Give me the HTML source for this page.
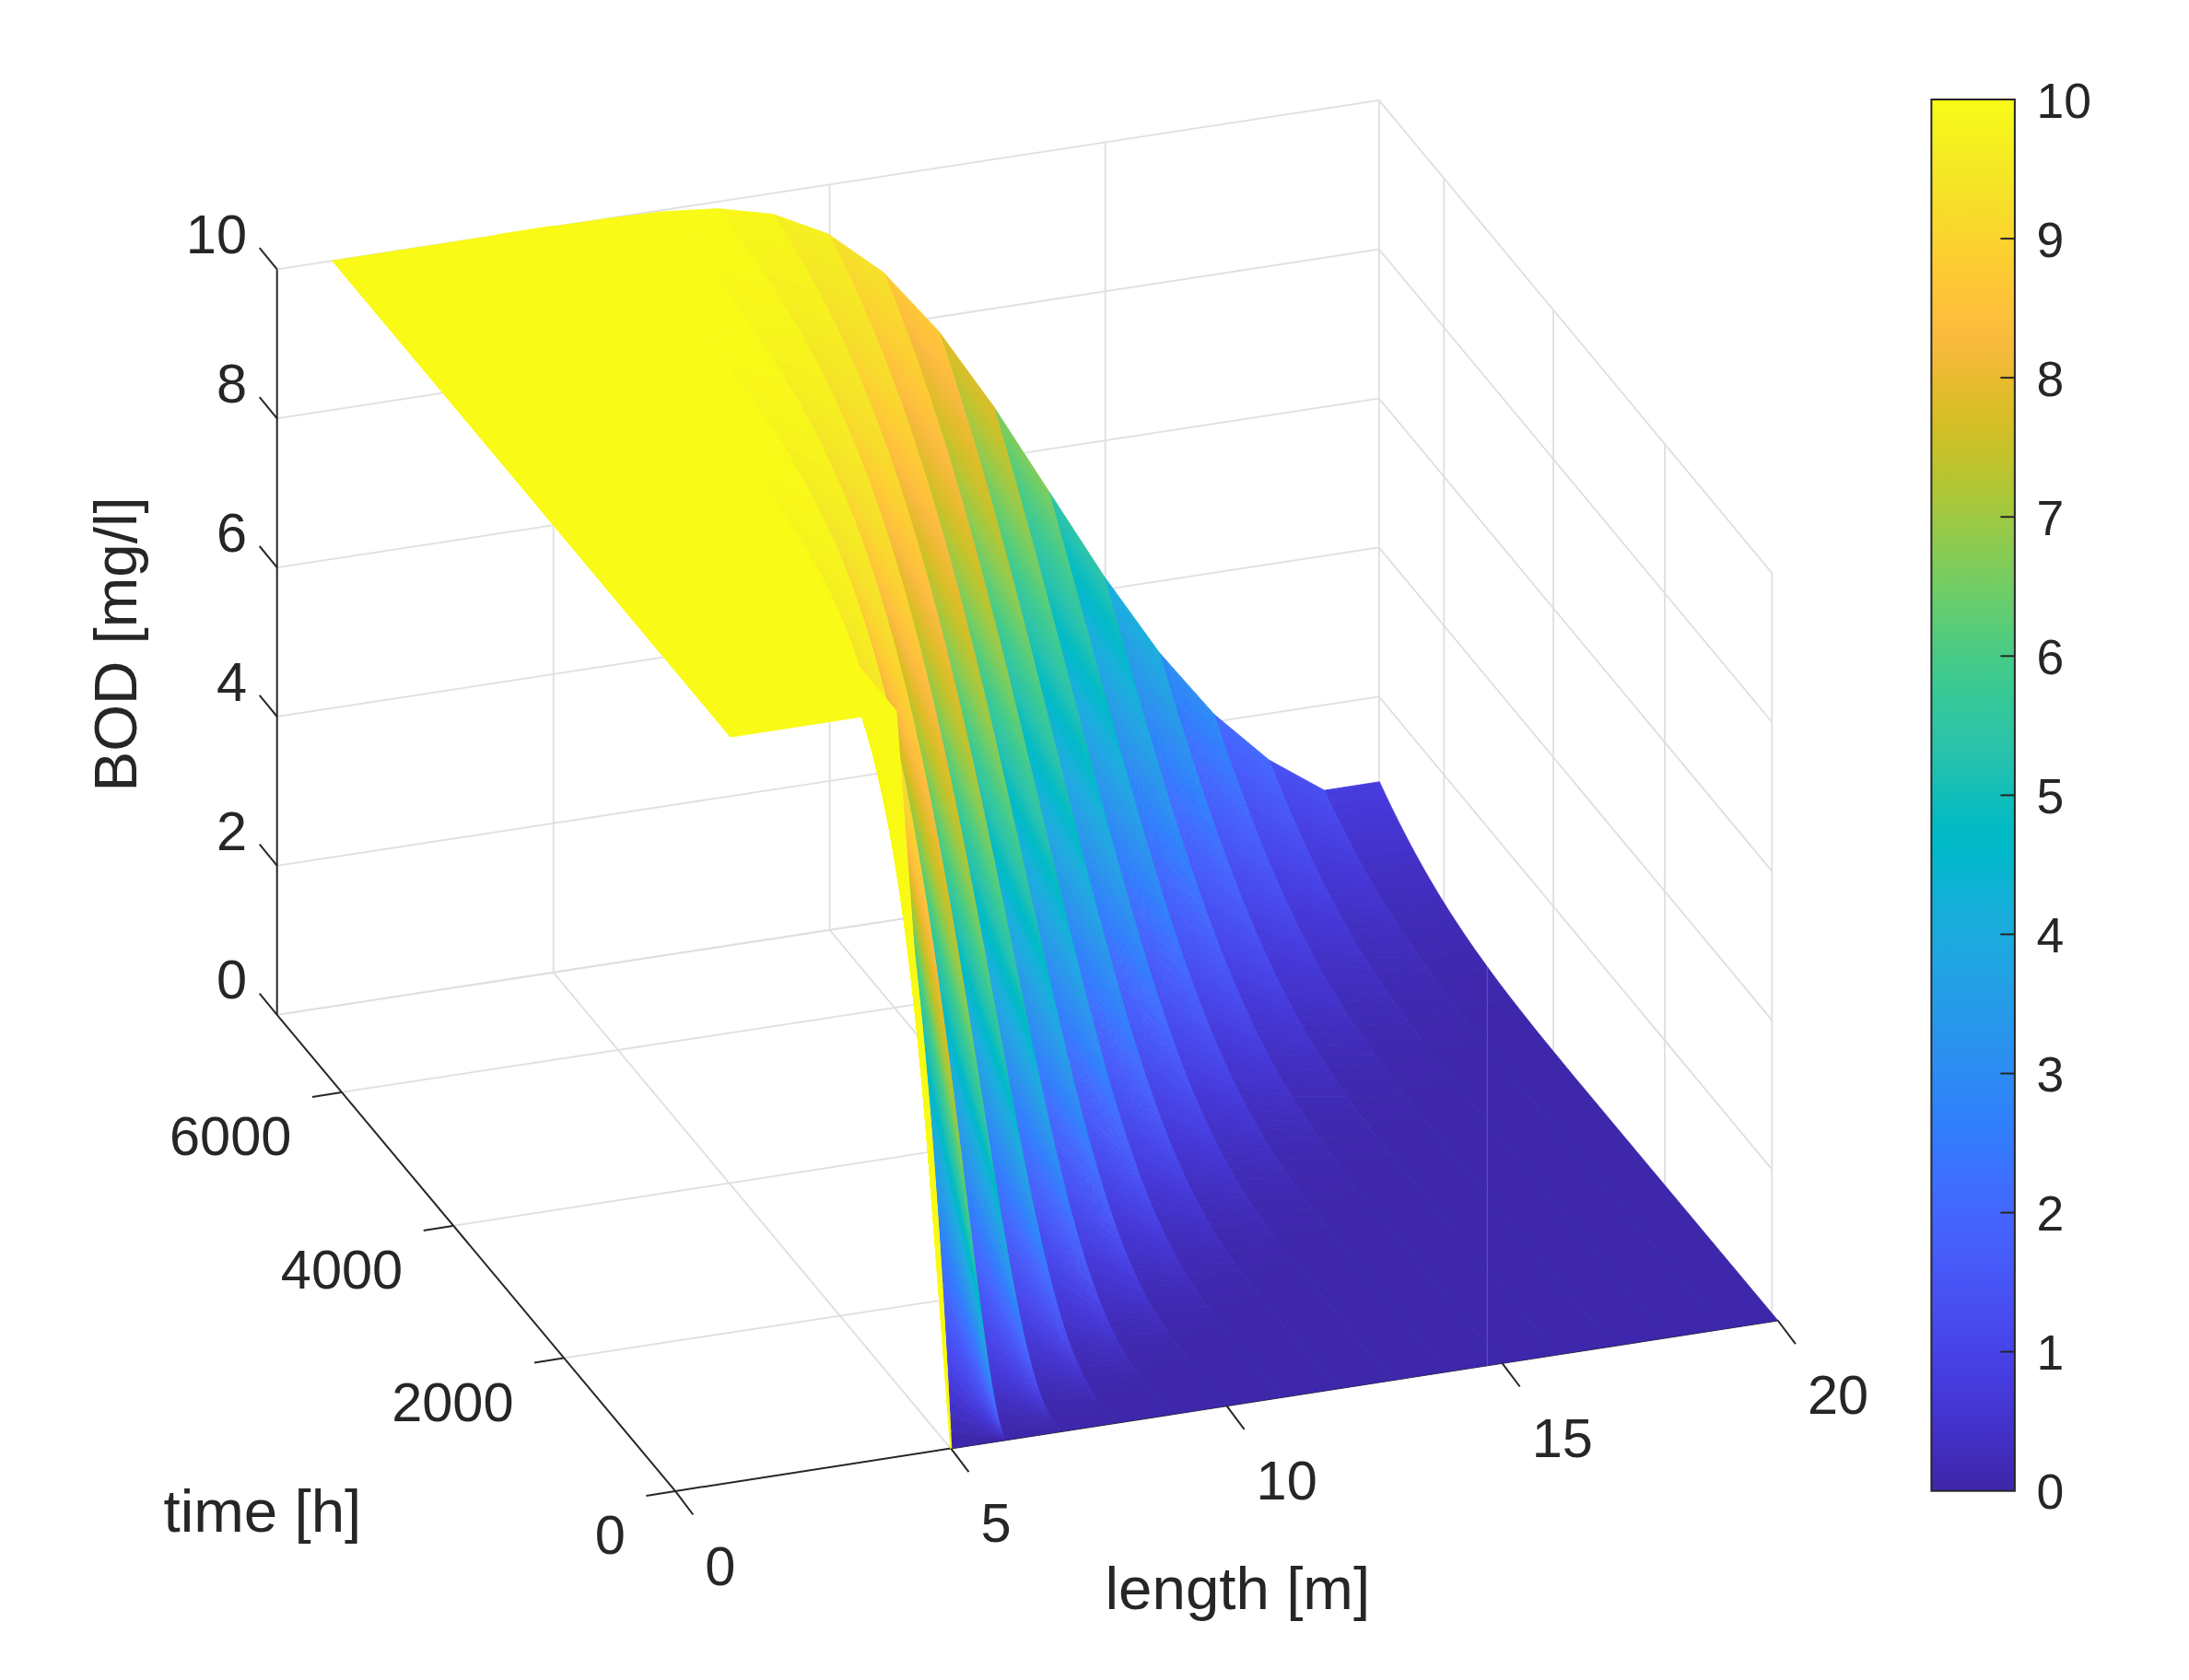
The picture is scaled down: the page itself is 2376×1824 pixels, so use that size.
<!DOCTYPE html>
<html><head><meta charset="utf-8"><title>BOD surface</title>
<style>
html,body{margin:0;padding:0;background:#fff;overflow:hidden;}
svg{display:block;}
text{font-family:"Liberation Sans",Arial,Helvetica,sans-serif;fill:#262626;}
</style></head><body>
<svg width="2376" height="1824" viewBox="0 0 2376 1824">
<rect width="2376" height="1824" fill="#fff"/>
<g stroke-linecap="butt"><line x1="1031.7" y1="1572.4" x2="600.7" y2="1055.8" stroke="#dfdfdf" stroke-width="1.8"/>
<line x1="1330.3" y1="1525.9" x2="900.6" y2="1009.7" stroke="#dfdfdf" stroke-width="1.8"/>
<line x1="1628.9" y1="1479.4" x2="1199.6" y2="963.8" stroke="#dfdfdf" stroke-width="1.8"/>
<line x1="1923.3" y1="1431.5" x2="1496.8" y2="918.2" stroke="#dfdfdf" stroke-width="1.8"/>
<line x1="611.6" y1="1474.5" x2="1807.0" y2="1291.5" stroke="#dfdfdf" stroke-width="1.8"/>
<line x1="491.3" y1="1331.0" x2="1686.0" y2="1145.9" stroke="#dfdfdf" stroke-width="1.8"/>
<line x1="370.5" y1="1185.9" x2="1567.3" y2="1003.0" stroke="#dfdfdf" stroke-width="1.8"/>
<line x1="300.7" y1="1101.8" x2="1496.8" y2="918.2" stroke="#dfdfdf" stroke-width="1.8"/>
<line x1="600.7" y1="246.4" x2="600.7" y2="1055.8" stroke="#dfdfdf" stroke-width="1.8"/>
<line x1="900.6" y1="200.3" x2="900.6" y2="1009.7" stroke="#dfdfdf" stroke-width="1.8"/>
<line x1="1199.6" y1="154.4" x2="1199.6" y2="963.8" stroke="#dfdfdf" stroke-width="1.8"/>
<line x1="1496.8" y1="108.8" x2="1496.8" y2="918.2" stroke="#dfdfdf" stroke-width="1.8"/>
<line x1="300.7" y1="292.4" x2="1496.8" y2="108.8" stroke="#dfdfdf" stroke-width="1.8"/>
<line x1="300.7" y1="454.3" x2="1496.8" y2="270.7" stroke="#dfdfdf" stroke-width="1.8"/>
<line x1="300.7" y1="616.2" x2="1496.8" y2="432.6" stroke="#dfdfdf" stroke-width="1.8"/>
<line x1="300.7" y1="778.0" x2="1496.8" y2="594.4" stroke="#dfdfdf" stroke-width="1.8"/>
<line x1="300.7" y1="939.9" x2="1496.8" y2="756.3" stroke="#dfdfdf" stroke-width="1.8"/>
<line x1="300.7" y1="1101.8" x2="1496.8" y2="918.2" stroke="#dfdfdf" stroke-width="1.8"/>
<line x1="1496.8" y1="108.8" x2="1923.3" y2="622.1" stroke="#dfdfdf" stroke-width="1.8"/>
<line x1="1496.8" y1="270.7" x2="1923.3" y2="784.0" stroke="#dfdfdf" stroke-width="1.8"/>
<line x1="1496.8" y1="432.6" x2="1923.3" y2="945.9" stroke="#dfdfdf" stroke-width="1.8"/>
<line x1="1496.8" y1="594.4" x2="1923.3" y2="1107.7" stroke="#dfdfdf" stroke-width="1.8"/>
<line x1="1496.8" y1="756.3" x2="1923.3" y2="1269.6" stroke="#dfdfdf" stroke-width="1.8"/>
<line x1="1496.8" y1="918.2" x2="1923.3" y2="1431.5" stroke="#dfdfdf" stroke-width="1.8"/>
<line x1="1567.3" y1="193.6" x2="1567.3" y2="1003.0" stroke="#dfdfdf" stroke-width="1.8"/>
<line x1="1686.0" y1="336.5" x2="1686.0" y2="1145.9" stroke="#dfdfdf" stroke-width="1.8"/>
<line x1="1807.0" y1="482.1" x2="1807.0" y2="1291.5" stroke="#dfdfdf" stroke-width="1.8"/>
<line x1="1923.3" y1="622.1" x2="1923.3" y2="1431.5" stroke="#dfdfdf" stroke-width="1.8"/></g>
<g><line x1="733.0" y1="1618.9" x2="1929.6" y2="1433.5" stroke="#262626" stroke-width="2.0"/>
<line x1="733.0" y1="1618.9" x2="300.7" y2="1101.8" stroke="#262626" stroke-width="2.0"/>
<line x1="300.7" y1="1101.8" x2="300.7" y2="292.4" stroke="#262626" stroke-width="2.0"/></g>
<g stroke-width="0.8" stroke-linejoin="round">
<polygon fill="#463de0" stroke="#463de0" points="1438.4,860.1 1437.5,858.1 1497.3,848.8 1498.2,850.8"/>
<polygon fill="#463cde" stroke="#463cde" points="1442.0,867.8 1438.4,860.1 1498.2,850.8 1501.8,858.5"/>
<polygon fill="#463bdc" stroke="#463bdc" points="1444.7,873.5 1442.0,867.8 1501.8,858.5 1504.5,864.3"/>
<polygon fill="#4639da" stroke="#4639da" points="1448.3,881.1 1444.7,873.5 1504.5,864.3 1508.1,871.8"/>
<polygon fill="#4538d8" stroke="#4538d8" points="1451.9,888.5 1448.3,881.1 1508.1,871.8 1511.7,879.2"/>
<polygon fill="#4537d6" stroke="#4537d6" points="1456.4,897.6 1451.9,888.5 1511.7,879.2 1516.2,888.3"/>
<polygon fill="#4536d3" stroke="#4536d3" points="1460.0,904.7 1456.4,897.6 1516.2,888.3 1519.8,895.5"/>
<polygon fill="#4435d1" stroke="#4435d1" points="1464.5,913.5 1460.0,904.7 1519.8,895.5 1524.3,904.3"/>
<polygon fill="#4434ce" stroke="#4434ce" points="1469.0,922.2 1464.5,913.5 1524.3,904.3 1528.8,912.9"/>
<polygon fill="#4433cc" stroke="#4433cc" points="1473.5,930.6 1469.0,922.2 1528.8,912.9 1533.3,921.4"/>
<polygon fill="#4332c9" stroke="#4332c9" points="1478.0,938.9 1473.5,930.6 1533.3,921.4 1537.8,929.6"/>
<polygon fill="#4331c6" stroke="#4331c6" points="1483.4,948.7 1478.0,938.9 1537.8,929.6 1543.2,939.4"/>
<polygon fill="#4230c3" stroke="#4230c3" points="1488.8,958.2 1483.4,948.7 1543.2,939.4 1548.6,948.9"/>
<polygon fill="#422fc1" stroke="#422fc1" points="1495.1,969.0 1488.8,958.2 1548.6,948.9 1554.9,959.7"/>
<polygon fill="#412ebe" stroke="#412ebe" points="1502.3,981.0 1495.1,969.0 1554.9,959.7 1562.1,971.8"/>
<polygon fill="#412dbb" stroke="#412dbb" points="1509.5,992.7 1502.3,981.0 1562.1,971.8 1569.3,983.4"/>
<polygon fill="#412cb8" stroke="#412cb8" points="1517.6,1005.5 1509.5,992.7 1569.3,983.4 1577.5,996.2"/>
<polygon fill="#402bb6" stroke="#402bb6" points="1527.5,1020.5 1517.6,1005.5 1577.5,996.2 1587.4,1011.3"/>
<polygon fill="#402ab3" stroke="#402ab3" points="1540.1,1039.0 1527.5,1020.5 1587.4,1011.3 1600.0,1029.7"/>
<polygon fill="#3f29b0" stroke="#3f29b0" points="1555.5,1060.4 1540.1,1039.0 1600.0,1029.7 1615.3,1051.1"/>
<polygon fill="#3f28ad" stroke="#3f28ad" points="1579.8,1092.7 1567.2,1076.2 1555.5,1060.4 1615.3,1051.1 1627.0,1066.9 1639.6,1083.4"/>
<polygon fill="#3e27aa" stroke="#3e27aa" points="1869.8,1442.8 1696.8,1235.9 1648.2,1177.5 1627.5,1152.4 1609.5,1130.3 1594.2,1111.1 1579.8,1092.7 1639.6,1083.4 1654.0,1101.8 1669.3,1121.0 1687.3,1143.1 1708.0,1168.2 1756.7,1226.6 1929.6,1433.5"/>
<polygon fill="#484ff2" stroke="#484ff2" points="1378.5,827.5 1377.6,825.2 1437.5,858.1 1438.4,860.1"/>
<polygon fill="#484ef1" stroke="#484ef1" points="1381.2,834.4 1378.5,827.5 1438.4,860.1 1441.1,865.9"/>
<polygon fill="#484df0" stroke="#484df0" points="1383.9,841.2 1381.2,834.4 1441.1,865.9 1443.8,871.6"/>
<polygon fill="#484bef" stroke="#484bef" points="1385.7,845.7 1383.9,841.2 1443.8,871.6 1445.6,875.4"/>
<polygon fill="#484aee" stroke="#484aee" points="1388.4,852.4 1385.7,845.7 1445.6,875.4 1448.3,881.1"/>
<polygon fill="#4848ec" stroke="#4848ec" points="1391.1,859.0 1388.4,852.4 1448.3,881.1 1451.0,886.6"/>
<polygon fill="#4747eb" stroke="#4747eb" points="1393.9,865.5 1391.1,859.0 1451.0,886.6 1453.7,892.1"/>
<polygon fill="#4746ea" stroke="#4746ea" points="1396.6,872.0 1393.9,865.5 1453.7,892.1 1456.4,897.6"/>
<polygon fill="#4744e8" stroke="#4744e8" points="1399.3,878.3 1396.6,872.0 1456.4,897.6 1459.1,903.0"/>
<polygon fill="#4743e7" stroke="#4743e7" points="1402.0,884.7 1399.3,878.3 1459.1,903.0 1461.8,908.3"/>
<polygon fill="#4741e5" stroke="#4741e5" points="1404.7,890.9 1402.0,884.7 1461.8,908.3 1464.5,913.5"/>
<polygon fill="#4740e4" stroke="#4740e4" points="1407.4,897.1 1404.7,890.9 1464.5,913.5 1467.2,918.7"/>
<polygon fill="#473fe2" stroke="#473fe2" points="1411.0,905.2 1407.4,897.1 1467.2,918.7 1470.8,925.6"/>
<polygon fill="#463de0" stroke="#463de0" points="1413.7,911.2 1411.0,905.2 1470.8,925.6 1473.5,930.6"/>
<polygon fill="#463cde" stroke="#463cde" points="1417.3,919.1 1413.7,911.2 1473.5,930.6 1477.1,937.3"/>
<polygon fill="#463bdc" stroke="#463bdc" points="1420.0,924.9 1417.3,919.1 1477.1,937.3 1479.8,942.2"/>
<polygon fill="#4639da" stroke="#4639da" points="1423.6,932.6 1420.0,924.9 1479.8,942.2 1483.4,948.7"/>
<polygon fill="#4538d8" stroke="#4538d8" points="1427.2,940.2 1423.6,932.6 1483.4,948.7 1487.0,955.0"/>
<polygon fill="#4537d6" stroke="#4537d6" points="1430.8,947.6 1427.2,940.2 1487.0,955.0 1490.6,961.3"/>
<polygon fill="#4536d3" stroke="#4536d3" points="1434.4,954.9 1430.8,947.6 1490.6,961.3 1494.2,967.5"/>
<polygon fill="#4435d1" stroke="#4435d1" points="1438.9,963.9 1434.4,954.9 1494.2,967.5 1498.7,975.1"/>
<polygon fill="#4434ce" stroke="#4434ce" points="1442.5,970.9 1438.9,963.9 1498.7,975.1 1502.3,981.0"/>
<polygon fill="#4433cc" stroke="#4433cc" points="1447.0,979.5 1442.5,970.9 1502.3,981.0 1506.8,988.4"/>
<polygon fill="#4332c9" stroke="#4332c9" points="1451.5,988.0 1447.0,979.5 1506.8,988.4 1511.3,995.6"/>
<polygon fill="#4331c6" stroke="#4331c6" points="1456.9,997.9 1451.5,988.0 1511.3,995.6 1516.7,1004.1"/>
<polygon fill="#4230c3" stroke="#4230c3" points="1462.3,1007.5 1456.9,997.9 1516.7,1004.1 1522.1,1012.4"/>
<polygon fill="#422fc1" stroke="#422fc1" points="1467.7,1016.9 1462.3,1007.5 1522.1,1012.4 1527.5,1020.5"/>
<polygon fill="#412ebe" stroke="#412ebe" points="1474.0,1027.7 1467.7,1016.9 1527.5,1020.5 1533.8,1029.9"/>
<polygon fill="#412dbb" stroke="#412dbb" points="1481.2,1039.5 1474.0,1027.7 1533.8,1029.9 1541.0,1040.3"/>
<polygon fill="#412cb8" stroke="#412cb8" points="1489.3,1052.5 1481.2,1039.5 1541.0,1040.3 1549.1,1051.7"/>
<polygon fill="#402bb6" stroke="#402bb6" points="1499.2,1067.7 1489.3,1052.5 1549.1,1051.7 1559.1,1065.3"/>
<polygon fill="#402ab3" stroke="#402ab3" points="1510.0,1083.6 1499.2,1067.7 1559.1,1065.3 1569.9,1079.8"/>
<polygon fill="#3f29b0" stroke="#3f29b0" points="1525.3,1105.2 1510.0,1083.6 1569.9,1079.8 1585.2,1099.7"/>
<polygon fill="#3f28ad" stroke="#3f28ad" points="1547.9,1135.3 1536.2,1119.9 1525.3,1105.2 1585.2,1099.7 1607.7,1128.0"/>
<polygon fill="#3e27aa" stroke="#3e27aa" points="1809.9,1452.0 1656.8,1268.9 1611.8,1214.8 1592.0,1190.7 1575.8,1170.8 1561.4,1152.7 1547.9,1135.3 1607.7,1128.0 1633.8,1160.1 1668.0,1201.4 1869.8,1442.8"/>
<polygon fill="#4369fe" stroke="#4369fe" points="1319.6,780.8 1317.8,775.5 1377.6,825.2 1379.4,829.8"/>
<polygon fill="#4367fd" stroke="#4367fd" points="1321.4,786.1 1319.6,780.8 1379.4,829.8 1381.2,834.4"/>
<polygon fill="#4466fd" stroke="#4466fd" points="1323.2,791.4 1321.4,786.1 1381.2,834.4 1383.0,838.9"/>
<polygon fill="#4464fd" stroke="#4464fd" points="1325.0,796.7 1323.2,791.4 1383.0,838.9 1384.8,843.4"/>
<polygon fill="#4563fc" stroke="#4563fc" points="1326.8,801.9 1325.0,796.7 1384.8,843.4 1386.6,847.9"/>
<polygon fill="#4561fc" stroke="#4561fc" points="1328.6,807.1 1326.8,801.9 1386.6,847.9 1388.4,852.4"/>
<polygon fill="#4660fc" stroke="#4660fc" points="1331.3,814.8 1328.6,807.1 1388.4,852.4 1391.1,859.0"/>
<polygon fill="#465ffb" stroke="#465ffb" points="1333.1,820.0 1331.3,814.8 1391.1,859.0 1393.0,863.3"/>
<polygon fill="#465dfb" stroke="#465dfb" points="1334.9,825.1 1333.1,820.0 1393.0,863.3 1394.8,867.7"/>
<polygon fill="#475cfa" stroke="#475cfa" points="1336.7,830.1 1334.9,825.1 1394.8,867.7 1396.6,872.0"/>
<polygon fill="#475af9" stroke="#475af9" points="1338.5,835.2 1336.7,830.1 1396.6,872.0 1398.4,876.2"/>
<polygon fill="#4759f8" stroke="#4759f8" points="1340.3,840.2 1338.5,835.2 1398.4,876.2 1400.2,880.5"/>
<polygon fill="#4758f8" stroke="#4758f8" points="1343.0,847.6 1340.3,840.2 1400.2,880.5 1402.9,886.8"/>
<polygon fill="#4756f7" stroke="#4756f7" points="1344.8,852.5 1343.0,847.6 1402.9,886.8 1404.7,890.9"/>
<polygon fill="#4755f6" stroke="#4755f6" points="1346.6,857.4 1344.8,852.5 1404.7,890.9 1406.5,895.0"/>
<polygon fill="#4854f5" stroke="#4854f5" points="1349.3,864.7 1346.6,857.4 1406.5,895.0 1409.2,901.2"/>
<polygon fill="#4852f4" stroke="#4852f4" points="1351.1,869.5 1349.3,864.7 1409.2,901.2 1411.0,905.2"/>
<polygon fill="#4851f3" stroke="#4851f3" points="1352.9,874.3 1351.1,869.5 1411.0,905.2 1412.8,909.2"/>
<polygon fill="#484ff2" stroke="#484ff2" points="1355.6,881.4 1352.9,874.3 1412.8,909.2 1415.5,915.2"/>
<polygon fill="#484ef1" stroke="#484ef1" points="1357.4,886.1 1355.6,881.4 1415.5,915.2 1417.3,919.1"/>
<polygon fill="#484df0" stroke="#484df0" points="1360.1,893.1 1357.4,886.1 1417.3,919.1 1420.0,924.9"/>
<polygon fill="#484bef" stroke="#484bef" points="1362.8,900.0 1360.1,893.1 1420.0,924.9 1422.7,930.7"/>
<polygon fill="#484aee" stroke="#484aee" points="1364.6,904.5 1362.8,900.0 1422.7,930.7 1424.5,934.5"/>
<polygon fill="#4848ec" stroke="#4848ec" points="1367.3,911.3 1364.6,904.5 1424.5,934.5 1427.2,940.2"/>
<polygon fill="#4747eb" stroke="#4747eb" points="1370.0,918.0 1367.3,911.3 1427.2,940.2 1429.9,945.8"/>
<polygon fill="#4746ea" stroke="#4746ea" points="1371.8,922.4 1370.0,918.0 1429.9,945.8 1431.7,949.4"/>
<polygon fill="#4744e8" stroke="#4744e8" points="1374.5,929.0 1371.8,922.4 1431.7,949.4 1434.4,954.9"/>
<polygon fill="#4743e7" stroke="#4743e7" points="1377.3,935.5 1374.5,929.0 1434.4,954.9 1437.1,960.3"/>
<polygon fill="#4741e5" stroke="#4741e5" points="1380.0,941.9 1377.3,935.5 1437.1,960.3 1439.8,965.6"/>
<polygon fill="#4740e4" stroke="#4740e4" points="1382.7,948.2 1380.0,941.9 1439.8,965.6 1442.5,970.9"/>
<polygon fill="#473fe2" stroke="#473fe2" points="1386.3,956.5 1382.7,948.2 1442.5,970.9 1446.1,977.8"/>
<polygon fill="#463de0" stroke="#463de0" points="1389.0,962.6 1386.3,956.5 1446.1,977.8 1448.8,982.9"/>
<polygon fill="#463cde" stroke="#463cde" points="1391.7,968.7 1389.0,962.6 1448.8,982.9 1451.5,988.0"/>
<polygon fill="#463bdc" stroke="#463bdc" points="1395.3,976.7 1391.7,968.7 1451.5,988.0 1455.1,994.6"/>
<polygon fill="#4639da" stroke="#4639da" points="1398.0,982.6 1395.3,976.7 1455.1,994.6 1457.8,999.5"/>
<polygon fill="#4538d8" stroke="#4538d8" points="1401.6,990.3 1398.0,982.6 1457.8,999.5 1461.4,1005.9"/>
<polygon fill="#4537d6" stroke="#4537d6" points="1405.2,997.9 1401.6,990.3 1461.4,1005.9 1465.0,1012.3"/>
<polygon fill="#4536d3" stroke="#4536d3" points="1408.8,1005.3 1405.2,997.9 1465.0,1012.3 1468.6,1018.5"/>
<polygon fill="#4435d1" stroke="#4435d1" points="1412.4,1012.7 1408.8,1005.3 1468.6,1018.5 1472.2,1024.6"/>
<polygon fill="#4434ce" stroke="#4434ce" points="1416.0,1019.8 1412.4,1012.7 1472.2,1024.6 1475.8,1030.7"/>
<polygon fill="#4433cc" stroke="#4433cc" points="1420.5,1028.6 1416.0,1019.8 1475.8,1030.7 1480.3,1038.1"/>
<polygon fill="#4332c9" stroke="#4332c9" points="1425.0,1037.3 1420.5,1028.6 1480.3,1038.1 1484.8,1045.3"/>
<polygon fill="#4331c6" stroke="#4331c6" points="1429.5,1045.7 1425.0,1037.3 1484.8,1045.3 1489.3,1052.5"/>
<polygon fill="#4230c3" stroke="#4230c3" points="1434.9,1055.5 1429.5,1045.7 1489.3,1052.5 1494.7,1060.8"/>
<polygon fill="#422fc1" stroke="#422fc1" points="1440.3,1065.1 1434.9,1055.5 1494.7,1060.8 1500.1,1069.0"/>
<polygon fill="#412ebe" stroke="#412ebe" points="1446.6,1076.0 1440.3,1065.1 1500.1,1069.0 1506.4,1078.4"/>
<polygon fill="#412dbb" stroke="#412dbb" points="1452.9,1086.5 1446.6,1076.0 1506.4,1078.4 1512.7,1087.5"/>
<polygon fill="#412cb8" stroke="#412cb8" points="1461.0,1099.6 1452.9,1086.5 1512.7,1087.5 1520.8,1099.0"/>
<polygon fill="#402bb6" stroke="#402bb6" points="1470.0,1113.6 1461.0,1099.6 1520.8,1099.0 1529.8,1111.4"/>
<polygon fill="#402ab3" stroke="#402ab3" points="1480.8,1129.7 1470.0,1113.6 1529.8,1111.4 1540.7,1125.9"/>
<polygon fill="#3f29b0" stroke="#3f29b0" points="1494.3,1148.9 1480.8,1129.7 1540.7,1125.9 1554.2,1143.5"/>
<polygon fill="#3f28ad" stroke="#3f28ad" points="1515.9,1178.0 1505.1,1163.7 1494.3,1148.9 1554.2,1143.5 1575.8,1170.8"/>
<polygon fill="#3e27aa" stroke="#3e27aa" points="1750.1,1461.3 1615.0,1299.7 1574.5,1251.0 1556.5,1229.1 1541.2,1210.2 1527.7,1193.1 1515.9,1178.0 1575.8,1170.8 1599.2,1199.5 1630.7,1237.6 1809.9,1452.0"/>
<polygon fill="#2d8df2" stroke="#2d8df2" points="1258.9,711.0 1258.0,708.1 1317.8,775.5 1318.7,778.2"/>
<polygon fill="#2d8bf3" stroke="#2d8bf3" points="1259.8,714.0 1258.9,711.0 1318.7,778.2 1319.6,780.8"/>
<polygon fill="#2d8af4" stroke="#2d8af4" points="1261.6,720.0 1259.8,714.0 1319.6,780.8 1321.4,786.1"/>
<polygon fill="#2d89f6" stroke="#2d89f6" points="1263.4,725.9 1261.6,720.0 1321.4,786.1 1323.2,791.4"/>
<polygon fill="#2d87f7" stroke="#2d87f7" points="1264.3,728.9 1263.4,725.9 1323.2,791.4 1324.1,794.1"/>
<polygon fill="#2e86f7" stroke="#2e86f7" points="1266.1,734.8 1264.3,728.9 1324.1,794.1 1325.9,799.3"/>
<polygon fill="#2e85f8" stroke="#2e85f8" points="1267.9,740.7 1266.1,734.8 1325.9,799.3 1327.7,804.5"/>
<polygon fill="#2e83f9" stroke="#2e83f9" points="1268.8,743.7 1267.9,740.7 1327.7,804.5 1328.6,807.1"/>
<polygon fill="#2f82fa" stroke="#2f82fa" points="1270.6,749.6 1268.8,743.7 1328.6,807.1 1330.4,812.3"/>
<polygon fill="#2f81fa" stroke="#2f81fa" points="1272.4,755.4 1270.6,749.6 1330.4,812.3 1332.2,817.4"/>
<polygon fill="#307ffb" stroke="#307ffb" points="1273.3,758.3 1272.4,755.4 1332.2,817.4 1333.1,820.0"/>
<polygon fill="#317efb" stroke="#317efb" points="1275.1,764.1 1273.3,758.3 1333.1,820.0 1334.9,825.1"/>
<polygon fill="#327cfc" stroke="#327cfc" points="1276.9,769.9 1275.1,764.1 1334.9,825.1 1336.7,830.1"/>
<polygon fill="#337bfd" stroke="#337bfd" points="1278.7,775.7 1276.9,769.9 1336.7,830.1 1338.5,835.2"/>
<polygon fill="#3479fd" stroke="#3479fd" points="1279.6,778.6 1278.7,775.7 1338.5,835.2 1339.4,837.7"/>
<polygon fill="#3678fe" stroke="#3678fe" points="1281.4,784.3 1279.6,778.6 1339.4,837.7 1341.2,842.7"/>
<polygon fill="#3776fe" stroke="#3776fe" points="1283.2,790.1 1281.4,784.3 1341.2,842.7 1343.0,847.6"/>
<polygon fill="#3975fe" stroke="#3975fe" points="1285.0,795.7 1283.2,790.1 1343.0,847.6 1344.8,852.5"/>
<polygon fill="#3a73fe" stroke="#3a73fe" points="1286.8,801.4 1285.0,795.7 1344.8,852.5 1346.6,857.4"/>
<polygon fill="#3c72ff" stroke="#3c72ff" points="1287.7,804.2 1286.8,801.4 1346.6,857.4 1347.5,859.9"/>
<polygon fill="#3d70ff" stroke="#3d70ff" points="1289.5,809.9 1287.7,804.2 1347.5,859.9 1349.3,864.7"/>
<polygon fill="#3f6fff" stroke="#3f6fff" points="1291.3,815.5 1289.5,809.9 1349.3,864.7 1351.1,869.5"/>
<polygon fill="#406dfe" stroke="#406dfe" points="1293.1,821.0 1291.3,815.5 1351.1,869.5 1352.9,874.3"/>
<polygon fill="#416cfe" stroke="#416cfe" points="1294.9,826.6 1293.1,821.0 1352.9,874.3 1354.7,879.0"/>
<polygon fill="#426afe" stroke="#426afe" points="1296.7,832.1 1294.9,826.6 1354.7,879.0 1356.5,883.7"/>
<polygon fill="#4369fe" stroke="#4369fe" points="1297.6,834.8 1296.7,832.1 1356.5,883.7 1357.4,886.1"/>
<polygon fill="#4367fd" stroke="#4367fd" points="1299.4,840.3 1297.6,834.8 1357.4,886.1 1359.2,890.7"/>
<polygon fill="#4466fd" stroke="#4466fd" points="1301.2,845.7 1299.4,840.3 1359.2,890.7 1361.0,895.4"/>
<polygon fill="#4464fd" stroke="#4464fd" points="1303.0,851.2 1301.2,845.7 1361.0,895.4 1362.8,900.0"/>
<polygon fill="#4563fc" stroke="#4563fc" points="1304.8,856.5 1303.0,851.2 1362.8,900.0 1364.6,904.5"/>
<polygon fill="#4561fc" stroke="#4561fc" points="1306.6,861.9 1304.8,856.5 1364.6,904.5 1366.4,909.0"/>
<polygon fill="#4660fc" stroke="#4660fc" points="1308.4,867.2 1306.6,861.9 1366.4,909.0 1368.2,913.5"/>
<polygon fill="#465ffb" stroke="#465ffb" points="1310.2,872.5 1308.4,867.2 1368.2,913.5 1370.0,918.0"/>
<polygon fill="#465dfb" stroke="#465dfb" points="1312.0,877.7 1310.2,872.5 1370.0,918.0 1371.8,922.4"/>
<polygon fill="#475cfa" stroke="#475cfa" points="1313.8,883.0 1312.0,877.7 1371.8,922.4 1373.6,926.8"/>
<polygon fill="#475af9" stroke="#475af9" points="1315.6,888.1 1313.8,883.0 1373.6,926.8 1375.5,931.1"/>
<polygon fill="#4759f8" stroke="#4759f8" points="1318.3,895.9 1315.6,888.1 1375.5,931.1 1378.2,937.6"/>
<polygon fill="#4758f8" stroke="#4758f8" points="1320.1,901.0 1318.3,895.9 1378.2,937.6 1380.0,941.9"/>
<polygon fill="#4756f7" stroke="#4756f7" points="1321.9,906.0 1320.1,901.0 1380.0,941.9 1381.8,946.1"/>
<polygon fill="#4755f6" stroke="#4755f6" points="1323.7,911.1 1321.9,906.0 1381.8,946.1 1383.6,950.3"/>
<polygon fill="#4854f5" stroke="#4854f5" points="1325.5,916.1 1323.7,911.1 1383.6,950.3 1385.4,954.4"/>
<polygon fill="#4852f4" stroke="#4852f4" points="1328.2,923.5 1325.5,916.1 1385.4,954.4 1388.1,960.6"/>
<polygon fill="#4851f3" stroke="#4851f3" points="1330.0,928.4 1328.2,923.5 1388.1,960.6 1389.9,964.7"/>
<polygon fill="#484ff2" stroke="#484ff2" points="1331.8,933.3 1330.0,928.4 1389.9,964.7 1391.7,968.7"/>
<polygon fill="#484ef1" stroke="#484ef1" points="1334.5,940.5 1331.8,933.3 1391.7,968.7 1394.4,974.7"/>
<polygon fill="#484df0" stroke="#484df0" points="1336.3,945.3 1334.5,940.5 1394.4,974.7 1396.2,978.6"/>
<polygon fill="#484bef" stroke="#484bef" points="1339.0,952.4 1336.3,945.3 1396.2,978.6 1398.9,984.5"/>
<polygon fill="#484aee" stroke="#484aee" points="1340.8,957.1 1339.0,952.4 1398.9,984.5 1400.7,988.4"/>
<polygon fill="#4848ec" stroke="#4848ec" points="1343.5,964.0 1340.8,957.1 1400.7,988.4 1403.4,994.1"/>
<polygon fill="#4747eb" stroke="#4747eb" points="1345.3,968.6 1343.5,964.0 1403.4,994.1 1405.2,997.9"/>
<polygon fill="#4746ea" stroke="#4746ea" points="1348.0,975.4 1345.3,968.6 1405.2,997.9 1407.9,1003.5"/>
<polygon fill="#4744e8" stroke="#4744e8" points="1350.7,982.1 1348.0,975.4 1407.9,1003.5 1410.6,1009.0"/>
<polygon fill="#4743e7" stroke="#4743e7" points="1352.5,986.6 1350.7,982.1 1410.6,1009.0 1412.4,1012.7"/>
<polygon fill="#4741e5" stroke="#4741e5" points="1355.2,993.2 1352.5,986.6 1412.4,1012.7 1415.1,1018.1"/>
<polygon fill="#4740e4" stroke="#4740e4" points="1357.9,999.7 1355.2,993.2 1415.1,1018.1 1417.8,1023.4"/>
<polygon fill="#473fe2" stroke="#473fe2" points="1360.7,1006.1 1357.9,999.7 1417.8,1023.4 1420.5,1028.6"/>
<polygon fill="#463de0" stroke="#463de0" points="1363.4,1012.4 1360.7,1006.1 1420.5,1028.6 1423.2,1033.8"/>
<polygon fill="#463cde" stroke="#463cde" points="1366.1,1018.6 1363.4,1012.4 1423.2,1033.8 1425.9,1039.0"/>
<polygon fill="#463bdc" stroke="#463bdc" points="1369.7,1026.8 1366.1,1018.6 1425.9,1039.0 1429.5,1045.7"/>
<polygon fill="#4639da" stroke="#4639da" points="1372.4,1032.8 1369.7,1026.8 1429.5,1045.7 1432.2,1050.6"/>
<polygon fill="#4538d8" stroke="#4538d8" points="1376.0,1040.7 1372.4,1032.8 1432.2,1050.6 1435.8,1057.1"/>
<polygon fill="#4537d6" stroke="#4537d6" points="1378.7,1046.6 1376.0,1040.7 1435.8,1057.1 1438.5,1061.9"/>
<polygon fill="#4536d3" stroke="#4536d3" points="1382.3,1054.2 1378.7,1046.6 1438.5,1061.9 1442.1,1068.2"/>
<polygon fill="#4435d1" stroke="#4435d1" points="1385.9,1061.7 1382.3,1054.2 1442.1,1068.2 1445.7,1074.4"/>
<polygon fill="#4434ce" stroke="#4434ce" points="1389.5,1069.1 1385.9,1061.7 1445.7,1074.4 1449.3,1080.5"/>
<polygon fill="#4433cc" stroke="#4433cc" points="1394.0,1078.1 1389.5,1069.1 1449.3,1080.5 1453.8,1088.0"/>
<polygon fill="#4332c9" stroke="#4332c9" points="1397.6,1085.1 1394.0,1078.1 1453.8,1088.0 1457.4,1093.8"/>
<polygon fill="#4331c6" stroke="#4331c6" points="1402.1,1093.7 1397.6,1085.1 1457.4,1093.8 1461.9,1101.0"/>
<polygon fill="#4230c3" stroke="#4230c3" points="1407.5,1103.8 1402.1,1093.7 1461.9,1101.0 1467.3,1109.5"/>
<polygon fill="#422fc1" stroke="#422fc1" points="1412.0,1111.9 1407.5,1103.8 1467.3,1109.5 1471.8,1116.3"/>
<polygon fill="#412ebe" stroke="#412ebe" points="1418.3,1123.0 1412.0,1111.9 1471.8,1116.3 1478.1,1125.8"/>
<polygon fill="#412dbb" stroke="#412dbb" points="1424.6,1133.7 1418.3,1123.0 1478.1,1125.8 1484.4,1134.9"/>
<polygon fill="#412cb8" stroke="#412cb8" points="1431.8,1145.5 1424.6,1133.7 1484.4,1134.9 1491.6,1145.2"/>
<polygon fill="#402bb6" stroke="#402bb6" points="1439.9,1158.3 1431.8,1145.5 1491.6,1145.2 1499.7,1156.4"/>
<polygon fill="#402ab3" stroke="#402ab3" points="1449.8,1173.3 1439.9,1158.3 1499.7,1156.4 1509.6,1169.7"/>
<polygon fill="#3f29b0" stroke="#3f29b0" points="1463.3,1192.8 1449.8,1173.3 1509.6,1169.7 1523.2,1187.4"/>
<polygon fill="#3f28ad" stroke="#3f28ad" points="1483.1,1219.6 1473.2,1206.4 1463.3,1192.8 1523.2,1187.4 1543.0,1212.4"/>
<polygon fill="#3e27aa" stroke="#3e27aa" points="1690.3,1470.6 1573.2,1330.5 1536.3,1286.1 1520.1,1266.3 1506.6,1249.6 1493.9,1233.6 1483.1,1219.6 1543.0,1212.4 1564.6,1239.0 1593.4,1273.8 1750.1,1461.3"/>
<polygon fill="#17aeda" stroke="#17aeda" points="1199.1,628.4 1198.1,625.3 1258.0,708.1 1258.9,711.0"/>
<polygon fill="#18addb" stroke="#18addb" points="1200.0,631.6 1199.1,628.4 1258.9,711.0 1259.8,714.0"/>
<polygon fill="#19acdc" stroke="#19acdc" points="1201.8,638.0 1200.0,631.6 1259.8,714.0 1261.6,720.0"/>
<polygon fill="#1aabdd" stroke="#1aabdd" points="1202.7,641.2 1201.8,638.0 1261.6,720.0 1262.5,723.0"/>
<polygon fill="#1baadf" stroke="#1baadf" points="1204.5,647.6 1202.7,641.2 1262.5,723.0 1264.3,728.9"/>
<polygon fill="#1ca9e0" stroke="#1ca9e0" points="1205.4,650.8 1204.5,647.6 1264.3,728.9 1265.2,731.9"/>
<polygon fill="#1da8e0" stroke="#1da8e0" points="1207.2,657.1 1205.4,650.8 1265.2,731.9 1267.0,737.8"/>
<polygon fill="#1ea7e1" stroke="#1ea7e1" points="1208.1,660.3 1207.2,657.1 1267.0,737.8 1267.9,740.7"/>
<polygon fill="#1fa6e2" stroke="#1fa6e2" points="1209.9,666.7 1208.1,660.3 1267.9,740.7 1269.7,746.6"/>
<polygon fill="#20a5e3" stroke="#20a5e3" points="1210.8,669.8 1209.9,666.7 1269.7,746.6 1270.6,749.6"/>
<polygon fill="#21a4e3" stroke="#21a4e3" points="1212.6,676.2 1210.8,669.8 1270.6,749.6 1272.4,755.4"/>
<polygon fill="#22a2e4" stroke="#22a2e4" points="1213.5,679.4 1212.6,676.2 1272.4,755.4 1273.3,758.3"/>
<polygon fill="#22a1e4" stroke="#22a1e4" points="1215.3,685.7 1213.5,679.4 1273.3,758.3 1275.1,764.1"/>
<polygon fill="#23a0e5" stroke="#23a0e5" points="1216.2,688.9 1215.3,685.7 1275.1,764.1 1276.0,767.0"/>
<polygon fill="#249fe5" stroke="#249fe5" points="1218.0,695.2 1216.2,688.9 1276.0,767.0 1277.8,772.8"/>
<polygon fill="#249ee6" stroke="#249ee6" points="1218.9,698.4 1218.0,695.2 1277.8,772.8 1278.7,775.7"/>
<polygon fill="#259de7" stroke="#259de7" points="1220.7,704.7 1218.9,698.4 1278.7,775.7 1280.5,781.5"/>
<polygon fill="#259be7" stroke="#259be7" points="1221.6,707.8 1220.7,704.7 1280.5,781.5 1281.4,784.3"/>
<polygon fill="#269ae8" stroke="#269ae8" points="1223.4,714.2 1221.6,707.8 1281.4,784.3 1283.2,790.1"/>
<polygon fill="#2699e9" stroke="#2699e9" points="1224.3,717.3 1223.4,714.2 1283.2,790.1 1284.1,792.9"/>
<polygon fill="#2798ea" stroke="#2798ea" points="1226.1,723.6 1224.3,717.3 1284.1,792.9 1285.9,798.6"/>
<polygon fill="#2797eb" stroke="#2797eb" points="1227.0,726.7 1226.1,723.6 1285.9,798.6 1286.8,801.4"/>
<polygon fill="#2895ec" stroke="#2895ec" points="1228.8,733.0 1227.0,726.7 1286.8,801.4 1288.6,807.0"/>
<polygon fill="#2994ed" stroke="#2994ed" points="1229.7,736.1 1228.8,733.0 1288.6,807.0 1289.5,809.9"/>
<polygon fill="#2a93ee" stroke="#2a93ee" points="1231.5,742.4 1229.7,736.1 1289.5,809.9 1291.3,815.5"/>
<polygon fill="#2b92ee" stroke="#2b92ee" points="1233.3,748.6 1231.5,742.4 1291.3,815.5 1293.1,821.0"/>
<polygon fill="#2b90ef" stroke="#2b90ef" points="1234.2,751.7 1233.3,748.6 1293.1,821.0 1294.0,823.8"/>
<polygon fill="#2c8ff0" stroke="#2c8ff0" points="1236.0,757.9 1234.2,751.7 1294.0,823.8 1295.8,829.3"/>
<polygon fill="#2c8ef1" stroke="#2c8ef1" points="1236.9,761.0 1236.0,757.9 1295.8,829.3 1296.7,832.1"/>
<polygon fill="#2d8df2" stroke="#2d8df2" points="1238.7,767.2 1236.9,761.0 1296.7,832.1 1298.5,837.6"/>
<polygon fill="#2d8bf3" stroke="#2d8bf3" points="1239.6,770.3 1238.7,767.2 1298.5,837.6 1299.4,840.3"/>
<polygon fill="#2d8af4" stroke="#2d8af4" points="1241.4,776.5 1239.6,770.3 1299.4,840.3 1301.2,845.7"/>
<polygon fill="#2d89f6" stroke="#2d89f6" points="1243.2,782.6 1241.4,776.5 1301.2,845.7 1303.0,851.2"/>
<polygon fill="#2d87f7" stroke="#2d87f7" points="1244.1,785.7 1243.2,782.6 1303.0,851.2 1303.9,853.9"/>
<polygon fill="#2e86f7" stroke="#2e86f7" points="1245.9,791.8 1244.1,785.7 1303.9,853.9 1305.7,859.2"/>
<polygon fill="#2e85f8" stroke="#2e85f8" points="1246.8,794.9 1245.9,791.8 1305.7,859.2 1306.6,861.9"/>
<polygon fill="#2e83f9" stroke="#2e83f9" points="1248.6,800.9 1246.8,794.9 1306.6,861.9 1308.4,867.2"/>
<polygon fill="#2f82fa" stroke="#2f82fa" points="1250.4,807.0 1248.6,800.9 1308.4,867.2 1310.2,872.5"/>
<polygon fill="#2f81fa" stroke="#2f81fa" points="1251.3,810.0 1250.4,807.0 1310.2,872.5 1311.1,875.1"/>
<polygon fill="#307ffb" stroke="#307ffb" points="1253.1,816.1 1251.3,810.0 1311.1,875.1 1312.9,880.4"/>
<polygon fill="#317efb" stroke="#317efb" points="1254.0,819.1 1253.1,816.1 1312.9,880.4 1313.8,883.0"/>
<polygon fill="#327cfc" stroke="#327cfc" points="1255.8,825.1 1254.0,819.1 1313.8,883.0 1315.6,888.1"/>
<polygon fill="#337bfd" stroke="#337bfd" points="1257.6,831.0 1255.8,825.1 1315.6,888.1 1317.4,893.3"/>
<polygon fill="#3479fd" stroke="#3479fd" points="1258.5,834.0 1257.6,831.0 1317.4,893.3 1318.3,895.9"/>
<polygon fill="#3678fe" stroke="#3678fe" points="1260.3,839.9 1258.5,834.0 1318.3,895.9 1320.1,901.0"/>
<polygon fill="#3776fe" stroke="#3776fe" points="1262.1,845.8 1260.3,839.9 1320.1,901.0 1321.9,906.0"/>
<polygon fill="#3975fe" stroke="#3975fe" points="1263.0,848.8 1262.1,845.8 1321.9,906.0 1322.8,908.6"/>
<polygon fill="#3a73fe" stroke="#3a73fe" points="1264.8,854.6 1263.0,848.8 1322.8,908.6 1324.6,913.6"/>
<polygon fill="#3c72ff" stroke="#3c72ff" points="1266.6,860.5 1264.8,854.6 1324.6,913.6 1326.4,918.5"/>
<polygon fill="#3d70ff" stroke="#3d70ff" points="1268.4,866.3 1266.6,860.5 1326.4,918.5 1328.2,923.5"/>
<polygon fill="#3f6fff" stroke="#3f6fff" points="1269.3,869.2 1268.4,866.3 1328.2,923.5 1329.1,925.9"/>
<polygon fill="#406dfe" stroke="#406dfe" points="1271.1,874.9 1269.3,869.2 1329.1,925.9 1330.9,930.8"/>
<polygon fill="#416cfe" stroke="#416cfe" points="1272.9,880.7 1271.1,874.9 1330.9,930.8 1332.7,935.7"/>
<polygon fill="#426afe" stroke="#426afe" points="1274.7,886.4 1272.9,880.7 1332.7,935.7 1334.5,940.5"/>
<polygon fill="#4369fe" stroke="#4369fe" points="1276.5,892.0 1274.7,886.4 1334.5,940.5 1336.3,945.3"/>
<polygon fill="#4367fd" stroke="#4367fd" points="1277.4,894.9 1276.5,892.0 1336.3,945.3 1337.2,947.6"/>
<polygon fill="#4466fd" stroke="#4466fd" points="1279.2,900.5 1277.4,894.9 1337.2,947.6 1339.0,952.4"/>
<polygon fill="#4464fd" stroke="#4464fd" points="1281.0,906.1 1279.2,900.5 1339.0,952.4 1340.8,957.1"/>
<polygon fill="#4563fc" stroke="#4563fc" points="1282.8,911.6 1281.0,906.1 1340.8,957.1 1342.6,961.7"/>
<polygon fill="#4561fc" stroke="#4561fc" points="1284.6,917.1 1282.8,911.6 1342.6,961.7 1344.4,966.3"/>
<polygon fill="#4660fc" stroke="#4660fc" points="1286.4,922.6 1284.6,917.1 1344.4,966.3 1346.2,970.9"/>
<polygon fill="#465ffb" stroke="#465ffb" points="1288.2,928.1 1286.4,922.6 1346.2,970.9 1348.0,975.4"/>
<polygon fill="#465dfb" stroke="#465dfb" points="1290.0,933.5 1288.2,928.1 1348.0,975.4 1349.8,979.9"/>
<polygon fill="#475cfa" stroke="#475cfa" points="1290.9,936.2 1290.0,933.5 1349.8,979.9 1350.7,982.1"/>
<polygon fill="#475af9" stroke="#475af9" points="1292.7,941.5 1290.9,936.2 1350.7,982.1 1352.5,986.6"/>
<polygon fill="#4759f8" stroke="#4759f8" points="1294.5,946.9 1292.7,941.5 1352.5,986.6 1354.3,991.0"/>
<polygon fill="#4758f8" stroke="#4758f8" points="1297.2,954.8 1294.5,946.9 1354.3,991.0 1357.0,997.5"/>
<polygon fill="#4756f7" stroke="#4756f7" points="1299.0,960.0 1297.2,954.8 1357.0,997.5 1358.8,1001.8"/>
<polygon fill="#4755f6" stroke="#4755f6" points="1300.8,965.2 1299.0,960.0 1358.8,1001.8 1360.7,1006.1"/>
<polygon fill="#4854f5" stroke="#4854f5" points="1302.6,970.3 1300.8,965.2 1360.7,1006.1 1362.5,1010.3"/>
<polygon fill="#4852f4" stroke="#4852f4" points="1304.4,975.5 1302.6,970.3 1362.5,1010.3 1364.3,1014.5"/>
<polygon fill="#4851f3" stroke="#4851f3" points="1306.2,980.5 1304.4,975.5 1364.3,1014.5 1366.1,1018.6"/>
<polygon fill="#484ff2" stroke="#484ff2" points="1308.0,985.5 1306.2,980.5 1366.1,1018.6 1367.9,1022.7"/>
<polygon fill="#484ef1" stroke="#484ef1" points="1310.7,993.0 1308.0,985.5 1367.9,1022.7 1370.6,1028.8"/>
<polygon fill="#484df0" stroke="#484df0" points="1312.5,997.9 1310.7,993.0 1370.6,1028.8 1372.4,1032.8"/>
<polygon fill="#484bef" stroke="#484bef" points="1314.3,1002.8 1312.5,997.9 1372.4,1032.8 1374.2,1036.8"/>
<polygon fill="#484aee" stroke="#484aee" points="1317.0,1010.1 1314.3,1002.8 1374.2,1036.8 1376.9,1042.7"/>
<polygon fill="#4848ec" stroke="#4848ec" points="1318.8,1014.9 1317.0,1010.1 1376.9,1042.7 1378.7,1046.6"/>
<polygon fill="#4747eb" stroke="#4747eb" points="1320.6,1019.6 1318.8,1014.9 1378.7,1046.6 1380.5,1050.4"/>
<polygon fill="#4746ea" stroke="#4746ea" points="1323.3,1026.6 1320.6,1019.6 1380.5,1050.4 1383.2,1056.1"/>
<polygon fill="#4744e8" stroke="#4744e8" points="1325.1,1031.3 1323.3,1026.6 1383.2,1056.1 1385.0,1059.9"/>
<polygon fill="#4743e7" stroke="#4743e7" points="1327.8,1038.1 1325.1,1031.3 1385.0,1059.9 1387.7,1065.4"/>
<polygon fill="#4741e5" stroke="#4741e5" points="1330.5,1044.9 1327.8,1038.1 1387.7,1065.4 1390.4,1070.9"/>
<polygon fill="#4740e4" stroke="#4740e4" points="1333.2,1051.6 1330.5,1044.9 1390.4,1070.9 1393.1,1076.3"/>
<polygon fill="#473fe2" stroke="#473fe2" points="1335.0,1056.0 1333.2,1051.6 1393.1,1076.3 1394.9,1079.9"/>
<polygon fill="#463de0" stroke="#463de0" points="1337.7,1062.5 1335.0,1056.0 1394.9,1079.9 1397.6,1085.1"/>
<polygon fill="#463cde" stroke="#463cde" points="1340.4,1068.9 1337.7,1062.5 1397.6,1085.1 1400.3,1090.3"/>
<polygon fill="#463bdc" stroke="#463bdc" points="1343.2,1075.3 1340.4,1068.9 1400.3,1090.3 1403.0,1095.4"/>
<polygon fill="#4639da" stroke="#4639da" points="1346.8,1083.5 1343.2,1075.3 1403.0,1095.4 1406.6,1102.1"/>
<polygon fill="#4538d8" stroke="#4538d8" points="1349.5,1089.6 1346.8,1083.5 1406.6,1102.1 1409.3,1107.0"/>
<polygon fill="#4537d6" stroke="#4537d6" points="1352.2,1095.6 1349.5,1089.6 1409.3,1107.0 1412.0,1111.9"/>
<polygon fill="#4536d3" stroke="#4536d3" points="1355.8,1103.5 1352.2,1095.6 1412.0,1111.9 1415.6,1118.3"/>
<polygon fill="#4435d1" stroke="#4435d1" points="1359.4,1111.2 1355.8,1103.5 1415.6,1118.3 1419.2,1124.5"/>
<polygon fill="#4434ce" stroke="#4434ce" points="1363.0,1118.7 1359.4,1111.2 1419.2,1124.5 1422.8,1130.7"/>
<polygon fill="#4433cc" stroke="#4433cc" points="1366.6,1126.1 1363.0,1118.7 1422.8,1130.7 1426.4,1136.7"/>
<polygon fill="#4332c9" stroke="#4332c9" points="1370.2,1133.3 1366.6,1126.1 1426.4,1136.7 1430.0,1142.6"/>
<polygon fill="#4331c6" stroke="#4331c6" points="1374.7,1142.1 1370.2,1133.3 1430.0,1142.6 1434.5,1149.8"/>
<polygon fill="#4230c3" stroke="#4230c3" points="1379.2,1150.7 1374.7,1142.1 1434.5,1149.8 1439.0,1156.9"/>
<polygon fill="#422fc1" stroke="#422fc1" points="1383.7,1159.0 1379.2,1150.7 1439.0,1156.9 1443.5,1163.8"/>
<polygon fill="#412ebe" stroke="#412ebe" points="1389.1,1168.7 1383.7,1159.0 1443.5,1163.8 1448.9,1172.0"/>
<polygon fill="#412dbb" stroke="#412dbb" points="1395.4,1179.6 1389.1,1168.7 1448.9,1172.0 1455.2,1181.2"/>
<polygon fill="#412cb8" stroke="#412cb8" points="1401.7,1190.2 1395.4,1179.6 1455.2,1181.2 1461.5,1190.2"/>
<polygon fill="#402bb6" stroke="#402bb6" points="1409.8,1203.2 1401.7,1190.2 1461.5,1190.2 1469.6,1201.5"/>
<polygon fill="#402ab3" stroke="#402ab3" points="1418.8,1217.1 1409.8,1203.2 1469.6,1201.5 1478.6,1213.7"/>
<polygon fill="#3f29b0" stroke="#3f29b0" points="1431.4,1235.4 1418.8,1217.1 1478.6,1213.7 1491.2,1230.2"/>
<polygon fill="#3f28ad" stroke="#3f28ad" points="1449.4,1260.1 1440.4,1248.0 1431.4,1235.4 1491.2,1230.2 1509.3,1253.0"/>
<polygon fill="#3e27aa" stroke="#3e27aa" points="1630.4,1479.9 1531.4,1361.3 1498.1,1321.2 1483.6,1303.6 1471.0,1287.9 1459.3,1273.0 1449.4,1260.1 1509.3,1253.0 1529.1,1277.3 1554.3,1307.8 1690.3,1470.6"/>
<polygon fill="#2cc4a6" stroke="#2cc4a6" points="1139.2,536.5 1138.3,533.3 1198.1,625.3 1199.1,628.4"/>
<polygon fill="#2bc3a8" stroke="#2bc3a8" points="1140.1,539.7 1139.2,536.5 1199.1,628.4 1200.0,631.6"/>
<polygon fill="#29c3aa" stroke="#29c3aa" points="1141.9,546.1 1140.1,539.7 1200.0,631.6 1201.8,638.0"/>
<polygon fill="#27c2ac" stroke="#27c2ac" points="1142.8,549.3 1141.9,546.1 1201.8,638.0 1202.7,641.2"/>
<polygon fill="#25c2ae" stroke="#25c2ae" points="1144.6,555.7 1142.8,549.3 1202.7,641.2 1204.5,647.6"/>
<polygon fill="#22c1b0" stroke="#22c1b0" points="1145.5,558.9 1144.6,555.7 1204.5,647.6 1205.4,650.8"/>
<polygon fill="#1fc1b1" stroke="#1fc1b1" points="1147.3,565.3 1145.5,558.9 1205.4,650.8 1207.2,657.1"/>
<polygon fill="#1dc0b3" stroke="#1dc0b3" points="1148.2,568.6 1147.3,565.3 1207.2,657.1 1208.1,660.3"/>
<polygon fill="#1abfb5" stroke="#1abfb5" points="1149.1,571.8 1148.2,568.6 1208.1,660.3 1209.0,663.5"/>
<polygon fill="#17bfb6" stroke="#17bfb6" points="1150.9,578.3 1149.1,571.8 1209.0,663.5 1210.8,669.8"/>
<polygon fill="#13beb8" stroke="#13beb8" points="1151.8,581.5 1150.9,578.3 1210.8,669.8 1211.7,673.0"/>
<polygon fill="#10beba" stroke="#10beba" points="1153.6,588.0 1151.8,581.5 1211.7,673.0 1213.5,679.4"/>
<polygon fill="#0dbdbc" stroke="#0dbdbc" points="1154.5,591.3 1153.6,588.0 1213.5,679.4 1214.4,682.5"/>
<polygon fill="#0abdbd" stroke="#0abdbd" points="1156.3,597.8 1154.5,591.3 1214.4,682.5 1216.2,688.9"/>
<polygon fill="#08bcbf" stroke="#08bcbf" points="1157.2,601.0 1156.3,597.8 1216.2,688.9 1217.1,692.0"/>
<polygon fill="#05bbc1" stroke="#05bbc1" points="1159.0,607.6 1157.2,601.0 1217.1,692.0 1218.9,698.4"/>
<polygon fill="#03bbc2" stroke="#03bbc2" points="1159.9,610.8 1159.0,607.6 1218.9,698.4 1219.8,701.5"/>
<polygon fill="#02bac4" stroke="#02bac4" points="1161.7,617.4 1159.9,610.8 1219.8,701.5 1221.6,707.8"/>
<polygon fill="#01b9c6" stroke="#01b9c6" points="1162.6,620.7 1161.7,617.4 1221.6,707.8 1222.5,711.0"/>
<polygon fill="#01b9c7" stroke="#01b9c7" points="1163.5,623.9 1162.6,620.7 1222.5,711.0 1223.4,714.2"/>
<polygon fill="#01b8c9" stroke="#01b8c9" points="1165.3,630.5 1163.5,623.9 1223.4,714.2 1225.2,720.4"/>
<polygon fill="#01b7ca" stroke="#01b7ca" points="1166.2,633.8 1165.3,630.5 1225.2,720.4 1226.1,723.6"/>
<polygon fill="#03b7cc" stroke="#03b7cc" points="1168.0,640.4 1166.2,633.8 1226.1,723.6 1227.9,729.9"/>
<polygon fill="#05b6cd" stroke="#05b6cd" points="1168.9,643.6 1168.0,640.4 1227.9,729.9 1228.8,733.0"/>
<polygon fill="#06b5cf" stroke="#06b5cf" points="1170.7,650.2 1168.9,643.6 1228.8,733.0 1230.6,739.3"/>
<polygon fill="#08b4d1" stroke="#08b4d1" points="1171.6,653.5 1170.7,650.2 1230.6,739.3 1231.5,742.4"/>
<polygon fill="#0bb4d2" stroke="#0bb4d2" points="1172.5,656.8 1171.6,653.5 1231.5,742.4 1232.4,745.5"/>
<polygon fill="#0db3d3" stroke="#0db3d3" points="1174.3,663.4 1172.5,656.8 1232.4,745.5 1234.2,751.7"/>
<polygon fill="#10b2d5" stroke="#10b2d5" points="1175.2,666.7 1174.3,663.4 1234.2,751.7 1235.1,754.8"/>
<polygon fill="#12b1d6" stroke="#12b1d6" points="1177.0,673.3 1175.2,666.7 1235.1,754.8 1236.9,761.0"/>
<polygon fill="#14b0d8" stroke="#14b0d8" points="1177.9,676.6 1177.0,673.3 1236.9,761.0 1237.8,764.1"/>
<polygon fill="#15afd9" stroke="#15afd9" points="1179.7,683.2 1177.9,676.6 1237.8,764.1 1239.6,770.3"/>
<polygon fill="#17aeda" stroke="#17aeda" points="1180.6,686.5 1179.7,683.2 1239.6,770.3 1240.5,773.4"/>
<polygon fill="#18addb" stroke="#18addb" points="1181.5,689.8 1180.6,686.5 1240.5,773.4 1241.4,776.5"/>
<polygon fill="#19acdc" stroke="#19acdc" points="1183.4,696.4 1181.5,689.8 1241.4,776.5 1243.2,782.6"/>
<polygon fill="#1aabdd" stroke="#1aabdd" points="1184.3,699.7 1183.4,696.4 1243.2,782.6 1244.1,785.7"/>
<polygon fill="#1baadf" stroke="#1baadf" points="1186.1,706.3 1184.3,699.7 1244.1,785.7 1245.9,791.8"/>
<polygon fill="#1ca9e0" stroke="#1ca9e0" points="1187.0,709.6 1186.1,706.3 1245.9,791.8 1246.8,794.9"/>
<polygon fill="#1da8e0" stroke="#1da8e0" points="1188.8,716.2 1187.0,709.6 1246.8,794.9 1248.6,800.9"/>
<polygon fill="#1ea7e1" stroke="#1ea7e1" points="1189.7,719.5 1188.8,716.2 1248.6,800.9 1249.5,804.0"/>
<polygon fill="#1fa6e2" stroke="#1fa6e2" points="1190.6,722.8 1189.7,719.5 1249.5,804.0 1250.4,807.0"/>
<polygon fill="#20a5e3" stroke="#20a5e3" points="1192.4,729.3 1190.6,722.8 1250.4,807.0 1252.2,813.0"/>
<polygon fill="#21a4e3" stroke="#21a4e3" points="1193.3,732.6 1192.4,729.3 1252.2,813.0 1253.1,816.1"/>
<polygon fill="#22a2e4" stroke="#22a2e4" points="1195.1,739.2 1193.3,732.6 1253.1,816.1 1254.9,822.1"/>
<polygon fill="#22a1e4" stroke="#22a1e4" points="1196.0,742.5 1195.1,739.2 1254.9,822.1 1255.8,825.1"/>
<polygon fill="#23a0e5" stroke="#23a0e5" points="1197.8,749.1 1196.0,742.5 1255.8,825.1 1257.6,831.0"/>
<polygon fill="#249fe5" stroke="#249fe5" points="1198.7,752.3 1197.8,749.1 1257.6,831.0 1258.5,834.0"/>
<polygon fill="#249ee6" stroke="#249ee6" points="1199.6,755.6 1198.7,752.3 1258.5,834.0 1259.4,837.0"/>
<polygon fill="#259de7" stroke="#259de7" points="1201.4,762.2 1199.6,755.6 1259.4,837.0 1261.2,842.9"/>
<polygon fill="#259be7" stroke="#259be7" points="1202.3,765.4 1201.4,762.2 1261.2,842.9 1262.1,845.8"/>
<polygon fill="#269ae8" stroke="#269ae8" points="1204.1,772.0 1202.3,765.4 1262.1,845.8 1263.9,851.7"/>
<polygon fill="#2699e9" stroke="#2699e9" points="1205.0,775.2 1204.1,772.0 1263.9,851.7 1264.8,854.6"/>
<polygon fill="#2798ea" stroke="#2798ea" points="1206.8,781.7 1205.0,775.2 1264.8,854.6 1266.6,860.5"/>
<polygon fill="#2797eb" stroke="#2797eb" points="1207.7,785.0 1206.8,781.7 1266.6,860.5 1267.5,863.4"/>
<polygon fill="#2895ec" stroke="#2895ec" points="1209.5,791.5 1207.7,785.0 1267.5,863.4 1269.3,869.2"/>
<polygon fill="#2994ed" stroke="#2994ed" points="1210.4,794.7 1209.5,791.5 1269.3,869.2 1270.2,872.1"/>
<polygon fill="#2a93ee" stroke="#2a93ee" points="1211.3,798.0 1210.4,794.7 1270.2,872.1 1271.1,874.9"/>
<polygon fill="#2b92ee" stroke="#2b92ee" points="1213.1,804.5 1211.3,798.0 1271.1,874.9 1272.9,880.7"/>
<polygon fill="#2b90ef" stroke="#2b90ef" points="1214.0,807.7 1213.1,804.5 1272.9,880.7 1273.8,883.5"/>
<polygon fill="#2c8ff0" stroke="#2c8ff0" points="1215.8,814.1 1214.0,807.7 1273.8,883.5 1275.6,889.2"/>
<polygon fill="#2c8ef1" stroke="#2c8ef1" points="1216.7,817.3 1215.8,814.1 1275.6,889.2 1276.5,892.0"/>
<polygon fill="#2d8df2" stroke="#2d8df2" points="1218.5,823.8 1216.7,817.3 1276.5,892.0 1278.3,897.7"/>
<polygon fill="#2d8bf3" stroke="#2d8bf3" points="1219.4,827.0 1218.5,823.8 1278.3,897.7 1279.2,900.5"/>
<polygon fill="#2d8af4" stroke="#2d8af4" points="1221.2,833.4 1219.4,827.0 1279.2,900.5 1281.0,906.1"/>
<polygon fill="#2d89f6" stroke="#2d89f6" points="1222.1,836.5 1221.2,833.4 1281.0,906.1 1281.9,908.9"/>
<polygon fill="#2d87f7" stroke="#2d87f7" points="1223.9,842.9 1222.1,836.5 1281.9,908.9 1283.7,914.4"/>
<polygon fill="#2e86f7" stroke="#2e86f7" points="1224.8,846.1 1223.9,842.9 1283.7,914.4 1284.6,917.1"/>
<polygon fill="#2e85f8" stroke="#2e85f8" points="1226.6,852.4 1224.8,846.1 1284.6,917.1 1286.4,922.6"/>
<polygon fill="#2e83f9" stroke="#2e83f9" points="1227.5,855.6 1226.6,852.4 1286.4,922.6 1287.3,925.4"/>
<polygon fill="#2f82fa" stroke="#2f82fa" points="1229.3,861.9 1227.5,855.6 1287.3,925.4 1289.1,930.8"/>
<polygon fill="#2f81fa" stroke="#2f81fa" points="1230.2,865.0 1229.3,861.9 1289.1,930.8 1290.0,933.5"/>
<polygon fill="#307ffb" stroke="#307ffb" points="1232.0,871.2 1230.2,865.0 1290.0,933.5 1291.8,938.9"/>
<polygon fill="#317efb" stroke="#317efb" points="1233.8,877.5 1232.0,871.2 1291.8,938.9 1293.6,944.2"/>
<polygon fill="#327cfc" stroke="#327cfc" points="1234.7,880.6 1233.8,877.5 1293.6,944.2 1294.5,946.9"/>
<polygon fill="#337bfd" stroke="#337bfd" points="1236.5,886.8 1234.7,880.6 1294.5,946.9 1296.3,952.2"/>
<polygon fill="#3479fd" stroke="#3479fd" points="1237.4,889.9 1236.5,886.8 1296.3,952.2 1297.2,954.8"/>
<polygon fill="#3678fe" stroke="#3678fe" points="1239.2,896.0 1237.4,889.9 1297.2,954.8 1299.0,960.0"/>
<polygon fill="#3776fe" stroke="#3776fe" points="1240.1,899.1 1239.2,896.0 1299.0,960.0 1299.9,962.6"/>
<polygon fill="#3975fe" stroke="#3975fe" points="1241.9,905.2 1240.1,899.1 1299.9,962.6 1301.7,967.8"/>
<polygon fill="#3a73fe" stroke="#3a73fe" points="1243.7,911.3 1241.9,905.2 1301.7,967.8 1303.5,972.9"/>
<polygon fill="#3c72ff" stroke="#3c72ff" points="1244.6,914.3 1243.7,911.3 1303.5,972.9 1304.4,975.5"/>
<polygon fill="#3d70ff" stroke="#3d70ff" points="1246.4,920.3 1244.6,914.3 1304.4,975.5 1306.2,980.5"/>
<polygon fill="#3f6fff" stroke="#3f6fff" points="1248.2,926.3 1246.4,920.3 1306.2,980.5 1308.0,985.5"/>
<polygon fill="#406dfe" stroke="#406dfe" points="1249.1,929.3 1248.2,926.3 1308.0,985.5 1308.9,988.0"/>
<polygon fill="#416cfe" stroke="#416cfe" points="1250.9,935.3 1249.1,929.3 1308.9,988.0 1310.7,993.0"/>
<polygon fill="#426afe" stroke="#426afe" points="1252.7,941.2 1250.9,935.3 1310.7,993.0 1312.5,997.9"/>
<polygon fill="#4369fe" stroke="#4369fe" points="1253.6,944.1 1252.7,941.2 1312.5,997.9 1313.4,1000.4"/>
<polygon fill="#4367fd" stroke="#4367fd" points="1255.4,950.0 1253.6,944.1 1313.4,1000.4 1315.2,1005.3"/>
<polygon fill="#4466fd" stroke="#4466fd" points="1257.2,955.8 1255.4,950.0 1315.2,1005.3 1317.0,1010.1"/>
<polygon fill="#4464fd" stroke="#4464fd" points="1258.1,958.7 1257.2,955.8 1317.0,1010.1 1317.9,1012.5"/>
<polygon fill="#4563fc" stroke="#4563fc" points="1259.9,964.5 1258.1,958.7 1317.9,1012.5 1319.7,1017.2"/>
<polygon fill="#4561fc" stroke="#4561fc" points="1261.7,970.2 1259.9,964.5 1319.7,1017.2 1321.5,1022.0"/>
<polygon fill="#4660fc" stroke="#4660fc" points="1263.5,975.9 1261.7,970.2 1321.5,1022.0 1323.3,1026.6"/>
<polygon fill="#465ffb" stroke="#465ffb" points="1265.3,981.5 1263.5,975.9 1323.3,1026.6 1325.1,1031.3"/>
<polygon fill="#465dfb" stroke="#465dfb" points="1266.2,984.4 1265.3,981.5 1325.1,1031.3 1326.0,1033.6"/>
<polygon fill="#475cfa" stroke="#475cfa" points="1268.0,990.0 1266.2,984.4 1326.0,1033.6 1327.8,1038.1"/>
<polygon fill="#475af9" stroke="#475af9" points="1269.8,995.5 1268.0,990.0 1327.8,1038.1 1329.6,1042.7"/>
<polygon fill="#4759f8" stroke="#4759f8" points="1271.6,1001.0 1269.8,995.5 1329.6,1042.7 1331.4,1047.1"/>
<polygon fill="#4758f8" stroke="#4758f8" points="1273.4,1006.5 1271.6,1001.0 1331.4,1047.1 1333.2,1051.6"/>
<polygon fill="#4756f7" stroke="#4756f7" points="1275.2,1011.9 1273.4,1006.5 1333.2,1051.6 1335.0,1056.0"/>
<polygon fill="#4755f6" stroke="#4755f6" points="1277.0,1017.3 1275.2,1011.9 1335.0,1056.0 1336.8,1060.3"/>
<polygon fill="#4854f5" stroke="#4854f5" points="1278.8,1022.6 1277.0,1017.3 1336.8,1060.3 1338.6,1064.7"/>
<polygon fill="#4852f4" stroke="#4852f4" points="1280.6,1027.9 1278.8,1022.6 1338.6,1064.7 1340.4,1068.9"/>
<polygon fill="#4851f3" stroke="#4851f3" points="1282.4,1033.2 1280.6,1027.9 1340.4,1068.9 1342.2,1073.2"/>
<polygon fill="#484ff2" stroke="#484ff2" points="1284.2,1038.4 1282.4,1033.2 1342.2,1073.2 1344.1,1077.3"/>
<polygon fill="#484ef1" stroke="#484ef1" points="1286.0,1043.6 1284.2,1038.4 1344.1,1077.3 1345.9,1081.5"/>
<polygon fill="#484df0" stroke="#484df0" points="1287.8,1048.7 1286.0,1043.6 1345.9,1081.5 1347.7,1085.6"/>
<polygon fill="#484bef" stroke="#484bef" points="1289.6,1053.8 1287.8,1048.7 1347.7,1085.6 1349.5,1089.6"/>
<polygon fill="#484aee" stroke="#484aee" points="1292.3,1061.3 1289.6,1053.8 1349.5,1089.6 1352.2,1095.6"/>
<polygon fill="#4848ec" stroke="#4848ec" points="1294.1,1066.2 1292.3,1061.3 1352.2,1095.6 1354.0,1099.6"/>
<polygon fill="#4747eb" stroke="#4747eb" points="1295.9,1071.1 1294.1,1066.2 1354.0,1099.6 1355.8,1103.5"/>
<polygon fill="#4746ea" stroke="#4746ea" points="1297.7,1076.0 1295.9,1071.1 1355.8,1103.5 1357.6,1107.4"/>
<polygon fill="#4744e8" stroke="#4744e8" points="1300.4,1083.2 1297.7,1076.0 1357.6,1107.4 1360.3,1113.1"/>
<polygon fill="#4743e7" stroke="#4743e7" points="1302.2,1087.9 1300.4,1083.2 1360.3,1113.1 1362.1,1116.9"/>
<polygon fill="#4741e5" stroke="#4741e5" points="1304.9,1095.0 1302.2,1087.9 1362.1,1116.9 1364.8,1122.4"/>
<polygon fill="#4740e4" stroke="#4740e4" points="1306.7,1099.6 1304.9,1095.0 1364.8,1122.4 1366.6,1126.1"/>
<polygon fill="#473fe2" stroke="#473fe2" points="1309.4,1106.4 1306.7,1099.6 1366.6,1126.1 1369.3,1131.5"/>
<polygon fill="#463de0" stroke="#463de0" points="1312.1,1113.2 1309.4,1106.4 1369.3,1131.5 1372.0,1136.9"/>
<polygon fill="#463cde" stroke="#463cde" points="1314.8,1119.8 1312.1,1113.2 1372.0,1136.9 1374.7,1142.1"/>
<polygon fill="#463bdc" stroke="#463bdc" points="1317.5,1126.3 1314.8,1119.8 1374.7,1142.1 1377.4,1147.3"/>
<polygon fill="#4639da" stroke="#4639da" points="1320.2,1132.7 1317.5,1126.3 1377.4,1147.3 1380.1,1152.4"/>
<polygon fill="#4538d8" stroke="#4538d8" points="1322.9,1139.0 1320.2,1132.7 1380.1,1152.4 1382.8,1157.4"/>
<polygon fill="#4537d6" stroke="#4537d6" points="1325.6,1145.2 1322.9,1139.0 1382.8,1157.4 1385.5,1162.3"/>
<polygon fill="#4536d3" stroke="#4536d3" points="1328.4,1151.3 1325.6,1145.2 1385.5,1162.3 1388.2,1167.1"/>
<polygon fill="#4435d1" stroke="#4435d1" points="1332.0,1159.2 1328.4,1151.3 1388.2,1167.1 1391.8,1173.4"/>
<polygon fill="#4434ce" stroke="#4434ce" points="1334.7,1165.1 1332.0,1159.2 1391.8,1173.4 1394.5,1178.1"/>
<polygon fill="#4433cc" stroke="#4433cc" points="1338.3,1172.7 1334.7,1165.1 1394.5,1178.1 1398.1,1184.2"/>
<polygon fill="#4332c9" stroke="#4332c9" points="1341.9,1180.1 1338.3,1172.7 1398.1,1184.2 1401.7,1190.2"/>
<polygon fill="#4331c6" stroke="#4331c6" points="1346.4,1189.2 1341.9,1180.1 1401.7,1190.2 1406.2,1197.5"/>
<polygon fill="#4230c3" stroke="#4230c3" points="1350.0,1196.2 1346.4,1189.2 1406.2,1197.5 1409.8,1203.2"/>
<polygon fill="#422fc1" stroke="#422fc1" points="1354.5,1204.8 1350.0,1196.2 1409.8,1203.2 1414.3,1210.2"/>
<polygon fill="#412ebe" stroke="#412ebe" points="1359.9,1214.8 1354.5,1204.8 1414.3,1210.2 1419.7,1218.4"/>
<polygon fill="#412dbb" stroke="#412dbb" points="1365.3,1224.4 1359.9,1214.8 1419.7,1218.4 1425.1,1226.4"/>
<polygon fill="#412cb8" stroke="#412cb8" points="1371.6,1235.1 1365.3,1224.4 1425.1,1226.4 1431.4,1235.4"/>
<polygon fill="#402bb6" stroke="#402bb6" points="1378.8,1247.0 1371.6,1235.1 1431.4,1235.4 1438.6,1245.5"/>
<polygon fill="#402ab3" stroke="#402ab3" points="1386.9,1259.6 1378.8,1247.0 1438.6,1245.5 1446.7,1256.5"/>
<polygon fill="#3f29b0" stroke="#3f29b0" points="1398.6,1277.0 1386.9,1259.6 1446.7,1256.5 1458.4,1271.9"/>
<polygon fill="#3f28ad" stroke="#3f28ad" points="1414.8,1299.5 1406.7,1288.4 1398.6,1277.0 1458.4,1271.9 1474.6,1292.4"/>
<polygon fill="#3e27aa" stroke="#3e27aa" points="1570.6,1489.1 1487.8,1390.0 1458.0,1354.2 1444.5,1337.6 1433.7,1324.0 1423.8,1311.3 1414.8,1299.5 1474.6,1292.4 1492.7,1314.6 1515.2,1341.9 1630.4,1479.9"/>
<polygon fill="#80cc59" stroke="#80cc59" points="1079.4,444.3 1078.5,441.3 1138.3,533.3 1139.2,536.5"/>
<polygon fill="#7ccc5c" stroke="#7ccc5c" points="1080.3,447.2 1079.4,444.3 1139.2,536.5 1140.1,539.7"/>
<polygon fill="#79cc5f" stroke="#79cc5f" points="1082.1,453.2 1080.3,447.2 1140.1,539.7 1141.9,546.1"/>
<polygon fill="#75cc61" stroke="#75cc61" points="1083.9,459.3 1082.1,453.2 1141.9,546.1 1143.7,552.5"/>
<polygon fill="#71cd64" stroke="#71cd64" points="1084.8,462.3 1083.9,459.3 1143.7,552.5 1144.6,555.7"/>
<polygon fill="#6ecd67" stroke="#6ecd67" points="1086.6,468.4 1084.8,462.3 1144.6,555.7 1146.4,562.1"/>
<polygon fill="#6acd6a" stroke="#6acd6a" points="1088.4,474.5 1086.6,468.4 1146.4,562.1 1148.2,568.6"/>
<polygon fill="#67cd6c" stroke="#67cd6c" points="1089.3,477.5 1088.4,474.5 1148.2,568.6 1149.1,571.8"/>
<polygon fill="#64cd6f" stroke="#64cd6f" points="1091.1,483.7 1089.3,477.5 1149.1,571.8 1150.9,578.3"/>
<polygon fill="#60cd72" stroke="#60cd72" points="1092.0,486.8 1091.1,483.7 1150.9,578.3 1151.8,581.5"/>
<polygon fill="#5dcc75" stroke="#5dcc75" points="1093.8,493.0 1092.0,486.8 1151.8,581.5 1153.6,588.0"/>
<polygon fill="#5acc77" stroke="#5acc77" points="1094.7,496.1 1093.8,493.0 1153.6,588.0 1154.5,591.3"/>
<polygon fill="#57cc7a" stroke="#57cc7a" points="1096.5,502.3 1094.7,496.1 1154.5,591.3 1156.3,597.8"/>
<polygon fill="#54cc7d" stroke="#54cc7d" points="1098.3,508.6 1096.5,502.3 1156.3,597.8 1158.1,604.3"/>
<polygon fill="#51cc7f" stroke="#51cc7f" points="1099.2,511.7 1098.3,508.6 1158.1,604.3 1159.0,607.6"/>
<polygon fill="#4ecc82" stroke="#4ecc82" points="1101.0,518.0 1099.2,511.7 1159.0,607.6 1160.8,614.1"/>
<polygon fill="#4acb84" stroke="#4acb84" points="1101.9,521.2 1101.0,518.0 1160.8,614.1 1161.7,617.4"/>
<polygon fill="#48cb86" stroke="#48cb86" points="1103.7,527.6 1101.9,521.2 1161.7,617.4 1163.5,623.9"/>
<polygon fill="#45cb89" stroke="#45cb89" points="1104.6,530.7 1103.7,527.6 1163.5,623.9 1164.4,627.2"/>
<polygon fill="#42ca8b" stroke="#42ca8b" points="1106.4,537.1 1104.6,530.7 1164.4,627.2 1166.2,633.8"/>
<polygon fill="#3fca8e" stroke="#3fca8e" points="1107.3,540.3 1106.4,537.1 1166.2,633.8 1167.1,637.1"/>
<polygon fill="#3dca90" stroke="#3dca90" points="1109.1,546.8 1107.3,540.3 1167.1,637.1 1168.9,643.6"/>
<polygon fill="#3bc992" stroke="#3bc992" points="1110.0,550.0 1109.1,546.8 1168.9,643.6 1169.8,646.9"/>
<polygon fill="#39c994" stroke="#39c994" points="1110.9,553.2 1110.0,550.0 1169.8,646.9 1170.7,650.2"/>
<polygon fill="#38c897" stroke="#38c897" points="1112.7,559.7 1110.9,553.2 1170.7,650.2 1172.5,656.8"/>
<polygon fill="#36c899" stroke="#36c899" points="1113.6,562.9 1112.7,559.7 1172.5,656.8 1173.4,660.1"/>
<polygon fill="#35c79b" stroke="#35c79b" points="1115.4,569.4 1113.6,562.9 1173.4,660.1 1175.2,666.7"/>
<polygon fill="#33c79d" stroke="#33c79d" points="1116.3,572.7 1115.4,569.4 1175.2,666.7 1176.1,670.0"/>
<polygon fill="#32c69f" stroke="#32c69f" points="1118.1,579.3 1116.3,572.7 1176.1,670.0 1177.9,676.6"/>
<polygon fill="#30c5a1" stroke="#30c5a1" points="1119.0,582.5 1118.1,579.3 1177.9,676.6 1178.8,679.9"/>
<polygon fill="#2fc5a3" stroke="#2fc5a3" points="1120.8,589.1 1119.0,582.5 1178.8,679.9 1180.6,686.5"/>
<polygon fill="#2ec4a5" stroke="#2ec4a5" points="1121.7,592.4 1120.8,589.1 1180.6,686.5 1181.5,689.8"/>
<polygon fill="#2cc4a6" stroke="#2cc4a6" points="1122.6,595.7 1121.7,592.4 1181.5,689.8 1182.5,693.1"/>
<polygon fill="#2bc3a8" stroke="#2bc3a8" points="1124.4,602.3 1122.6,595.7 1182.5,693.1 1184.3,699.7"/>
<polygon fill="#29c3aa" stroke="#29c3aa" points="1125.3,605.6 1124.4,602.3 1184.3,699.7 1185.2,703.0"/>
<polygon fill="#27c2ac" stroke="#27c2ac" points="1127.1,612.3 1125.3,605.6 1185.2,703.0 1187.0,709.6"/>
<polygon fill="#25c2ae" stroke="#25c2ae" points="1128.0,615.6 1127.1,612.3 1187.0,709.6 1187.9,712.9"/>
<polygon fill="#22c1b0" stroke="#22c1b0" points="1128.9,619.0 1128.0,615.6 1187.9,712.9 1188.8,716.2"/>
<polygon fill="#1fc1b1" stroke="#1fc1b1" points="1130.7,625.6 1128.9,619.0 1188.8,716.2 1190.6,722.8"/>
<polygon fill="#1dc0b3" stroke="#1dc0b3" points="1131.6,629.0 1130.7,625.6 1190.6,722.8 1191.5,726.0"/>
<polygon fill="#1abfb5" stroke="#1abfb5" points="1133.4,635.7 1131.6,629.0 1191.5,726.0 1193.3,732.6"/>
<polygon fill="#17bfb6" stroke="#17bfb6" points="1134.3,639.1 1133.4,635.7 1193.3,732.6 1194.2,735.9"/>
<polygon fill="#13beb8" stroke="#13beb8" points="1135.2,642.4 1134.3,639.1 1194.2,735.9 1195.1,739.2"/>
<polygon fill="#10beba" stroke="#10beba" points="1137.0,649.2 1135.2,642.4 1195.1,739.2 1196.9,745.8"/>
<polygon fill="#0dbdbc" stroke="#0dbdbc" points="1137.9,652.5 1137.0,649.2 1196.9,745.8 1197.8,749.1"/>
<polygon fill="#0abdbd" stroke="#0abdbd" points="1139.7,659.3 1137.9,652.5 1197.8,749.1 1199.6,755.6"/>
<polygon fill="#08bcbf" stroke="#08bcbf" points="1140.6,662.7 1139.7,659.3 1199.6,755.6 1200.5,758.9"/>
<polygon fill="#05bbc1" stroke="#05bbc1" points="1141.5,666.1 1140.6,662.7 1200.5,758.9 1201.4,762.2"/>
<polygon fill="#03bbc2" stroke="#03bbc2" points="1143.3,672.9 1141.5,666.1 1201.4,762.2 1203.2,768.7"/>
<polygon fill="#02bac4" stroke="#02bac4" points="1144.2,676.3 1143.3,672.9 1203.2,768.7 1204.1,772.0"/>
<polygon fill="#01b9c6" stroke="#01b9c6" points="1145.1,679.7 1144.2,676.3 1204.1,772.0 1205.0,775.2"/>
<polygon fill="#01b9c7" stroke="#01b9c7" points="1146.9,686.5 1145.1,679.7 1205.0,775.2 1206.8,781.7"/>
<polygon fill="#01b8c9" stroke="#01b8c9" points="1147.8,689.9 1146.9,686.5 1206.8,781.7 1207.7,785.0"/>
<polygon fill="#01b7ca" stroke="#01b7ca" points="1148.7,693.3 1147.8,689.9 1207.7,785.0 1208.6,788.3"/>
<polygon fill="#03b7cc" stroke="#03b7cc" points="1150.5,700.1 1148.7,693.3 1208.6,788.3 1210.4,794.7"/>
<polygon fill="#05b6cd" stroke="#05b6cd" points="1151.4,703.5 1150.5,700.1 1210.4,794.7 1211.3,798.0"/>
<polygon fill="#06b5cf" stroke="#06b5cf" points="1152.3,706.9 1151.4,703.5 1211.3,798.0 1212.2,801.2"/>
<polygon fill="#08b4d1" stroke="#08b4d1" points="1154.1,713.8 1152.3,706.9 1212.2,801.2 1214.0,807.7"/>
<polygon fill="#0bb4d2" stroke="#0bb4d2" points="1155.0,717.2 1154.1,713.8 1214.0,807.7 1214.9,810.9"/>
<polygon fill="#0db3d3" stroke="#0db3d3" points="1156.8,724.1 1155.0,717.2 1214.9,810.9 1216.7,817.3"/>
<polygon fill="#10b2d5" stroke="#10b2d5" points="1157.7,727.5 1156.8,724.1 1216.7,817.3 1217.6,820.6"/>
<polygon fill="#12b1d6" stroke="#12b1d6" points="1158.6,730.9 1157.7,727.5 1217.6,820.6 1218.5,823.8"/>
<polygon fill="#14b0d8" stroke="#14b0d8" points="1160.4,737.8 1158.6,730.9 1218.5,823.8 1220.3,830.2"/>
<polygon fill="#15afd9" stroke="#15afd9" points="1161.3,741.2 1160.4,737.8 1220.3,830.2 1221.2,833.4"/>
<polygon fill="#17aeda" stroke="#17aeda" points="1162.2,744.6 1161.3,741.2 1221.2,833.4 1222.1,836.5"/>
<polygon fill="#18addb" stroke="#18addb" points="1164.0,751.5 1162.2,744.6 1222.1,836.5 1223.9,842.9"/>
<polygon fill="#19acdc" stroke="#19acdc" points="1164.9,754.9 1164.0,751.5 1223.9,842.9 1224.8,846.1"/>
<polygon fill="#1aabdd" stroke="#1aabdd" points="1165.9,758.3 1164.9,754.9 1224.8,846.1 1225.7,849.2"/>
<polygon fill="#1baadf" stroke="#1baadf" points="1167.7,765.2 1165.9,758.3 1225.7,849.2 1227.5,855.6"/>
<polygon fill="#1ca9e0" stroke="#1ca9e0" points="1168.6,768.6 1167.7,765.2 1227.5,855.6 1228.4,858.7"/>
<polygon fill="#1da8e0" stroke="#1da8e0" points="1169.5,772.1 1168.6,768.6 1228.4,858.7 1229.3,861.9"/>
<polygon fill="#1ea7e1" stroke="#1ea7e1" points="1171.3,778.9 1169.5,772.1 1229.3,861.9 1231.1,868.1"/>
<polygon fill="#1fa6e2" stroke="#1fa6e2" points="1172.2,782.4 1171.3,778.9 1231.1,868.1 1232.0,871.2"/>
<polygon fill="#20a5e3" stroke="#20a5e3" points="1173.1,785.8 1172.2,782.4 1232.0,871.2 1232.9,874.4"/>
<polygon fill="#21a4e3" stroke="#21a4e3" points="1174.9,792.6 1173.1,785.8 1232.9,874.4 1234.7,880.6"/>
<polygon fill="#22a2e4" stroke="#22a2e4" points="1175.8,796.1 1174.9,792.6 1234.7,880.6 1235.6,883.7"/>
<polygon fill="#22a1e4" stroke="#22a1e4" points="1176.7,799.5 1175.8,796.1 1235.6,883.7 1236.5,886.8"/>
<polygon fill="#23a0e5" stroke="#23a0e5" points="1178.5,806.3 1176.7,799.5 1236.5,886.8 1238.3,892.9"/>
<polygon fill="#249fe5" stroke="#249fe5" points="1179.4,809.7 1178.5,806.3 1238.3,892.9 1239.2,896.0"/>
<polygon fill="#249ee6" stroke="#249ee6" points="1180.3,813.1 1179.4,809.7 1239.2,896.0 1240.1,899.1"/>
<polygon fill="#259de7" stroke="#259de7" points="1182.1,820.0 1180.3,813.1 1240.1,899.1 1241.9,905.2"/>
<polygon fill="#259be7" stroke="#259be7" points="1183.0,823.4 1182.1,820.0 1241.9,905.2 1242.8,908.2"/>
<polygon fill="#269ae8" stroke="#269ae8" points="1184.8,830.2 1183.0,823.4 1242.8,908.2 1244.6,914.3"/>
<polygon fill="#2699e9" stroke="#2699e9" points="1185.7,833.6 1184.8,830.2 1244.6,914.3 1245.5,917.3"/>
<polygon fill="#2798ea" stroke="#2798ea" points="1186.6,837.0 1185.7,833.6 1245.5,917.3 1246.4,920.3"/>
<polygon fill="#2797eb" stroke="#2797eb" points="1188.4,843.7 1186.6,837.0 1246.4,920.3 1248.2,926.3"/>
<polygon fill="#2895ec" stroke="#2895ec" points="1189.3,847.1 1188.4,843.7 1248.2,926.3 1249.1,929.3"/>
<polygon fill="#2994ed" stroke="#2994ed" points="1190.2,850.5 1189.3,847.1 1249.1,929.3 1250.0,932.3"/>
<polygon fill="#2a93ee" stroke="#2a93ee" points="1192.0,857.3 1190.2,850.5 1250.0,932.3 1251.8,938.2"/>
<polygon fill="#2b92ee" stroke="#2b92ee" points="1192.9,860.6 1192.0,857.3 1251.8,938.2 1252.7,941.2"/>
<polygon fill="#2b90ef" stroke="#2b90ef" points="1193.8,864.0 1192.9,860.6 1252.7,941.2 1253.6,944.1"/>
<polygon fill="#2c8ff0" stroke="#2c8ff0" points="1195.6,870.7 1193.8,864.0 1253.6,944.1 1255.4,950.0"/>
<polygon fill="#2c8ef1" stroke="#2c8ef1" points="1196.5,874.1 1195.6,870.7 1255.4,950.0 1256.3,952.9"/>
<polygon fill="#2d8df2" stroke="#2d8df2" points="1198.3,880.7 1196.5,874.1 1256.3,952.9 1258.1,958.7"/>
<polygon fill="#2d8bf3" stroke="#2d8bf3" points="1199.2,884.1 1198.3,880.7 1258.1,958.7 1259.0,961.6"/>
<polygon fill="#2d8af4" stroke="#2d8af4" points="1200.1,887.4 1199.2,884.1 1259.0,961.6 1259.9,964.5"/>
<polygon fill="#2d89f6" stroke="#2d89f6" points="1201.9,894.1 1200.1,887.4 1259.9,964.5 1261.7,970.2"/>
<polygon fill="#2d87f7" stroke="#2d87f7" points="1202.8,897.4 1201.9,894.1 1261.7,970.2 1262.6,973.0"/>
<polygon fill="#2e86f7" stroke="#2e86f7" points="1204.6,904.0 1202.8,897.4 1262.6,973.0 1264.4,978.7"/>
<polygon fill="#2e85f8" stroke="#2e85f8" points="1205.5,907.3 1204.6,904.0 1264.4,978.7 1265.3,981.5"/>
<polygon fill="#2e83f9" stroke="#2e83f9" points="1207.3,913.9 1205.5,907.3 1265.3,981.5 1267.1,987.2"/>
<polygon fill="#2f82fa" stroke="#2f82fa" points="1208.2,917.1 1207.3,913.9 1267.1,987.2 1268.0,990.0"/>
<polygon fill="#2f81fa" stroke="#2f81fa" points="1209.1,920.4 1208.2,917.1 1268.0,990.0 1268.9,992.7"/>
<polygon fill="#307ffb" stroke="#307ffb" points="1210.9,926.9 1209.1,920.4 1268.9,992.7 1270.7,998.3"/>
<polygon fill="#317efb" stroke="#317efb" points="1211.8,930.2 1210.9,926.9 1270.7,998.3 1271.6,1001.0"/>
<polygon fill="#327cfc" stroke="#327cfc" points="1213.6,936.7 1211.8,930.2 1271.6,1001.0 1273.4,1006.5"/>
<polygon fill="#337bfd" stroke="#337bfd" points="1214.5,939.9 1213.6,936.7 1273.4,1006.5 1274.3,1009.2"/>
<polygon fill="#3479fd" stroke="#3479fd" points="1216.3,946.3 1214.5,939.9 1274.3,1009.2 1276.1,1014.6"/>
<polygon fill="#3678fe" stroke="#3678fe" points="1217.2,949.6 1216.3,946.3 1276.1,1014.6 1277.0,1017.3"/>
<polygon fill="#3776fe" stroke="#3776fe" points="1219.0,955.9 1217.2,949.6 1277.0,1017.3 1278.8,1022.6"/>
<polygon fill="#3975fe" stroke="#3975fe" points="1219.9,959.1 1219.0,955.9 1278.8,1022.6 1279.7,1025.3"/>
<polygon fill="#3a73fe" stroke="#3a73fe" points="1221.7,965.5 1219.9,959.1 1279.7,1025.3 1281.5,1030.6"/>
<polygon fill="#3c72ff" stroke="#3c72ff" points="1222.6,968.6 1221.7,965.5 1281.5,1030.6 1282.4,1033.2"/>
<polygon fill="#3d70ff" stroke="#3d70ff" points="1224.4,974.9 1222.6,968.6 1282.4,1033.2 1284.2,1038.4"/>
<polygon fill="#3f6fff" stroke="#3f6fff" points="1225.3,978.1 1224.4,974.9 1284.2,1038.4 1285.1,1041.0"/>
<polygon fill="#406dfe" stroke="#406dfe" points="1227.1,984.3 1225.3,978.1 1285.1,1041.0 1286.9,1046.1"/>
<polygon fill="#416cfe" stroke="#416cfe" points="1228.0,987.4 1227.1,984.3 1286.9,1046.1 1287.8,1048.7"/>
<polygon fill="#426afe" stroke="#426afe" points="1229.8,993.6 1228.0,987.4 1287.8,1048.7 1289.6,1053.8"/>
<polygon fill="#4369fe" stroke="#4369fe" points="1231.6,999.7 1229.8,993.6 1289.6,1053.8 1291.4,1058.8"/>
<polygon fill="#4367fd" stroke="#4367fd" points="1232.5,1002.8 1231.6,999.7 1291.4,1058.8 1292.3,1061.3"/>
<polygon fill="#4466fd" stroke="#4466fd" points="1234.3,1008.9 1232.5,1002.8 1292.3,1061.3 1294.1,1066.2"/>
<polygon fill="#4464fd" stroke="#4464fd" points="1235.2,1011.9 1234.3,1008.9 1294.1,1066.2 1295.0,1068.7"/>
<polygon fill="#4563fc" stroke="#4563fc" points="1237.0,1017.9 1235.2,1011.9 1295.0,1068.7 1296.8,1073.6"/>
<polygon fill="#4561fc" stroke="#4561fc" points="1238.8,1023.9 1237.0,1017.9 1296.8,1073.6 1298.6,1078.4"/>
<polygon fill="#4660fc" stroke="#4660fc" points="1239.7,1026.9 1238.8,1023.9 1298.6,1078.4 1299.5,1080.8"/>
<polygon fill="#465ffb" stroke="#465ffb" points="1241.5,1032.8 1239.7,1026.9 1299.5,1080.8 1301.3,1085.6"/>
<polygon fill="#465dfb" stroke="#465dfb" points="1243.3,1038.6 1241.5,1032.8 1301.3,1085.6 1303.1,1090.3"/>
<polygon fill="#475cfa" stroke="#475cfa" points="1245.1,1044.5 1243.3,1038.6 1303.1,1090.3 1304.9,1095.0"/>
<polygon fill="#475af9" stroke="#475af9" points="1246.0,1047.4 1245.1,1044.5 1304.9,1095.0 1305.8,1097.3"/>
<polygon fill="#4759f8" stroke="#4759f8" points="1247.8,1053.1 1246.0,1047.4 1305.8,1097.3 1307.6,1101.9"/>
<polygon fill="#4758f8" stroke="#4758f8" points="1249.6,1058.8 1247.8,1053.1 1307.6,1101.9 1309.4,1106.4"/>
<polygon fill="#4756f7" stroke="#4756f7" points="1251.4,1064.5 1249.6,1058.8 1309.4,1106.4 1311.2,1110.9"/>
<polygon fill="#4755f6" stroke="#4755f6" points="1253.2,1070.1 1251.4,1064.5 1311.2,1110.9 1313.0,1115.4"/>
<polygon fill="#4854f5" stroke="#4854f5" points="1254.1,1072.9 1253.2,1070.1 1313.0,1115.4 1313.9,1117.6"/>
<polygon fill="#4852f4" stroke="#4852f4" points="1255.9,1078.4 1254.1,1072.9 1313.9,1117.6 1315.7,1122.0"/>
<polygon fill="#4851f3" stroke="#4851f3" points="1257.7,1083.9 1255.9,1078.4 1315.7,1122.0 1317.5,1126.3"/>
<polygon fill="#484ff2" stroke="#484ff2" points="1259.5,1089.4 1257.7,1083.9 1317.5,1126.3 1319.3,1130.6"/>
<polygon fill="#484ef1" stroke="#484ef1" points="1261.3,1094.7 1259.5,1089.4 1319.3,1130.6 1321.1,1134.8"/>
<polygon fill="#484df0" stroke="#484df0" points="1263.1,1100.1 1261.3,1094.7 1321.1,1134.8 1322.9,1139.0"/>
<polygon fill="#484bef" stroke="#484bef" points="1264.9,1105.4 1263.1,1100.1 1322.9,1139.0 1324.7,1143.1"/>
<polygon fill="#484aee" stroke="#484aee" points="1266.7,1110.6 1264.9,1105.4 1324.7,1143.1 1326.6,1147.2"/>
<polygon fill="#4848ec" stroke="#4848ec" points="1268.5,1115.8 1266.7,1110.6 1326.6,1147.2 1328.4,1151.3"/>
<polygon fill="#4747eb" stroke="#4747eb" points="1270.3,1120.9 1268.5,1115.8 1328.4,1151.3 1330.2,1155.3"/>
<polygon fill="#4746ea" stroke="#4746ea" points="1273.0,1128.5 1270.3,1120.9 1330.2,1155.3 1332.9,1161.2"/>
<polygon fill="#4744e8" stroke="#4744e8" points="1274.8,1133.5 1273.0,1128.5 1332.9,1161.2 1334.7,1165.1"/>
<polygon fill="#4743e7" stroke="#4743e7" points="1276.6,1138.4 1274.8,1133.5 1334.7,1165.1 1336.5,1168.9"/>
<polygon fill="#4741e5" stroke="#4741e5" points="1278.4,1143.3 1276.6,1138.4 1336.5,1168.9 1338.3,1172.7"/>
<polygon fill="#4740e4" stroke="#4740e4" points="1281.1,1150.5 1278.4,1143.3 1338.3,1172.7 1341.0,1178.3"/>
<polygon fill="#473fe2" stroke="#473fe2" points="1282.9,1155.2 1281.1,1150.5 1341.0,1178.3 1342.8,1182.0"/>
<polygon fill="#463de0" stroke="#463de0" points="1285.6,1162.3 1282.9,1155.2 1342.8,1182.0 1345.5,1187.4"/>
<polygon fill="#463cde" stroke="#463cde" points="1287.4,1166.9 1285.6,1162.3 1345.5,1187.4 1347.3,1191.0"/>
<polygon fill="#463bdc" stroke="#463bdc" points="1290.1,1173.7 1287.4,1166.9 1347.3,1191.0 1350.0,1196.2"/>
<polygon fill="#4639da" stroke="#4639da" points="1292.8,1180.3 1290.1,1173.7 1350.0,1196.2 1352.7,1201.4"/>
<polygon fill="#4538d8" stroke="#4538d8" points="1295.5,1186.9 1292.8,1180.3 1352.7,1201.4 1355.4,1206.5"/>
<polygon fill="#4537d6" stroke="#4537d6" points="1298.2,1193.3 1295.5,1186.9 1355.4,1206.5 1358.1,1211.5"/>
<polygon fill="#4536d3" stroke="#4536d3" points="1300.9,1199.6 1298.2,1193.3 1358.1,1211.5 1360.8,1216.4"/>
<polygon fill="#4435d1" stroke="#4435d1" points="1303.6,1205.8 1300.9,1199.6 1360.8,1216.4 1363.5,1221.2"/>
<polygon fill="#4434ce" stroke="#4434ce" points="1306.3,1211.9 1303.6,1205.8 1363.5,1221.2 1366.2,1225.9"/>
<polygon fill="#4433cc" stroke="#4433cc" points="1310.0,1219.8 1306.3,1211.9 1366.2,1225.9 1369.8,1232.1"/>
<polygon fill="#4332c9" stroke="#4332c9" points="1313.6,1227.5 1310.0,1219.8 1369.8,1232.1 1373.4,1238.1"/>
<polygon fill="#4331c6" stroke="#4331c6" points="1317.2,1235.0 1313.6,1227.5 1373.4,1238.1 1377.0,1244.1"/>
<polygon fill="#4230c3" stroke="#4230c3" points="1320.8,1242.2 1317.2,1235.0 1377.0,1244.1 1380.6,1249.8"/>
<polygon fill="#422fc1" stroke="#422fc1" points="1325.3,1251.1 1320.8,1242.2 1380.6,1249.8 1385.1,1256.9"/>
<polygon fill="#412ebe" stroke="#412ebe" points="1329.8,1259.6 1325.3,1251.1 1385.1,1256.9 1389.6,1263.7"/>
<polygon fill="#412dbb" stroke="#412dbb" points="1334.3,1267.9 1329.8,1259.6 1389.6,1263.7 1394.1,1270.4"/>
<polygon fill="#412cb8" stroke="#412cb8" points="1340.6,1278.9 1334.3,1267.9 1394.1,1270.4 1400.4,1279.6"/>
<polygon fill="#402bb6" stroke="#402bb6" points="1346.9,1289.5 1340.6,1278.9 1400.4,1279.6 1406.7,1288.4"/>
<polygon fill="#402ab3" stroke="#402ab3" points="1355.0,1302.5 1346.9,1289.5 1406.7,1288.4 1414.8,1299.5"/>
<polygon fill="#3f29b0" stroke="#3f29b0" points="1364.9,1317.5 1355.0,1302.5 1414.8,1299.5 1424.7,1312.5"/>
<polygon fill="#3f28ad" stroke="#3f28ad" points="1380.2,1339.0 1372.1,1327.8 1364.9,1317.5 1424.7,1312.5 1440.0,1332.0"/>
<polygon fill="#3e27aa" stroke="#3e27aa" points="1510.8,1498.4 1443.2,1417.6 1418.0,1387.1 1407.2,1373.8 1397.3,1361.4 1388.3,1349.8 1380.2,1339.0 1440.0,1332.0 1455.3,1350.9 1475.2,1374.8 1570.6,1489.1"/>
<polygon fill="#ddbd29" stroke="#ddbd29" points="1019.6,362.0 1018.7,359.4 1078.5,441.3 1079.4,444.3"/>
<polygon fill="#dbbd28" stroke="#dbbd28" points="1021.4,367.2 1019.6,362.0 1079.4,444.3 1081.2,450.2"/>
<polygon fill="#d8be28" stroke="#d8be28" points="1023.2,372.5 1021.4,367.2 1081.2,450.2 1083.0,456.3"/>
<polygon fill="#d5be28" stroke="#d5be28" points="1025.0,377.8 1023.2,372.5 1083.0,456.3 1084.8,462.3"/>
<polygon fill="#d2bf27" stroke="#d2bf27" points="1026.8,383.2 1025.0,377.8 1084.8,462.3 1086.6,468.4"/>
<polygon fill="#d0c028" stroke="#d0c028" points="1028.6,388.5 1026.8,383.2 1086.6,468.4 1088.4,474.5"/>
<polygon fill="#cdc028" stroke="#cdc028" points="1030.4,394.0 1028.6,388.5 1088.4,474.5 1090.2,480.6"/>
<polygon fill="#cac129" stroke="#cac129" points="1032.2,399.4 1030.4,394.0 1090.2,480.6 1092.0,486.8"/>
<polygon fill="#c7c12a" stroke="#c7c12a" points="1034.0,404.9 1032.2,399.4 1092.0,486.8 1093.8,493.0"/>
<polygon fill="#c4c22b" stroke="#c4c22b" points="1034.9,407.7 1034.0,404.9 1093.8,493.0 1094.7,496.1"/>
<polygon fill="#c1c32c" stroke="#c1c32c" points="1036.7,413.2 1034.9,407.7 1094.7,496.1 1096.5,502.3"/>
<polygon fill="#bec32e" stroke="#bec32e" points="1038.5,418.8 1036.7,413.2 1096.5,502.3 1098.3,508.6"/>
<polygon fill="#bac430" stroke="#bac430" points="1040.3,424.5 1038.5,418.8 1098.3,508.6 1100.1,514.9"/>
<polygon fill="#b7c532" stroke="#b7c532" points="1042.1,430.1 1040.3,424.5 1100.1,514.9 1101.9,521.2"/>
<polygon fill="#b4c534" stroke="#b4c534" points="1043.0,433.0 1042.1,430.1 1101.9,521.2 1102.8,524.4"/>
<polygon fill="#b1c636" stroke="#b1c636" points="1044.8,438.7 1043.0,433.0 1102.8,524.4 1104.6,530.7"/>
<polygon fill="#adc638" stroke="#adc638" points="1046.6,444.5 1044.8,438.7 1104.6,530.7 1106.4,537.1"/>
<polygon fill="#aac73a" stroke="#aac73a" points="1048.4,450.3 1046.6,444.5 1106.4,537.1 1108.2,543.5"/>
<polygon fill="#a7c73c" stroke="#a7c73c" points="1049.3,453.2 1048.4,450.3 1108.2,543.5 1109.1,546.8"/>
<polygon fill="#a3c83e" stroke="#a3c83e" points="1051.1,459.1 1049.3,453.2 1109.1,546.8 1110.9,553.2"/>
<polygon fill="#a0c841" stroke="#a0c841" points="1052.9,465.0 1051.1,459.1 1110.9,553.2 1112.7,559.7"/>
<polygon fill="#9cc943" stroke="#9cc943" points="1053.8,467.9 1052.9,465.0 1112.7,559.7 1113.6,562.9"/>
<polygon fill="#99c946" stroke="#99c946" points="1055.6,473.9 1053.8,467.9 1113.6,562.9 1115.4,569.4"/>
<polygon fill="#95ca49" stroke="#95ca49" points="1057.4,479.9 1055.6,473.9 1115.4,569.4 1117.2,576.0"/>
<polygon fill="#92ca4c" stroke="#92ca4c" points="1058.3,482.9 1057.4,479.9 1117.2,576.0 1118.1,579.3"/>
<polygon fill="#8ecb4e" stroke="#8ecb4e" points="1060.1,488.9 1058.3,482.9 1118.1,579.3 1119.9,585.8"/>
<polygon fill="#8bcb51" stroke="#8bcb51" points="1061.9,495.0 1060.1,488.9 1119.9,585.8 1121.7,592.4"/>
<polygon fill="#87cb54" stroke="#87cb54" points="1062.8,498.1 1061.9,495.0 1121.7,592.4 1122.6,595.7"/>
<polygon fill="#84cc56" stroke="#84cc56" points="1064.6,504.2 1062.8,498.1 1122.6,595.7 1124.4,602.3"/>
<polygon fill="#80cc59" stroke="#80cc59" points="1065.5,507.3 1064.6,504.2 1124.4,602.3 1125.3,605.6"/>
<polygon fill="#7ccc5c" stroke="#7ccc5c" points="1067.3,513.5 1065.5,507.3 1125.3,605.6 1127.1,612.3"/>
<polygon fill="#79cc5f" stroke="#79cc5f" points="1068.2,516.6 1067.3,513.5 1127.1,612.3 1128.0,615.6"/>
<polygon fill="#75cc61" stroke="#75cc61" points="1070.0,522.9 1068.2,516.6 1128.0,615.6 1129.8,622.3"/>
<polygon fill="#71cd64" stroke="#71cd64" points="1071.8,529.2 1070.0,522.9 1129.8,622.3 1131.6,629.0"/>
<polygon fill="#6ecd67" stroke="#6ecd67" points="1072.7,532.3 1071.8,529.2 1131.6,629.0 1132.5,632.3"/>
<polygon fill="#6acd6a" stroke="#6acd6a" points="1074.5,538.6 1072.7,532.3 1132.5,632.3 1134.3,639.1"/>
<polygon fill="#67cd6c" stroke="#67cd6c" points="1075.4,541.8 1074.5,538.6 1134.3,639.1 1135.2,642.4"/>
<polygon fill="#64cd6f" stroke="#64cd6f" points="1077.2,548.2 1075.4,541.8 1135.2,642.4 1137.0,649.2"/>
<polygon fill="#60cd72" stroke="#60cd72" points="1078.1,551.4 1077.2,548.2 1137.0,649.2 1137.9,652.5"/>
<polygon fill="#5dcc75" stroke="#5dcc75" points="1079.9,557.9 1078.1,551.4 1137.9,652.5 1139.7,659.3"/>
<polygon fill="#5acc77" stroke="#5acc77" points="1080.8,561.1 1079.9,557.9 1139.7,659.3 1140.6,662.7"/>
<polygon fill="#57cc7a" stroke="#57cc7a" points="1081.7,564.3 1080.8,561.1 1140.6,662.7 1141.5,666.1"/>
<polygon fill="#54cc7d" stroke="#54cc7d" points="1083.5,570.8 1081.7,564.3 1141.5,666.1 1143.3,672.9"/>
<polygon fill="#51cc7f" stroke="#51cc7f" points="1084.4,574.1 1083.5,570.8 1143.3,672.9 1144.2,676.3"/>
<polygon fill="#4ecc82" stroke="#4ecc82" points="1086.2,580.6 1084.4,574.1 1144.2,676.3 1146.0,683.1"/>
<polygon fill="#4acb84" stroke="#4acb84" points="1087.1,583.9 1086.2,580.6 1146.0,683.1 1146.9,686.5"/>
<polygon fill="#48cb86" stroke="#48cb86" points="1088.9,590.5 1087.1,583.9 1146.9,686.5 1148.7,693.3"/>
<polygon fill="#45cb89" stroke="#45cb89" points="1089.8,593.8 1088.9,590.5 1148.7,693.3 1149.6,696.7"/>
<polygon fill="#42ca8b" stroke="#42ca8b" points="1090.7,597.2 1089.8,593.8 1149.6,696.7 1150.5,700.1"/>
<polygon fill="#3fca8e" stroke="#3fca8e" points="1092.5,603.8 1090.7,597.2 1150.5,700.1 1152.3,706.9"/>
<polygon fill="#3dca90" stroke="#3dca90" points="1093.4,607.2 1092.5,603.8 1152.3,706.9 1153.2,710.4"/>
<polygon fill="#3bc992" stroke="#3bc992" points="1095.2,613.9 1093.4,607.2 1153.2,710.4 1155.0,717.2"/>
<polygon fill="#39c994" stroke="#39c994" points="1096.1,617.2 1095.2,613.9 1155.0,717.2 1155.9,720.6"/>
<polygon fill="#38c897" stroke="#38c897" points="1097.0,620.6 1096.1,617.2 1155.9,720.6 1156.8,724.1"/>
<polygon fill="#36c899" stroke="#36c899" points="1098.8,627.3 1097.0,620.6 1156.8,724.1 1158.6,730.9"/>
<polygon fill="#35c79b" stroke="#35c79b" points="1099.7,630.7 1098.8,627.3 1158.6,730.9 1159.5,734.3"/>
<polygon fill="#33c79d" stroke="#33c79d" points="1101.5,637.5 1099.7,630.7 1159.5,734.3 1161.3,741.2"/>
<polygon fill="#32c69f" stroke="#32c69f" points="1102.4,640.9 1101.5,637.5 1161.3,741.2 1162.2,744.6"/>
<polygon fill="#30c5a1" stroke="#30c5a1" points="1103.3,644.4 1102.4,640.9 1162.2,744.6 1163.1,748.1"/>
<polygon fill="#2fc5a3" stroke="#2fc5a3" points="1105.1,651.2 1103.3,644.4 1163.1,748.1 1164.9,754.9"/>
<polygon fill="#2ec4a5" stroke="#2ec4a5" points="1106.0,654.6 1105.1,651.2 1164.9,754.9 1165.9,758.3"/>
<polygon fill="#2cc4a6" stroke="#2cc4a6" points="1106.9,658.1 1106.0,654.6 1165.9,758.3 1166.8,761.8"/>
<polygon fill="#2bc3a8" stroke="#2bc3a8" points="1108.7,665.0 1106.9,658.1 1166.8,761.8 1168.6,768.6"/>
<polygon fill="#29c3aa" stroke="#29c3aa" points="1109.6,668.4 1108.7,665.0 1168.6,768.6 1169.5,772.1"/>
<polygon fill="#27c2ac" stroke="#27c2ac" points="1110.5,671.9 1109.6,668.4 1169.5,772.1 1170.4,775.5"/>
<polygon fill="#25c2ae" stroke="#25c2ae" points="1112.3,678.8 1110.5,671.9 1170.4,775.5 1172.2,782.4"/>
<polygon fill="#22c1b0" stroke="#22c1b0" points="1113.2,682.3 1112.3,678.8 1172.2,782.4 1173.1,785.8"/>
<polygon fill="#1fc1b1" stroke="#1fc1b1" points="1114.1,685.8 1113.2,682.3 1173.1,785.8 1174.0,789.2"/>
<polygon fill="#1dc0b3" stroke="#1dc0b3" points="1115.0,689.3 1114.1,685.8 1174.0,789.2 1174.9,792.6"/>
<polygon fill="#1abfb5" stroke="#1abfb5" points="1116.8,696.3 1115.0,689.3 1174.9,792.6 1176.7,799.5"/>
<polygon fill="#17bfb6" stroke="#17bfb6" points="1117.7,699.8 1116.8,696.3 1176.7,799.5 1177.6,802.9"/>
<polygon fill="#13beb8" stroke="#13beb8" points="1118.6,703.3 1117.7,699.8 1177.6,802.9 1178.5,806.3"/>
<polygon fill="#10beba" stroke="#10beba" points="1120.4,710.3 1118.6,703.3 1178.5,806.3 1180.3,813.1"/>
<polygon fill="#0dbdbc" stroke="#0dbdbc" points="1121.3,713.9 1120.4,710.3 1180.3,813.1 1181.2,816.6"/>
<polygon fill="#0abdbd" stroke="#0abdbd" points="1122.2,717.4 1121.3,713.9 1181.2,816.6 1182.1,820.0"/>
<polygon fill="#08bcbf" stroke="#08bcbf" points="1124.0,724.5 1122.2,717.4 1182.1,820.0 1183.9,826.8"/>
<polygon fill="#05bbc1" stroke="#05bbc1" points="1124.9,728.0 1124.0,724.5 1183.9,826.8 1184.8,830.2"/>
<polygon fill="#03bbc2" stroke="#03bbc2" points="1125.8,731.5 1124.9,728.0 1184.8,830.2 1185.7,833.6"/>
<polygon fill="#02bac4" stroke="#02bac4" points="1126.7,735.1 1125.8,731.5 1185.7,833.6 1186.6,837.0"/>
<polygon fill="#01b9c6" stroke="#01b9c6" points="1128.5,742.2 1126.7,735.1 1186.6,837.0 1188.4,843.7"/>
<polygon fill="#01b9c7" stroke="#01b9c7" points="1129.4,745.7 1128.5,742.2 1188.4,843.7 1189.3,847.1"/>
<polygon fill="#01b8c9" stroke="#01b8c9" points="1130.3,749.3 1129.4,745.7 1189.3,847.1 1190.2,850.5"/>
<polygon fill="#01b7ca" stroke="#01b7ca" points="1131.2,752.9 1130.3,749.3 1190.2,850.5 1191.1,853.9"/>
<polygon fill="#03b7cc" stroke="#03b7cc" points="1133.0,760.0 1131.2,752.9 1191.1,853.9 1192.9,860.6"/>
<polygon fill="#05b6cd" stroke="#05b6cd" points="1133.9,763.6 1133.0,760.0 1192.9,860.6 1193.8,864.0"/>
<polygon fill="#06b5cf" stroke="#06b5cf" points="1134.8,767.1 1133.9,763.6 1193.8,864.0 1194.7,867.4"/>
<polygon fill="#08b4d1" stroke="#08b4d1" points="1136.6,774.3 1134.8,767.1 1194.7,867.4 1196.5,874.1"/>
<polygon fill="#0bb4d2" stroke="#0bb4d2" points="1137.5,777.9 1136.6,774.3 1196.5,874.1 1197.4,877.4"/>
<polygon fill="#0db3d3" stroke="#0db3d3" points="1138.4,781.4 1137.5,777.9 1197.4,877.4 1198.3,880.7"/>
<polygon fill="#10b2d5" stroke="#10b2d5" points="1139.3,785.0 1138.4,781.4 1198.3,880.7 1199.2,884.1"/>
<polygon fill="#12b1d6" stroke="#12b1d6" points="1141.1,792.2 1139.3,785.0 1199.2,884.1 1201.0,890.7"/>
<polygon fill="#14b0d8" stroke="#14b0d8" points="1142.0,795.8 1141.1,792.2 1201.0,890.7 1201.9,894.1"/>
<polygon fill="#15afd9" stroke="#15afd9" points="1142.9,799.4 1142.0,795.8 1201.9,894.1 1202.8,897.4"/>
<polygon fill="#17aeda" stroke="#17aeda" points="1143.8,802.9 1142.9,799.4 1202.8,897.4 1203.7,900.7"/>
<polygon fill="#18addb" stroke="#18addb" points="1145.6,810.1 1143.8,802.9 1203.7,900.7 1205.5,907.3"/>
<polygon fill="#19acdc" stroke="#19acdc" points="1146.5,813.7 1145.6,810.1 1205.5,907.3 1206.4,910.6"/>
<polygon fill="#1aabdd" stroke="#1aabdd" points="1147.4,817.3 1146.5,813.7 1206.4,910.6 1207.3,913.9"/>
<polygon fill="#1baadf" stroke="#1baadf" points="1148.3,820.9 1147.4,817.3 1207.3,913.9 1208.2,917.1"/>
<polygon fill="#1ca9e0" stroke="#1ca9e0" points="1150.2,828.1 1148.3,820.9 1208.2,917.1 1210.0,923.7"/>
<polygon fill="#1da8e0" stroke="#1da8e0" points="1151.1,831.7 1150.2,828.1 1210.0,923.7 1210.9,926.9"/>
<polygon fill="#1ea7e1" stroke="#1ea7e1" points="1152.0,835.2 1151.1,831.7 1210.9,926.9 1211.8,930.2"/>
<polygon fill="#1fa6e2" stroke="#1fa6e2" points="1152.9,838.8 1152.0,835.2 1211.8,930.2 1212.7,933.4"/>
<polygon fill="#20a5e3" stroke="#20a5e3" points="1154.7,846.0 1152.9,838.8 1212.7,933.4 1214.5,939.9"/>
<polygon fill="#21a4e3" stroke="#21a4e3" points="1155.6,849.6 1154.7,846.0 1214.5,939.9 1215.4,943.1"/>
<polygon fill="#22a2e4" stroke="#22a2e4" points="1156.5,853.2 1155.6,849.6 1215.4,943.1 1216.3,946.3"/>
<polygon fill="#22a1e4" stroke="#22a1e4" points="1157.4,856.8 1156.5,853.2 1216.3,946.3 1217.2,949.6"/>
<polygon fill="#23a0e5" stroke="#23a0e5" points="1159.2,863.9 1157.4,856.8 1217.2,949.6 1219.0,955.9"/>
<polygon fill="#249fe5" stroke="#249fe5" points="1160.1,867.5 1159.2,863.9 1219.0,955.9 1219.9,959.1"/>
<polygon fill="#249ee6" stroke="#249ee6" points="1161.0,871.1 1160.1,867.5 1219.9,959.1 1220.8,962.3"/>
<polygon fill="#259de7" stroke="#259de7" points="1162.8,878.2 1161.0,871.1 1220.8,962.3 1222.6,968.6"/>
<polygon fill="#259be7" stroke="#259be7" points="1163.7,881.8 1162.8,878.2 1222.6,968.6 1223.5,971.8"/>
<polygon fill="#269ae8" stroke="#269ae8" points="1164.6,885.4 1163.7,881.8 1223.5,971.8 1224.4,974.9"/>
<polygon fill="#2699e9" stroke="#2699e9" points="1165.5,888.9 1164.6,885.4 1224.4,974.9 1225.3,978.1"/>
<polygon fill="#2798ea" stroke="#2798ea" points="1167.3,896.0 1165.5,888.9 1225.3,978.1 1227.1,984.3"/>
<polygon fill="#2797eb" stroke="#2797eb" points="1168.2,899.6 1167.3,896.0 1227.1,984.3 1228.0,987.4"/>
<polygon fill="#2895ec" stroke="#2895ec" points="1169.1,903.1 1168.2,899.6 1228.0,987.4 1228.9,990.5"/>
<polygon fill="#2994ed" stroke="#2994ed" points="1170.0,906.7 1169.1,903.1 1228.9,990.5 1229.8,993.6"/>
<polygon fill="#2a93ee" stroke="#2a93ee" points="1171.8,913.8 1170.0,906.7 1229.8,993.6 1231.6,999.7"/>
<polygon fill="#2b92ee" stroke="#2b92ee" points="1172.7,917.3 1171.8,913.8 1231.6,999.7 1232.5,1002.8"/>
<polygon fill="#2b90ef" stroke="#2b90ef" points="1173.6,920.8 1172.7,917.3 1232.5,1002.8 1233.4,1005.8"/>
<polygon fill="#2c8ff0" stroke="#2c8ff0" points="1175.4,927.9 1173.6,920.8 1233.4,1005.8 1235.2,1011.9"/>
<polygon fill="#2c8ef1" stroke="#2c8ef1" points="1176.3,931.4 1175.4,927.9 1235.2,1011.9 1236.1,1014.9"/>
<polygon fill="#2d8df2" stroke="#2d8df2" points="1177.2,934.9 1176.3,931.4 1236.1,1014.9 1237.0,1017.9"/>
<polygon fill="#2d8bf3" stroke="#2d8bf3" points="1179.0,941.9 1177.2,934.9 1237.0,1017.9 1238.8,1023.9"/>
<polygon fill="#2d8af4" stroke="#2d8af4" points="1179.9,945.4 1179.0,941.9 1238.8,1023.9 1239.7,1026.9"/>
<polygon fill="#2d89f6" stroke="#2d89f6" points="1180.8,948.9 1179.9,945.4 1239.7,1026.9 1240.6,1029.8"/>
<polygon fill="#2d87f7" stroke="#2d87f7" points="1182.6,955.8 1180.8,948.9 1240.6,1029.8 1242.4,1035.7"/>
<polygon fill="#2e86f7" stroke="#2e86f7" points="1183.5,959.3 1182.6,955.8 1242.4,1035.7 1243.3,1038.6"/>
<polygon fill="#2e85f8" stroke="#2e85f8" points="1184.4,962.7 1183.5,959.3 1243.3,1038.6 1244.2,1041.6"/>
<polygon fill="#2e83f9" stroke="#2e83f9" points="1185.3,966.2 1184.4,962.7 1244.2,1041.6 1245.1,1044.5"/>
<polygon fill="#2f82fa" stroke="#2f82fa" points="1187.1,973.1 1185.3,966.2 1245.1,1044.5 1246.9,1050.2"/>
<polygon fill="#2f81fa" stroke="#2f81fa" points="1188.0,976.5 1187.1,973.1 1246.9,1050.2 1247.8,1053.1"/>
<polygon fill="#307ffb" stroke="#307ffb" points="1189.8,983.4 1188.0,976.5 1247.8,1053.1 1249.6,1058.8"/>
<polygon fill="#317efb" stroke="#317efb" points="1190.7,986.8 1189.8,983.4 1249.6,1058.8 1250.5,1061.7"/>
<polygon fill="#327cfc" stroke="#327cfc" points="1191.6,990.2 1190.7,986.8 1250.5,1061.7 1251.4,1064.5"/>
<polygon fill="#337bfd" stroke="#337bfd" points="1193.4,997.0 1191.6,990.2 1251.4,1064.5 1253.2,1070.1"/>
<polygon fill="#3479fd" stroke="#3479fd" points="1194.3,1000.3 1193.4,997.0 1253.2,1070.1 1254.1,1072.9"/>
<polygon fill="#3678fe" stroke="#3678fe" points="1195.2,1003.7 1194.3,1000.3 1254.1,1072.9 1255.0,1075.7"/>
<polygon fill="#3776fe" stroke="#3776fe" points="1197.0,1010.4 1195.2,1003.7 1255.0,1075.7 1256.8,1081.2"/>
<polygon fill="#3975fe" stroke="#3975fe" points="1197.9,1013.8 1197.0,1010.4 1256.8,1081.2 1257.7,1083.9"/>
<polygon fill="#3a73fe" stroke="#3a73fe" points="1199.7,1020.4 1197.9,1013.8 1257.7,1083.9 1259.5,1089.4"/>
<polygon fill="#3c72ff" stroke="#3c72ff" points="1200.6,1023.7 1199.7,1020.4 1259.5,1089.4 1260.4,1092.1"/>
<polygon fill="#3d70ff" stroke="#3d70ff" points="1201.5,1027.0 1200.6,1023.7 1260.4,1092.1 1261.3,1094.7"/>
<polygon fill="#3f6fff" stroke="#3f6fff" points="1203.3,1033.6 1201.5,1027.0 1261.3,1094.7 1263.1,1100.1"/>
<polygon fill="#406dfe" stroke="#406dfe" points="1204.2,1036.9 1203.3,1033.6 1263.1,1100.1 1264.0,1102.7"/>
<polygon fill="#416cfe" stroke="#416cfe" points="1206.0,1043.4 1204.2,1036.9 1264.0,1102.7 1265.8,1108.0"/>
<polygon fill="#426afe" stroke="#426afe" points="1206.9,1046.7 1206.0,1043.4 1265.8,1108.0 1266.7,1110.6"/>
<polygon fill="#4369fe" stroke="#4369fe" points="1208.7,1053.1 1206.9,1046.7 1266.7,1110.6 1268.5,1115.8"/>
<polygon fill="#4367fd" stroke="#4367fd" points="1209.6,1056.3 1208.7,1053.1 1268.5,1115.8 1269.4,1118.3"/>
<polygon fill="#4466fd" stroke="#4466fd" points="1211.4,1062.7 1209.6,1056.3 1269.4,1118.3 1271.2,1123.4"/>
<polygon fill="#4464fd" stroke="#4464fd" points="1212.3,1065.9 1211.4,1062.7 1271.2,1123.4 1272.1,1126.0"/>
<polygon fill="#4563fc" stroke="#4563fc" points="1214.1,1072.2 1212.3,1065.9 1272.1,1126.0 1273.9,1131.0"/>
<polygon fill="#4561fc" stroke="#4561fc" points="1215.0,1075.3 1214.1,1072.2 1273.9,1131.0 1274.8,1133.5"/>
<polygon fill="#4660fc" stroke="#4660fc" points="1216.8,1081.6 1215.0,1075.3 1274.8,1133.5 1276.6,1138.4"/>
<polygon fill="#465ffb" stroke="#465ffb" points="1217.7,1084.7 1216.8,1081.6 1276.6,1138.4 1277.5,1140.8"/>
<polygon fill="#465dfb" stroke="#465dfb" points="1219.5,1090.9 1217.7,1084.7 1277.5,1140.8 1279.3,1145.7"/>
<polygon fill="#475cfa" stroke="#475cfa" points="1221.3,1097.0 1219.5,1090.9 1279.3,1145.7 1281.1,1150.5"/>
<polygon fill="#475af9" stroke="#475af9" points="1222.2,1100.0 1221.3,1097.0 1281.1,1150.5 1282.0,1152.9"/>
<polygon fill="#4759f8" stroke="#4759f8" points="1224.0,1106.1 1222.2,1100.0 1282.0,1152.9 1283.8,1157.6"/>
<polygon fill="#4758f8" stroke="#4758f8" points="1224.9,1109.1 1224.0,1106.1 1283.8,1157.6 1284.7,1159.9"/>
<polygon fill="#4756f7" stroke="#4756f7" points="1226.7,1115.0 1224.9,1109.1 1284.7,1159.9 1286.5,1164.6"/>
<polygon fill="#4755f6" stroke="#4755f6" points="1228.5,1120.9 1226.7,1115.0 1286.5,1164.6 1288.3,1169.1"/>
<polygon fill="#4854f5" stroke="#4854f5" points="1229.4,1123.9 1228.5,1120.9 1288.3,1169.1 1289.2,1171.4"/>
<polygon fill="#4852f4" stroke="#4852f4" points="1231.2,1129.7 1229.4,1123.9 1289.2,1171.4 1291.0,1175.9"/>
<polygon fill="#4851f3" stroke="#4851f3" points="1233.0,1135.5 1231.2,1129.7 1291.0,1175.9 1292.8,1180.3"/>
<polygon fill="#484ff2" stroke="#484ff2" points="1234.8,1141.2 1233.0,1135.5 1292.8,1180.3 1294.6,1184.7"/>
<polygon fill="#484ef1" stroke="#484ef1" points="1236.6,1146.8 1234.8,1141.2 1294.6,1184.7 1296.4,1189.1"/>
<polygon fill="#484df0" stroke="#484df0" points="1237.5,1149.6 1236.6,1146.8 1296.4,1189.1 1297.3,1191.2"/>
<polygon fill="#484bef" stroke="#484bef" points="1239.3,1155.2 1237.5,1149.6 1297.3,1191.2 1299.1,1195.4"/>
<polygon fill="#484aee" stroke="#484aee" points="1241.1,1160.7 1239.3,1155.2 1299.1,1195.4 1300.9,1199.6"/>
<polygon fill="#4848ec" stroke="#4848ec" points="1242.9,1166.1 1241.1,1160.7 1300.9,1199.6 1302.7,1203.8"/>
<polygon fill="#4747eb" stroke="#4747eb" points="1244.7,1171.5 1242.9,1166.1 1302.7,1203.8 1304.5,1207.9"/>
<polygon fill="#4746ea" stroke="#4746ea" points="1246.5,1176.8 1244.7,1171.5 1304.5,1207.9 1306.3,1211.9"/>
<polygon fill="#4744e8" stroke="#4744e8" points="1248.3,1182.0 1246.5,1176.8 1306.3,1211.9 1308.1,1215.9"/>
<polygon fill="#4743e7" stroke="#4743e7" points="1250.1,1187.2 1248.3,1182.0 1308.1,1215.9 1310.0,1219.8"/>
<polygon fill="#4741e5" stroke="#4741e5" points="1251.9,1192.4 1250.1,1187.2 1310.0,1219.8 1311.8,1223.7"/>
<polygon fill="#4740e4" stroke="#4740e4" points="1254.6,1199.9 1251.9,1192.4 1311.8,1223.7 1314.5,1229.4"/>
<polygon fill="#473fe2" stroke="#473fe2" points="1256.4,1204.9 1254.6,1199.9 1314.5,1229.4 1316.3,1233.1"/>
<polygon fill="#463de0" stroke="#463de0" points="1258.2,1209.8 1256.4,1204.9 1316.3,1233.1 1318.1,1236.8"/>
<polygon fill="#463cde" stroke="#463cde" points="1260.9,1217.0 1258.2,1209.8 1318.1,1236.8 1320.8,1242.2"/>
<polygon fill="#463bdc" stroke="#463bdc" points="1262.7,1221.8 1260.9,1217.0 1320.8,1242.2 1322.6,1245.8"/>
<polygon fill="#4639da" stroke="#4639da" points="1265.4,1228.7 1262.7,1221.8 1322.6,1245.8 1325.3,1251.1"/>
<polygon fill="#4538d8" stroke="#4538d8" points="1267.2,1233.3 1265.4,1228.7 1325.3,1251.1 1327.1,1254.5"/>
<polygon fill="#4537d6" stroke="#4537d6" points="1269.9,1240.1 1267.2,1233.3 1327.1,1254.5 1329.8,1259.6"/>
<polygon fill="#4536d3" stroke="#4536d3" points="1272.6,1246.7 1269.9,1240.1 1329.8,1259.6 1332.5,1264.6"/>
<polygon fill="#4435d1" stroke="#4435d1" points="1275.3,1253.1 1272.6,1246.7 1332.5,1264.6 1335.2,1269.5"/>
<polygon fill="#4434ce" stroke="#4434ce" points="1278.0,1259.4 1275.3,1253.1 1335.2,1269.5 1337.9,1274.3"/>
<polygon fill="#4433cc" stroke="#4433cc" points="1280.7,1265.6 1278.0,1259.4 1337.9,1274.3 1340.6,1278.9"/>
<polygon fill="#4332c9" stroke="#4332c9" points="1283.4,1271.6 1280.7,1265.6 1340.6,1278.9 1343.3,1283.5"/>
<polygon fill="#4331c6" stroke="#4331c6" points="1287.0,1279.5 1283.4,1271.6 1343.3,1283.5 1346.9,1289.5"/>
<polygon fill="#4230c3" stroke="#4230c3" points="1290.6,1287.1 1287.0,1279.5 1346.9,1289.5 1350.5,1295.4"/>
<polygon fill="#422fc1" stroke="#422fc1" points="1294.3,1294.4 1290.6,1287.1 1350.5,1295.4 1354.1,1301.1"/>
<polygon fill="#412ebe" stroke="#412ebe" points="1298.8,1303.3 1294.3,1294.4 1354.1,1301.1 1358.6,1308.0"/>
<polygon fill="#412dbb" stroke="#412dbb" points="1303.3,1311.8 1298.8,1303.3 1358.6,1308.0 1363.1,1314.8"/>
<polygon fill="#412cb8" stroke="#412cb8" points="1307.8,1320.0 1303.3,1311.8 1363.1,1314.8 1367.6,1321.4"/>
<polygon fill="#402bb6" stroke="#402bb6" points="1314.1,1331.0 1307.8,1320.0 1367.6,1321.4 1373.9,1330.3"/>
<polygon fill="#402ab3" stroke="#402ab3" points="1321.3,1342.9 1314.1,1331.0 1373.9,1330.3 1381.1,1340.2"/>
<polygon fill="#3f29b0" stroke="#3f29b0" points="1330.3,1356.8 1321.3,1342.9 1381.1,1340.2 1390.1,1352.1"/>
<polygon fill="#3f28ad" stroke="#3f28ad" points="1343.8,1376.2 1336.6,1366.1 1330.3,1356.8 1390.1,1352.1 1403.6,1369.3"/>
<polygon fill="#3e27aa" stroke="#3e27aa" points="1451.0,1507.7 1397.8,1444.1 1376.2,1417.9 1366.3,1405.6 1358.2,1395.3 1351.0,1385.9 1343.8,1376.2 1403.6,1369.3 1417.1,1386.0 1433.3,1405.7 1510.8,1498.4"/>
<polygon fill="#fec835" stroke="#fec835" points="960.6,300.1 958.8,295.8 1018.7,359.4 1020.5,364.6"/>
<polygon fill="#fec636" stroke="#fec636" points="962.4,304.4 960.6,300.1 1020.5,364.6 1022.3,369.9"/>
<polygon fill="#fec537" stroke="#fec537" points="965.1,311.0 962.4,304.4 1022.3,369.9 1025.0,377.8"/>
<polygon fill="#fec338" stroke="#fec338" points="967.8,317.6 965.1,311.0 1025.0,377.8 1027.7,385.8"/>
<polygon fill="#fec239" stroke="#fec239" points="970.5,324.4 967.8,317.6 1027.7,385.8 1030.4,394.0"/>
<polygon fill="#fec13a" stroke="#fec13a" points="972.3,328.9 970.5,324.4 1030.4,394.0 1032.2,399.4"/>
<polygon fill="#febf3b" stroke="#febf3b" points="975.0,335.8 972.3,328.9 1032.2,399.4 1034.9,407.7"/>
<polygon fill="#febe3c" stroke="#febe3c" points="976.8,340.4 975.0,335.8 1034.9,407.7 1036.7,413.2"/>
<polygon fill="#fdbd3d" stroke="#fdbd3d" points="979.5,347.4 976.8,340.4 1036.7,413.2 1039.4,421.6"/>
<polygon fill="#fbbc3d" stroke="#fbbc3d" points="981.3,352.2 979.5,347.4 1039.4,421.6 1041.2,427.3"/>
<polygon fill="#fabb3d" stroke="#fabb3d" points="984.0,359.3 981.3,352.2 1041.2,427.3 1043.9,435.9"/>
<polygon fill="#f8ba3d" stroke="#f8ba3d" points="985.8,364.2 984.0,359.3 1043.9,435.9 1045.7,441.6"/>
<polygon fill="#f6ba3c" stroke="#f6ba3c" points="987.7,369.0 985.8,364.2 1045.7,441.6 1047.5,447.4"/>
<polygon fill="#f4ba3a" stroke="#f4ba3a" points="990.4,376.4 987.7,369.0 1047.5,447.4 1050.2,456.1"/>
<polygon fill="#f2ba38" stroke="#f2ba38" points="992.2,381.4 990.4,376.4 1050.2,456.1 1052.0,462.0"/>
<polygon fill="#f0ba36" stroke="#f0ba36" points="994.0,386.4 992.2,381.4 1052.0,462.0 1053.8,467.9"/>
<polygon fill="#eeba34" stroke="#eeba34" points="995.8,391.5 994.0,386.4 1053.8,467.9 1055.6,473.9"/>
<polygon fill="#ecba32" stroke="#ecba32" points="997.6,396.6 995.8,391.5 1055.6,473.9 1057.4,479.9"/>
<polygon fill="#e9bb30" stroke="#e9bb30" points="1000.3,404.3 997.6,396.6 1057.4,479.9 1060.1,488.9"/>
<polygon fill="#e7bb2e" stroke="#e7bb2e" points="1002.1,409.5 1000.3,404.3 1060.1,488.9 1061.9,495.0"/>
<polygon fill="#e5bb2c" stroke="#e5bb2c" points="1003.9,414.8 1002.1,409.5 1061.9,495.0 1063.7,501.2"/>
<polygon fill="#e2bc2b" stroke="#e2bc2b" points="1005.7,420.0 1003.9,414.8 1063.7,501.2 1065.5,507.3"/>
<polygon fill="#e0bc2a" stroke="#e0bc2a" points="1007.5,425.4 1005.7,420.0 1065.5,507.3 1067.3,513.5"/>
<polygon fill="#ddbd29" stroke="#ddbd29" points="1009.3,430.8 1007.5,425.4 1067.3,513.5 1069.1,519.7"/>
<polygon fill="#dbbd28" stroke="#dbbd28" points="1011.1,436.2 1009.3,430.8 1069.1,519.7 1070.9,526.0"/>
<polygon fill="#d8be28" stroke="#d8be28" points="1012.0,438.9 1011.1,436.2 1070.9,526.0 1071.8,529.2"/>
<polygon fill="#d5be28" stroke="#d5be28" points="1013.8,444.4 1012.0,438.9 1071.8,529.2 1073.6,535.5"/>
<polygon fill="#d2bf27" stroke="#d2bf27" points="1015.6,449.9 1013.8,444.4 1073.6,535.5 1075.4,541.8"/>
<polygon fill="#d0c028" stroke="#d0c028" points="1017.4,455.5 1015.6,449.9 1075.4,541.8 1077.2,548.2"/>
<polygon fill="#cdc028" stroke="#cdc028" points="1019.2,461.1 1017.4,455.5 1077.2,548.2 1079.0,554.6"/>
<polygon fill="#cac129" stroke="#cac129" points="1021.0,466.8 1019.2,461.1 1079.0,554.6 1080.8,561.1"/>
<polygon fill="#c7c12a" stroke="#c7c12a" points="1021.9,469.6 1021.0,466.8 1080.8,561.1 1081.7,564.3"/>
<polygon fill="#c4c22b" stroke="#c4c22b" points="1023.7,475.3 1021.9,469.6 1081.7,564.3 1083.5,570.8"/>
<polygon fill="#c1c32c" stroke="#c1c32c" points="1025.5,481.1 1023.7,475.3 1083.5,570.8 1085.3,577.4"/>
<polygon fill="#bec32e" stroke="#bec32e" points="1027.3,486.9 1025.5,481.1 1085.3,577.4 1087.1,583.9"/>
<polygon fill="#bac430" stroke="#bac430" points="1028.2,489.9 1027.3,486.9 1087.1,583.9 1088.0,587.2"/>
<polygon fill="#b7c532" stroke="#b7c532" points="1030.0,495.7 1028.2,489.9 1088.0,587.2 1089.8,593.8"/>
<polygon fill="#b4c534" stroke="#b4c534" points="1031.8,501.7 1030.0,495.7 1089.8,593.8 1091.6,600.5"/>
<polygon fill="#b1c636" stroke="#b1c636" points="1032.7,504.6 1031.8,501.7 1091.6,600.5 1092.5,603.8"/>
<polygon fill="#adc638" stroke="#adc638" points="1034.5,510.6 1032.7,504.6 1092.5,603.8 1094.3,610.5"/>
<polygon fill="#aac73a" stroke="#aac73a" points="1036.3,516.7 1034.5,510.6 1094.3,610.5 1096.1,617.2"/>
<polygon fill="#a7c73c" stroke="#a7c73c" points="1037.2,519.7 1036.3,516.7 1096.1,617.2 1097.0,620.6"/>
<polygon fill="#a3c83e" stroke="#a3c83e" points="1039.0,525.8 1037.2,519.7 1097.0,620.6 1098.8,627.3"/>
<polygon fill="#a0c841" stroke="#a0c841" points="1039.9,528.9 1039.0,525.8 1098.8,627.3 1099.7,630.7"/>
<polygon fill="#9cc943" stroke="#9cc943" points="1041.7,535.0 1039.9,528.9 1099.7,630.7 1101.5,637.5"/>
<polygon fill="#99c946" stroke="#99c946" points="1043.5,541.2 1041.7,535.0 1101.5,637.5 1103.3,644.4"/>
<polygon fill="#95ca49" stroke="#95ca49" points="1044.4,544.4 1043.5,541.2 1103.3,644.4 1104.2,647.8"/>
<polygon fill="#92ca4c" stroke="#92ca4c" points="1046.2,550.6 1044.4,544.4 1104.2,647.8 1106.0,654.6"/>
<polygon fill="#8ecb4e" stroke="#8ecb4e" points="1047.1,553.8 1046.2,550.6 1106.0,654.6 1106.9,658.1"/>
<polygon fill="#8bcb51" stroke="#8bcb51" points="1048.9,560.1 1047.1,553.8 1106.9,658.1 1108.7,665.0"/>
<polygon fill="#87cb54" stroke="#87cb54" points="1049.8,563.3 1048.9,560.1 1108.7,665.0 1109.6,668.4"/>
<polygon fill="#84cc56" stroke="#84cc56" points="1051.6,569.7 1049.8,563.3 1109.6,668.4 1111.4,675.4"/>
<polygon fill="#80cc59" stroke="#80cc59" points="1052.5,572.9 1051.6,569.7 1111.4,675.4 1112.3,678.8"/>
<polygon fill="#7ccc5c" stroke="#7ccc5c" points="1054.3,579.4 1052.5,572.9 1112.3,678.8 1114.1,685.8"/>
<polygon fill="#79cc5f" stroke="#79cc5f" points="1055.2,582.6 1054.3,579.4 1114.1,685.8 1115.0,689.3"/>
<polygon fill="#75cc61" stroke="#75cc61" points="1057.0,589.2 1055.2,582.6 1115.0,689.3 1116.8,696.3"/>
<polygon fill="#71cd64" stroke="#71cd64" points="1057.9,592.4 1057.0,589.2 1116.8,696.3 1117.7,699.8"/>
<polygon fill="#6ecd67" stroke="#6ecd67" points="1058.8,595.7 1057.9,592.4 1117.7,699.8 1118.6,703.3"/>
<polygon fill="#6acd6a" stroke="#6acd6a" points="1060.6,602.3 1058.8,595.7 1118.6,703.3 1120.4,710.3"/>
<polygon fill="#67cd6c" stroke="#67cd6c" points="1061.5,605.7 1060.6,602.3 1120.4,710.3 1121.3,713.9"/>
<polygon fill="#64cd6f" stroke="#64cd6f" points="1063.3,612.3 1061.5,605.7 1121.3,713.9 1123.1,720.9"/>
<polygon fill="#60cd72" stroke="#60cd72" points="1064.2,615.7 1063.3,612.3 1123.1,720.9 1124.0,724.5"/>
<polygon fill="#5dcc75" stroke="#5dcc75" points="1065.1,619.0 1064.2,615.7 1124.0,724.5 1124.9,728.0"/>
<polygon fill="#5acc77" stroke="#5acc77" points="1066.9,625.8 1065.1,619.0 1124.9,728.0 1126.7,735.1"/>
<polygon fill="#57cc7a" stroke="#57cc7a" points="1067.8,629.2 1066.9,625.8 1126.7,735.1 1127.6,738.6"/>
<polygon fill="#54cc7d" stroke="#54cc7d" points="1068.7,632.6 1067.8,629.2 1127.6,738.6 1128.5,742.2"/>
<polygon fill="#51cc7f" stroke="#51cc7f" points="1070.5,639.4 1068.7,632.6 1128.5,742.2 1130.3,749.3"/>
<polygon fill="#4ecc82" stroke="#4ecc82" points="1071.4,642.8 1070.5,639.4 1130.3,749.3 1131.2,752.9"/>
<polygon fill="#4acb84" stroke="#4acb84" points="1073.2,649.7 1071.4,642.8 1131.2,752.9 1133.0,760.0"/>
<polygon fill="#48cb86" stroke="#48cb86" points="1074.1,653.1 1073.2,649.7 1133.0,760.0 1133.9,763.6"/>
<polygon fill="#45cb89" stroke="#45cb89" points="1075.0,656.6 1074.1,653.1 1133.9,763.6 1134.8,767.1"/>
<polygon fill="#42ca8b" stroke="#42ca8b" points="1075.9,660.1 1075.0,656.6 1134.8,767.1 1135.7,770.7"/>
<polygon fill="#3fca8e" stroke="#3fca8e" points="1077.7,667.0 1075.9,660.1 1135.7,770.7 1137.5,777.9"/>
<polygon fill="#3dca90" stroke="#3dca90" points="1078.6,670.5 1077.7,667.0 1137.5,777.9 1138.4,781.4"/>
<polygon fill="#3bc992" stroke="#3bc992" points="1079.5,674.0 1078.6,670.5 1138.4,781.4 1139.3,785.0"/>
<polygon fill="#39c994" stroke="#39c994" points="1081.3,681.1 1079.5,674.0 1139.3,785.0 1141.1,792.2"/>
<polygon fill="#38c897" stroke="#38c897" points="1082.2,684.6 1081.3,681.1 1141.1,792.2 1142.0,795.8"/>
<polygon fill="#36c899" stroke="#36c899" points="1083.1,688.2 1082.2,684.6 1142.0,795.8 1142.9,799.4"/>
<polygon fill="#35c79b" stroke="#35c79b" points="1084.9,695.3 1083.1,688.2 1142.9,799.4 1144.7,806.5"/>
<polygon fill="#33c79d" stroke="#33c79d" points="1085.8,698.8 1084.9,695.3 1144.7,806.5 1145.6,810.1"/>
<polygon fill="#32c69f" stroke="#32c69f" points="1086.7,702.4 1085.8,698.8 1145.6,810.1 1146.5,813.7"/>
<polygon fill="#30c5a1" stroke="#30c5a1" points="1087.6,706.0 1086.7,702.4 1146.5,813.7 1147.4,817.3"/>
<polygon fill="#2fc5a3" stroke="#2fc5a3" points="1089.4,713.1 1087.6,706.0 1147.4,817.3 1149.3,824.5"/>
<polygon fill="#2ec4a5" stroke="#2ec4a5" points="1090.3,716.8 1089.4,713.1 1149.3,824.5 1150.2,828.1"/>
<polygon fill="#2cc4a6" stroke="#2cc4a6" points="1091.2,720.4 1090.3,716.8 1150.2,828.1 1151.1,831.7"/>
<polygon fill="#2bc3a8" stroke="#2bc3a8" points="1092.1,724.0 1091.2,720.4 1151.1,831.7 1152.0,835.2"/>
<polygon fill="#29c3aa" stroke="#29c3aa" points="1093.9,731.2 1092.1,724.0 1152.0,835.2 1153.8,842.4"/>
<polygon fill="#27c2ac" stroke="#27c2ac" points="1094.8,734.9 1093.9,731.2 1153.8,842.4 1154.7,846.0"/>
<polygon fill="#25c2ae" stroke="#25c2ae" points="1095.7,738.5 1094.8,734.9 1154.7,846.0 1155.6,849.6"/>
<polygon fill="#22c1b0" stroke="#22c1b0" points="1096.6,742.2 1095.7,738.5 1155.6,849.6 1156.5,853.2"/>
<polygon fill="#1fc1b1" stroke="#1fc1b1" points="1097.5,745.8 1096.6,742.2 1156.5,853.2 1157.4,856.8"/>
<polygon fill="#1dc0b3" stroke="#1dc0b3" points="1099.3,753.1 1097.5,745.8 1157.4,856.8 1159.2,863.9"/>
<polygon fill="#1abfb5" stroke="#1abfb5" points="1100.2,756.8 1099.3,753.1 1159.2,863.9 1160.1,867.5"/>
<polygon fill="#17bfb6" stroke="#17bfb6" points="1101.1,760.5 1100.2,756.8 1160.1,867.5 1161.0,871.1"/>
<polygon fill="#13beb8" stroke="#13beb8" points="1102.0,764.2 1101.1,760.5 1161.0,871.1 1161.9,874.6"/>
<polygon fill="#10beba" stroke="#10beba" points="1103.8,771.6 1102.0,764.2 1161.9,874.6 1163.7,881.8"/>
<polygon fill="#0dbdbc" stroke="#0dbdbc" points="1104.7,775.3 1103.8,771.6 1163.7,881.8 1164.6,885.4"/>
<polygon fill="#0abdbd" stroke="#0abdbd" points="1105.6,779.0 1104.7,775.3 1164.6,885.4 1165.5,888.9"/>
<polygon fill="#08bcbf" stroke="#08bcbf" points="1106.5,782.7 1105.6,779.0 1165.5,888.9 1166.4,892.5"/>
<polygon fill="#05bbc1" stroke="#05bbc1" points="1107.4,786.4 1106.5,782.7 1166.4,892.5 1167.3,896.0"/>
<polygon fill="#03bbc2" stroke="#03bbc2" points="1109.2,793.9 1107.4,786.4 1167.3,896.0 1169.1,903.1"/>
<polygon fill="#02bac4" stroke="#02bac4" points="1110.1,797.6 1109.2,793.9 1169.1,903.1 1170.0,906.7"/>
<polygon fill="#01b9c6" stroke="#01b9c6" points="1111.0,801.3 1110.1,797.6 1170.0,906.7 1170.9,910.2"/>
<polygon fill="#01b9c7" stroke="#01b9c7" points="1111.9,805.1 1111.0,801.3 1170.9,910.2 1171.8,913.8"/>
<polygon fill="#01b8c9" stroke="#01b8c9" points="1112.8,808.8 1111.9,805.1 1171.8,913.8 1172.7,917.3"/>
<polygon fill="#01b7ca" stroke="#01b7ca" points="1113.7,812.5 1112.8,808.8 1172.7,917.3 1173.6,920.8"/>
<polygon fill="#03b7cc" stroke="#03b7cc" points="1115.5,820.1 1113.7,812.5 1173.6,920.8 1175.4,927.9"/>
<polygon fill="#05b6cd" stroke="#05b6cd" points="1116.4,823.8 1115.5,820.1 1175.4,927.9 1176.3,931.4"/>
<polygon fill="#06b5cf" stroke="#06b5cf" points="1117.3,827.6 1116.4,823.8 1176.3,931.4 1177.2,934.9"/>
<polygon fill="#08b4d1" stroke="#08b4d1" points="1118.2,831.3 1117.3,827.6 1177.2,934.9 1178.1,938.4"/>
<polygon fill="#0bb4d2" stroke="#0bb4d2" points="1119.1,835.1 1118.2,831.3 1178.1,938.4 1179.0,941.9"/>
<polygon fill="#0db3d3" stroke="#0db3d3" points="1120.9,842.6 1119.1,835.1 1179.0,941.9 1180.8,948.9"/>
<polygon fill="#10b2d5" stroke="#10b2d5" points="1121.8,846.4 1120.9,842.6 1180.8,948.9 1181.7,952.3"/>
<polygon fill="#12b1d6" stroke="#12b1d6" points="1122.7,850.2 1121.8,846.4 1181.7,952.3 1182.6,955.8"/>
<polygon fill="#14b0d8" stroke="#14b0d8" points="1123.6,854.0 1122.7,850.2 1182.6,955.8 1183.5,959.3"/>
<polygon fill="#15afd9" stroke="#15afd9" points="1124.5,857.7 1123.6,854.0 1183.5,959.3 1184.4,962.7"/>
<polygon fill="#17aeda" stroke="#17aeda" points="1125.4,861.5 1124.5,857.7 1184.4,962.7 1185.3,966.2"/>
<polygon fill="#18addb" stroke="#18addb" points="1127.2,869.1 1125.4,861.5 1185.3,966.2 1187.1,973.1"/>
<polygon fill="#19acdc" stroke="#19acdc" points="1128.1,872.9 1127.2,869.1 1187.1,973.1 1188.0,976.5"/>
<polygon fill="#1aabdd" stroke="#1aabdd" points="1129.0,876.7 1128.1,872.9 1188.0,976.5 1188.9,979.9"/>
<polygon fill="#1baadf" stroke="#1baadf" points="1129.9,880.4 1129.0,876.7 1188.9,979.9 1189.8,983.4"/>
<polygon fill="#1ca9e0" stroke="#1ca9e0" points="1130.8,884.2 1129.9,880.4 1189.8,983.4 1190.7,986.8"/>
<polygon fill="#1da8e0" stroke="#1da8e0" points="1131.8,888.0 1130.8,884.2 1190.7,986.8 1191.6,990.2"/>
<polygon fill="#1ea7e1" stroke="#1ea7e1" points="1133.6,895.6 1131.8,888.0 1191.6,990.2 1193.4,997.0"/>
<polygon fill="#1fa6e2" stroke="#1fa6e2" points="1134.5,899.4 1133.6,895.6 1193.4,997.0 1194.3,1000.3"/>
<polygon fill="#20a5e3" stroke="#20a5e3" points="1135.4,903.2 1134.5,899.4 1194.3,1000.3 1195.2,1003.7"/>
<polygon fill="#21a4e3" stroke="#21a4e3" points="1136.3,906.9 1135.4,903.2 1195.2,1003.7 1196.1,1007.1"/>
<polygon fill="#22a2e4" stroke="#22a2e4" points="1137.2,910.7 1136.3,906.9 1196.1,1007.1 1197.0,1010.4"/>
<polygon fill="#22a1e4" stroke="#22a1e4" points="1138.1,914.5 1137.2,910.7 1197.0,1010.4 1197.9,1013.8"/>
<polygon fill="#23a0e5" stroke="#23a0e5" points="1139.9,922.1 1138.1,914.5 1197.9,1013.8 1199.7,1020.4"/>
<polygon fill="#249fe5" stroke="#249fe5" points="1140.8,925.8 1139.9,922.1 1199.7,1020.4 1200.6,1023.7"/>
<polygon fill="#249ee6" stroke="#249ee6" points="1141.7,929.6 1140.8,925.8 1200.6,1023.7 1201.5,1027.0"/>
<polygon fill="#259de7" stroke="#259de7" points="1142.6,933.4 1141.7,929.6 1201.5,1027.0 1202.4,1030.3"/>
<polygon fill="#259be7" stroke="#259be7" points="1143.5,937.2 1142.6,933.4 1202.4,1030.3 1203.3,1033.6"/>
<polygon fill="#269ae8" stroke="#269ae8" points="1144.4,940.9 1143.5,937.2 1203.3,1033.6 1204.2,1036.9"/>
<polygon fill="#2699e9" stroke="#2699e9" points="1146.2,948.4 1144.4,940.9 1204.2,1036.9 1206.0,1043.4"/>
<polygon fill="#2798ea" stroke="#2798ea" points="1147.1,952.2 1146.2,948.4 1206.0,1043.4 1206.9,1046.7"/>
<polygon fill="#2797eb" stroke="#2797eb" points="1148.0,956.0 1147.1,952.2 1206.9,1046.7 1207.8,1049.9"/>
<polygon fill="#2895ec" stroke="#2895ec" points="1148.9,959.7 1148.0,956.0 1207.8,1049.9 1208.7,1053.1"/>
<polygon fill="#2994ed" stroke="#2994ed" points="1149.8,963.5 1148.9,959.7 1208.7,1053.1 1209.6,1056.3"/>
<polygon fill="#2a93ee" stroke="#2a93ee" points="1151.6,970.9 1149.8,963.5 1209.6,1056.3 1211.4,1062.7"/>
<polygon fill="#2b92ee" stroke="#2b92ee" points="1152.5,974.7 1151.6,970.9 1211.4,1062.7 1212.3,1065.9"/>
<polygon fill="#2b90ef" stroke="#2b90ef" points="1153.4,978.4 1152.5,974.7 1212.3,1065.9 1213.2,1069.1"/>
<polygon fill="#2c8ff0" stroke="#2c8ff0" points="1154.3,982.1 1153.4,978.4 1213.2,1069.1 1214.1,1072.2"/>
<polygon fill="#2c8ef1" stroke="#2c8ef1" points="1155.2,985.8 1154.3,982.1 1214.1,1072.2 1215.0,1075.3"/>
<polygon fill="#2d8df2" stroke="#2d8df2" points="1157.0,993.3 1155.2,985.8 1215.0,1075.3 1216.8,1081.6"/>
<polygon fill="#2d8bf3" stroke="#2d8bf3" points="1157.9,997.0 1157.0,993.3 1216.8,1081.6 1217.7,1084.7"/>
<polygon fill="#2d8af4" stroke="#2d8af4" points="1158.8,1000.7 1157.9,997.0 1217.7,1084.7 1218.6,1087.8"/>
<polygon fill="#2d89f6" stroke="#2d89f6" points="1159.7,1004.4 1158.8,1000.7 1218.6,1087.8 1219.5,1090.9"/>
<polygon fill="#2d87f7" stroke="#2d87f7" points="1160.6,1008.0 1159.7,1004.4 1219.5,1090.9 1220.4,1093.9"/>
<polygon fill="#2e86f7" stroke="#2e86f7" points="1162.4,1015.4 1160.6,1008.0 1220.4,1093.9 1222.2,1100.0"/>
<polygon fill="#2e85f8" stroke="#2e85f8" points="1163.3,1019.0 1162.4,1015.4 1222.2,1100.0 1223.1,1103.1"/>
<polygon fill="#2e83f9" stroke="#2e83f9" points="1164.2,1022.7 1163.3,1019.0 1223.1,1103.1 1224.0,1106.1"/>
<polygon fill="#2f82fa" stroke="#2f82fa" points="1165.1,1026.3 1164.2,1022.7 1224.0,1106.1 1224.9,1109.1"/>
<polygon fill="#2f81fa" stroke="#2f81fa" points="1166.9,1033.6 1165.1,1026.3 1224.9,1109.1 1226.7,1115.0"/>
<polygon fill="#307ffb" stroke="#307ffb" points="1167.8,1037.2 1166.9,1033.6 1226.7,1115.0 1227.6,1118.0"/>
<polygon fill="#317efb" stroke="#317efb" points="1168.7,1040.9 1167.8,1037.2 1227.6,1118.0 1228.5,1120.9"/>
<polygon fill="#327cfc" stroke="#327cfc" points="1169.6,1044.5 1168.7,1040.9 1228.5,1120.9 1229.4,1123.9"/>
<polygon fill="#337bfd" stroke="#337bfd" points="1171.4,1051.6 1169.6,1044.5 1229.4,1123.9 1231.2,1129.7"/>
<polygon fill="#3479fd" stroke="#3479fd" points="1172.3,1055.2 1171.4,1051.6 1231.2,1129.7 1232.1,1132.6"/>
<polygon fill="#3678fe" stroke="#3678fe" points="1173.2,1058.8 1172.3,1055.2 1232.1,1132.6 1233.0,1135.5"/>
<polygon fill="#3776fe" stroke="#3776fe" points="1174.1,1062.3 1173.2,1058.8 1233.0,1135.5 1233.9,1138.3"/>
<polygon fill="#3975fe" stroke="#3975fe" points="1175.9,1069.4 1174.1,1062.3 1233.9,1138.3 1235.7,1144.0"/>
<polygon fill="#3a73fe" stroke="#3a73fe" points="1176.8,1073.0 1175.9,1069.4 1235.7,1144.0 1236.6,1146.8"/>
<polygon fill="#3c72ff" stroke="#3c72ff" points="1177.7,1076.5 1176.8,1073.0 1236.6,1146.8 1237.5,1149.6"/>
<polygon fill="#3d70ff" stroke="#3d70ff" points="1179.5,1083.5 1177.7,1076.5 1237.5,1149.6 1239.3,1155.2"/>
<polygon fill="#3f6fff" stroke="#3f6fff" points="1180.4,1087.0 1179.5,1083.5 1239.3,1155.2 1240.2,1157.9"/>
<polygon fill="#406dfe" stroke="#406dfe" points="1181.3,1090.4 1180.4,1087.0 1240.2,1157.9 1241.1,1160.7"/>
<polygon fill="#416cfe" stroke="#416cfe" points="1183.1,1097.3 1181.3,1090.4 1241.1,1160.7 1242.9,1166.1"/>
<polygon fill="#426afe" stroke="#426afe" points="1184.0,1100.8 1183.1,1097.3 1242.9,1166.1 1243.8,1168.8"/>
<polygon fill="#4369fe" stroke="#4369fe" points="1184.9,1104.2 1184.0,1100.8 1243.8,1168.8 1244.7,1171.5"/>
<polygon fill="#4367fd" stroke="#4367fd" points="1186.7,1111.0 1184.9,1104.2 1244.7,1171.5 1246.5,1176.8"/>
<polygon fill="#4466fd" stroke="#4466fd" points="1187.6,1114.4 1186.7,1111.0 1246.5,1176.8 1247.4,1179.4"/>
<polygon fill="#4464fd" stroke="#4464fd" points="1188.5,1117.8 1187.6,1114.4 1247.4,1179.4 1248.3,1182.0"/>
<polygon fill="#4563fc" stroke="#4563fc" points="1190.3,1124.5 1188.5,1117.8 1248.3,1182.0 1250.1,1187.2"/>
<polygon fill="#4561fc" stroke="#4561fc" points="1191.2,1127.8 1190.3,1124.5 1250.1,1187.2 1251.0,1189.8"/>
<polygon fill="#4660fc" stroke="#4660fc" points="1193.0,1134.4 1191.2,1127.8 1251.0,1189.8 1252.8,1194.9"/>
<polygon fill="#465ffb" stroke="#465ffb" points="1193.9,1137.7 1193.0,1134.4 1252.8,1194.9 1253.7,1197.4"/>
<polygon fill="#465dfb" stroke="#465dfb" points="1194.8,1141.0 1193.9,1137.7 1253.7,1197.4 1254.6,1199.9"/>
<polygon fill="#475cfa" stroke="#475cfa" points="1196.6,1147.5 1194.8,1141.0 1254.6,1199.9 1256.4,1204.9"/>
<polygon fill="#475af9" stroke="#475af9" points="1197.5,1150.7 1196.6,1147.5 1256.4,1204.9 1257.3,1207.3"/>
<polygon fill="#4759f8" stroke="#4759f8" points="1199.3,1157.1 1197.5,1150.7 1257.3,1207.3 1259.1,1212.2"/>
<polygon fill="#4758f8" stroke="#4758f8" points="1200.2,1160.3 1199.3,1157.1 1259.1,1212.2 1260.0,1214.6"/>
<polygon fill="#4756f7" stroke="#4756f7" points="1202.0,1166.6 1200.2,1160.3 1260.0,1214.6 1261.8,1219.4"/>
<polygon fill="#4755f6" stroke="#4755f6" points="1202.9,1169.8 1202.0,1166.6 1261.8,1219.4 1262.7,1221.8"/>
<polygon fill="#4854f5" stroke="#4854f5" points="1204.7,1176.0 1202.9,1169.8 1262.7,1221.8 1264.5,1226.4"/>
<polygon fill="#4852f4" stroke="#4852f4" points="1206.5,1182.2 1204.7,1176.0 1264.5,1226.4 1266.3,1231.0"/>
<polygon fill="#4851f3" stroke="#4851f3" points="1207.4,1185.2 1206.5,1182.2 1266.3,1231.0 1267.2,1233.3"/>
<polygon fill="#484ff2" stroke="#484ff2" points="1209.2,1191.3 1207.4,1185.2 1267.2,1233.3 1269.0,1237.8"/>
<polygon fill="#484ef1" stroke="#484ef1" points="1210.1,1194.3 1209.2,1191.3 1269.0,1237.8 1269.9,1240.1"/>
<polygon fill="#484df0" stroke="#484df0" points="1211.9,1200.2 1210.1,1194.3 1269.9,1240.1 1271.7,1244.5"/>
<polygon fill="#484bef" stroke="#484bef" points="1213.7,1206.1 1211.9,1200.2 1271.7,1244.5 1273.5,1248.8"/>
<polygon fill="#484aee" stroke="#484aee" points="1215.5,1211.9 1213.7,1206.1 1273.5,1248.8 1275.3,1253.1"/>
<polygon fill="#4848ec" stroke="#4848ec" points="1216.4,1214.8 1215.5,1211.9 1275.3,1253.1 1276.2,1255.2"/>
<polygon fill="#4747eb" stroke="#4747eb" points="1218.2,1220.5 1216.4,1214.8 1276.2,1255.2 1278.0,1259.4"/>
<polygon fill="#4746ea" stroke="#4746ea" points="1220.0,1226.1 1218.2,1220.5 1278.0,1259.4 1279.8,1263.6"/>
<polygon fill="#4744e8" stroke="#4744e8" points="1221.8,1231.7 1220.0,1226.1 1279.8,1263.6 1281.6,1267.6"/>
<polygon fill="#4743e7" stroke="#4743e7" points="1223.6,1237.2 1221.8,1231.7 1281.6,1267.6 1283.4,1271.6"/>
<polygon fill="#4741e5" stroke="#4741e5" points="1225.4,1242.6 1223.6,1237.2 1283.4,1271.6 1285.2,1275.6"/>
<polygon fill="#4740e4" stroke="#4740e4" points="1227.2,1247.9 1225.4,1242.6 1285.2,1275.6 1287.0,1279.5"/>
<polygon fill="#473fe2" stroke="#473fe2" points="1229.0,1253.2 1227.2,1247.9 1287.0,1279.5 1288.8,1283.3"/>
<polygon fill="#463de0" stroke="#463de0" points="1230.8,1258.4 1229.0,1253.2 1288.8,1283.3 1290.6,1287.1"/>
<polygon fill="#463cde" stroke="#463cde" points="1232.6,1263.5 1230.8,1258.4 1290.6,1287.1 1292.5,1290.8"/>
<polygon fill="#463bdc" stroke="#463bdc" points="1234.4,1268.5 1232.6,1263.5 1292.5,1290.8 1294.3,1294.4"/>
<polygon fill="#4639da" stroke="#4639da" points="1236.2,1273.4 1234.4,1268.5 1294.3,1294.4 1296.1,1298.0"/>
<polygon fill="#4538d8" stroke="#4538d8" points="1238.9,1280.7 1236.2,1273.4 1296.1,1298.0 1298.8,1303.3"/>
<polygon fill="#4537d6" stroke="#4537d6" points="1240.7,1285.5 1238.9,1280.7 1298.8,1303.3 1300.6,1306.8"/>
<polygon fill="#4536d3" stroke="#4536d3" points="1243.4,1292.5 1240.7,1285.5 1300.6,1306.8 1303.3,1311.8"/>
<polygon fill="#4435d1" stroke="#4435d1" points="1245.2,1297.0 1243.4,1292.5 1303.3,1311.8 1305.1,1315.2"/>
<polygon fill="#4434ce" stroke="#4434ce" points="1247.9,1303.7 1245.2,1297.0 1305.1,1315.2 1307.8,1320.0"/>
<polygon fill="#4433cc" stroke="#4433cc" points="1250.6,1310.2 1247.9,1303.7 1307.8,1320.0 1310.5,1324.8"/>
<polygon fill="#4332c9" stroke="#4332c9" points="1253.3,1316.6 1250.6,1310.2 1310.5,1324.8 1313.2,1329.5"/>
<polygon fill="#4331c6" stroke="#4331c6" points="1256.0,1322.8 1253.3,1316.6 1313.2,1329.5 1315.9,1334.1"/>
<polygon fill="#4230c3" stroke="#4230c3" points="1259.6,1330.8 1256.0,1322.8 1315.9,1334.1 1319.5,1340.0"/>
<polygon fill="#422fc1" stroke="#422fc1" points="1263.2,1338.5 1259.6,1330.8 1319.5,1340.0 1323.1,1345.8"/>
<polygon fill="#412ebe" stroke="#412ebe" points="1266.8,1345.9 1263.2,1338.5 1323.1,1345.8 1326.7,1351.4"/>
<polygon fill="#412dbb" stroke="#412dbb" points="1270.4,1353.1 1266.8,1345.9 1326.7,1351.4 1330.3,1356.8"/>
<polygon fill="#412cb8" stroke="#412cb8" points="1274.9,1361.7 1270.4,1353.1 1330.3,1356.8 1334.8,1363.5"/>
<polygon fill="#402bb6" stroke="#402bb6" points="1280.4,1371.5 1274.9,1361.7 1334.8,1363.5 1340.2,1371.2"/>
<polygon fill="#402ab3" stroke="#402ab3" points="1286.7,1382.3 1280.4,1371.5 1340.2,1371.2 1346.5,1379.9"/>
<polygon fill="#3f29b0" stroke="#3f29b0" points="1294.8,1395.2 1286.7,1382.3 1346.5,1379.9 1354.6,1390.7"/>
<polygon fill="#3f28ad" stroke="#3f28ad" points="1306.5,1412.4 1300.2,1403.3 1294.8,1395.2 1354.6,1390.7 1366.3,1405.6"/>
<polygon fill="#3e27aa" stroke="#3e27aa" points="1391.1,1516.9 1350.6,1468.4 1333.5,1447.6 1319.1,1429.4 1312.8,1421.0 1306.5,1412.4 1366.3,1405.6 1377.1,1419.0 1390.6,1435.4 1451.0,1507.7"/>
<polygon fill="#f6e128" stroke="#f6e128" points="902.6,260.9 899.0,254.0 958.8,295.8 962.4,304.4"/>
<polygon fill="#f6df29" stroke="#f6df29" points="906.2,267.9 902.6,260.9 962.4,304.4 966.0,313.2"/>
<polygon fill="#f6de29" stroke="#f6de29" points="910.7,276.9 906.2,267.9 966.0,313.2 970.5,324.4"/>
<polygon fill="#f7dc2a" stroke="#f7dc2a" points="914.3,284.2 910.7,276.9 970.5,324.4 974.1,333.5"/>
<polygon fill="#f8da2b" stroke="#f8da2b" points="917.9,291.6 914.3,284.2 974.1,333.5 977.7,342.7"/>
<polygon fill="#f8d92c" stroke="#f8d92c" points="921.5,299.1 917.9,291.6 977.7,342.7 981.3,352.2"/>
<polygon fill="#f9d72c" stroke="#f9d72c" points="925.1,306.8 921.5,299.1 981.3,352.2 984.9,361.7"/>
<polygon fill="#fad62d" stroke="#fad62d" points="927.8,312.6 925.1,306.8 984.9,361.7 987.7,369.0"/>
<polygon fill="#fad42e" stroke="#fad42e" points="931.4,320.5 927.8,312.6 987.7,369.0 991.3,378.9"/>
<polygon fill="#fbd32f" stroke="#fbd32f" points="934.1,326.5 931.4,320.5 991.3,378.9 994.0,386.4"/>
<polygon fill="#fcd12f" stroke="#fcd12f" points="936.8,332.6 934.1,326.5 994.0,386.4 996.7,394.0"/>
<polygon fill="#fccf30" stroke="#fccf30" points="940.4,340.9 936.8,332.6 996.7,394.0 1000.3,404.3"/>
<polygon fill="#fdce31" stroke="#fdce31" points="943.1,347.2 940.4,340.9 1000.3,404.3 1003.0,412.1"/>
<polygon fill="#fdcc32" stroke="#fdcc32" points="945.8,353.5 943.1,347.2 1003.0,412.1 1005.7,420.0"/>
<polygon fill="#fdcb33" stroke="#fdcb33" points="948.5,360.0 945.8,353.5 1005.7,420.0 1008.4,428.1"/>
<polygon fill="#fec934" stroke="#fec934" points="950.3,364.4 948.5,360.0 1008.4,428.1 1010.2,433.5"/>
<polygon fill="#fec835" stroke="#fec835" points="953.0,371.0 950.3,364.4 1010.2,433.5 1012.9,441.6"/>
<polygon fill="#fec636" stroke="#fec636" points="955.7,377.7 953.0,371.0 1012.9,441.6 1015.6,449.9"/>
<polygon fill="#fec537" stroke="#fec537" points="958.4,384.5 955.7,377.7 1015.6,449.9 1018.3,458.3"/>
<polygon fill="#fec338" stroke="#fec338" points="960.2,389.1 958.4,384.5 1018.3,458.3 1020.1,463.9"/>
<polygon fill="#fec239" stroke="#fec239" points="962.9,396.0 960.2,389.1 1020.1,463.9 1022.8,472.5"/>
<polygon fill="#fec13a" stroke="#fec13a" points="964.7,400.7 962.9,396.0 1022.8,472.5 1024.6,478.2"/>
<polygon fill="#febf3b" stroke="#febf3b" points="967.4,407.8 964.7,400.7 1024.6,478.2 1027.3,486.9"/>
<polygon fill="#febe3c" stroke="#febe3c" points="969.2,412.6 967.4,407.8 1027.3,486.9 1029.1,492.8"/>
<polygon fill="#fdbd3d" stroke="#fdbd3d" points="971.0,417.5 969.2,412.6 1029.1,492.8 1030.9,498.7"/>
<polygon fill="#fbbc3d" stroke="#fbbc3d" points="973.8,424.8 971.0,417.5 1030.9,498.7 1033.6,507.6"/>
<polygon fill="#fabb3d" stroke="#fabb3d" points="975.6,429.8 973.8,424.8 1033.6,507.6 1035.4,513.6"/>
<polygon fill="#f8ba3d" stroke="#f8ba3d" points="977.4,434.8 975.6,429.8 1035.4,513.6 1037.2,519.7"/>
<polygon fill="#f6ba3c" stroke="#f6ba3c" points="979.2,439.8 977.4,434.8 1037.2,519.7 1039.0,525.8"/>
<polygon fill="#f4ba3a" stroke="#f4ba3a" points="981.0,444.9 979.2,439.8 1039.0,525.8 1040.8,531.9"/>
<polygon fill="#f2ba38" stroke="#f2ba38" points="983.7,452.7 981.0,444.9 1040.8,531.9 1043.5,541.2"/>
<polygon fill="#f0ba36" stroke="#f0ba36" points="985.5,457.9 983.7,452.7 1043.5,541.2 1045.3,547.5"/>
<polygon fill="#eeba34" stroke="#eeba34" points="987.3,463.2 985.5,457.9 1045.3,547.5 1047.1,553.8"/>
<polygon fill="#ecba32" stroke="#ecba32" points="989.1,468.5 987.3,463.2 1047.1,553.8 1048.9,560.1"/>
<polygon fill="#e9bb30" stroke="#e9bb30" points="990.9,473.9 989.1,468.5 1048.9,560.1 1050.7,566.5"/>
<polygon fill="#e7bb2e" stroke="#e7bb2e" points="992.7,479.3 990.9,473.9 1050.7,566.5 1052.5,572.9"/>
<polygon fill="#e5bb2c" stroke="#e5bb2c" points="993.6,482.0 992.7,479.3 1052.5,572.9 1053.4,576.2"/>
<polygon fill="#e2bc2b" stroke="#e2bc2b" points="995.4,487.5 993.6,482.0 1053.4,576.2 1055.2,582.6"/>
<polygon fill="#e0bc2a" stroke="#e0bc2a" points="997.2,493.0 995.4,487.5 1055.2,582.6 1057.0,589.2"/>
<polygon fill="#ddbd29" stroke="#ddbd29" points="999.0,498.6 997.2,493.0 1057.0,589.2 1058.8,595.7"/>
<polygon fill="#dbbd28" stroke="#dbbd28" points="1000.8,504.3 999.0,498.6 1058.8,595.7 1060.6,602.3"/>
<polygon fill="#d8be28" stroke="#d8be28" points="1002.6,509.9 1000.8,504.3 1060.6,602.3 1062.4,609.0"/>
<polygon fill="#d5be28" stroke="#d5be28" points="1003.5,512.8 1002.6,509.9 1062.4,609.0 1063.3,612.3"/>
<polygon fill="#d2bf27" stroke="#d2bf27" points="1005.3,518.6 1003.5,512.8 1063.3,612.3 1065.1,619.0"/>
<polygon fill="#d0c028" stroke="#d0c028" points="1007.1,524.4 1005.3,518.6 1065.1,619.0 1066.9,625.8"/>
<polygon fill="#cdc028" stroke="#cdc028" points="1008.9,530.3 1007.1,524.4 1066.9,625.8 1068.7,632.6"/>
<polygon fill="#cac129" stroke="#cac129" points="1009.8,533.2 1008.9,530.3 1068.7,632.6 1069.6,636.0"/>
<polygon fill="#c7c12a" stroke="#c7c12a" points="1011.6,539.2 1009.8,533.2 1069.6,636.0 1071.4,642.8"/>
<polygon fill="#c4c22b" stroke="#c4c22b" points="1013.4,545.2 1011.6,539.2 1071.4,642.8 1073.2,649.7"/>
<polygon fill="#c1c32c" stroke="#c1c32c" points="1014.3,548.2 1013.4,545.2 1073.2,649.7 1074.1,653.1"/>
<polygon fill="#bec32e" stroke="#bec32e" points="1016.1,554.3 1014.3,548.2 1074.1,653.1 1075.9,660.1"/>
<polygon fill="#bac430" stroke="#bac430" points="1017.0,557.3 1016.1,554.3 1075.9,660.1 1076.8,663.6"/>
<polygon fill="#b7c532" stroke="#b7c532" points="1018.8,563.5 1017.0,557.3 1076.8,663.6 1078.6,670.5"/>
<polygon fill="#b4c534" stroke="#b4c534" points="1019.7,566.6 1018.8,563.5 1078.6,670.5 1079.5,674.0"/>
<polygon fill="#b1c636" stroke="#b1c636" points="1021.5,572.8 1019.7,566.6 1079.5,674.0 1081.3,681.1"/>
<polygon fill="#adc638" stroke="#adc638" points="1023.3,579.1 1021.5,572.8 1081.3,681.1 1083.1,688.2"/>
<polygon fill="#aac73a" stroke="#aac73a" points="1024.2,582.2 1023.3,579.1 1083.1,688.2 1084.0,691.7"/>
<polygon fill="#a7c73c" stroke="#a7c73c" points="1026.0,588.6 1024.2,582.2 1084.0,691.7 1085.8,698.8"/>
<polygon fill="#a3c83e" stroke="#a3c83e" points="1026.9,591.8 1026.0,588.6 1085.8,698.8 1086.7,702.4"/>
<polygon fill="#a0c841" stroke="#a0c841" points="1028.7,598.2 1026.9,591.8 1086.7,702.4 1088.5,709.6"/>
<polygon fill="#9cc943" stroke="#9cc943" points="1029.6,601.5 1028.7,598.2 1088.5,709.6 1089.4,713.1"/>
<polygon fill="#99c946" stroke="#99c946" points="1030.5,604.7 1029.6,601.5 1089.4,713.1 1090.3,716.8"/>
<polygon fill="#95ca49" stroke="#95ca49" points="1032.3,611.2 1030.5,604.7 1090.3,716.8 1092.1,724.0"/>
<polygon fill="#92ca4c" stroke="#92ca4c" points="1033.2,614.5 1032.3,611.2 1092.1,724.0 1093.0,727.6"/>
<polygon fill="#8ecb4e" stroke="#8ecb4e" points="1035.0,621.2 1033.2,614.5 1093.0,727.6 1094.8,734.9"/>
<polygon fill="#8bcb51" stroke="#8bcb51" points="1035.9,624.5 1035.0,621.2 1094.8,734.9 1095.7,738.5"/>
<polygon fill="#87cb54" stroke="#87cb54" points="1037.7,631.2 1035.9,624.5 1095.7,738.5 1097.5,745.8"/>
<polygon fill="#84cc56" stroke="#84cc56" points="1038.6,634.5 1037.7,631.2 1097.5,745.8 1098.4,749.5"/>
<polygon fill="#80cc59" stroke="#80cc59" points="1039.5,637.9 1038.6,634.5 1098.4,749.5 1099.3,753.1"/>
<polygon fill="#7ccc5c" stroke="#7ccc5c" points="1041.3,644.7 1039.5,637.9 1099.3,753.1 1101.1,760.5"/>
<polygon fill="#79cc5f" stroke="#79cc5f" points="1042.2,648.1 1041.3,644.7 1101.1,760.5 1102.0,764.2"/>
<polygon fill="#75cc61" stroke="#75cc61" points="1043.1,651.5 1042.2,648.1 1102.0,764.2 1102.9,767.9"/>
<polygon fill="#71cd64" stroke="#71cd64" points="1044.9,658.4 1043.1,651.5 1102.9,767.9 1104.7,775.3"/>
<polygon fill="#6ecd67" stroke="#6ecd67" points="1045.8,661.9 1044.9,658.4 1104.7,775.3 1105.6,779.0"/>
<polygon fill="#6acd6a" stroke="#6acd6a" points="1046.7,665.4 1045.8,661.9 1105.6,779.0 1106.5,782.7"/>
<polygon fill="#67cd6c" stroke="#67cd6c" points="1048.5,672.4 1046.7,665.4 1106.5,782.7 1108.3,790.1"/>
<polygon fill="#64cd6f" stroke="#64cd6f" points="1049.4,675.9 1048.5,672.4 1108.3,790.1 1109.2,793.9"/>
<polygon fill="#60cd72" stroke="#60cd72" points="1050.3,679.4 1049.4,675.9 1109.2,793.9 1110.1,797.6"/>
<polygon fill="#5dcc75" stroke="#5dcc75" points="1051.2,682.9 1050.3,679.4 1110.1,797.6 1111.0,801.3"/>
<polygon fill="#5acc77" stroke="#5acc77" points="1053.0,690.0 1051.2,682.9 1111.0,801.3 1112.8,808.8"/>
<polygon fill="#57cc7a" stroke="#57cc7a" points="1053.9,693.6 1053.0,690.0 1112.8,808.8 1113.7,812.5"/>
<polygon fill="#54cc7d" stroke="#54cc7d" points="1054.8,697.2 1053.9,693.6 1113.7,812.5 1114.6,816.3"/>
<polygon fill="#51cc7f" stroke="#51cc7f" points="1056.6,704.4 1054.8,697.2 1114.6,816.3 1116.4,823.8"/>
<polygon fill="#4ecc82" stroke="#4ecc82" points="1057.5,708.0 1056.6,704.4 1116.4,823.8 1117.3,827.6"/>
<polygon fill="#4acb84" stroke="#4acb84" points="1058.4,711.6 1057.5,708.0 1117.3,827.6 1118.2,831.3"/>
<polygon fill="#48cb86" stroke="#48cb86" points="1059.3,715.2 1058.4,711.6 1118.2,831.3 1119.1,835.1"/>
<polygon fill="#45cb89" stroke="#45cb89" points="1060.2,718.9 1059.3,715.2 1119.1,835.1 1120.0,838.9"/>
<polygon fill="#42ca8b" stroke="#42ca8b" points="1062.0,726.2 1060.2,718.9 1120.0,838.9 1121.8,846.4"/>
<polygon fill="#3fca8e" stroke="#3fca8e" points="1062.9,729.9 1062.0,726.2 1121.8,846.4 1122.7,850.2"/>
<polygon fill="#3dca90" stroke="#3dca90" points="1063.8,733.6 1062.9,729.9 1122.7,850.2 1123.6,854.0"/>
<polygon fill="#3bc992" stroke="#3bc992" points="1064.7,737.3 1063.8,733.6 1123.6,854.0 1124.5,857.7"/>
<polygon fill="#39c994" stroke="#39c994" points="1065.6,741.0 1064.7,737.3 1124.5,857.7 1125.4,861.5"/>
<polygon fill="#38c897" stroke="#38c897" points="1067.4,748.5 1065.6,741.0 1125.4,861.5 1127.2,869.1"/>
<polygon fill="#36c899" stroke="#36c899" points="1068.3,752.2 1067.4,748.5 1127.2,869.1 1128.1,872.9"/>
<polygon fill="#35c79b" stroke="#35c79b" points="1069.2,756.0 1068.3,752.2 1128.1,872.9 1129.0,876.7"/>
<polygon fill="#33c79d" stroke="#33c79d" points="1070.1,759.7 1069.2,756.0 1129.0,876.7 1129.9,880.4"/>
<polygon fill="#32c69f" stroke="#32c69f" points="1071.0,763.5 1070.1,759.7 1129.9,880.4 1130.8,884.2"/>
<polygon fill="#30c5a1" stroke="#30c5a1" points="1072.8,771.1 1071.0,763.5 1130.8,884.2 1132.7,891.8"/>
<polygon fill="#2fc5a3" stroke="#2fc5a3" points="1073.7,774.9 1072.8,771.1 1132.7,891.8 1133.6,895.6"/>
<polygon fill="#2ec4a5" stroke="#2ec4a5" points="1074.6,778.7 1073.7,774.9 1133.6,895.6 1134.5,899.4"/>
<polygon fill="#2cc4a6" stroke="#2cc4a6" points="1075.5,782.5 1074.6,778.7 1134.5,899.4 1135.4,903.2"/>
<polygon fill="#2bc3a8" stroke="#2bc3a8" points="1076.4,786.3 1075.5,782.5 1135.4,903.2 1136.3,906.9"/>
<polygon fill="#29c3aa" stroke="#29c3aa" points="1077.3,790.2 1076.4,786.3 1136.3,906.9 1137.2,910.7"/>
<polygon fill="#27c2ac" stroke="#27c2ac" points="1078.2,794.0 1077.3,790.2 1137.2,910.7 1138.1,914.5"/>
<polygon fill="#25c2ae" stroke="#25c2ae" points="1080.0,801.7 1078.2,794.0 1138.1,914.5 1139.9,922.1"/>
<polygon fill="#22c1b0" stroke="#22c1b0" points="1080.9,805.6 1080.0,801.7 1139.9,922.1 1140.8,925.8"/>
<polygon fill="#1fc1b1" stroke="#1fc1b1" points="1081.8,809.5 1080.9,805.6 1140.8,925.8 1141.7,929.6"/>
<polygon fill="#1dc0b3" stroke="#1dc0b3" points="1082.7,813.3 1081.8,809.5 1141.7,929.6 1142.6,933.4"/>
<polygon fill="#1abfb5" stroke="#1abfb5" points="1083.6,817.2 1082.7,813.3 1142.6,933.4 1143.5,937.2"/>
<polygon fill="#17bfb6" stroke="#17bfb6" points="1084.5,821.1 1083.6,817.2 1143.5,937.2 1144.4,940.9"/>
<polygon fill="#13beb8" stroke="#13beb8" points="1085.4,825.0 1084.5,821.1 1144.4,940.9 1145.3,944.7"/>
<polygon fill="#10beba" stroke="#10beba" points="1086.3,829.0 1085.4,825.0 1145.3,944.7 1146.2,948.4"/>
<polygon fill="#0dbdbc" stroke="#0dbdbc" points="1088.1,836.8 1086.3,829.0 1146.2,948.4 1148.0,956.0"/>
<polygon fill="#0abdbd" stroke="#0abdbd" points="1089.0,840.7 1088.1,836.8 1148.0,956.0 1148.9,959.7"/>
<polygon fill="#08bcbf" stroke="#08bcbf" points="1089.9,844.7 1089.0,840.7 1148.9,959.7 1149.8,963.5"/>
<polygon fill="#05bbc1" stroke="#05bbc1" points="1090.8,848.6 1089.9,844.7 1149.8,963.5 1150.7,967.2"/>
<polygon fill="#03bbc2" stroke="#03bbc2" points="1091.7,852.6 1090.8,848.6 1150.7,967.2 1151.6,970.9"/>
<polygon fill="#02bac4" stroke="#02bac4" points="1092.6,856.5 1091.7,852.6 1151.6,970.9 1152.5,974.7"/>
<polygon fill="#01b9c6" stroke="#01b9c6" points="1093.5,860.5 1092.6,856.5 1152.5,974.7 1153.4,978.4"/>
<polygon fill="#01b9c7" stroke="#01b9c7" points="1094.4,864.5 1093.5,860.5 1153.4,978.4 1154.3,982.1"/>
<polygon fill="#01b8c9" stroke="#01b8c9" points="1095.3,868.4 1094.4,864.5 1154.3,982.1 1155.2,985.8"/>
<polygon fill="#01b7ca" stroke="#01b7ca" points="1096.2,872.4 1095.3,868.4 1155.2,985.8 1156.1,989.6"/>
<polygon fill="#03b7cc" stroke="#03b7cc" points="1098.0,880.4 1096.2,872.4 1156.1,989.6 1157.9,997.0"/>
<polygon fill="#05b6cd" stroke="#05b6cd" points="1098.9,884.4 1098.0,880.4 1157.9,997.0 1158.8,1000.7"/>
<polygon fill="#06b5cf" stroke="#06b5cf" points="1099.8,888.4 1098.9,884.4 1158.8,1000.7 1159.7,1004.4"/>
<polygon fill="#08b4d1" stroke="#08b4d1" points="1100.7,892.4 1099.8,888.4 1159.7,1004.4 1160.6,1008.0"/>
<polygon fill="#0bb4d2" stroke="#0bb4d2" points="1101.6,896.4 1100.7,892.4 1160.6,1008.0 1161.5,1011.7"/>
<polygon fill="#0db3d3" stroke="#0db3d3" points="1102.5,900.4 1101.6,896.4 1161.5,1011.7 1162.4,1015.4"/>
<polygon fill="#10b2d5" stroke="#10b2d5" points="1103.4,904.4 1102.5,900.4 1162.4,1015.4 1163.3,1019.0"/>
<polygon fill="#12b1d6" stroke="#12b1d6" points="1104.3,908.4 1103.4,904.4 1163.3,1019.0 1164.2,1022.7"/>
<polygon fill="#14b0d8" stroke="#14b0d8" points="1105.2,912.5 1104.3,908.4 1164.2,1022.7 1165.1,1026.3"/>
<polygon fill="#15afd9" stroke="#15afd9" points="1106.1,916.5 1105.2,912.5 1165.1,1026.3 1166.0,1030.0"/>
<polygon fill="#17aeda" stroke="#17aeda" points="1107.0,920.5 1106.1,916.5 1166.0,1030.0 1166.9,1033.6"/>
<polygon fill="#18addb" stroke="#18addb" points="1107.9,924.5 1107.0,920.5 1166.9,1033.6 1167.8,1037.2"/>
<polygon fill="#19acdc" stroke="#19acdc" points="1108.8,928.6 1107.9,924.5 1167.8,1037.2 1168.7,1040.9"/>
<polygon fill="#1aabdd" stroke="#1aabdd" points="1109.7,932.6 1108.8,928.6 1168.7,1040.9 1169.6,1044.5"/>
<polygon fill="#1baadf" stroke="#1baadf" points="1111.5,940.7 1109.7,932.6 1169.6,1044.5 1171.4,1051.6"/>
<polygon fill="#1ca9e0" stroke="#1ca9e0" points="1112.4,944.7 1111.5,940.7 1171.4,1051.6 1172.3,1055.2"/>
<polygon fill="#1da8e0" stroke="#1da8e0" points="1113.3,948.7 1112.4,944.7 1172.3,1055.2 1173.2,1058.8"/>
<polygon fill="#1ea7e1" stroke="#1ea7e1" points="1114.2,952.8 1113.3,948.7 1173.2,1058.8 1174.1,1062.3"/>
<polygon fill="#1fa6e2" stroke="#1fa6e2" points="1115.1,956.8 1114.2,952.8 1174.1,1062.3 1175.0,1065.9"/>
<polygon fill="#20a5e3" stroke="#20a5e3" points="1116.1,960.8 1115.1,956.8 1175.0,1065.9 1175.9,1069.4"/>
<polygon fill="#21a4e3" stroke="#21a4e3" points="1117.0,964.9 1116.1,960.8 1175.9,1069.4 1176.8,1073.0"/>
<polygon fill="#22a2e4" stroke="#22a2e4" points="1117.9,968.9 1117.0,964.9 1176.8,1073.0 1177.7,1076.5"/>
<polygon fill="#22a1e4" stroke="#22a1e4" points="1118.8,973.0 1117.9,968.9 1177.7,1076.5 1178.6,1080.0"/>
<polygon fill="#23a0e5" stroke="#23a0e5" points="1119.7,977.0 1118.8,973.0 1178.6,1080.0 1179.5,1083.5"/>
<polygon fill="#249fe5" stroke="#249fe5" points="1120.6,981.0 1119.7,977.0 1179.5,1083.5 1180.4,1087.0"/>
<polygon fill="#249ee6" stroke="#249ee6" points="1121.5,985.0 1120.6,981.0 1180.4,1087.0 1181.3,1090.4"/>
<polygon fill="#259de7" stroke="#259de7" points="1122.4,989.1 1121.5,985.0 1181.3,1090.4 1182.2,1093.9"/>
<polygon fill="#259be7" stroke="#259be7" points="1123.3,993.1 1122.4,989.1 1182.2,1093.9 1183.1,1097.3"/>
<polygon fill="#269ae8" stroke="#269ae8" points="1125.1,1001.1 1123.3,993.1 1183.1,1097.3 1184.9,1104.2"/>
<polygon fill="#2699e9" stroke="#2699e9" points="1126.0,1005.2 1125.1,1001.1 1184.9,1104.2 1185.8,1107.6"/>
<polygon fill="#2798ea" stroke="#2798ea" points="1126.9,1009.2 1126.0,1005.2 1185.8,1107.6 1186.7,1111.0"/>
<polygon fill="#2797eb" stroke="#2797eb" points="1127.8,1013.2 1126.9,1009.2 1186.7,1111.0 1187.6,1114.4"/>
<polygon fill="#2895ec" stroke="#2895ec" points="1128.7,1017.2 1127.8,1013.2 1187.6,1114.4 1188.5,1117.8"/>
<polygon fill="#2994ed" stroke="#2994ed" points="1129.6,1021.2 1128.7,1017.2 1188.5,1117.8 1189.4,1121.1"/>
<polygon fill="#2a93ee" stroke="#2a93ee" points="1130.5,1025.2 1129.6,1021.2 1189.4,1121.1 1190.3,1124.5"/>
<polygon fill="#2b92ee" stroke="#2b92ee" points="1131.4,1029.2 1130.5,1025.2 1190.3,1124.5 1191.2,1127.8"/>
<polygon fill="#2b90ef" stroke="#2b90ef" points="1132.3,1033.2 1131.4,1029.2 1191.2,1127.8 1192.1,1131.1"/>
<polygon fill="#2c8ff0" stroke="#2c8ff0" points="1133.2,1037.2 1132.3,1033.2 1192.1,1131.1 1193.0,1134.4"/>
<polygon fill="#2c8ef1" stroke="#2c8ef1" points="1134.1,1041.2 1133.2,1037.2 1193.0,1134.4 1193.9,1137.7"/>
<polygon fill="#2d8df2" stroke="#2d8df2" points="1135.0,1045.1 1134.1,1041.2 1193.9,1137.7 1194.8,1141.0"/>
<polygon fill="#2d8bf3" stroke="#2d8bf3" points="1136.8,1053.1 1135.0,1045.1 1194.8,1141.0 1196.6,1147.5"/>
<polygon fill="#2d8af4" stroke="#2d8af4" points="1137.7,1057.0 1136.8,1053.1 1196.6,1147.5 1197.5,1150.7"/>
<polygon fill="#2d89f6" stroke="#2d89f6" points="1138.6,1061.0 1137.7,1057.0 1197.5,1150.7 1198.4,1153.9"/>
<polygon fill="#2d87f7" stroke="#2d87f7" points="1139.5,1064.9 1138.6,1061.0 1198.4,1153.9 1199.3,1157.1"/>
<polygon fill="#2e86f7" stroke="#2e86f7" points="1140.4,1068.8 1139.5,1064.9 1199.3,1157.1 1200.2,1160.3"/>
<polygon fill="#2e85f8" stroke="#2e85f8" points="1141.3,1072.8 1140.4,1068.8 1200.2,1160.3 1201.1,1163.5"/>
<polygon fill="#2e83f9" stroke="#2e83f9" points="1142.2,1076.7 1141.3,1072.8 1201.1,1163.5 1202.0,1166.6"/>
<polygon fill="#2f82fa" stroke="#2f82fa" points="1143.1,1080.6 1142.2,1076.7 1202.0,1166.6 1202.9,1169.8"/>
<polygon fill="#2f81fa" stroke="#2f81fa" points="1144.0,1084.5 1143.1,1080.6 1202.9,1169.8 1203.8,1172.9"/>
<polygon fill="#307ffb" stroke="#307ffb" points="1145.8,1092.3 1144.0,1084.5 1203.8,1172.9 1205.6,1179.1"/>
<polygon fill="#317efb" stroke="#317efb" points="1146.7,1096.1 1145.8,1092.3 1205.6,1179.1 1206.5,1182.2"/>
<polygon fill="#327cfc" stroke="#327cfc" points="1147.6,1100.0 1146.7,1096.1 1206.5,1182.2 1207.4,1185.2"/>
<polygon fill="#337bfd" stroke="#337bfd" points="1148.5,1103.8 1147.6,1100.0 1207.4,1185.2 1208.3,1188.2"/>
<polygon fill="#3479fd" stroke="#3479fd" points="1149.4,1107.7 1148.5,1103.8 1208.3,1188.2 1209.2,1191.3"/>
<polygon fill="#3678fe" stroke="#3678fe" points="1150.3,1111.5 1149.4,1107.7 1209.2,1191.3 1210.1,1194.3"/>
<polygon fill="#3776fe" stroke="#3776fe" points="1151.2,1115.3 1150.3,1111.5 1210.1,1194.3 1211.0,1197.3"/>
<polygon fill="#3975fe" stroke="#3975fe" points="1153.0,1122.9 1151.2,1115.3 1211.0,1197.3 1212.8,1203.2"/>
<polygon fill="#3a73fe" stroke="#3a73fe" points="1153.9,1126.7 1153.0,1122.9 1212.8,1203.2 1213.7,1206.1"/>
<polygon fill="#3c72ff" stroke="#3c72ff" points="1154.8,1130.5 1153.9,1126.7 1213.7,1206.1 1214.6,1209.0"/>
<polygon fill="#3d70ff" stroke="#3d70ff" points="1155.7,1134.2 1154.8,1130.5 1214.6,1209.0 1215.5,1211.9"/>
<polygon fill="#3f6fff" stroke="#3f6fff" points="1156.6,1138.0 1155.7,1134.2 1215.5,1211.9 1216.4,1214.8"/>
<polygon fill="#406dfe" stroke="#406dfe" points="1158.4,1145.4 1156.6,1138.0 1216.4,1214.8 1218.2,1220.5"/>
<polygon fill="#416cfe" stroke="#416cfe" points="1159.3,1149.2 1158.4,1145.4 1218.2,1220.5 1219.1,1223.3"/>
<polygon fill="#426afe" stroke="#426afe" points="1160.2,1152.8 1159.3,1149.2 1219.1,1223.3 1220.0,1226.1"/>
<polygon fill="#4369fe" stroke="#4369fe" points="1161.1,1156.5 1160.2,1152.8 1220.0,1226.1 1220.9,1228.9"/>
<polygon fill="#4367fd" stroke="#4367fd" points="1162.0,1160.2 1161.1,1156.5 1220.9,1228.9 1221.8,1231.7"/>
<polygon fill="#4466fd" stroke="#4466fd" points="1163.8,1167.5 1162.0,1160.2 1221.8,1231.7 1223.6,1237.2"/>
<polygon fill="#4464fd" stroke="#4464fd" points="1164.7,1171.1 1163.8,1167.5 1223.6,1237.2 1224.5,1239.9"/>
<polygon fill="#4563fc" stroke="#4563fc" points="1165.6,1174.7 1164.7,1171.1 1224.5,1239.9 1225.4,1242.6"/>
<polygon fill="#4561fc" stroke="#4561fc" points="1166.5,1178.3 1165.6,1174.7 1225.4,1242.6 1226.3,1245.3"/>
<polygon fill="#4660fc" stroke="#4660fc" points="1168.3,1185.4 1166.5,1178.3 1226.3,1245.3 1228.1,1250.6"/>
<polygon fill="#465ffb" stroke="#465ffb" points="1169.2,1188.9 1168.3,1185.4 1228.1,1250.6 1229.0,1253.2"/>
<polygon fill="#465dfb" stroke="#465dfb" points="1170.1,1192.4 1169.2,1188.9 1229.0,1253.2 1229.9,1255.8"/>
<polygon fill="#475cfa" stroke="#475cfa" points="1171.9,1199.4 1170.1,1192.4 1229.9,1255.8 1231.7,1260.9"/>
<polygon fill="#475af9" stroke="#475af9" points="1172.8,1202.9 1171.9,1199.4 1231.7,1260.9 1232.6,1263.5"/>
<polygon fill="#4759f8" stroke="#4759f8" points="1173.7,1206.4 1172.8,1202.9 1232.6,1263.5 1233.5,1266.0"/>
<polygon fill="#4758f8" stroke="#4758f8" points="1175.5,1213.2 1173.7,1206.4 1233.5,1266.0 1235.3,1271.0"/>
<polygon fill="#4756f7" stroke="#4756f7" points="1176.4,1216.6 1175.5,1213.2 1235.3,1271.0 1236.2,1273.4"/>
<polygon fill="#4755f6" stroke="#4755f6" points="1177.3,1220.0 1176.4,1216.6 1236.2,1273.4 1237.1,1275.9"/>
<polygon fill="#4854f5" stroke="#4854f5" points="1179.1,1226.7 1177.3,1220.0 1237.1,1275.9 1238.9,1280.7"/>
<polygon fill="#4852f4" stroke="#4852f4" points="1180.0,1230.0 1179.1,1226.7 1238.9,1280.7 1239.8,1283.1"/>
<polygon fill="#4851f3" stroke="#4851f3" points="1181.8,1236.5 1180.0,1230.0 1239.8,1283.1 1241.6,1287.8"/>
<polygon fill="#484ff2" stroke="#484ff2" points="1182.7,1239.8 1181.8,1236.5 1241.6,1287.8 1242.5,1290.1"/>
<polygon fill="#484ef1" stroke="#484ef1" points="1184.5,1246.2 1182.7,1239.8 1242.5,1290.1 1244.3,1294.7"/>
<polygon fill="#484df0" stroke="#484df0" points="1185.4,1249.4 1184.5,1246.2 1244.3,1294.7 1245.2,1297.0"/>
<polygon fill="#484bef" stroke="#484bef" points="1187.2,1255.8 1185.4,1249.4 1245.2,1297.0 1247.0,1301.5"/>
<polygon fill="#484aee" stroke="#484aee" points="1188.1,1258.9 1187.2,1255.8 1247.0,1301.5 1247.9,1303.7"/>
<polygon fill="#4848ec" stroke="#4848ec" points="1189.9,1265.1 1188.1,1258.9 1247.9,1303.7 1249.7,1308.1"/>
<polygon fill="#4747eb" stroke="#4747eb" points="1190.8,1268.1 1189.9,1265.1 1249.7,1308.1 1250.6,1310.2"/>
<polygon fill="#4746ea" stroke="#4746ea" points="1192.6,1274.2 1190.8,1268.1 1250.6,1310.2 1252.4,1314.5"/>
<polygon fill="#4744e8" stroke="#4744e8" points="1194.4,1280.2 1192.6,1274.2 1252.4,1314.5 1254.2,1318.7"/>
<polygon fill="#4743e7" stroke="#4743e7" points="1195.3,1283.1 1194.4,1280.2 1254.2,1318.7 1255.1,1320.7"/>
<polygon fill="#4741e5" stroke="#4741e5" points="1197.1,1289.0 1195.3,1283.1 1255.1,1320.7 1256.9,1324.8"/>
<polygon fill="#4740e4" stroke="#4740e4" points="1198.9,1294.7 1197.1,1289.0 1256.9,1324.8 1258.7,1328.8"/>
<polygon fill="#473fe2" stroke="#473fe2" points="1200.7,1300.4 1198.9,1294.7 1258.7,1328.8 1260.5,1332.7"/>
<polygon fill="#463de0" stroke="#463de0" points="1201.6,1303.1 1200.7,1300.4 1260.5,1332.7 1261.4,1334.7"/>
<polygon fill="#463cde" stroke="#463cde" points="1203.4,1308.7 1201.6,1303.1 1261.4,1334.7 1263.2,1338.5"/>
<polygon fill="#463bdc" stroke="#463bdc" points="1205.2,1314.1 1203.4,1308.7 1263.2,1338.5 1265.0,1342.2"/>
<polygon fill="#4639da" stroke="#4639da" points="1207.0,1319.4 1205.2,1314.1 1265.0,1342.2 1266.8,1345.9"/>
<polygon fill="#4538d8" stroke="#4538d8" points="1208.8,1324.6 1207.0,1319.4 1266.8,1345.9 1268.6,1349.5"/>
<polygon fill="#4537d6" stroke="#4537d6" points="1211.5,1332.3 1208.8,1324.6 1268.6,1349.5 1271.3,1354.8"/>
<polygon fill="#4536d3" stroke="#4536d3" points="1213.3,1337.2 1211.5,1332.3 1271.3,1354.8 1273.1,1358.3"/>
<polygon fill="#4435d1" stroke="#4435d1" points="1215.1,1342.1 1213.3,1337.2 1273.1,1358.3 1274.9,1361.7"/>
<polygon fill="#4434ce" stroke="#4434ce" points="1217.8,1349.3 1215.1,1342.1 1274.9,1361.7 1277.7,1366.6"/>
<polygon fill="#4433cc" stroke="#4433cc" points="1219.6,1353.9 1217.8,1349.3 1277.7,1366.6 1279.5,1369.9"/>
<polygon fill="#4332c9" stroke="#4332c9" points="1222.3,1360.7 1219.6,1353.9 1279.5,1369.9 1282.2,1374.6"/>
<polygon fill="#4331c6" stroke="#4331c6" points="1225.0,1367.3 1222.3,1360.7 1282.2,1374.6 1284.9,1379.2"/>
<polygon fill="#4230c3" stroke="#4230c3" points="1227.7,1373.6 1225.0,1367.3 1284.9,1379.2 1287.6,1383.7"/>
<polygon fill="#422fc1" stroke="#422fc1" points="1230.4,1379.8 1227.7,1373.6 1287.6,1383.7 1290.3,1388.1"/>
<polygon fill="#412ebe" stroke="#412ebe" points="1234.0,1387.7 1230.4,1379.8 1290.3,1388.1 1293.9,1393.8"/>
<polygon fill="#412dbb" stroke="#412dbb" points="1236.7,1393.4 1234.0,1387.7 1293.9,1393.8 1296.6,1397.9"/>
<polygon fill="#412cb8" stroke="#412cb8" points="1241.2,1402.5 1236.7,1393.4 1296.6,1397.9 1301.1,1404.6"/>
<polygon fill="#402bb6" stroke="#402bb6" points="1245.7,1411.0 1241.2,1402.5 1301.1,1404.6 1305.6,1411.1"/>
<polygon fill="#402ab3" stroke="#402ab3" points="1251.1,1420.7 1245.7,1411.0 1305.6,1411.1 1311.0,1418.6"/>
<polygon fill="#3f29b0" stroke="#3f29b0" points="1257.4,1431.2 1251.1,1420.7 1311.0,1418.6 1317.3,1427.0"/>
<polygon fill="#3f28ad" stroke="#3f28ad" points="1267.4,1446.3 1262.0,1438.3 1257.4,1431.2 1317.3,1427.0 1327.2,1439.8"/>
<polygon fill="#3e27aa" stroke="#3e27aa" points="1331.3,1526.2 1302.5,1491.7 1289.0,1475.1 1277.3,1460.1 1271.9,1452.7 1267.4,1446.3 1327.2,1439.8 1347.0,1464.1 1391.1,1516.9"/>
<polygon fill="#f6f01f" stroke="#f6f01f" points="842.8,238.3 839.2,232.6 899.0,254.0 902.6,260.9"/>
<polygon fill="#f5ee21" stroke="#f5ee21" points="850.9,251.2 842.8,238.3 902.6,260.9 910.7,276.9"/>
<polygon fill="#f5ed22" stroke="#f5ed22" points="858.1,262.9 850.9,251.2 910.7,276.9 917.9,291.6"/>
<polygon fill="#f5eb23" stroke="#f5eb23" points="864.4,273.5 858.1,262.9 917.9,291.6 924.2,304.8"/>
<polygon fill="#f5ea24" stroke="#f5ea24" points="870.7,284.3 864.4,273.5 924.2,304.8 930.5,318.5"/>
<polygon fill="#f5e825" stroke="#f5e825" points="876.1,293.8 870.7,284.3 930.5,318.5 935.9,330.6"/>
<polygon fill="#f5e725" stroke="#f5e725" points="881.5,303.5 876.1,293.8 935.9,330.6 941.3,343.0"/>
<polygon fill="#f5e526" stroke="#f5e526" points="886.9,313.5 881.5,303.5 941.3,343.0 946.7,355.7"/>
<polygon fill="#f5e427" stroke="#f5e427" points="891.4,322.0 886.9,313.5 946.7,355.7 951.2,366.5"/>
<polygon fill="#f5e227" stroke="#f5e227" points="895.0,328.9 891.4,322.0 951.2,366.5 954.8,375.4"/>
<polygon fill="#f6e128" stroke="#f6e128" points="899.5,337.7 895.0,328.9 954.8,375.4 959.3,386.8"/>
<polygon fill="#f6df29" stroke="#f6df29" points="903.1,344.9 899.5,337.7 959.3,386.8 962.9,396.0"/>
<polygon fill="#f6de29" stroke="#f6de29" points="906.7,352.2 903.1,344.9 962.9,396.0 966.5,405.4"/>
<polygon fill="#f7dc2a" stroke="#f7dc2a" points="910.3,359.7 906.7,352.2 966.5,405.4 970.1,415.0"/>
<polygon fill="#f8da2b" stroke="#f8da2b" points="913.9,367.3 910.3,359.7 970.1,415.0 973.8,424.8"/>
<polygon fill="#f8d92c" stroke="#f8d92c" points="917.5,375.0 913.9,367.3 973.8,424.8 977.4,434.8"/>
<polygon fill="#f9d72c" stroke="#f9d72c" points="920.2,381.0 917.5,375.0 977.4,434.8 980.1,442.4"/>
<polygon fill="#fad62d" stroke="#fad62d" points="923.8,389.0 920.2,381.0 980.1,442.4 983.7,452.7"/>
<polygon fill="#fad42e" stroke="#fad42e" points="926.5,395.1 923.8,389.0 983.7,452.7 986.4,460.5"/>
<polygon fill="#fbd32f" stroke="#fbd32f" points="929.2,401.3 926.5,395.1 986.4,460.5 989.1,468.5"/>
<polygon fill="#fcd12f" stroke="#fcd12f" points="931.9,407.6 929.2,401.3 989.1,468.5 991.8,476.6"/>
<polygon fill="#fccf30" stroke="#fccf30" points="934.6,414.0 931.9,407.6 991.8,476.6 994.5,484.7"/>
<polygon fill="#fdce31" stroke="#fdce31" points="937.3,420.5 934.6,414.0 994.5,484.7 997.2,493.0"/>
<polygon fill="#fdcc32" stroke="#fdcc32" points="940.0,427.1 937.3,420.5 997.2,493.0 999.9,501.4"/>
<polygon fill="#fdcb33" stroke="#fdcb33" points="942.7,433.7 940.0,427.1 999.9,501.4 1002.6,509.9"/>
<polygon fill="#fec934" stroke="#fec934" points="944.5,438.3 942.7,433.7 1002.6,509.9 1004.4,515.7"/>
<polygon fill="#fec835" stroke="#fec835" points="947.2,445.1 944.5,438.3 1004.4,515.7 1007.1,524.4"/>
<polygon fill="#fec636" stroke="#fec636" points="949.9,452.1 947.2,445.1 1007.1,524.4 1009.8,533.2"/>
<polygon fill="#fec537" stroke="#fec537" points="951.7,456.8 949.9,452.1 1009.8,533.2 1011.6,539.2"/>
<polygon fill="#fec338" stroke="#fec338" points="953.5,461.6 951.7,456.8 1011.6,539.2 1013.4,545.2"/>
<polygon fill="#fec239" stroke="#fec239" points="956.3,468.8 953.5,461.6 1013.4,545.2 1016.1,554.3"/>
<polygon fill="#fec13a" stroke="#fec13a" points="958.1,473.7 956.3,468.8 1016.1,554.3 1017.9,560.4"/>
<polygon fill="#febf3b" stroke="#febf3b" points="959.9,478.6 958.1,473.7 1017.9,560.4 1019.7,566.6"/>
<polygon fill="#febe3c" stroke="#febe3c" points="962.6,486.1 959.9,478.6 1019.7,566.6 1022.4,575.9"/>
<polygon fill="#fdbd3d" stroke="#fdbd3d" points="964.4,491.2 962.6,486.1 1022.4,575.9 1024.2,582.2"/>
<polygon fill="#fbbc3d" stroke="#fbbc3d" points="966.2,496.3 964.4,491.2 1024.2,582.2 1026.0,588.6"/>
<polygon fill="#fabb3d" stroke="#fabb3d" points="968.0,501.5 966.2,496.3 1026.0,588.6 1027.8,595.0"/>
<polygon fill="#f8ba3d" stroke="#f8ba3d" points="969.8,506.7 968.0,501.5 1027.8,595.0 1029.6,601.5"/>
<polygon fill="#f6ba3c" stroke="#f6ba3c" points="971.6,512.0 969.8,506.7 1029.6,601.5 1031.4,608.0"/>
<polygon fill="#f4ba3a" stroke="#f4ba3a" points="973.4,517.4 971.6,512.0 1031.4,608.0 1033.2,614.5"/>
<polygon fill="#f2ba38" stroke="#f2ba38" points="975.2,522.8 973.4,517.4 1033.2,614.5 1035.0,621.2"/>
<polygon fill="#f0ba36" stroke="#f0ba36" points="977.0,528.2 975.2,522.8 1035.0,621.2 1036.8,627.8"/>
<polygon fill="#eeba34" stroke="#eeba34" points="978.8,533.7 977.0,528.2 1036.8,627.8 1038.6,634.5"/>
<polygon fill="#ecba32" stroke="#ecba32" points="980.6,539.3 978.8,533.7 1038.6,634.5 1040.4,641.3"/>
<polygon fill="#e9bb30" stroke="#e9bb30" points="981.5,542.1 980.6,539.3 1040.4,641.3 1041.3,644.7"/>
<polygon fill="#e7bb2e" stroke="#e7bb2e" points="983.3,547.8 981.5,542.1 1041.3,644.7 1043.1,651.5"/>
<polygon fill="#e5bb2c" stroke="#e5bb2c" points="985.1,553.5 983.3,547.8 1043.1,651.5 1044.9,658.4"/>
<polygon fill="#e2bc2b" stroke="#e2bc2b" points="986.9,559.3 985.1,553.5 1044.9,658.4 1046.7,665.4"/>
<polygon fill="#e0bc2a" stroke="#e0bc2a" points="987.8,562.2 986.9,559.3 1046.7,665.4 1047.6,668.9"/>
<polygon fill="#ddbd29" stroke="#ddbd29" points="989.6,568.0 987.8,562.2 1047.6,668.9 1049.4,675.9"/>
<polygon fill="#dbbd28" stroke="#dbbd28" points="991.4,574.0 989.6,568.0 1049.4,675.9 1051.2,682.9"/>
<polygon fill="#d8be28" stroke="#d8be28" points="992.3,577.0 991.4,574.0 1051.2,682.9 1052.1,686.5"/>
<polygon fill="#d5be28" stroke="#d5be28" points="994.1,583.0 992.3,577.0 1052.1,686.5 1053.9,693.6"/>
<polygon fill="#d2bf27" stroke="#d2bf27" points="995.9,589.0 994.1,583.0 1053.9,693.6 1055.7,700.8"/>
<polygon fill="#d0c028" stroke="#d0c028" points="996.8,592.1 995.9,589.0 1055.7,700.8 1056.6,704.4"/>
<polygon fill="#cdc028" stroke="#cdc028" points="998.6,598.3 996.8,592.1 1056.6,704.4 1058.4,711.6"/>
<polygon fill="#cac129" stroke="#cac129" points="999.5,601.4 998.6,598.3 1058.4,711.6 1059.3,715.2"/>
<polygon fill="#c7c12a" stroke="#c7c12a" points="1001.3,607.6 999.5,601.4 1059.3,715.2 1061.1,722.6"/>
<polygon fill="#c4c22b" stroke="#c4c22b" points="1002.2,610.8 1001.3,607.6 1061.1,722.6 1062.0,726.2"/>
<polygon fill="#c1c32c" stroke="#c1c32c" points="1004.0,617.2 1002.2,610.8 1062.0,726.2 1063.8,733.6"/>
<polygon fill="#bec32e" stroke="#bec32e" points="1004.9,620.4 1004.0,617.2 1063.8,733.6 1064.7,737.3"/>
<polygon fill="#bac430" stroke="#bac430" points="1006.7,626.8 1004.9,620.4 1064.7,737.3 1066.5,744.7"/>
<polygon fill="#b7c532" stroke="#b7c532" points="1007.6,630.1 1006.7,626.8 1066.5,744.7 1067.4,748.5"/>
<polygon fill="#b4c534" stroke="#b4c534" points="1009.4,636.6 1007.6,630.1 1067.4,748.5 1069.2,756.0"/>
<polygon fill="#b1c636" stroke="#b1c636" points="1010.3,639.9 1009.4,636.6 1069.2,756.0 1070.1,759.7"/>
<polygon fill="#adc638" stroke="#adc638" points="1012.1,646.5 1010.3,639.9 1070.1,759.7 1071.9,767.3"/>
<polygon fill="#aac73a" stroke="#aac73a" points="1013.0,649.9 1012.1,646.5 1071.9,767.3 1072.8,771.1"/>
<polygon fill="#a7c73c" stroke="#a7c73c" points="1013.9,653.2 1013.0,649.9 1072.8,771.1 1073.7,774.9"/>
<polygon fill="#a3c83e" stroke="#a3c83e" points="1015.7,660.0 1013.9,653.2 1073.7,774.9 1075.5,782.5"/>
<polygon fill="#a0c841" stroke="#a0c841" points="1016.6,663.4 1015.7,660.0 1075.5,782.5 1076.4,786.3"/>
<polygon fill="#9cc943" stroke="#9cc943" points="1017.5,666.8 1016.6,663.4 1076.4,786.3 1077.3,790.2"/>
<polygon fill="#99c946" stroke="#99c946" points="1019.3,673.7 1017.5,666.8 1077.3,790.2 1079.1,797.8"/>
<polygon fill="#95ca49" stroke="#95ca49" points="1020.2,677.2 1019.3,673.7 1079.1,797.8 1080.0,801.7"/>
<polygon fill="#92ca4c" stroke="#92ca4c" points="1021.1,680.7 1020.2,677.2 1080.0,801.7 1080.9,805.6"/>
<polygon fill="#8ecb4e" stroke="#8ecb4e" points="1022.9,687.7 1021.1,680.7 1080.9,805.6 1082.7,813.3"/>
<polygon fill="#8bcb51" stroke="#8bcb51" points="1023.8,691.2 1022.9,687.7 1082.7,813.3 1083.6,817.2"/>
<polygon fill="#87cb54" stroke="#87cb54" points="1024.7,694.7 1023.8,691.2 1083.6,817.2 1084.5,821.1"/>
<polygon fill="#84cc56" stroke="#84cc56" points="1025.6,698.3 1024.7,694.7 1084.5,821.1 1085.4,825.0"/>
<polygon fill="#80cc59" stroke="#80cc59" points="1027.4,705.5 1025.6,698.3 1085.4,825.0 1087.2,832.9"/>
<polygon fill="#7ccc5c" stroke="#7ccc5c" points="1028.3,709.1 1027.4,705.5 1087.2,832.9 1088.1,836.8"/>
<polygon fill="#79cc5f" stroke="#79cc5f" points="1029.2,712.7 1028.3,709.1 1088.1,836.8 1089.0,840.7"/>
<polygon fill="#75cc61" stroke="#75cc61" points="1030.1,716.3 1029.2,712.7 1089.0,840.7 1089.9,844.7"/>
<polygon fill="#71cd64" stroke="#71cd64" points="1031.9,723.7 1030.1,716.3 1089.9,844.7 1091.7,852.6"/>
<polygon fill="#6ecd67" stroke="#6ecd67" points="1032.8,727.3 1031.9,723.7 1091.7,852.6 1092.6,856.5"/>
<polygon fill="#6acd6a" stroke="#6acd6a" points="1033.7,731.0 1032.8,727.3 1092.6,856.5 1093.5,860.5"/>
<polygon fill="#67cd6c" stroke="#67cd6c" points="1034.6,734.8 1033.7,731.0 1093.5,860.5 1094.4,864.5"/>
<polygon fill="#64cd6f" stroke="#64cd6f" points="1035.5,738.5 1034.6,734.8 1094.4,864.5 1095.3,868.4"/>
<polygon fill="#60cd72" stroke="#60cd72" points="1037.3,746.0 1035.5,738.5 1095.3,868.4 1097.1,876.4"/>
<polygon fill="#5dcc75" stroke="#5dcc75" points="1038.2,749.7 1037.3,746.0 1097.1,876.4 1098.0,880.4"/>
<polygon fill="#5acc77" stroke="#5acc77" points="1039.1,753.5 1038.2,749.7 1098.0,880.4 1098.9,884.4"/>
<polygon fill="#57cc7a" stroke="#57cc7a" points="1040.0,757.3 1039.1,753.5 1098.9,884.4 1099.8,888.4"/>
<polygon fill="#54cc7d" stroke="#54cc7d" points="1040.9,761.1 1040.0,757.3 1099.8,888.4 1100.7,892.4"/>
<polygon fill="#51cc7f" stroke="#51cc7f" points="1041.8,765.0 1040.9,761.1 1100.7,892.4 1101.6,896.4"/>
<polygon fill="#4ecc82" stroke="#4ecc82" points="1043.6,772.7 1041.8,765.0 1101.6,896.4 1103.4,904.4"/>
<polygon fill="#4acb84" stroke="#4acb84" points="1044.5,776.6 1043.6,772.7 1103.4,904.4 1104.3,908.4"/>
<polygon fill="#48cb86" stroke="#48cb86" points="1045.4,780.4 1044.5,776.6 1104.3,908.4 1105.2,912.5"/>
<polygon fill="#45cb89" stroke="#45cb89" points="1046.3,784.3 1045.4,780.4 1105.2,912.5 1106.1,916.5"/>
<polygon fill="#42ca8b" stroke="#42ca8b" points="1047.2,788.2 1046.3,784.3 1106.1,916.5 1107.0,920.5"/>
<polygon fill="#3fca8e" stroke="#3fca8e" points="1048.1,792.2 1047.2,788.2 1107.0,920.5 1107.9,924.5"/>
<polygon fill="#3dca90" stroke="#3dca90" points="1049.0,796.1 1048.1,792.2 1107.9,924.5 1108.8,928.6"/>
<polygon fill="#3bc992" stroke="#3bc992" points="1049.9,800.1 1049.0,796.1 1108.8,928.6 1109.7,932.6"/>
<polygon fill="#39c994" stroke="#39c994" points="1050.8,804.0 1049.9,800.1 1109.7,932.6 1110.6,936.6"/>
<polygon fill="#38c897" stroke="#38c897" points="1052.6,812.0 1050.8,804.0 1110.6,936.6 1112.4,944.7"/>
<polygon fill="#36c899" stroke="#36c899" points="1053.5,816.0 1052.6,812.0 1112.4,944.7 1113.3,948.7"/>
<polygon fill="#35c79b" stroke="#35c79b" points="1054.4,820.0 1053.5,816.0 1113.3,948.7 1114.2,952.8"/>
<polygon fill="#33c79d" stroke="#33c79d" points="1055.3,824.1 1054.4,820.0 1114.2,952.8 1115.1,956.8"/>
<polygon fill="#32c69f" stroke="#32c69f" points="1056.2,828.1 1055.3,824.1 1115.1,956.8 1116.1,960.8"/>
<polygon fill="#30c5a1" stroke="#30c5a1" points="1057.1,832.2 1056.2,828.1 1116.1,960.8 1117.0,964.9"/>
<polygon fill="#2fc5a3" stroke="#2fc5a3" points="1058.0,836.2 1057.1,832.2 1117.0,964.9 1117.9,968.9"/>
<polygon fill="#2ec4a5" stroke="#2ec4a5" points="1058.9,840.3 1058.0,836.2 1117.9,968.9 1118.8,973.0"/>
<polygon fill="#2cc4a6" stroke="#2cc4a6" points="1059.8,844.4 1058.9,840.3 1118.8,973.0 1119.7,977.0"/>
<polygon fill="#2bc3a8" stroke="#2bc3a8" points="1060.7,848.5 1059.8,844.4 1119.7,977.0 1120.6,981.0"/>
<polygon fill="#29c3aa" stroke="#29c3aa" points="1061.6,852.6 1060.7,848.5 1120.6,981.0 1121.5,985.0"/>
<polygon fill="#27c2ac" stroke="#27c2ac" points="1062.5,856.7 1061.6,852.6 1121.5,985.0 1122.4,989.1"/>
<polygon fill="#25c2ae" stroke="#25c2ae" points="1063.4,860.9 1062.5,856.7 1122.4,989.1 1123.3,993.1"/>
<polygon fill="#22c1b0" stroke="#22c1b0" points="1064.3,865.0 1063.4,860.9 1123.3,993.1 1124.2,997.1"/>
<polygon fill="#1fc1b1" stroke="#1fc1b1" points="1065.2,869.2 1064.3,865.0 1124.2,997.1 1125.1,1001.1"/>
<polygon fill="#1dc0b3" stroke="#1dc0b3" points="1066.1,873.3 1065.2,869.2 1125.1,1001.1 1126.0,1005.2"/>
<polygon fill="#1abfb5" stroke="#1abfb5" points="1067.0,877.5 1066.1,873.3 1126.0,1005.2 1126.9,1009.2"/>
<polygon fill="#17bfb6" stroke="#17bfb6" points="1067.9,881.7 1067.0,877.5 1126.9,1009.2 1127.8,1013.2"/>
<polygon fill="#13beb8" stroke="#13beb8" points="1068.8,885.9 1067.9,881.7 1127.8,1013.2 1128.7,1017.2"/>
<polygon fill="#10beba" stroke="#10beba" points="1069.7,890.1 1068.8,885.9 1128.7,1017.2 1129.6,1021.2"/>
<polygon fill="#0dbdbc" stroke="#0dbdbc" points="1070.6,894.3 1069.7,890.1 1129.6,1021.2 1130.5,1025.2"/>
<polygon fill="#0abdbd" stroke="#0abdbd" points="1071.5,898.5 1070.6,894.3 1130.5,1025.2 1131.4,1029.2"/>
<polygon fill="#08bcbf" stroke="#08bcbf" points="1072.4,902.8 1071.5,898.5 1131.4,1029.2 1132.3,1033.2"/>
<polygon fill="#05bbc1" stroke="#05bbc1" points="1073.3,907.0 1072.4,902.8 1132.3,1033.2 1133.2,1037.2"/>
<polygon fill="#03bbc2" stroke="#03bbc2" points="1074.2,911.3 1073.3,907.0 1133.2,1037.2 1134.1,1041.2"/>
<polygon fill="#02bac4" stroke="#02bac4" points="1075.1,915.5 1074.2,911.3 1134.1,1041.2 1135.0,1045.1"/>
<polygon fill="#01b9c6" stroke="#01b9c6" points="1076.0,919.8 1075.1,915.5 1135.0,1045.1 1135.9,1049.1"/>
<polygon fill="#01b9c7" stroke="#01b9c7" points="1076.9,924.1 1076.0,919.8 1135.9,1049.1 1136.8,1053.1"/>
<polygon fill="#01b8c9" stroke="#01b8c9" points="1077.8,928.3 1076.9,924.1 1136.8,1053.1 1137.7,1057.0"/>
<polygon fill="#01b7ca" stroke="#01b7ca" points="1078.7,932.6 1077.8,928.3 1137.7,1057.0 1138.6,1061.0"/>
<polygon fill="#03b7cc" stroke="#03b7cc" points="1079.6,936.9 1078.7,932.6 1138.6,1061.0 1139.5,1064.9"/>
<polygon fill="#05b6cd" stroke="#05b6cd" points="1080.5,941.2 1079.6,936.9 1139.5,1064.9 1140.4,1068.8"/>
<polygon fill="#06b5cf" stroke="#06b5cf" points="1081.4,945.5 1080.5,941.2 1140.4,1068.8 1141.3,1072.8"/>
<polygon fill="#08b4d1" stroke="#08b4d1" points="1082.3,949.9 1081.4,945.5 1141.3,1072.8 1142.2,1076.7"/>
<polygon fill="#0bb4d2" stroke="#0bb4d2" points="1083.2,954.2 1082.3,949.9 1142.2,1076.7 1143.1,1080.6"/>
<polygon fill="#0db3d3" stroke="#0db3d3" points="1084.1,958.5 1083.2,954.2 1143.1,1080.6 1144.0,1084.5"/>
<polygon fill="#10b2d5" stroke="#10b2d5" points="1085.0,962.8 1084.1,958.5 1144.0,1084.5 1144.9,1088.4"/>
<polygon fill="#12b1d6" stroke="#12b1d6" points="1085.9,967.2 1085.0,962.8 1144.9,1088.4 1145.8,1092.3"/>
<polygon fill="#14b0d8" stroke="#14b0d8" points="1086.8,971.5 1085.9,967.2 1145.8,1092.3 1146.7,1096.1"/>
<polygon fill="#15afd9" stroke="#15afd9" points="1087.7,975.9 1086.8,971.5 1146.7,1096.1 1147.6,1100.0"/>
<polygon fill="#17aeda" stroke="#17aeda" points="1088.6,980.2 1087.7,975.9 1147.6,1100.0 1148.5,1103.8"/>
<polygon fill="#18addb" stroke="#18addb" points="1089.5,984.6 1088.6,980.2 1148.5,1103.8 1149.4,1107.7"/>
<polygon fill="#19acdc" stroke="#19acdc" points="1090.4,988.9 1089.5,984.6 1149.4,1107.7 1150.3,1111.5"/>
<polygon fill="#1aabdd" stroke="#1aabdd" points="1091.3,993.3 1090.4,988.9 1150.3,1111.5 1151.2,1115.3"/>
<polygon fill="#1baadf" stroke="#1baadf" points="1092.2,997.6 1091.3,993.3 1151.2,1115.3 1152.1,1119.1"/>
<polygon fill="#1ca9e0" stroke="#1ca9e0" points="1093.1,1002.0 1092.2,997.6 1152.1,1119.1 1153.0,1122.9"/>
<polygon fill="#1da8e0" stroke="#1da8e0" points="1094.0,1006.4 1093.1,1002.0 1153.0,1122.9 1153.9,1126.7"/>
<polygon fill="#1ea7e1" stroke="#1ea7e1" points="1094.9,1010.7 1094.0,1006.4 1153.9,1126.7 1154.8,1130.5"/>
<polygon fill="#1fa6e2" stroke="#1fa6e2" points="1095.8,1015.1 1094.9,1010.7 1154.8,1130.5 1155.7,1134.2"/>
<polygon fill="#20a5e3" stroke="#20a5e3" points="1096.7,1019.5 1095.8,1015.1 1155.7,1134.2 1156.6,1138.0"/>
<polygon fill="#21a4e3" stroke="#21a4e3" points="1097.6,1023.8 1096.7,1019.5 1156.6,1138.0 1157.5,1141.7"/>
<polygon fill="#22a2e4" stroke="#22a2e4" points="1098.5,1028.2 1097.6,1023.8 1157.5,1141.7 1158.4,1145.4"/>
<polygon fill="#23a0e5" stroke="#23a0e5" points="1099.5,1032.6 1098.5,1028.2 1158.4,1145.4 1159.3,1149.2"/>
<polygon fill="#249fe5" stroke="#249fe5" points="1100.4,1037.0 1099.5,1032.6 1159.3,1149.2 1160.2,1152.8"/>
<polygon fill="#249ee6" stroke="#249ee6" points="1101.3,1041.3 1100.4,1037.0 1160.2,1152.8 1161.1,1156.5"/>
<polygon fill="#259de7" stroke="#259de7" points="1102.2,1045.7 1101.3,1041.3 1161.1,1156.5 1162.0,1160.2"/>
<polygon fill="#259be7" stroke="#259be7" points="1103.1,1050.1 1102.2,1045.7 1162.0,1160.2 1162.9,1163.8"/>
<polygon fill="#269ae8" stroke="#269ae8" points="1104.0,1054.4 1103.1,1050.1 1162.9,1163.8 1163.8,1167.5"/>
<polygon fill="#2699e9" stroke="#2699e9" points="1104.9,1058.8 1104.0,1054.4 1163.8,1167.5 1164.7,1171.1"/>
<polygon fill="#2798ea" stroke="#2798ea" points="1105.8,1063.2 1104.9,1058.8 1164.7,1171.1 1165.6,1174.7"/>
<polygon fill="#2797eb" stroke="#2797eb" points="1106.7,1067.5 1105.8,1063.2 1165.6,1174.7 1166.5,1178.3"/>
<polygon fill="#2895ec" stroke="#2895ec" points="1107.6,1071.9 1106.7,1067.5 1166.5,1178.3 1167.4,1181.8"/>
<polygon fill="#2994ed" stroke="#2994ed" points="1108.5,1076.2 1107.6,1071.9 1167.4,1181.8 1168.3,1185.4"/>
<polygon fill="#2a93ee" stroke="#2a93ee" points="1109.4,1080.6 1108.5,1076.2 1168.3,1185.4 1169.2,1188.9"/>
<polygon fill="#2b92ee" stroke="#2b92ee" points="1110.3,1084.9 1109.4,1080.6 1169.2,1188.9 1170.1,1192.4"/>
<polygon fill="#2b90ef" stroke="#2b90ef" points="1111.2,1089.2 1110.3,1084.9 1170.1,1192.4 1171.0,1196.0"/>
<polygon fill="#2c8ff0" stroke="#2c8ff0" points="1112.1,1093.6 1111.2,1089.2 1171.0,1196.0 1171.9,1199.4"/>
<polygon fill="#2c8ef1" stroke="#2c8ef1" points="1113.0,1097.9 1112.1,1093.6 1171.9,1199.4 1172.8,1202.9"/>
<polygon fill="#2d8df2" stroke="#2d8df2" points="1113.9,1102.2 1113.0,1097.9 1172.8,1202.9 1173.7,1206.4"/>
<polygon fill="#2d8bf3" stroke="#2d8bf3" points="1114.8,1106.5 1113.9,1102.2 1173.7,1206.4 1174.6,1209.8"/>
<polygon fill="#2d8af4" stroke="#2d8af4" points="1115.7,1110.8 1114.8,1106.5 1174.6,1209.8 1175.5,1213.2"/>
<polygon fill="#2d89f6" stroke="#2d89f6" points="1116.6,1115.1 1115.7,1110.8 1175.5,1213.2 1176.4,1216.6"/>
<polygon fill="#2d87f7" stroke="#2d87f7" points="1117.5,1119.4 1116.6,1115.1 1176.4,1216.6 1177.3,1220.0"/>
<polygon fill="#2e86f7" stroke="#2e86f7" points="1118.4,1123.7 1117.5,1119.4 1177.3,1220.0 1178.2,1223.3"/>
<polygon fill="#2e85f8" stroke="#2e85f8" points="1119.3,1128.0 1118.4,1123.7 1178.2,1223.3 1179.1,1226.7"/>
<polygon fill="#2e83f9" stroke="#2e83f9" points="1120.2,1132.3 1119.3,1128.0 1179.1,1226.7 1180.0,1230.0"/>
<polygon fill="#2f82fa" stroke="#2f82fa" points="1121.1,1136.5 1120.2,1132.3 1180.0,1230.0 1180.9,1233.3"/>
<polygon fill="#2f81fa" stroke="#2f81fa" points="1122.0,1140.8 1121.1,1136.5 1180.9,1233.3 1181.8,1236.5"/>
<polygon fill="#307ffb" stroke="#307ffb" points="1122.9,1145.0 1122.0,1140.8 1181.8,1236.5 1182.7,1239.8"/>
<polygon fill="#317efb" stroke="#317efb" points="1123.8,1149.2 1122.9,1145.0 1182.7,1239.8 1183.6,1243.0"/>
<polygon fill="#327cfc" stroke="#327cfc" points="1124.7,1153.4 1123.8,1149.2 1183.6,1243.0 1184.5,1246.2"/>
<polygon fill="#337bfd" stroke="#337bfd" points="1125.6,1157.6 1124.7,1153.4 1184.5,1246.2 1185.4,1249.4"/>
<polygon fill="#3479fd" stroke="#3479fd" points="1126.5,1161.8 1125.6,1157.6 1185.4,1249.4 1186.3,1252.6"/>
<polygon fill="#3678fe" stroke="#3678fe" points="1127.4,1166.0 1126.5,1161.8 1186.3,1252.6 1187.2,1255.8"/>
<polygon fill="#3776fe" stroke="#3776fe" points="1128.3,1170.2 1127.4,1166.0 1187.2,1255.8 1188.1,1258.9"/>
<polygon fill="#3975fe" stroke="#3975fe" points="1129.2,1174.3 1128.3,1170.2 1188.1,1258.9 1189.0,1262.0"/>
<polygon fill="#3a73fe" stroke="#3a73fe" points="1130.1,1178.5 1129.2,1174.3 1189.0,1262.0 1189.9,1265.1"/>
<polygon fill="#3c72ff" stroke="#3c72ff" points="1131.0,1182.6 1130.1,1178.5 1189.9,1265.1 1190.8,1268.1"/>
<polygon fill="#3d70ff" stroke="#3d70ff" points="1131.9,1186.7 1131.0,1182.6 1190.8,1268.1 1191.7,1271.2"/>
<polygon fill="#3f6fff" stroke="#3f6fff" points="1132.8,1190.8 1131.9,1186.7 1191.7,1271.2 1192.6,1274.2"/>
<polygon fill="#406dfe" stroke="#406dfe" points="1133.7,1194.9 1132.8,1190.8 1192.6,1274.2 1193.5,1277.2"/>
<polygon fill="#416cfe" stroke="#416cfe" points="1134.6,1198.9 1133.7,1194.9 1193.5,1277.2 1194.4,1280.2"/>
<polygon fill="#426afe" stroke="#426afe" points="1135.5,1203.0 1134.6,1198.9 1194.4,1280.2 1195.3,1283.1"/>
<polygon fill="#4369fe" stroke="#4369fe" points="1136.4,1207.0 1135.5,1203.0 1195.3,1283.1 1196.2,1286.1"/>
<polygon fill="#4367fd" stroke="#4367fd" points="1137.3,1211.0 1136.4,1207.0 1196.2,1286.1 1197.1,1289.0"/>
<polygon fill="#4466fd" stroke="#4466fd" points="1139.1,1219.0 1137.3,1211.0 1197.1,1289.0 1198.9,1294.7"/>
<polygon fill="#4464fd" stroke="#4464fd" points="1140.0,1223.0 1139.1,1219.0 1198.9,1294.7 1199.8,1297.5"/>
<polygon fill="#4563fc" stroke="#4563fc" points="1140.9,1226.9 1140.0,1223.0 1199.8,1297.5 1200.7,1300.4"/>
<polygon fill="#4561fc" stroke="#4561fc" points="1141.8,1230.8 1140.9,1226.9 1200.7,1300.4 1201.6,1303.1"/>
<polygon fill="#4660fc" stroke="#4660fc" points="1142.7,1234.7 1141.8,1230.8 1201.6,1303.1 1202.5,1305.9"/>
<polygon fill="#465ffb" stroke="#465ffb" points="1143.6,1238.6 1142.7,1234.7 1202.5,1305.9 1203.4,1308.7"/>
<polygon fill="#465dfb" stroke="#465dfb" points="1144.5,1242.5 1143.6,1238.6 1203.4,1308.7 1204.3,1311.4"/>
<polygon fill="#475cfa" stroke="#475cfa" points="1145.4,1246.3 1144.5,1242.5 1204.3,1311.4 1205.2,1314.1"/>
<polygon fill="#475af9" stroke="#475af9" points="1147.2,1253.9 1145.4,1246.3 1205.2,1314.1 1207.0,1319.4"/>
<polygon fill="#4759f8" stroke="#4759f8" points="1148.1,1257.7 1147.2,1253.9 1207.0,1319.4 1207.9,1322.0"/>
<polygon fill="#4758f8" stroke="#4758f8" points="1149.0,1261.4 1148.1,1257.7 1207.9,1322.0 1208.8,1324.6"/>
<polygon fill="#4756f7" stroke="#4756f7" points="1149.9,1265.2 1149.0,1261.4 1208.8,1324.6 1209.7,1327.2"/>
<polygon fill="#4755f6" stroke="#4755f6" points="1150.8,1268.9 1149.9,1265.2 1209.7,1327.2 1210.6,1329.7"/>
<polygon fill="#4854f5" stroke="#4854f5" points="1152.6,1276.2 1150.8,1268.9 1210.6,1329.7 1212.4,1334.8"/>
<polygon fill="#4852f4" stroke="#4852f4" points="1153.5,1279.8 1152.6,1276.2 1212.4,1334.8 1213.3,1337.2"/>
<polygon fill="#4851f3" stroke="#4851f3" points="1154.4,1283.5 1153.5,1279.8 1213.3,1337.2 1214.2,1339.7"/>
<polygon fill="#484ff2" stroke="#484ff2" points="1155.3,1287.0 1154.4,1283.5 1214.2,1339.7 1215.1,1342.1"/>
<polygon fill="#484ef1" stroke="#484ef1" points="1157.1,1294.1 1155.3,1287.0 1215.1,1342.1 1216.9,1346.9"/>
<polygon fill="#484df0" stroke="#484df0" points="1158.0,1297.6 1157.1,1294.1 1216.9,1346.9 1217.8,1349.3"/>
<polygon fill="#484bef" stroke="#484bef" points="1158.9,1301.1 1158.0,1297.6 1217.8,1349.3 1218.7,1351.6"/>
<polygon fill="#484aee" stroke="#484aee" points="1160.7,1308.0 1158.9,1301.1 1218.7,1351.6 1220.5,1356.2"/>
<polygon fill="#4848ec" stroke="#4848ec" points="1161.6,1311.4 1160.7,1308.0 1220.5,1356.2 1221.4,1358.5"/>
<polygon fill="#4747eb" stroke="#4747eb" points="1162.5,1314.8 1161.6,1311.4 1221.4,1358.5 1222.3,1360.7"/>
<polygon fill="#4746ea" stroke="#4746ea" points="1164.3,1321.4 1162.5,1314.8 1222.3,1360.7 1224.1,1365.1"/>
<polygon fill="#4744e8" stroke="#4744e8" points="1165.2,1324.7 1164.3,1321.4 1224.1,1365.1 1225.0,1367.3"/>
<polygon fill="#4743e7" stroke="#4743e7" points="1167.0,1331.2 1165.2,1324.7 1225.0,1367.3 1226.8,1371.5"/>
<polygon fill="#4741e5" stroke="#4741e5" points="1167.9,1334.4 1167.0,1331.2 1226.8,1371.5 1227.7,1373.6"/>
<polygon fill="#4740e4" stroke="#4740e4" points="1169.7,1340.7 1167.9,1334.4 1227.7,1373.6 1229.5,1377.8"/>
<polygon fill="#473fe2" stroke="#473fe2" points="1170.6,1343.8 1169.7,1340.7 1229.5,1377.8 1230.4,1379.8"/>
<polygon fill="#463de0" stroke="#463de0" points="1172.4,1350.0 1170.6,1343.8 1230.4,1379.8 1232.2,1383.8"/>
<polygon fill="#463cde" stroke="#463cde" points="1173.3,1353.0 1172.4,1350.0 1232.2,1383.8 1233.1,1385.8"/>
<polygon fill="#463bdc" stroke="#463bdc" points="1175.1,1358.9 1173.3,1353.0 1233.1,1385.8 1234.9,1389.6"/>
<polygon fill="#4639da" stroke="#4639da" points="1176.9,1364.8 1175.1,1358.9 1234.9,1389.6 1236.7,1393.4"/>
<polygon fill="#4538d8" stroke="#4538d8" points="1178.7,1370.5 1176.9,1364.8 1236.7,1393.4 1238.5,1397.1"/>
<polygon fill="#4537d6" stroke="#4537d6" points="1180.5,1376.0 1178.7,1370.5 1238.5,1397.1 1240.3,1400.7"/>
<polygon fill="#4536d3" stroke="#4536d3" points="1181.4,1378.8 1180.5,1376.0 1240.3,1400.7 1241.2,1402.5"/>
<polygon fill="#4435d1" stroke="#4435d1" points="1183.2,1384.2 1181.4,1378.8 1241.2,1402.5 1243.0,1406.0"/>
<polygon fill="#4434ce" stroke="#4434ce" points="1185.9,1392.0 1183.2,1384.2 1243.0,1406.0 1245.7,1411.0"/>
<polygon fill="#4433cc" stroke="#4433cc" points="1187.7,1397.1 1185.9,1392.0 1245.7,1411.0 1247.5,1414.3"/>
<polygon fill="#4332c9" stroke="#4332c9" points="1189.5,1402.0 1187.7,1397.1 1247.5,1414.3 1249.3,1417.6"/>
<polygon fill="#4331c6" stroke="#4331c6" points="1191.3,1406.8 1189.5,1402.0 1249.3,1417.6 1251.1,1420.7"/>
<polygon fill="#4230c3" stroke="#4230c3" points="1194.0,1413.8 1191.3,1406.8 1251.1,1420.7 1253.8,1425.3"/>
<polygon fill="#422fc1" stroke="#422fc1" points="1196.7,1420.6 1194.0,1413.8 1253.8,1425.3 1256.5,1429.8"/>
<polygon fill="#412ebe" stroke="#412ebe" points="1199.4,1427.0 1196.7,1420.6 1256.5,1429.8 1259.2,1434.1"/>
<polygon fill="#412dbb" stroke="#412dbb" points="1202.1,1433.2 1199.4,1427.0 1259.2,1434.1 1262.0,1438.3"/>
<polygon fill="#412cb8" stroke="#412cb8" points="1205.7,1441.0 1202.1,1433.2 1262.0,1438.3 1265.6,1443.7"/>
<polygon fill="#402bb6" stroke="#402bb6" points="1209.3,1448.4 1205.7,1441.0 1265.6,1443.7 1269.2,1448.9"/>
<polygon fill="#402ab3" stroke="#402ab3" points="1213.8,1457.0 1209.3,1448.4 1269.2,1448.9 1273.7,1455.2"/>
<polygon fill="#3f29b0" stroke="#3f29b0" points="1219.2,1466.5 1213.8,1457.0 1273.7,1455.2 1279.1,1462.5"/>
<polygon fill="#3f28ad" stroke="#3f28ad" points="1227.3,1479.5 1222.8,1472.5 1219.2,1466.5 1279.1,1462.5 1287.2,1472.9"/>
<polygon fill="#3e27aa" stroke="#3e27aa" points="1271.5,1535.5 1253.5,1513.9 1243.6,1501.6 1234.5,1489.8 1227.3,1479.5 1287.2,1472.9 1301.6,1490.6 1331.3,1526.2"/>
<polygon fill="#f8f719" stroke="#f8f719" points="786.5,236.3 779.3,226.6 839.2,232.6 846.4,243.9"/>
<polygon fill="#f7f61a" stroke="#f7f61a" points="803.7,259.9 786.5,236.3 846.4,243.9 855.4,258.5 863.5,272.0"/>
<polygon fill="#f7f41c" stroke="#f7f41c" points="817.2,279.2 803.7,259.9 863.5,272.0 870.7,284.3 877.0,295.4"/>
<polygon fill="#f7f31d" stroke="#f7f31d" points="828.0,295.2 817.2,279.2 877.0,295.4 887.8,315.2"/>
<polygon fill="#f6f11e" stroke="#f6f11e" points="837.9,310.3 828.0,295.2 887.8,315.2 897.7,334.2"/>
<polygon fill="#f6f01f" stroke="#f6f01f" points="846.0,323.0 837.9,310.3 897.7,334.2 905.8,350.4"/>
<polygon fill="#f5ee21" stroke="#f5ee21" points="853.2,334.7 846.0,323.0 905.8,350.4 913.0,365.4"/>
<polygon fill="#f5ed22" stroke="#f5ed22" points="860.4,346.7 853.2,334.7 913.0,365.4 920.2,381.0"/>
<polygon fill="#f5eb23" stroke="#f5eb23" points="865.8,356.0 860.4,346.7 920.2,381.0 925.6,393.0"/>
<polygon fill="#f5ea24" stroke="#f5ea24" points="872.1,367.0 865.8,356.0 925.6,393.0 931.9,407.6"/>
<polygon fill="#f5e825" stroke="#f5e825" points="876.6,375.2 872.1,367.0 931.9,407.6 936.4,418.3"/>
<polygon fill="#f5e725" stroke="#f5e725" points="882.0,385.1 876.6,375.2 936.4,418.3 941.8,431.5"/>
<polygon fill="#f5e526" stroke="#f5e526" points="886.5,393.7 882.0,385.1 941.8,431.5 946.3,442.8"/>
<polygon fill="#f5e427" stroke="#f5e427" points="891.0,402.4 886.5,393.7 946.3,442.8 950.8,454.5"/>
<polygon fill="#f5e227" stroke="#f5e227" points="894.6,409.5 891.0,402.4 950.8,454.5 954.5,464.0"/>
<polygon fill="#f6e128" stroke="#f6e128" points="898.2,416.8 894.6,409.5 954.5,464.0 958.1,473.7"/>
<polygon fill="#f6df29" stroke="#f6df29" points="901.8,424.2 898.2,416.8 958.1,473.7 961.7,483.6"/>
<polygon fill="#f6de29" stroke="#f6de29" points="905.4,431.8 901.8,424.2 961.7,483.6 965.3,493.8"/>
<polygon fill="#f7dc2a" stroke="#f7dc2a" points="909.0,439.6 905.4,431.8 965.3,493.8 968.9,504.1"/>
<polygon fill="#f8da2b" stroke="#f8da2b" points="911.7,445.5 909.0,439.6 968.9,504.1 971.6,512.0"/>
<polygon fill="#f8d92c" stroke="#f8d92c" points="915.3,453.5 911.7,445.5 971.6,512.0 975.2,522.8"/>
<polygon fill="#f9d72c" stroke="#f9d72c" points="918.0,459.7 915.3,453.5 975.2,522.8 977.9,531.0"/>
<polygon fill="#fad62d" stroke="#fad62d" points="920.7,465.9 918.0,459.7 977.9,531.0 980.6,539.3"/>
<polygon fill="#fad42e" stroke="#fad42e" points="923.4,472.3 920.7,465.9 980.6,539.3 983.3,547.8"/>
<polygon fill="#fbd32f" stroke="#fbd32f" points="926.1,478.7 923.4,472.3 983.3,547.8 986.0,556.4"/>
<polygon fill="#fcd12f" stroke="#fcd12f" points="928.8,485.3 926.1,478.7 986.0,556.4 988.7,565.1"/>
<polygon fill="#fccf30" stroke="#fccf30" points="930.6,489.8 928.8,485.3 988.7,565.1 990.5,571.0"/>
<polygon fill="#fdce31" stroke="#fdce31" points="933.3,496.5 930.6,489.8 990.5,571.0 993.2,580.0"/>
<polygon fill="#fdcc32" stroke="#fdcc32" points="936.0,503.4 933.3,496.5 993.2,580.0 995.9,589.0"/>
<polygon fill="#fdcb33" stroke="#fdcb33" points="937.8,508.1 936.0,503.4 995.9,589.0 997.7,595.2"/>
<polygon fill="#fec934" stroke="#fec934" points="940.6,515.2 937.8,508.1 997.7,595.2 1000.4,604.5"/>
<polygon fill="#fec835" stroke="#fec835" points="942.4,520.0 940.6,515.2 1000.4,604.5 1002.2,610.8"/>
<polygon fill="#fec636" stroke="#fec636" points="944.2,524.8 942.4,520.0 1002.2,610.8 1004.0,617.2"/>
<polygon fill="#fec537" stroke="#fec537" points="946.9,532.3 944.2,524.8 1004.0,617.2 1006.7,626.8"/>
<polygon fill="#fec338" stroke="#fec338" points="948.7,537.3 946.9,532.3 1006.7,626.8 1008.5,633.3"/>
<polygon fill="#fec239" stroke="#fec239" points="950.5,542.3 948.7,537.3 1008.5,633.3 1010.3,639.9"/>
<polygon fill="#fec13a" stroke="#fec13a" points="952.3,547.5 950.5,542.3 1010.3,639.9 1012.1,646.5"/>
<polygon fill="#febf3b" stroke="#febf3b" points="954.1,552.7 952.3,547.5 1012.1,646.5 1013.9,653.2"/>
<polygon fill="#febe3c" stroke="#febe3c" points="955.9,557.9 954.1,552.7 1013.9,653.2 1015.7,660.0"/>
<polygon fill="#fdbd3d" stroke="#fdbd3d" points="957.7,563.2 955.9,557.9 1015.7,660.0 1017.5,666.8"/>
<polygon fill="#fbbc3d" stroke="#fbbc3d" points="959.5,568.6 957.7,563.2 1017.5,666.8 1019.3,673.7"/>
<polygon fill="#fabb3d" stroke="#fabb3d" points="961.3,574.1 959.5,568.6 1019.3,673.7 1021.1,680.7"/>
<polygon fill="#f8ba3d" stroke="#f8ba3d" points="963.1,579.6 961.3,574.1 1021.1,680.7 1022.9,687.7"/>
<polygon fill="#f6ba3c" stroke="#f6ba3c" points="964.9,585.2 963.1,579.6 1022.9,687.7 1024.7,694.7"/>
<polygon fill="#f4ba3a" stroke="#f4ba3a" points="966.7,590.9 964.9,585.2 1024.7,694.7 1026.5,701.9"/>
<polygon fill="#f2ba38" stroke="#f2ba38" points="967.6,593.7 966.7,590.9 1026.5,701.9 1027.4,705.5"/>
<polygon fill="#f0ba36" stroke="#f0ba36" points="969.4,599.5 967.6,593.7 1027.4,705.5 1029.2,712.7"/>
<polygon fill="#eeba34" stroke="#eeba34" points="971.2,605.3 969.4,599.5 1029.2,712.7 1031.0,720.0"/>
<polygon fill="#ecba32" stroke="#ecba32" points="972.1,608.3 971.2,605.3 1031.0,720.0 1031.9,723.7"/>
<polygon fill="#e9bb30" stroke="#e9bb30" points="973.9,614.2 972.1,608.3 1031.9,723.7 1033.7,731.0"/>
<polygon fill="#e7bb2e" stroke="#e7bb2e" points="975.7,620.2 973.9,614.2 1033.7,731.0 1035.5,738.5"/>
<polygon fill="#e5bb2c" stroke="#e5bb2c" points="976.6,623.2 975.7,620.2 1035.5,738.5 1036.4,742.2"/>
<polygon fill="#e2bc2b" stroke="#e2bc2b" points="978.4,629.4 976.6,623.2 1036.4,742.2 1038.2,749.7"/>
<polygon fill="#e0bc2a" stroke="#e0bc2a" points="979.3,632.4 978.4,629.4 1038.2,749.7 1039.1,753.5"/>
<polygon fill="#ddbd29" stroke="#ddbd29" points="981.1,638.7 979.3,632.4 1039.1,753.5 1040.9,761.1"/>
<polygon fill="#dbbd28" stroke="#dbbd28" points="982.9,645.0 981.1,638.7 1040.9,761.1 1042.7,768.8"/>
<polygon fill="#d8be28" stroke="#d8be28" points="983.8,648.2 982.9,645.0 1042.7,768.8 1043.6,772.7"/>
<polygon fill="#d5be28" stroke="#d5be28" points="985.6,654.6 983.8,648.2 1043.6,772.7 1045.4,780.4"/>
<polygon fill="#d2bf27" stroke="#d2bf27" points="986.5,657.8 985.6,654.6 1045.4,780.4 1046.3,784.3"/>
<polygon fill="#d0c028" stroke="#d0c028" points="987.4,661.1 986.5,657.8 1046.3,784.3 1047.2,788.2"/>
<polygon fill="#cdc028" stroke="#cdc028" points="989.2,667.7 987.4,661.1 1047.2,788.2 1049.0,796.1"/>
<polygon fill="#cac129" stroke="#cac129" points="990.1,671.0 989.2,667.7 1049.0,796.1 1049.9,800.1"/>
<polygon fill="#c7c12a" stroke="#c7c12a" points="991.9,677.7 990.1,671.0 1049.9,800.1 1051.7,808.0"/>
<polygon fill="#c4c22b" stroke="#c4c22b" points="992.8,681.1 991.9,677.7 1051.7,808.0 1052.6,812.0"/>
<polygon fill="#c1c32c" stroke="#c1c32c" points="993.7,684.5 992.8,681.1 1052.6,812.0 1053.5,816.0"/>
<polygon fill="#bec32e" stroke="#bec32e" points="995.5,691.3 993.7,684.5 1053.5,816.0 1055.3,824.1"/>
<polygon fill="#bac430" stroke="#bac430" points="996.4,694.8 995.5,691.3 1055.3,824.1 1056.2,828.1"/>
<polygon fill="#b7c532" stroke="#b7c532" points="997.3,698.2 996.4,694.8 1056.2,828.1 1057.1,832.2"/>
<polygon fill="#b4c534" stroke="#b4c534" points="999.1,705.2 997.3,698.2 1057.1,832.2 1058.9,840.3"/>
<polygon fill="#b1c636" stroke="#b1c636" points="1000.0,708.8 999.1,705.2 1058.9,840.3 1059.8,844.4"/>
<polygon fill="#adc638" stroke="#adc638" points="1000.9,712.3 1000.0,708.8 1059.8,844.4 1060.7,848.5"/>
<polygon fill="#aac73a" stroke="#aac73a" points="1001.8,715.9 1000.9,712.3 1060.7,848.5 1061.6,852.6"/>
<polygon fill="#a7c73c" stroke="#a7c73c" points="1003.6,723.1 1001.8,715.9 1061.6,852.6 1063.4,860.9"/>
<polygon fill="#a3c83e" stroke="#a3c83e" points="1004.5,726.7 1003.6,723.1 1063.4,860.9 1064.3,865.0"/>
<polygon fill="#a0c841" stroke="#a0c841" points="1005.4,730.4 1004.5,726.7 1064.3,865.0 1065.2,869.2"/>
<polygon fill="#9cc943" stroke="#9cc943" points="1006.3,734.1 1005.4,730.4 1065.2,869.2 1066.1,873.3"/>
<polygon fill="#99c946" stroke="#99c946" points="1008.1,741.5 1006.3,734.1 1066.1,873.3 1067.9,881.7"/>
<polygon fill="#95ca49" stroke="#95ca49" points="1009.0,745.2 1008.1,741.5 1067.9,881.7 1068.8,885.9"/>
<polygon fill="#92ca4c" stroke="#92ca4c" points="1009.9,749.0 1009.0,745.2 1068.8,885.9 1069.7,890.1"/>
<polygon fill="#8ecb4e" stroke="#8ecb4e" points="1010.8,752.7 1009.9,749.0 1069.7,890.1 1070.6,894.3"/>
<polygon fill="#8bcb51" stroke="#8bcb51" points="1011.7,756.5 1010.8,752.7 1070.6,894.3 1071.5,898.5"/>
<polygon fill="#87cb54" stroke="#87cb54" points="1012.6,760.3 1011.7,756.5 1071.5,898.5 1072.4,902.8"/>
<polygon fill="#84cc56" stroke="#84cc56" points="1014.4,768.0 1012.6,760.3 1072.4,902.8 1074.2,911.3"/>
<polygon fill="#80cc59" stroke="#80cc59" points="1015.3,771.9 1014.4,768.0 1074.2,911.3 1075.1,915.5"/>
<polygon fill="#7ccc5c" stroke="#7ccc5c" points="1016.2,775.8 1015.3,771.9 1075.1,915.5 1076.0,919.8"/>
<polygon fill="#79cc5f" stroke="#79cc5f" points="1017.1,779.7 1016.2,775.8 1076.0,919.8 1076.9,924.1"/>
<polygon fill="#75cc61" stroke="#75cc61" points="1018.0,783.6 1017.1,779.7 1076.9,924.1 1077.8,928.3"/>
<polygon fill="#71cd64" stroke="#71cd64" points="1018.9,787.6 1018.0,783.6 1077.8,928.3 1078.7,932.6"/>
<polygon fill="#6ecd67" stroke="#6ecd67" points="1019.8,791.6 1018.9,787.6 1078.7,932.6 1079.6,936.9"/>
<polygon fill="#6acd6a" stroke="#6acd6a" points="1020.7,795.5 1019.8,791.6 1079.6,936.9 1080.5,941.2"/>
<polygon fill="#67cd6c" stroke="#67cd6c" points="1021.6,799.6 1020.7,795.5 1080.5,941.2 1081.4,945.5"/>
<polygon fill="#64cd6f" stroke="#64cd6f" points="1022.5,803.6 1021.6,799.6 1081.4,945.5 1082.3,949.9"/>
<polygon fill="#60cd72" stroke="#60cd72" points="1023.4,807.6 1022.5,803.6 1082.3,949.9 1083.2,954.2"/>
<polygon fill="#5dcc75" stroke="#5dcc75" points="1025.2,815.8 1023.4,807.6 1083.2,954.2 1085.0,962.8"/>
<polygon fill="#5acc77" stroke="#5acc77" points="1026.1,819.9 1025.2,815.8 1085.0,962.8 1085.9,967.2"/>
<polygon fill="#57cc7a" stroke="#57cc7a" points="1027.0,824.0 1026.1,819.9 1085.9,967.2 1086.8,971.5"/>
<polygon fill="#54cc7d" stroke="#54cc7d" points="1027.9,828.2 1027.0,824.0 1086.8,971.5 1087.7,975.9"/>
<polygon fill="#51cc7f" stroke="#51cc7f" points="1028.8,832.3 1027.9,828.2 1087.7,975.9 1088.6,980.2"/>
<polygon fill="#4ecc82" stroke="#4ecc82" points="1029.7,836.5 1028.8,832.3 1088.6,980.2 1089.5,984.6"/>
<polygon fill="#4acb84" stroke="#4acb84" points="1030.6,840.7 1029.7,836.5 1089.5,984.6 1090.4,988.9"/>
<polygon fill="#48cb86" stroke="#48cb86" points="1031.5,844.9 1030.6,840.7 1090.4,988.9 1091.3,993.3"/>
<polygon fill="#45cb89" stroke="#45cb89" points="1032.4,849.2 1031.5,844.9 1091.3,993.3 1092.2,997.6"/>
<polygon fill="#42ca8b" stroke="#42ca8b" points="1033.3,853.4 1032.4,849.2 1092.2,997.6 1093.1,1002.0"/>
<polygon fill="#3fca8e" stroke="#3fca8e" points="1034.2,857.7 1033.3,853.4 1093.1,1002.0 1094.0,1006.4"/>
<polygon fill="#3dca90" stroke="#3dca90" points="1035.1,862.0 1034.2,857.7 1094.0,1006.4 1094.9,1010.7"/>
<polygon fill="#3bc992" stroke="#3bc992" points="1036.0,866.3 1035.1,862.0 1094.9,1010.7 1095.8,1015.1"/>
<polygon fill="#39c994" stroke="#39c994" points="1036.9,870.6 1036.0,866.3 1095.8,1015.1 1096.7,1019.5"/>
<polygon fill="#38c897" stroke="#38c897" points="1037.8,875.0 1036.9,870.6 1096.7,1019.5 1097.6,1023.8"/>
<polygon fill="#36c899" stroke="#36c899" points="1038.7,879.4 1037.8,875.0 1097.6,1023.8 1098.5,1028.2"/>
<polygon fill="#33c79d" stroke="#33c79d" points="1039.6,883.7 1038.7,879.4 1098.5,1028.2 1099.5,1032.6"/>
<polygon fill="#32c69f" stroke="#32c69f" points="1040.5,888.1 1039.6,883.7 1099.5,1032.6 1100.4,1037.0"/>
<polygon fill="#30c5a1" stroke="#30c5a1" points="1041.4,892.5 1040.5,888.1 1100.4,1037.0 1101.3,1041.3"/>
<polygon fill="#2fc5a3" stroke="#2fc5a3" points="1042.3,897.0 1041.4,892.5 1101.3,1041.3 1102.2,1045.7"/>
<polygon fill="#2ec4a5" stroke="#2ec4a5" points="1043.2,901.4 1042.3,897.0 1102.2,1045.7 1103.1,1050.1"/>
<polygon fill="#2cc4a6" stroke="#2cc4a6" points="1044.1,905.9 1043.2,901.4 1103.1,1050.1 1104.0,1054.4"/>
<polygon fill="#2bc3a8" stroke="#2bc3a8" points="1045.0,910.4 1044.1,905.9 1104.0,1054.4 1104.9,1058.8"/>
<polygon fill="#29c3aa" stroke="#29c3aa" points="1045.9,914.9 1045.0,910.4 1104.9,1058.8 1105.8,1063.2"/>
<polygon fill="#27c2ac" stroke="#27c2ac" points="1046.8,919.4 1045.9,914.9 1105.8,1063.2 1106.7,1067.5"/>
<polygon fill="#25c2ae" stroke="#25c2ae" points="1047.7,923.9 1046.8,919.4 1106.7,1067.5 1107.6,1071.9"/>
<polygon fill="#22c1b0" stroke="#22c1b0" points="1048.6,928.4 1047.7,923.9 1107.6,1071.9 1108.5,1076.2"/>
<polygon fill="#1fc1b1" stroke="#1fc1b1" points="1049.5,933.0 1048.6,928.4 1108.5,1076.2 1109.4,1080.6"/>
<polygon fill="#1dc0b3" stroke="#1dc0b3" points="1050.4,937.6 1049.5,933.0 1109.4,1080.6 1110.3,1084.9"/>
<polygon fill="#17bfb6" stroke="#17bfb6" points="1051.3,942.1 1050.4,937.6 1110.3,1084.9 1111.2,1089.2"/>
<polygon fill="#13beb8" stroke="#13beb8" points="1052.2,946.7 1051.3,942.1 1111.2,1089.2 1112.1,1093.6"/>
<polygon fill="#10beba" stroke="#10beba" points="1053.1,951.4 1052.2,946.7 1112.1,1093.6 1113.0,1097.9"/>
<polygon fill="#0dbdbc" stroke="#0dbdbc" points="1054.0,956.0 1053.1,951.4 1113.0,1097.9 1113.9,1102.2"/>
<polygon fill="#0abdbd" stroke="#0abdbd" points="1054.9,960.6 1054.0,956.0 1113.9,1102.2 1114.8,1106.5"/>
<polygon fill="#08bcbf" stroke="#08bcbf" points="1055.8,965.3 1054.9,960.6 1114.8,1106.5 1115.7,1110.8"/>
<polygon fill="#05bbc1" stroke="#05bbc1" points="1056.7,969.9 1055.8,965.3 1115.7,1110.8 1116.6,1115.1"/>
<polygon fill="#03bbc2" stroke="#03bbc2" points="1057.6,974.6 1056.7,969.9 1116.6,1115.1 1117.5,1119.4"/>
<polygon fill="#01b9c6" stroke="#01b9c6" points="1058.5,979.3 1057.6,974.6 1117.5,1119.4 1118.4,1123.7"/>
<polygon fill="#01b9c7" stroke="#01b9c7" points="1059.4,984.0 1058.5,979.3 1118.4,1123.7 1119.3,1128.0"/>
<polygon fill="#01b8c9" stroke="#01b8c9" points="1060.3,988.7 1059.4,984.0 1119.3,1128.0 1120.2,1132.3"/>
<polygon fill="#01b7ca" stroke="#01b7ca" points="1061.2,993.4 1060.3,988.7 1120.2,1132.3 1121.1,1136.5"/>
<polygon fill="#03b7cc" stroke="#03b7cc" points="1062.1,998.2 1061.2,993.4 1121.1,1136.5 1122.0,1140.8"/>
<polygon fill="#05b6cd" stroke="#05b6cd" points="1063.0,1002.9 1062.1,998.2 1122.0,1140.8 1122.9,1145.0"/>
<polygon fill="#08b4d1" stroke="#08b4d1" points="1063.9,1007.7 1063.0,1002.9 1122.9,1145.0 1123.8,1149.2"/>
<polygon fill="#0bb4d2" stroke="#0bb4d2" points="1064.8,1012.4 1063.9,1007.7 1123.8,1149.2 1124.7,1153.4"/>
<polygon fill="#0db3d3" stroke="#0db3d3" points="1065.7,1017.2 1064.8,1012.4 1124.7,1153.4 1125.6,1157.6"/>
<polygon fill="#10b2d5" stroke="#10b2d5" points="1066.6,1022.0 1065.7,1017.2 1125.6,1157.6 1126.5,1161.8"/>
<polygon fill="#12b1d6" stroke="#12b1d6" points="1067.5,1026.7 1066.6,1022.0 1126.5,1161.8 1127.4,1166.0"/>
<polygon fill="#14b0d8" stroke="#14b0d8" points="1068.4,1031.5 1067.5,1026.7 1127.4,1166.0 1128.3,1170.2"/>
<polygon fill="#17aeda" stroke="#17aeda" points="1069.3,1036.3 1068.4,1031.5 1128.3,1170.2 1129.2,1174.3"/>
<polygon fill="#18addb" stroke="#18addb" points="1070.2,1041.2 1069.3,1036.3 1129.2,1174.3 1130.1,1178.5"/>
<polygon fill="#19acdc" stroke="#19acdc" points="1071.1,1046.0 1070.2,1041.2 1130.1,1178.5 1131.0,1182.6"/>
<polygon fill="#1aabdd" stroke="#1aabdd" points="1072.0,1050.8 1071.1,1046.0 1131.0,1182.6 1131.9,1186.7"/>
<polygon fill="#1baadf" stroke="#1baadf" points="1072.9,1055.6 1072.0,1050.8 1131.9,1186.7 1132.8,1190.8"/>
<polygon fill="#1ca9e0" stroke="#1ca9e0" points="1073.8,1060.4 1072.9,1055.6 1132.8,1190.8 1133.7,1194.9"/>
<polygon fill="#1ea7e1" stroke="#1ea7e1" points="1074.7,1065.3 1073.8,1060.4 1133.7,1194.9 1134.6,1198.9"/>
<polygon fill="#1fa6e2" stroke="#1fa6e2" points="1075.6,1070.1 1074.7,1065.3 1134.6,1198.9 1135.5,1203.0"/>
<polygon fill="#20a5e3" stroke="#20a5e3" points="1076.5,1075.0 1075.6,1070.1 1135.5,1203.0 1136.4,1207.0"/>
<polygon fill="#21a4e3" stroke="#21a4e3" points="1077.4,1079.8 1076.5,1075.0 1136.4,1207.0 1137.3,1211.0"/>
<polygon fill="#22a2e4" stroke="#22a2e4" points="1078.3,1084.7 1077.4,1079.8 1137.3,1211.0 1138.2,1215.0"/>
<polygon fill="#23a0e5" stroke="#23a0e5" points="1079.2,1089.5 1078.3,1084.7 1138.2,1215.0 1139.1,1219.0"/>
<polygon fill="#249fe5" stroke="#249fe5" points="1080.1,1094.4 1079.2,1089.5 1139.1,1219.0 1140.0,1223.0"/>
<polygon fill="#249ee6" stroke="#249ee6" points="1081.0,1099.2 1080.1,1094.4 1140.0,1223.0 1140.9,1226.9"/>
<polygon fill="#259de7" stroke="#259de7" points="1081.9,1104.1 1081.0,1099.2 1140.9,1226.9 1141.8,1230.8"/>
<polygon fill="#259be7" stroke="#259be7" points="1082.9,1108.9 1081.9,1104.1 1141.8,1230.8 1142.7,1234.7"/>
<polygon fill="#2699e9" stroke="#2699e9" points="1083.8,1113.8 1082.9,1108.9 1142.7,1234.7 1143.6,1238.6"/>
<polygon fill="#2798ea" stroke="#2798ea" points="1084.7,1118.6 1083.8,1113.8 1143.6,1238.6 1144.5,1242.5"/>
<polygon fill="#2797eb" stroke="#2797eb" points="1085.6,1123.5 1084.7,1118.6 1144.5,1242.5 1145.4,1246.3"/>
<polygon fill="#2895ec" stroke="#2895ec" points="1086.5,1128.3 1085.6,1123.5 1145.4,1246.3 1146.3,1250.1"/>
<polygon fill="#2994ed" stroke="#2994ed" points="1087.4,1133.2 1086.5,1128.3 1146.3,1250.1 1147.2,1253.9"/>
<polygon fill="#2b92ee" stroke="#2b92ee" points="1088.3,1138.0 1087.4,1133.2 1147.2,1253.9 1148.1,1257.7"/>
<polygon fill="#2b90ef" stroke="#2b90ef" points="1089.2,1142.9 1088.3,1138.0 1148.1,1257.7 1149.0,1261.4"/>
<polygon fill="#2c8ff0" stroke="#2c8ff0" points="1090.1,1147.7 1089.2,1142.9 1149.0,1261.4 1149.9,1265.2"/>
<polygon fill="#2c8ef1" stroke="#2c8ef1" points="1091.0,1152.5 1090.1,1147.7 1149.9,1265.2 1150.8,1268.9"/>
<polygon fill="#2d8df2" stroke="#2d8df2" points="1091.9,1157.4 1091.0,1152.5 1150.8,1268.9 1151.7,1272.6"/>
<polygon fill="#2d8bf3" stroke="#2d8bf3" points="1092.8,1162.2 1091.9,1157.4 1151.7,1272.6 1152.6,1276.2"/>
<polygon fill="#2d89f6" stroke="#2d89f6" points="1093.7,1167.0 1092.8,1162.2 1152.6,1276.2 1153.5,1279.8"/>
<polygon fill="#2d87f7" stroke="#2d87f7" points="1094.6,1171.8 1093.7,1167.0 1153.5,1279.8 1154.4,1283.5"/>
<polygon fill="#2e86f7" stroke="#2e86f7" points="1095.5,1176.6 1094.6,1171.8 1154.4,1283.5 1155.3,1287.0"/>
<polygon fill="#2e85f8" stroke="#2e85f8" points="1096.4,1181.4 1095.5,1176.6 1155.3,1287.0 1156.2,1290.6"/>
<polygon fill="#2e83f9" stroke="#2e83f9" points="1097.3,1186.1 1096.4,1181.4 1156.2,1290.6 1157.1,1294.1"/>
<polygon fill="#2f81fa" stroke="#2f81fa" points="1098.2,1190.9 1097.3,1186.1 1157.1,1294.1 1158.0,1297.6"/>
<polygon fill="#307ffb" stroke="#307ffb" points="1099.1,1195.7 1098.2,1190.9 1158.0,1297.6 1158.9,1301.1"/>
<polygon fill="#317efb" stroke="#317efb" points="1100.0,1200.4 1099.1,1195.7 1158.9,1301.1 1159.8,1304.6"/>
<polygon fill="#327cfc" stroke="#327cfc" points="1100.9,1205.1 1100.0,1200.4 1159.8,1304.6 1160.7,1308.0"/>
<polygon fill="#337bfd" stroke="#337bfd" points="1101.8,1209.9 1100.9,1205.1 1160.7,1308.0 1161.6,1311.4"/>
<polygon fill="#3479fd" stroke="#3479fd" points="1102.7,1214.6 1101.8,1209.9 1161.6,1311.4 1162.5,1314.8"/>
<polygon fill="#3678fe" stroke="#3678fe" points="1103.6,1219.2 1102.7,1214.6 1162.5,1314.8 1163.4,1318.1"/>
<polygon fill="#3975fe" stroke="#3975fe" points="1104.5,1223.9 1103.6,1219.2 1163.4,1318.1 1164.3,1321.4"/>
<polygon fill="#3a73fe" stroke="#3a73fe" points="1105.4,1228.6 1104.5,1223.9 1164.3,1321.4 1165.2,1324.7"/>
<polygon fill="#3c72ff" stroke="#3c72ff" points="1106.3,1233.2 1105.4,1228.6 1165.2,1324.7 1166.1,1328.0"/>
<polygon fill="#3d70ff" stroke="#3d70ff" points="1107.2,1237.8 1106.3,1233.2 1166.1,1328.0 1167.0,1331.2"/>
<polygon fill="#3f6fff" stroke="#3f6fff" points="1108.1,1242.5 1107.2,1237.8 1167.0,1331.2 1167.9,1334.4"/>
<polygon fill="#406dfe" stroke="#406dfe" points="1109.0,1247.0 1108.1,1242.5 1167.9,1334.4 1168.8,1337.6"/>
<polygon fill="#416cfe" stroke="#416cfe" points="1109.9,1251.6 1109.0,1247.0 1168.8,1337.6 1169.7,1340.7"/>
<polygon fill="#426afe" stroke="#426afe" points="1110.8,1256.2 1109.9,1251.6 1169.7,1340.7 1170.6,1343.8"/>
<polygon fill="#4369fe" stroke="#4369fe" points="1111.7,1260.7 1110.8,1256.2 1170.6,1343.8 1171.5,1346.9"/>
<polygon fill="#4466fd" stroke="#4466fd" points="1112.6,1265.2 1111.7,1260.7 1171.5,1346.9 1172.4,1350.0"/>
<polygon fill="#4464fd" stroke="#4464fd" points="1113.5,1269.7 1112.6,1265.2 1172.4,1350.0 1173.3,1353.0"/>
<polygon fill="#4563fc" stroke="#4563fc" points="1114.4,1274.1 1113.5,1269.7 1173.3,1353.0 1174.2,1356.0"/>
<polygon fill="#4561fc" stroke="#4561fc" points="1115.3,1278.6 1114.4,1274.1 1174.2,1356.0 1175.1,1358.9"/>
<polygon fill="#4660fc" stroke="#4660fc" points="1116.2,1283.0 1115.3,1278.6 1175.1,1358.9 1176.0,1361.9"/>
<polygon fill="#465ffb" stroke="#465ffb" points="1117.1,1287.4 1116.2,1283.0 1176.0,1361.9 1176.9,1364.8"/>
<polygon fill="#465dfb" stroke="#465dfb" points="1118.0,1291.8 1117.1,1287.4 1176.9,1364.8 1177.8,1367.6"/>
<polygon fill="#475cfa" stroke="#475cfa" points="1118.9,1296.1 1118.0,1291.8 1177.8,1367.6 1178.7,1370.5"/>
<polygon fill="#475af9" stroke="#475af9" points="1119.8,1300.4 1118.9,1296.1 1178.7,1370.5 1179.6,1373.3"/>
<polygon fill="#4759f8" stroke="#4759f8" points="1120.7,1304.7 1119.8,1300.4 1179.6,1373.3 1180.5,1376.0"/>
<polygon fill="#4758f8" stroke="#4758f8" points="1121.6,1308.9 1120.7,1304.7 1180.5,1376.0 1181.4,1378.8"/>
<polygon fill="#4756f7" stroke="#4756f7" points="1122.5,1313.2 1121.6,1308.9 1181.4,1378.8 1182.3,1381.5"/>
<polygon fill="#4755f6" stroke="#4755f6" points="1123.4,1317.4 1122.5,1313.2 1182.3,1381.5 1183.2,1384.2"/>
<polygon fill="#4854f5" stroke="#4854f5" points="1124.3,1321.5 1123.4,1317.4 1183.2,1384.2 1184.1,1386.8"/>
<polygon fill="#4852f4" stroke="#4852f4" points="1125.2,1325.7 1124.3,1321.5 1184.1,1386.8 1185.0,1389.4"/>
<polygon fill="#4851f3" stroke="#4851f3" points="1126.1,1329.8 1125.2,1325.7 1185.0,1389.4 1185.9,1392.0"/>
<polygon fill="#484ff2" stroke="#484ff2" points="1127.0,1333.9 1126.1,1329.8 1185.9,1392.0 1186.8,1394.6"/>
<polygon fill="#484ef1" stroke="#484ef1" points="1127.9,1337.9 1127.0,1333.9 1186.8,1394.6 1187.7,1397.1"/>
<polygon fill="#484df0" stroke="#484df0" points="1128.8,1341.9 1127.9,1337.9 1187.7,1397.1 1188.6,1399.6"/>
<polygon fill="#484bef" stroke="#484bef" points="1129.7,1345.9 1128.8,1341.9 1188.6,1399.6 1189.5,1402.0"/>
<polygon fill="#484aee" stroke="#484aee" points="1131.5,1353.7 1129.7,1345.9 1189.5,1402.0 1191.3,1406.8"/>
<polygon fill="#4848ec" stroke="#4848ec" points="1132.4,1357.6 1131.5,1353.7 1191.3,1406.8 1192.2,1409.2"/>
<polygon fill="#4747eb" stroke="#4747eb" points="1133.3,1361.4 1132.4,1357.6 1192.2,1409.2 1193.1,1411.5"/>
<polygon fill="#4746ea" stroke="#4746ea" points="1134.2,1365.2 1133.3,1361.4 1193.1,1411.5 1194.0,1413.8"/>
<polygon fill="#4744e8" stroke="#4744e8" points="1135.1,1368.9 1134.2,1365.2 1194.0,1413.8 1194.9,1416.1"/>
<polygon fill="#4743e7" stroke="#4743e7" points="1136.0,1372.7 1135.1,1368.9 1194.9,1416.1 1195.8,1418.3"/>
<polygon fill="#4741e5" stroke="#4741e5" points="1137.8,1380.0 1136.0,1372.7 1195.8,1418.3 1197.6,1422.7"/>
<polygon fill="#4740e4" stroke="#4740e4" points="1138.7,1383.6 1137.8,1380.0 1197.6,1422.7 1198.5,1424.9"/>
<polygon fill="#473fe2" stroke="#473fe2" points="1139.6,1387.1 1138.7,1383.6 1198.5,1424.9 1199.4,1427.0"/>
<polygon fill="#463de0" stroke="#463de0" points="1141.4,1394.1 1139.6,1387.1 1199.4,1427.0 1201.2,1431.1"/>
<polygon fill="#463cde" stroke="#463cde" points="1142.3,1397.5 1141.4,1394.1 1201.2,1431.1 1202.1,1433.2"/>
<polygon fill="#463bdc" stroke="#463bdc" points="1143.2,1400.9 1142.3,1397.5 1202.1,1433.2 1203.0,1435.2"/>
<polygon fill="#4639da" stroke="#4639da" points="1145.0,1407.6 1143.2,1400.9 1203.0,1435.2 1204.8,1439.1"/>
<polygon fill="#4538d8" stroke="#4538d8" points="1145.9,1410.8 1145.0,1407.6 1204.8,1439.1 1205.7,1441.0"/>
<polygon fill="#4537d6" stroke="#4537d6" points="1147.7,1417.2 1145.9,1410.8 1205.7,1441.0 1207.5,1444.7"/>
<polygon fill="#4536d3" stroke="#4536d3" points="1148.6,1420.3 1147.7,1417.2 1207.5,1444.7 1208.4,1446.6"/>
<polygon fill="#4435d1" stroke="#4435d1" points="1150.4,1426.5 1148.6,1420.3 1208.4,1446.6 1210.2,1450.1"/>
<polygon fill="#4434ce" stroke="#4434ce" points="1152.2,1432.4 1150.4,1426.5 1210.2,1450.1 1212.0,1453.6"/>
<polygon fill="#4433cc" stroke="#4433cc" points="1153.1,1435.3 1152.2,1432.4 1212.0,1453.6 1212.9,1455.3"/>
<polygon fill="#4332c9" stroke="#4332c9" points="1154.9,1441.0 1153.1,1435.3 1212.9,1455.3 1214.7,1458.6"/>
<polygon fill="#4331c6" stroke="#4331c6" points="1156.7,1446.5 1154.9,1441.0 1214.7,1458.6 1216.5,1461.9"/>
<polygon fill="#4230c3" stroke="#4230c3" points="1158.5,1451.8 1156.7,1446.5 1216.5,1461.9 1218.3,1465.0"/>
<polygon fill="#422fc1" stroke="#422fc1" points="1160.3,1456.9 1158.5,1451.8 1218.3,1465.0 1220.1,1468.1"/>
<polygon fill="#412ebe" stroke="#412ebe" points="1163.0,1464.2 1160.3,1456.9 1220.1,1468.1 1222.8,1472.5"/>
<polygon fill="#412dbb" stroke="#412dbb" points="1164.8,1468.9 1163.0,1464.2 1222.8,1472.5 1224.6,1475.3"/>
<polygon fill="#412cb8" stroke="#412cb8" points="1167.5,1475.5 1164.8,1468.9 1224.6,1475.3 1227.3,1479.5"/>
<polygon fill="#402bb6" stroke="#402bb6" points="1170.2,1481.8 1167.5,1475.5 1227.3,1479.5 1230.0,1483.4"/>
<polygon fill="#402ab3" stroke="#402ab3" points="1173.8,1489.6 1170.2,1481.8 1230.0,1483.4 1233.6,1488.5"/>
<polygon fill="#3f29b0" stroke="#3f29b0" points="1178.3,1498.4 1173.8,1489.6 1233.6,1488.5 1238.1,1494.6"/>
<polygon fill="#3f28ad" stroke="#3f28ad" points="1183.7,1507.8 1178.3,1498.4 1238.1,1494.6 1243.6,1501.6"/>
<polygon fill="#3e27aa" stroke="#3e27aa" points="1211.6,1544.7 1200.8,1531.7 1194.5,1523.7 1189.1,1516.2 1183.7,1507.8 1243.6,1501.6 1253.5,1513.9 1271.5,1535.5"/>
<polygon fill="#f9fa15" stroke="#f9fa15" points="737.5,252.2 719.5,229.8 779.3,226.6 797.4,251.1"/>
<polygon fill="#f8f917" stroke="#f8f917" points="774.4,299.5 757.3,277.3 737.5,252.2 797.4,251.1 807.3,265.0 816.3,277.9 825.3,291.1 834.3,304.7"/>
<polygon fill="#f8f719" stroke="#f8f719" points="797.0,329.6 786.2,315.0 774.4,299.5 834.3,304.7 846.0,323.0 856.8,340.7"/>
<polygon fill="#f7f61a" stroke="#f7f61a" points="812.3,350.9 797.0,329.6 856.8,340.7 864.9,354.4 872.1,367.0"/>
<polygon fill="#f7f41c" stroke="#f7f41c" points="824.9,369.2 812.3,350.9 872.1,367.0 878.4,378.5 884.7,390.2"/>
<polygon fill="#f7f31d" stroke="#f7f31d" points="835.7,385.4 824.9,369.2 884.7,390.2 895.5,411.3"/>
<polygon fill="#f6f11e" stroke="#f6f11e" points="843.8,398.0 835.7,385.4 895.5,411.3 903.6,428.0"/>
<polygon fill="#f6f01f" stroke="#f6f01f" points="851.9,411.0 843.8,398.0 903.6,428.0 911.7,445.5"/>
<polygon fill="#f5ee21" stroke="#f5ee21" points="858.2,421.5 851.9,411.0 911.7,445.5 918.0,459.7"/>
<polygon fill="#f5ed22" stroke="#f5ed22" points="864.5,432.2 858.2,421.5 918.0,459.7 924.3,474.4"/>
<polygon fill="#f5eb23" stroke="#f5eb23" points="869.9,441.7 864.5,432.2 924.3,474.4 929.7,487.5"/>
<polygon fill="#f5ea24" stroke="#f5ea24" points="875.3,451.5 869.9,441.7 929.7,487.5 935.1,501.1"/>
<polygon fill="#f5e825" stroke="#f5e825" points="879.8,459.9 875.3,451.5 935.1,501.1 939.7,512.8"/>
<polygon fill="#f5e725" stroke="#f5e725" points="884.3,468.4 879.8,459.9 939.7,512.8 944.2,524.8"/>
<polygon fill="#f5e526" stroke="#f5e526" points="888.8,477.3 884.3,468.4 944.2,524.8 948.7,537.3"/>
<polygon fill="#f5e427" stroke="#f5e427" points="892.4,484.5 888.8,477.3 948.7,537.3 952.3,547.5"/>
<polygon fill="#f5e227" stroke="#f5e227" points="896.0,491.9 892.4,484.5 952.3,547.5 955.9,557.9"/>
<polygon fill="#f6e128" stroke="#f6e128" points="899.6,499.5 896.0,491.9 955.9,557.9 959.5,568.6"/>
<polygon fill="#f6df29" stroke="#f6df29" points="903.2,507.3 899.6,499.5 959.5,568.6 963.1,579.6"/>
<polygon fill="#f6de29" stroke="#f6de29" points="905.9,513.2 903.2,507.3 963.1,579.6 965.8,588.0"/>
<polygon fill="#f7dc2a" stroke="#f7dc2a" points="908.6,519.3 905.9,513.2 965.8,588.0 968.5,596.6"/>
<polygon fill="#f8da2b" stroke="#f8da2b" points="912.2,527.5 908.6,519.3 968.5,596.6 972.1,608.3"/>
<polygon fill="#f8d92c" stroke="#f8d92c" points="914.9,533.9 912.2,527.5 972.1,608.3 974.8,617.2"/>
<polygon fill="#f9d72c" stroke="#f9d72c" points="917.6,540.3 914.9,533.9 974.8,617.2 977.5,626.3"/>
<polygon fill="#fad62d" stroke="#fad62d" points="919.4,544.7 917.6,540.3 977.5,626.3 979.3,632.4"/>
<polygon fill="#fad42e" stroke="#fad42e" points="922.2,551.4 919.4,544.7 979.3,632.4 982.0,641.8"/>
<polygon fill="#fbd32f" stroke="#fbd32f" points="924.9,558.2 922.2,551.4 982.0,641.8 984.7,651.4"/>
<polygon fill="#fcd12f" stroke="#fcd12f" points="926.7,562.8 924.9,558.2 984.7,651.4 986.5,657.8"/>
<polygon fill="#fccf30" stroke="#fccf30" points="929.4,569.9 926.7,562.8 986.5,657.8 989.2,667.7"/>
<polygon fill="#fdce31" stroke="#fdce31" points="931.2,574.7 929.4,569.9 989.2,667.7 991.0,674.3"/>
<polygon fill="#fdcc32" stroke="#fdcc32" points="933.0,579.5 931.2,574.7 991.0,674.3 992.8,681.1"/>
<polygon fill="#fdcb33" stroke="#fdcb33" points="935.7,587.0 933.0,579.5 992.8,681.1 995.5,691.3"/>
<polygon fill="#fec934" stroke="#fec934" points="937.5,592.0 935.7,587.0 995.5,691.3 997.3,698.2"/>
<polygon fill="#fec835" stroke="#fec835" points="939.3,597.1 937.5,592.0 997.3,698.2 999.1,705.2"/>
<polygon fill="#fec636" stroke="#fec636" points="941.1,602.3 939.3,597.1 999.1,705.2 1000.9,712.3"/>
<polygon fill="#fec537" stroke="#fec537" points="942.9,607.5 941.1,602.3 1000.9,712.3 1002.7,719.5"/>
<polygon fill="#fec338" stroke="#fec338" points="944.7,612.8 942.9,607.5 1002.7,719.5 1004.5,726.7"/>
<polygon fill="#fec239" stroke="#fec239" points="946.5,618.3 944.7,612.8 1004.5,726.7 1006.3,734.1"/>
<polygon fill="#fec13a" stroke="#fec13a" points="948.3,623.7 946.5,618.3 1006.3,734.1 1008.1,741.5"/>
<polygon fill="#febf3b" stroke="#febf3b" points="950.1,629.3 948.3,623.7 1008.1,741.5 1009.9,749.0"/>
<polygon fill="#febe3c" stroke="#febe3c" points="951.9,635.0 950.1,629.3 1009.9,749.0 1011.7,756.5"/>
<polygon fill="#fdbd3d" stroke="#fdbd3d" points="952.8,637.8 951.9,635.0 1011.7,756.5 1012.6,760.3"/>
<polygon fill="#fbbc3d" stroke="#fbbc3d" points="954.6,643.6 952.8,637.8 1012.6,760.3 1014.4,768.0"/>
<polygon fill="#fabb3d" stroke="#fabb3d" points="956.4,649.4 954.6,643.6 1014.4,768.0 1016.2,775.8"/>
<polygon fill="#f8ba3d" stroke="#f8ba3d" points="957.3,652.4 956.4,649.4 1016.2,775.8 1017.1,779.7"/>
<polygon fill="#f6ba3c" stroke="#f6ba3c" points="959.1,658.4 957.3,652.4 1017.1,779.7 1018.9,787.6"/>
<polygon fill="#f4ba3a" stroke="#f4ba3a" points="960.9,664.5 959.1,658.4 1018.9,787.6 1020.7,795.5"/>
<polygon fill="#f2ba38" stroke="#f2ba38" points="961.8,667.6 960.9,664.5 1020.7,795.5 1021.6,799.6"/>
<polygon fill="#f0ba36" stroke="#f0ba36" points="963.6,673.8 961.8,667.6 1021.6,799.6 1023.4,807.6"/>
<polygon fill="#eeba34" stroke="#eeba34" points="964.5,676.9 963.6,673.8 1023.4,807.6 1024.3,811.7"/>
<polygon fill="#ecba32" stroke="#ecba32" points="966.3,683.3 964.5,676.9 1024.3,811.7 1026.1,819.9"/>
<polygon fill="#e9bb30" stroke="#e9bb30" points="967.2,686.5 966.3,683.3 1026.1,819.9 1027.0,824.0"/>
<polygon fill="#e7bb2e" stroke="#e7bb2e" points="969.0,693.0 967.2,686.5 1027.0,824.0 1028.8,832.3"/>
<polygon fill="#e5bb2c" stroke="#e5bb2c" points="969.9,696.3 969.0,693.0 1028.8,832.3 1029.7,836.5"/>
<polygon fill="#e2bc2b" stroke="#e2bc2b" points="971.7,702.9 969.9,696.3 1029.7,836.5 1031.5,844.9"/>
<polygon fill="#e0bc2a" stroke="#e0bc2a" points="972.6,706.3 971.7,702.9 1031.5,844.9 1032.4,849.2"/>
<polygon fill="#ddbd29" stroke="#ddbd29" points="973.5,709.7 972.6,706.3 1032.4,849.2 1033.3,853.4"/>
<polygon fill="#dbbd28" stroke="#dbbd28" points="975.3,716.5 973.5,709.7 1033.3,853.4 1035.1,862.0"/>
<polygon fill="#d8be28" stroke="#d8be28" points="976.2,720.0 975.3,716.5 1035.1,862.0 1036.0,866.3"/>
<polygon fill="#d5be28" stroke="#d5be28" points="977.1,723.4 976.2,720.0 1036.0,866.3 1036.9,870.6"/>
<polygon fill="#d2bf27" stroke="#d2bf27" points="978.9,730.5 977.1,723.4 1036.9,870.6 1038.7,879.4"/>
<polygon fill="#d0c028" stroke="#d0c028" points="979.8,734.1 978.9,730.5 1038.7,879.4 1039.6,883.7"/>
<polygon fill="#cdc028" stroke="#cdc028" points="980.7,737.6 979.8,734.1 1039.6,883.7 1040.5,888.1"/>
<polygon fill="#cac129" stroke="#cac129" points="981.6,741.3 980.7,737.6 1040.5,888.1 1041.4,892.5"/>
<polygon fill="#c7c12a" stroke="#c7c12a" points="983.4,748.6 981.6,741.3 1041.4,892.5 1043.2,901.4"/>
<polygon fill="#c4c22b" stroke="#c4c22b" points="984.3,752.2 983.4,748.6 1043.2,901.4 1044.1,905.9"/>
<polygon fill="#c1c32c" stroke="#c1c32c" points="985.2,756.0 984.3,752.2 1044.1,905.9 1045.0,910.4"/>
<polygon fill="#bec32e" stroke="#bec32e" points="986.1,759.7 985.2,756.0 1045.0,910.4 1045.9,914.9"/>
<polygon fill="#bac430" stroke="#bac430" points="987.0,763.5 986.1,759.7 1045.9,914.9 1046.8,919.4"/>
<polygon fill="#b7c532" stroke="#b7c532" points="987.9,767.3 987.0,763.5 1046.8,919.4 1047.7,923.9"/>
<polygon fill="#b4c534" stroke="#b4c534" points="989.7,775.0 987.9,767.3 1047.7,923.9 1049.5,933.0"/>
<polygon fill="#b1c636" stroke="#b1c636" points="990.6,778.8 989.7,775.0 1049.5,933.0 1050.4,937.6"/>
<polygon fill="#adc638" stroke="#adc638" points="991.5,782.7 990.6,778.8 1050.4,937.6 1051.3,942.1"/>
<polygon fill="#aac73a" stroke="#aac73a" points="992.4,786.7 991.5,782.7 1051.3,942.1 1052.2,946.7"/>
<polygon fill="#a7c73c" stroke="#a7c73c" points="993.3,790.6 992.4,786.7 1052.2,946.7 1053.1,951.4"/>
<polygon fill="#a3c83e" stroke="#a3c83e" points="994.2,794.6 993.3,790.6 1053.1,951.4 1054.0,956.0"/>
<polygon fill="#a0c841" stroke="#a0c841" points="995.1,798.6 994.2,794.6 1054.0,956.0 1054.9,960.6"/>
<polygon fill="#9cc943" stroke="#9cc943" points="996.0,802.7 995.1,798.6 1054.9,960.6 1055.8,965.3"/>
<polygon fill="#99c946" stroke="#99c946" points="996.9,806.8 996.0,802.7 1055.8,965.3 1056.7,969.9"/>
<polygon fill="#95ca49" stroke="#95ca49" points="997.8,810.9 996.9,806.8 1056.7,969.9 1057.6,974.6"/>
<polygon fill="#92ca4c" stroke="#92ca4c" points="998.7,815.0 997.8,810.9 1057.6,974.6 1058.5,979.3"/>
<polygon fill="#8ecb4e" stroke="#8ecb4e" points="999.6,819.1 998.7,815.0 1058.5,979.3 1059.4,984.0"/>
<polygon fill="#8bcb51" stroke="#8bcb51" points="1000.5,823.3 999.6,819.1 1059.4,984.0 1060.3,988.7"/>
<polygon fill="#87cb54" stroke="#87cb54" points="1001.4,827.5 1000.5,823.3 1060.3,988.7 1061.2,993.4"/>
<polygon fill="#84cc56" stroke="#84cc56" points="1002.3,831.8 1001.4,827.5 1061.2,993.4 1062.1,998.2"/>
<polygon fill="#80cc59" stroke="#80cc59" points="1003.2,836.0 1002.3,831.8 1062.1,998.2 1063.0,1002.9"/>
<polygon fill="#7ccc5c" stroke="#7ccc5c" points="1004.1,840.3 1003.2,836.0 1063.0,1002.9 1063.9,1007.7"/>
<polygon fill="#79cc5f" stroke="#79cc5f" points="1005.0,844.6 1004.1,840.3 1063.9,1007.7 1064.8,1012.4"/>
<polygon fill="#75cc61" stroke="#75cc61" points="1005.9,849.0 1005.0,844.6 1064.8,1012.4 1065.7,1017.2"/>
<polygon fill="#71cd64" stroke="#71cd64" points="1006.8,853.4 1005.9,849.0 1065.7,1017.2 1066.6,1022.0"/>
<polygon fill="#6ecd67" stroke="#6ecd67" points="1007.7,857.8 1006.8,853.4 1066.6,1022.0 1067.5,1026.7"/>
<polygon fill="#6acd6a" stroke="#6acd6a" points="1008.6,862.2 1007.7,857.8 1067.5,1026.7 1068.4,1031.5"/>
<polygon fill="#67cd6c" stroke="#67cd6c" points="1009.5,866.7 1008.6,862.2 1068.4,1031.5 1069.3,1036.3"/>
<polygon fill="#64cd6f" stroke="#64cd6f" points="1010.4,871.2 1009.5,866.7 1069.3,1036.3 1070.2,1041.2"/>
<polygon fill="#60cd72" stroke="#60cd72" points="1011.3,875.7 1010.4,871.2 1070.2,1041.2 1071.1,1046.0"/>
<polygon fill="#5dcc75" stroke="#5dcc75" points="1012.2,880.2 1011.3,875.7 1071.1,1046.0 1072.0,1050.8"/>
<polygon fill="#5acc77" stroke="#5acc77" points="1013.1,884.8 1012.2,880.2 1072.0,1050.8 1072.9,1055.6"/>
<polygon fill="#57cc7a" stroke="#57cc7a" points="1014.0,889.4 1013.1,884.8 1072.9,1055.6 1073.8,1060.4"/>
<polygon fill="#51cc7f" stroke="#51cc7f" points="1014.9,894.0 1014.0,889.4 1073.8,1060.4 1074.7,1065.3"/>
<polygon fill="#4ecc82" stroke="#4ecc82" points="1015.8,898.7 1014.9,894.0 1074.7,1065.3 1075.6,1070.1"/>
<polygon fill="#4acb84" stroke="#4acb84" points="1016.7,903.4 1015.8,898.7 1075.6,1070.1 1076.5,1075.0"/>
<polygon fill="#48cb86" stroke="#48cb86" points="1017.6,908.1 1016.7,903.4 1076.5,1075.0 1077.4,1079.8"/>
<polygon fill="#45cb89" stroke="#45cb89" points="1018.5,912.8 1017.6,908.1 1077.4,1079.8 1078.3,1084.7"/>
<polygon fill="#42ca8b" stroke="#42ca8b" points="1019.4,917.6 1018.5,912.8 1078.3,1084.7 1079.2,1089.5"/>
<polygon fill="#3fca8e" stroke="#3fca8e" points="1020.3,922.4 1019.4,917.6 1079.2,1089.5 1080.1,1094.4"/>
<polygon fill="#3bc992" stroke="#3bc992" points="1021.2,927.2 1020.3,922.4 1080.1,1094.4 1081.0,1099.2"/>
<polygon fill="#39c994" stroke="#39c994" points="1022.1,932.0 1021.2,927.2 1081.0,1099.2 1081.9,1104.1"/>
<polygon fill="#38c897" stroke="#38c897" points="1023.0,936.9 1022.1,932.0 1081.9,1104.1 1082.9,1108.9"/>
<polygon fill="#36c899" stroke="#36c899" points="1023.9,941.8 1023.0,936.9 1082.9,1108.9 1083.8,1113.8"/>
<polygon fill="#35c79b" stroke="#35c79b" points="1024.8,946.7 1023.9,941.8 1083.8,1113.8 1084.7,1118.6"/>
<polygon fill="#32c69f" stroke="#32c69f" points="1025.7,951.6 1024.8,946.7 1084.7,1118.6 1085.6,1123.5"/>
<polygon fill="#30c5a1" stroke="#30c5a1" points="1026.6,956.6 1025.7,951.6 1085.6,1123.5 1086.5,1128.3"/>
<polygon fill="#2fc5a3" stroke="#2fc5a3" points="1027.5,961.6 1026.6,956.6 1086.5,1128.3 1087.4,1133.2"/>
<polygon fill="#2ec4a5" stroke="#2ec4a5" points="1028.4,966.6 1027.5,961.6 1087.4,1133.2 1088.3,1138.0"/>
<polygon fill="#2bc3a8" stroke="#2bc3a8" points="1029.3,971.7 1028.4,966.6 1088.3,1138.0 1089.2,1142.9"/>
<polygon fill="#29c3aa" stroke="#29c3aa" points="1030.2,976.7 1029.3,971.7 1089.2,1142.9 1090.1,1147.7"/>
<polygon fill="#27c2ac" stroke="#27c2ac" points="1031.1,981.8 1030.2,976.7 1090.1,1147.7 1091.0,1152.5"/>
<polygon fill="#25c2ae" stroke="#25c2ae" points="1032.0,987.0 1031.1,981.8 1091.0,1152.5 1091.9,1157.4"/>
<polygon fill="#1fc1b1" stroke="#1fc1b1" points="1032.9,992.1 1032.0,987.0 1091.9,1157.4 1092.8,1162.2"/>
<polygon fill="#1dc0b3" stroke="#1dc0b3" points="1033.8,997.3 1032.9,992.1 1092.8,1162.2 1093.7,1167.0"/>
<polygon fill="#1abfb5" stroke="#1abfb5" points="1034.7,1002.5 1033.8,997.3 1093.7,1167.0 1094.6,1171.8"/>
<polygon fill="#13beb8" stroke="#13beb8" points="1035.6,1007.7 1034.7,1002.5 1094.6,1171.8 1095.5,1176.6"/>
<polygon fill="#10beba" stroke="#10beba" points="1036.5,1012.9 1035.6,1007.7 1095.5,1176.6 1096.4,1181.4"/>
<polygon fill="#0dbdbc" stroke="#0dbdbc" points="1037.4,1018.1 1036.5,1012.9 1096.4,1181.4 1097.3,1186.1"/>
<polygon fill="#08bcbf" stroke="#08bcbf" points="1038.3,1023.4 1037.4,1018.1 1097.3,1186.1 1098.2,1190.9"/>
<polygon fill="#05bbc1" stroke="#05bbc1" points="1039.2,1028.7 1038.3,1023.4 1098.2,1190.9 1099.1,1195.7"/>
<polygon fill="#03bbc2" stroke="#03bbc2" points="1040.1,1034.0 1039.2,1028.7 1099.1,1195.7 1100.0,1200.4"/>
<polygon fill="#01b9c6" stroke="#01b9c6" points="1041.0,1039.4 1040.1,1034.0 1100.0,1200.4 1100.9,1205.1"/>
<polygon fill="#01b9c7" stroke="#01b9c7" points="1041.9,1044.7 1041.0,1039.4 1100.9,1205.1 1101.8,1209.9"/>
<polygon fill="#01b8c9" stroke="#01b8c9" points="1042.8,1050.1 1041.9,1044.7 1101.8,1209.9 1102.7,1214.6"/>
<polygon fill="#03b7cc" stroke="#03b7cc" points="1043.7,1055.5 1042.8,1050.1 1102.7,1214.6 1103.6,1219.2"/>
<polygon fill="#05b6cd" stroke="#05b6cd" points="1044.6,1060.9 1043.7,1055.5 1103.6,1219.2 1104.5,1223.9"/>
<polygon fill="#06b5cf" stroke="#06b5cf" points="1045.5,1066.3 1044.6,1060.9 1104.5,1223.9 1105.4,1228.6"/>
<polygon fill="#0bb4d2" stroke="#0bb4d2" points="1046.4,1071.8 1045.5,1066.3 1105.4,1228.6 1106.3,1233.2"/>
<polygon fill="#0db3d3" stroke="#0db3d3" points="1047.3,1077.2 1046.4,1071.8 1106.3,1233.2 1107.2,1237.8"/>
<polygon fill="#12b1d6" stroke="#12b1d6" points="1048.2,1082.7 1047.3,1077.2 1107.2,1237.8 1108.1,1242.5"/>
<polygon fill="#14b0d8" stroke="#14b0d8" points="1049.1,1088.2 1048.2,1082.7 1108.1,1242.5 1109.0,1247.0"/>
<polygon fill="#15afd9" stroke="#15afd9" points="1050.0,1093.7 1049.1,1088.2 1109.0,1247.0 1109.9,1251.6"/>
<polygon fill="#18addb" stroke="#18addb" points="1050.9,1099.2 1050.0,1093.7 1109.9,1251.6 1110.8,1256.2"/>
<polygon fill="#19acdc" stroke="#19acdc" points="1051.8,1104.8 1050.9,1099.2 1110.8,1256.2 1111.7,1260.7"/>
<polygon fill="#1baadf" stroke="#1baadf" points="1052.7,1110.3 1051.8,1104.8 1111.7,1260.7 1112.6,1265.2"/>
<polygon fill="#1ca9e0" stroke="#1ca9e0" points="1053.6,1115.9 1052.7,1110.3 1112.6,1265.2 1113.5,1269.7"/>
<polygon fill="#1da8e0" stroke="#1da8e0" points="1054.5,1121.5 1053.6,1115.9 1113.5,1269.7 1114.4,1274.1"/>
<polygon fill="#1fa6e2" stroke="#1fa6e2" points="1055.4,1127.0 1054.5,1121.5 1114.4,1274.1 1115.3,1278.6"/>
<polygon fill="#20a5e3" stroke="#20a5e3" points="1056.3,1132.6 1055.4,1127.0 1115.3,1278.6 1116.2,1283.0"/>
<polygon fill="#22a2e4" stroke="#22a2e4" points="1057.2,1138.2 1056.3,1132.6 1116.2,1283.0 1117.1,1287.4"/>
<polygon fill="#22a1e4" stroke="#22a1e4" points="1058.1,1143.8 1057.2,1138.2 1117.1,1287.4 1118.0,1291.8"/>
<polygon fill="#249fe5" stroke="#249fe5" points="1059.0,1149.5 1058.1,1143.8 1118.0,1291.8 1118.9,1296.1"/>
<polygon fill="#249ee6" stroke="#249ee6" points="1059.9,1155.1 1059.0,1149.5 1118.9,1296.1 1119.8,1300.4"/>
<polygon fill="#259be7" stroke="#259be7" points="1060.8,1160.7 1059.9,1155.1 1119.8,1300.4 1120.7,1304.7"/>
<polygon fill="#269ae8" stroke="#269ae8" points="1061.7,1166.3 1060.8,1160.7 1120.7,1304.7 1121.6,1308.9"/>
<polygon fill="#2699e9" stroke="#2699e9" points="1062.6,1172.0 1061.7,1166.3 1121.6,1308.9 1122.5,1313.2"/>
<polygon fill="#2797eb" stroke="#2797eb" points="1063.5,1177.6 1062.6,1172.0 1122.5,1313.2 1123.4,1317.4"/>
<polygon fill="#2895ec" stroke="#2895ec" points="1064.4,1183.3 1063.5,1177.6 1123.4,1317.4 1124.3,1321.5"/>
<polygon fill="#2a93ee" stroke="#2a93ee" points="1065.3,1188.9 1064.4,1183.3 1124.3,1321.5 1125.2,1325.7"/>
<polygon fill="#2b92ee" stroke="#2b92ee" points="1066.3,1194.5 1065.3,1188.9 1125.2,1325.7 1126.1,1329.8"/>
<polygon fill="#2c8ff0" stroke="#2c8ff0" points="1067.2,1200.2 1066.3,1194.5 1126.1,1329.8 1127.0,1333.9"/>
<polygon fill="#2c8ef1" stroke="#2c8ef1" points="1068.1,1205.8 1067.2,1200.2 1127.0,1333.9 1127.9,1337.9"/>
<polygon fill="#2d8bf3" stroke="#2d8bf3" points="1069.0,1211.4 1068.1,1205.8 1127.9,1337.9 1128.8,1341.9"/>
<polygon fill="#2d8af4" stroke="#2d8af4" points="1069.9,1217.1 1069.0,1211.4 1128.8,1341.9 1129.7,1345.9"/>
<polygon fill="#2d89f6" stroke="#2d89f6" points="1070.8,1222.7 1069.9,1217.1 1129.7,1345.9 1130.6,1349.8"/>
<polygon fill="#2e86f7" stroke="#2e86f7" points="1071.7,1228.3 1070.8,1222.7 1130.6,1349.8 1131.5,1353.7"/>
<polygon fill="#2e85f8" stroke="#2e85f8" points="1072.6,1233.9 1071.7,1228.3 1131.5,1353.7 1132.4,1357.6"/>
<polygon fill="#2f82fa" stroke="#2f82fa" points="1073.5,1239.5 1072.6,1233.9 1132.4,1357.6 1133.3,1361.4"/>
<polygon fill="#2f81fa" stroke="#2f81fa" points="1074.4,1245.1 1073.5,1239.5 1133.3,1361.4 1134.2,1365.2"/>
<polygon fill="#317efb" stroke="#317efb" points="1075.3,1250.7 1074.4,1245.1 1134.2,1365.2 1135.1,1368.9"/>
<polygon fill="#327cfc" stroke="#327cfc" points="1076.2,1256.3 1075.3,1250.7 1135.1,1368.9 1136.0,1372.7"/>
<polygon fill="#337bfd" stroke="#337bfd" points="1077.1,1261.8 1076.2,1256.3 1136.0,1372.7 1136.9,1376.3"/>
<polygon fill="#3678fe" stroke="#3678fe" points="1078.0,1267.4 1077.1,1261.8 1136.9,1376.3 1137.8,1380.0"/>
<polygon fill="#3776fe" stroke="#3776fe" points="1078.9,1272.9 1078.0,1267.4 1137.8,1380.0 1138.7,1383.6"/>
<polygon fill="#3a73fe" stroke="#3a73fe" points="1079.8,1278.4 1078.9,1272.9 1138.7,1383.6 1139.6,1387.1"/>
<polygon fill="#3c72ff" stroke="#3c72ff" points="1080.7,1283.9 1079.8,1278.4 1139.6,1387.1 1140.5,1390.6"/>
<polygon fill="#3d70ff" stroke="#3d70ff" points="1081.6,1289.4 1080.7,1283.9 1140.5,1390.6 1141.4,1394.1"/>
<polygon fill="#406dfe" stroke="#406dfe" points="1082.5,1294.8 1081.6,1289.4 1141.4,1394.1 1142.3,1397.5"/>
<polygon fill="#416cfe" stroke="#416cfe" points="1083.4,1300.3 1082.5,1294.8 1142.3,1397.5 1143.2,1400.9"/>
<polygon fill="#4369fe" stroke="#4369fe" points="1084.3,1305.7 1083.4,1300.3 1143.2,1400.9 1144.1,1404.3"/>
<polygon fill="#4367fd" stroke="#4367fd" points="1085.2,1311.0 1084.3,1305.7 1144.1,1404.3 1145.0,1407.6"/>
<polygon fill="#4466fd" stroke="#4466fd" points="1086.1,1316.4 1085.2,1311.0 1145.0,1407.6 1145.9,1410.8"/>
<polygon fill="#4563fc" stroke="#4563fc" points="1087.0,1321.7 1086.1,1316.4 1145.9,1410.8 1146.8,1414.0"/>
<polygon fill="#4561fc" stroke="#4561fc" points="1087.9,1327.0 1087.0,1321.7 1146.8,1414.0 1147.7,1417.2"/>
<polygon fill="#4660fc" stroke="#4660fc" points="1088.8,1332.3 1087.9,1327.0 1147.7,1417.2 1148.6,1420.3"/>
<polygon fill="#465dfb" stroke="#465dfb" points="1089.7,1337.5 1088.8,1332.3 1148.6,1420.3 1149.5,1423.4"/>
<polygon fill="#475cfa" stroke="#475cfa" points="1090.6,1342.7 1089.7,1337.5 1149.5,1423.4 1150.4,1426.5"/>
<polygon fill="#475af9" stroke="#475af9" points="1091.5,1347.9 1090.6,1342.7 1150.4,1426.5 1151.3,1429.5"/>
<polygon fill="#4759f8" stroke="#4759f8" points="1092.4,1353.0 1091.5,1347.9 1151.3,1429.5 1152.2,1432.4"/>
<polygon fill="#4756f7" stroke="#4756f7" points="1093.3,1358.1 1092.4,1353.0 1152.2,1432.4 1153.1,1435.3"/>
<polygon fill="#4755f6" stroke="#4755f6" points="1094.2,1363.1 1093.3,1358.1 1153.1,1435.3 1154.0,1438.2"/>
<polygon fill="#4854f5" stroke="#4854f5" points="1095.1,1368.1 1094.2,1363.1 1154.0,1438.2 1154.9,1441.0"/>
<polygon fill="#4852f4" stroke="#4852f4" points="1096.0,1373.1 1095.1,1368.1 1154.9,1441.0 1155.8,1443.7"/>
<polygon fill="#484ff2" stroke="#484ff2" points="1096.9,1378.0 1096.0,1373.1 1155.8,1443.7 1156.7,1446.5"/>
<polygon fill="#484ef1" stroke="#484ef1" points="1097.8,1382.9 1096.9,1378.0 1156.7,1446.5 1157.6,1449.1"/>
<polygon fill="#484df0" stroke="#484df0" points="1098.7,1387.7 1097.8,1382.9 1157.6,1449.1 1158.5,1451.8"/>
<polygon fill="#484bef" stroke="#484bef" points="1099.6,1392.5 1098.7,1387.7 1158.5,1451.8 1159.4,1454.3"/>
<polygon fill="#484aee" stroke="#484aee" points="1100.5,1397.2 1099.6,1392.5 1159.4,1454.3 1160.3,1456.9"/>
<polygon fill="#4848ec" stroke="#4848ec" points="1101.4,1401.9 1100.5,1397.2 1160.3,1456.9 1161.2,1459.4"/>
<polygon fill="#4746ea" stroke="#4746ea" points="1102.3,1406.5 1101.4,1401.9 1161.2,1459.4 1162.1,1461.8"/>
<polygon fill="#4744e8" stroke="#4744e8" points="1103.2,1411.1 1102.3,1406.5 1162.1,1461.8 1163.0,1464.2"/>
<polygon fill="#4743e7" stroke="#4743e7" points="1104.1,1415.6 1103.2,1411.1 1163.0,1464.2 1163.9,1466.6"/>
<polygon fill="#4741e5" stroke="#4741e5" points="1105.0,1420.1 1104.1,1415.6 1163.9,1466.6 1164.8,1468.9"/>
<polygon fill="#4740e4" stroke="#4740e4" points="1105.9,1424.5 1105.0,1420.1 1164.8,1468.9 1165.7,1471.1"/>
<polygon fill="#473fe2" stroke="#473fe2" points="1106.8,1428.8 1105.9,1424.5 1165.7,1471.1 1166.6,1473.4"/>
<polygon fill="#463de0" stroke="#463de0" points="1107.7,1433.1 1106.8,1428.8 1166.6,1473.4 1167.5,1475.5"/>
<polygon fill="#463cde" stroke="#463cde" points="1108.6,1437.3 1107.7,1433.1 1167.5,1475.5 1168.4,1477.7"/>
<polygon fill="#463bdc" stroke="#463bdc" points="1109.5,1441.5 1108.6,1437.3 1168.4,1477.7 1169.3,1479.8"/>
<polygon fill="#4639da" stroke="#4639da" points="1110.4,1445.5 1109.5,1441.5 1169.3,1479.8 1170.2,1481.8"/>
<polygon fill="#4538d8" stroke="#4538d8" points="1111.3,1449.5 1110.4,1445.5 1170.2,1481.8 1171.1,1483.8"/>
<polygon fill="#4537d6" stroke="#4537d6" points="1112.2,1453.5 1111.3,1449.5 1171.1,1483.8 1172.0,1485.8"/>
<polygon fill="#4536d3" stroke="#4536d3" points="1114.0,1461.2 1112.2,1453.5 1172.0,1485.8 1173.8,1489.6"/>
<polygon fill="#4435d1" stroke="#4435d1" points="1114.9,1464.9 1114.0,1461.2 1173.8,1489.6 1174.7,1491.4"/>
<polygon fill="#4434ce" stroke="#4434ce" points="1115.8,1468.6 1114.9,1464.9 1174.7,1491.4 1175.6,1493.2"/>
<polygon fill="#4433cc" stroke="#4433cc" points="1116.7,1472.1 1115.8,1468.6 1175.6,1493.2 1176.5,1495.0"/>
<polygon fill="#4332c9" stroke="#4332c9" points="1118.5,1479.1 1116.7,1472.1 1176.5,1495.0 1178.3,1498.4"/>
<polygon fill="#4331c6" stroke="#4331c6" points="1119.4,1482.4 1118.5,1479.1 1178.3,1498.4 1179.2,1500.1"/>
<polygon fill="#4230c3" stroke="#4230c3" points="1121.2,1488.9 1119.4,1482.4 1179.2,1500.1 1181.0,1503.3"/>
<polygon fill="#422fc1" stroke="#422fc1" points="1122.1,1492.0 1121.2,1488.9 1181.0,1503.3 1181.9,1504.8"/>
<polygon fill="#412ebe" stroke="#412ebe" points="1123.9,1498.0 1122.1,1492.0 1181.9,1504.8 1183.7,1507.8"/>
<polygon fill="#412dbb" stroke="#412dbb" points="1125.7,1503.7 1123.9,1498.0 1183.7,1507.8 1185.5,1510.7"/>
<polygon fill="#412cb8" stroke="#412cb8" points="1127.5,1509.1 1125.7,1503.7 1185.5,1510.7 1187.3,1513.5"/>
<polygon fill="#402bb6" stroke="#402bb6" points="1129.3,1514.1 1127.5,1509.1 1187.3,1513.5 1189.1,1516.2"/>
<polygon fill="#402ab3" stroke="#402ab3" points="1131.1,1518.8 1129.3,1514.1 1189.1,1516.2 1190.9,1518.7"/>
<polygon fill="#3f29b0" stroke="#3f29b0" points="1133.8,1525.3 1131.1,1518.8 1190.9,1518.7 1193.6,1522.5"/>
<polygon fill="#3f28ad" stroke="#3f28ad" points="1138.3,1534.6 1135.6,1529.2 1133.8,1525.3 1193.6,1522.5 1198.1,1528.3"/>
<polygon fill="#3e27aa" stroke="#3e27aa" points="1151.8,1554.0 1147.3,1548.5 1144.6,1544.8 1141.0,1539.3 1138.3,1534.6 1198.1,1528.3 1211.6,1544.7"/>
<polygon fill="#f9fa15" stroke="#f9fa15" points="757.8,357.3 738.9,333.7 716.4,306.0 690.3,274.2 659.7,237.2 719.5,229.8 750.1,268.1 763.6,285.4 775.3,300.7 787.1,316.2 797.9,330.8 807.8,344.6 817.7,358.7"/>
<polygon fill="#f8f917" stroke="#f8f917" points="792.1,401.4 775.9,380.2 757.8,357.3 817.7,358.7 826.7,371.8 835.7,385.4 843.8,398.0 851.9,411.0"/>
<polygon fill="#f8f719" stroke="#f8f719" points="812.8,429.4 802.9,415.8 792.1,401.4 851.9,411.0 862.7,429.1 872.6,446.6"/>
<polygon fill="#f7f61a" stroke="#f7f61a" points="827.2,449.8 812.8,429.4 872.6,446.6 879.8,459.9 887.0,473.7"/>
<polygon fill="#f7f41c" stroke="#f7f41c" points="838.0,465.7 827.2,449.8 887.0,473.7 892.4,484.5 897.8,495.7"/>
<polygon fill="#f7f31d" stroke="#f7f31d" points="847.0,479.5 838.0,465.7 897.8,495.7 906.8,515.2"/>
<polygon fill="#f6f11e" stroke="#f6f11e" points="855.1,492.4 847.0,479.5 906.8,515.2 914.9,533.9"/>
<polygon fill="#f6f01f" stroke="#f6f01f" points="862.3,504.4 855.1,492.4 914.9,533.9 922.2,551.4"/>
<polygon fill="#f5ee21" stroke="#f5ee21" points="867.7,513.6 862.3,504.4 922.2,551.4 927.6,565.2"/>
<polygon fill="#f5ed22" stroke="#f5ed22" points="874.0,524.8 867.7,513.6 927.6,565.2 933.9,582.0"/>
<polygon fill="#f5eb23" stroke="#f5eb23" points="878.5,533.0 874.0,524.8 933.9,582.0 938.4,594.5"/>
<polygon fill="#f5ea24" stroke="#f5ea24" points="883.0,541.5 878.5,533.0 938.4,594.5 942.9,607.5"/>
<polygon fill="#f5e825" stroke="#f5e825" points="887.5,550.3 883.0,541.5 942.9,607.5 947.4,621.0"/>
<polygon fill="#f5e725" stroke="#f5e725" points="891.1,557.5 887.5,550.3 947.4,621.0 951.0,632.1"/>
<polygon fill="#f5e526" stroke="#f5e526" points="894.7,564.9 891.1,557.5 951.0,632.1 954.6,643.6"/>
<polygon fill="#f5e427" stroke="#f5e427" points="898.3,572.6 894.7,564.9 954.6,643.6 958.2,655.4"/>
<polygon fill="#f5e227" stroke="#f5e227" points="901.0,578.4 898.3,572.6 958.2,655.4 960.9,664.5"/>
<polygon fill="#f6e128" stroke="#f6e128" points="904.6,586.5 901.0,578.4 960.9,664.5 964.5,676.9"/>
<polygon fill="#f6df29" stroke="#f6df29" points="907.4,592.6 904.6,586.5 964.5,676.9 967.2,686.5"/>
<polygon fill="#f6de29" stroke="#f6de29" points="910.1,599.0 907.4,592.6 967.2,686.5 969.9,696.3"/>
<polygon fill="#f7dc2a" stroke="#f7dc2a" points="912.8,605.4 910.1,599.0 969.9,696.3 972.6,706.3"/>
<polygon fill="#f8da2b" stroke="#f8da2b" points="915.5,612.1 912.8,605.4 972.6,706.3 975.3,716.5"/>
<polygon fill="#f8d92c" stroke="#f8d92c" points="917.3,616.6 915.5,612.1 975.3,716.5 977.1,723.4"/>
<polygon fill="#f9d72c" stroke="#f9d72c" points="920.0,623.5 917.3,616.6 977.1,723.4 979.8,734.1"/>
<polygon fill="#fad62d" stroke="#fad62d" points="921.8,628.2 920.0,623.5 979.8,734.1 981.6,741.3"/>
<polygon fill="#fad42e" stroke="#fad42e" points="924.5,635.4 921.8,628.2 981.6,741.3 984.3,752.2"/>
<polygon fill="#fbd32f" stroke="#fbd32f" points="926.3,640.3 924.5,635.4 984.3,752.2 986.1,759.7"/>
<polygon fill="#fcd12f" stroke="#fcd12f" points="928.1,645.3 926.3,640.3 986.1,759.7 987.9,767.3"/>
<polygon fill="#fccf30" stroke="#fccf30" points="929.9,650.4 928.1,645.3 987.9,767.3 989.7,775.0"/>
<polygon fill="#fdce31" stroke="#fdce31" points="931.7,655.6 929.9,650.4 989.7,775.0 991.5,782.7"/>
<polygon fill="#fdcc32" stroke="#fdcc32" points="933.5,660.8 931.7,655.6 991.5,782.7 993.3,790.6"/>
<polygon fill="#fdcb33" stroke="#fdcb33" points="935.3,666.2 933.5,660.8 993.3,790.6 995.1,798.6"/>
<polygon fill="#fec934" stroke="#fec934" points="937.1,671.7 935.3,666.2 995.1,798.6 996.9,806.8"/>
<polygon fill="#fec835" stroke="#fec835" points="938.9,677.2 937.1,671.7 996.9,806.8 998.7,815.0"/>
<polygon fill="#fec636" stroke="#fec636" points="940.7,682.9 938.9,677.2 998.7,815.0 1000.5,823.3"/>
<polygon fill="#fec537" stroke="#fec537" points="942.5,688.7 940.7,682.9 1000.5,823.3 1002.3,831.8"/>
<polygon fill="#fec338" stroke="#fec338" points="943.4,691.6 942.5,688.7 1002.3,831.8 1003.2,836.0"/>
<polygon fill="#fec239" stroke="#fec239" points="945.2,697.5 943.4,691.6 1003.2,836.0 1005.0,844.6"/>
<polygon fill="#fec13a" stroke="#fec13a" points="947.0,703.6 945.2,697.5 1005.0,844.6 1006.8,853.4"/>
<polygon fill="#febf3b" stroke="#febf3b" points="947.9,706.6 947.0,703.6 1006.8,853.4 1007.7,857.8"/>
<polygon fill="#febe3c" stroke="#febe3c" points="949.7,712.9 947.9,706.6 1007.7,857.8 1009.5,866.7"/>
<polygon fill="#fdbd3d" stroke="#fdbd3d" points="950.6,716.0 949.7,712.9 1009.5,866.7 1010.4,871.2"/>
<polygon fill="#fbbc3d" stroke="#fbbc3d" points="952.4,722.4 950.6,716.0 1010.4,871.2 1012.2,880.2"/>
<polygon fill="#fabb3d" stroke="#fabb3d" points="953.3,725.7 952.4,722.4 1012.2,880.2 1013.1,884.8"/>
<polygon fill="#f8ba3d" stroke="#f8ba3d" points="955.1,732.3 953.3,725.7 1013.1,884.8 1014.9,894.0"/>
<polygon fill="#f6ba3c" stroke="#f6ba3c" points="956.0,735.6 955.1,732.3 1014.9,894.0 1015.8,898.7"/>
<polygon fill="#f4ba3a" stroke="#f4ba3a" points="956.9,739.0 956.0,735.6 1015.8,898.7 1016.7,903.4"/>
<polygon fill="#f2ba38" stroke="#f2ba38" points="958.7,745.8 956.9,739.0 1016.7,903.4 1018.5,912.8"/>
<polygon fill="#f0ba36" stroke="#f0ba36" points="959.6,749.3 958.7,745.8 1018.5,912.8 1019.4,917.6"/>
<polygon fill="#eeba34" stroke="#eeba34" points="960.5,752.8 959.6,749.3 1019.4,917.6 1020.3,922.4"/>
<polygon fill="#ecba32" stroke="#ecba32" points="962.3,759.9 960.5,752.8 1020.3,922.4 1022.1,932.0"/>
<polygon fill="#e9bb30" stroke="#e9bb30" points="963.2,763.6 962.3,759.9 1022.1,932.0 1023.0,936.9"/>
<polygon fill="#e7bb2e" stroke="#e7bb2e" points="964.1,767.2 963.2,763.6 1023.0,936.9 1023.9,941.8"/>
<polygon fill="#e5bb2c" stroke="#e5bb2c" points="965.0,770.9 964.1,767.2 1023.9,941.8 1024.8,946.7"/>
<polygon fill="#e2bc2b" stroke="#e2bc2b" points="965.9,774.6 965.0,770.9 1024.8,946.7 1025.7,951.6"/>
<polygon fill="#e0bc2a" stroke="#e0bc2a" points="967.7,782.2 965.9,774.6 1025.7,951.6 1027.5,961.6"/>
<polygon fill="#ddbd29" stroke="#ddbd29" points="968.6,786.0 967.7,782.2 1027.5,961.6 1028.4,966.6"/>
<polygon fill="#dbbd28" stroke="#dbbd28" points="969.5,789.9 968.6,786.0 1028.4,966.6 1029.3,971.7"/>
<polygon fill="#d8be28" stroke="#d8be28" points="970.4,793.8 969.5,789.9 1029.3,971.7 1030.2,976.7"/>
<polygon fill="#d5be28" stroke="#d5be28" points="971.3,797.7 970.4,793.8 1030.2,976.7 1031.1,981.8"/>
<polygon fill="#d2bf27" stroke="#d2bf27" points="972.2,801.7 971.3,797.7 1031.1,981.8 1032.0,987.0"/>
<polygon fill="#d0c028" stroke="#d0c028" points="973.1,805.7 972.2,801.7 1032.0,987.0 1032.9,992.1"/>
<polygon fill="#cdc028" stroke="#cdc028" points="974.0,809.8 973.1,805.7 1032.9,992.1 1033.8,997.3"/>
<polygon fill="#cac129" stroke="#cac129" points="974.9,813.9 974.0,809.8 1033.8,997.3 1034.7,1002.5"/>
<polygon fill="#c7c12a" stroke="#c7c12a" points="975.8,818.0 974.9,813.9 1034.7,1002.5 1035.6,1007.7"/>
<polygon fill="#c4c22b" stroke="#c4c22b" points="976.7,822.2 975.8,818.0 1035.6,1007.7 1036.5,1012.9"/>
<polygon fill="#c1c32c" stroke="#c1c32c" points="977.6,826.4 976.7,822.2 1036.5,1012.9 1037.4,1018.1"/>
<polygon fill="#bec32e" stroke="#bec32e" points="978.5,830.7 977.6,826.4 1037.4,1018.1 1038.3,1023.4"/>
<polygon fill="#bac430" stroke="#bac430" points="979.4,835.0 978.5,830.7 1038.3,1023.4 1039.2,1028.7"/>
<polygon fill="#b7c532" stroke="#b7c532" points="980.3,839.3 979.4,835.0 1039.2,1028.7 1040.1,1034.0"/>
<polygon fill="#b4c534" stroke="#b4c534" points="981.2,843.7 980.3,839.3 1040.1,1034.0 1041.0,1039.4"/>
<polygon fill="#b1c636" stroke="#b1c636" points="982.1,848.2 981.2,843.7 1041.0,1039.4 1041.9,1044.7"/>
<polygon fill="#adc638" stroke="#adc638" points="983.0,852.6 982.1,848.2 1041.9,1044.7 1042.8,1050.1"/>
<polygon fill="#aac73a" stroke="#aac73a" points="983.9,857.1 983.0,852.6 1042.8,1050.1 1043.7,1055.5"/>
<polygon fill="#a7c73c" stroke="#a7c73c" points="984.8,861.7 983.9,857.1 1043.7,1055.5 1044.6,1060.9"/>
<polygon fill="#a3c83e" stroke="#a3c83e" points="985.7,866.3 984.8,861.7 1044.6,1060.9 1045.5,1066.3"/>
<polygon fill="#a0c841" stroke="#a0c841" points="986.6,871.0 985.7,866.3 1045.5,1066.3 1046.4,1071.8"/>
<polygon fill="#99c946" stroke="#99c946" points="987.5,875.6 986.6,871.0 1046.4,1071.8 1047.3,1077.2"/>
<polygon fill="#95ca49" stroke="#95ca49" points="988.4,880.4 987.5,875.6 1047.3,1077.2 1048.2,1082.7"/>
<polygon fill="#92ca4c" stroke="#92ca4c" points="989.3,885.2 988.4,880.4 1048.2,1082.7 1049.1,1088.2"/>
<polygon fill="#8ecb4e" stroke="#8ecb4e" points="990.2,890.0 989.3,885.2 1049.1,1088.2 1050.0,1093.7"/>
<polygon fill="#8bcb51" stroke="#8bcb51" points="991.1,894.9 990.2,890.0 1050.0,1093.7 1050.9,1099.2"/>
<polygon fill="#87cb54" stroke="#87cb54" points="992.0,899.8 991.1,894.9 1050.9,1099.2 1051.8,1104.8"/>
<polygon fill="#80cc59" stroke="#80cc59" points="992.9,904.7 992.0,899.8 1051.8,1104.8 1052.7,1110.3"/>
<polygon fill="#7ccc5c" stroke="#7ccc5c" points="993.8,909.7 992.9,904.7 1052.7,1110.3 1053.6,1115.9"/>
<polygon fill="#79cc5f" stroke="#79cc5f" points="994.7,914.8 993.8,909.7 1053.6,1115.9 1054.5,1121.5"/>
<polygon fill="#75cc61" stroke="#75cc61" points="995.6,919.9 994.7,914.8 1054.5,1121.5 1055.4,1127.0"/>
<polygon fill="#6ecd67" stroke="#6ecd67" points="996.5,925.0 995.6,919.9 1055.4,1127.0 1056.3,1132.6"/>
<polygon fill="#6acd6a" stroke="#6acd6a" points="997.4,930.2 996.5,925.0 1056.3,1132.6 1057.2,1138.2"/>
<polygon fill="#67cd6c" stroke="#67cd6c" points="998.3,935.5 997.4,930.2 1057.2,1138.2 1058.1,1143.8"/>
<polygon fill="#60cd72" stroke="#60cd72" points="999.2,940.8 998.3,935.5 1058.1,1143.8 1059.0,1149.5"/>
<polygon fill="#5dcc75" stroke="#5dcc75" points="1000.1,946.1 999.2,940.8 1059.0,1149.5 1059.9,1155.1"/>
<polygon fill="#5acc77" stroke="#5acc77" points="1001.0,951.5 1000.1,946.1 1059.9,1155.1 1060.8,1160.7"/>
<polygon fill="#54cc7d" stroke="#54cc7d" points="1001.9,956.9 1001.0,951.5 1060.8,1160.7 1061.7,1166.3"/>
<polygon fill="#51cc7f" stroke="#51cc7f" points="1002.8,962.4 1001.9,956.9 1061.7,1166.3 1062.6,1172.0"/>
<polygon fill="#4acb84" stroke="#4acb84" points="1003.7,967.9 1002.8,962.4 1062.6,1172.0 1063.5,1177.6"/>
<polygon fill="#48cb86" stroke="#48cb86" points="1004.6,973.5 1003.7,967.9 1063.5,1177.6 1064.4,1183.3"/>
<polygon fill="#45cb89" stroke="#45cb89" points="1005.5,979.1 1004.6,973.5 1064.4,1183.3 1065.3,1188.9"/>
<polygon fill="#3fca8e" stroke="#3fca8e" points="1006.4,984.7 1005.5,979.1 1065.3,1188.9 1066.3,1194.5"/>
<polygon fill="#3dca90" stroke="#3dca90" points="1007.3,990.5 1006.4,984.7 1066.3,1194.5 1067.2,1200.2"/>
<polygon fill="#39c994" stroke="#39c994" points="1008.2,996.2 1007.3,990.5 1067.2,1200.2 1068.1,1205.8"/>
<polygon fill="#38c897" stroke="#38c897" points="1009.1,1002.0 1008.2,996.2 1068.1,1205.8 1069.0,1211.4"/>
<polygon fill="#35c79b" stroke="#35c79b" points="1010.0,1007.9 1009.1,1002.0 1069.0,1211.4 1069.9,1217.1"/>
<polygon fill="#33c79d" stroke="#33c79d" points="1010.9,1013.8 1010.0,1007.9 1069.9,1217.1 1070.8,1222.7"/>
<polygon fill="#30c5a1" stroke="#30c5a1" points="1011.8,1019.7 1010.9,1013.8 1070.8,1222.7 1071.7,1228.3"/>
<polygon fill="#2fc5a3" stroke="#2fc5a3" points="1012.7,1025.7 1011.8,1019.7 1071.7,1228.3 1072.6,1233.9"/>
<polygon fill="#2cc4a6" stroke="#2cc4a6" points="1013.6,1031.8 1012.7,1025.7 1072.6,1233.9 1073.5,1239.5"/>
<polygon fill="#29c3aa" stroke="#29c3aa" points="1014.5,1037.9 1013.6,1031.8 1073.5,1239.5 1074.4,1245.1"/>
<polygon fill="#27c2ac" stroke="#27c2ac" points="1015.4,1044.0 1014.5,1037.9 1074.4,1245.1 1075.3,1250.7"/>
<polygon fill="#22c1b0" stroke="#22c1b0" points="1016.3,1050.2 1015.4,1044.0 1075.3,1250.7 1076.2,1256.3"/>
<polygon fill="#1fc1b1" stroke="#1fc1b1" points="1017.2,1056.4 1016.3,1050.2 1076.2,1256.3 1077.1,1261.8"/>
<polygon fill="#1abfb5" stroke="#1abfb5" points="1018.1,1062.7 1017.2,1056.4 1077.1,1261.8 1078.0,1267.4"/>
<polygon fill="#13beb8" stroke="#13beb8" points="1019.0,1069.0 1018.1,1062.7 1078.0,1267.4 1078.9,1272.9"/>
<polygon fill="#10beba" stroke="#10beba" points="1019.9,1075.4 1019.0,1069.0 1078.9,1272.9 1079.8,1278.4"/>
<polygon fill="#0abdbd" stroke="#0abdbd" points="1020.8,1081.8 1019.9,1075.4 1079.8,1278.4 1080.7,1283.9"/>
<polygon fill="#05bbc1" stroke="#05bbc1" points="1021.7,1088.2 1020.8,1081.8 1080.7,1283.9 1081.6,1289.4"/>
<polygon fill="#02bac4" stroke="#02bac4" points="1022.6,1094.7 1021.7,1088.2 1081.6,1289.4 1082.5,1294.8"/>
<polygon fill="#01b9c6" stroke="#01b9c6" points="1023.5,1101.3 1022.6,1094.7 1082.5,1294.8 1083.4,1300.3"/>
<polygon fill="#01b8c9" stroke="#01b8c9" points="1024.4,1107.8 1023.5,1101.3 1083.4,1300.3 1084.3,1305.7"/>
<polygon fill="#03b7cc" stroke="#03b7cc" points="1025.3,1114.5 1024.4,1107.8 1084.3,1305.7 1085.2,1311.0"/>
<polygon fill="#06b5cf" stroke="#06b5cf" points="1026.2,1121.1 1025.3,1114.5 1085.2,1311.0 1086.1,1316.4"/>
<polygon fill="#08b4d1" stroke="#08b4d1" points="1027.1,1127.8 1026.2,1121.1 1086.1,1316.4 1087.0,1321.7"/>
<polygon fill="#0db3d3" stroke="#0db3d3" points="1028.0,1134.6 1027.1,1127.8 1087.0,1321.7 1087.9,1327.0"/>
<polygon fill="#12b1d6" stroke="#12b1d6" points="1028.9,1141.3 1028.0,1134.6 1087.9,1327.0 1088.8,1332.3"/>
<polygon fill="#15afd9" stroke="#15afd9" points="1029.8,1148.2 1028.9,1141.3 1088.8,1332.3 1089.7,1337.5"/>
<polygon fill="#18addb" stroke="#18addb" points="1030.7,1155.0 1029.8,1148.2 1089.7,1337.5 1090.6,1342.7"/>
<polygon fill="#19acdc" stroke="#19acdc" points="1031.6,1161.9 1030.7,1155.0 1090.6,1342.7 1091.5,1347.9"/>
<polygon fill="#1baadf" stroke="#1baadf" points="1032.5,1168.8 1031.6,1161.9 1091.5,1347.9 1092.4,1353.0"/>
<polygon fill="#1da8e0" stroke="#1da8e0" points="1033.4,1175.8 1032.5,1168.8 1092.4,1353.0 1093.3,1358.1"/>
<polygon fill="#1fa6e2" stroke="#1fa6e2" points="1034.3,1182.8 1033.4,1175.8 1093.3,1358.1 1094.2,1363.1"/>
<polygon fill="#21a4e3" stroke="#21a4e3" points="1035.2,1189.8 1034.3,1182.8 1094.2,1363.1 1095.1,1368.1"/>
<polygon fill="#22a1e4" stroke="#22a1e4" points="1036.1,1196.8 1035.2,1189.8 1095.1,1368.1 1096.0,1373.1"/>
<polygon fill="#249fe5" stroke="#249fe5" points="1037.0,1203.9 1036.1,1196.8 1096.0,1373.1 1096.9,1378.0"/>
<polygon fill="#259de7" stroke="#259de7" points="1037.9,1211.0 1037.0,1203.9 1096.9,1378.0 1097.8,1382.9"/>
<polygon fill="#259be7" stroke="#259be7" points="1038.8,1218.1 1037.9,1211.0 1097.8,1382.9 1098.7,1387.7"/>
<polygon fill="#2699e9" stroke="#2699e9" points="1039.7,1225.3 1038.8,1218.1 1098.7,1387.7 1099.6,1392.5"/>
<polygon fill="#2797eb" stroke="#2797eb" points="1040.6,1232.5 1039.7,1225.3 1099.6,1392.5 1100.5,1397.2"/>
<polygon fill="#2994ed" stroke="#2994ed" points="1041.5,1239.7 1040.6,1232.5 1100.5,1397.2 1101.4,1401.9"/>
<polygon fill="#2b92ee" stroke="#2b92ee" points="1042.4,1246.9 1041.5,1239.7 1101.4,1401.9 1102.3,1406.5"/>
<polygon fill="#2c8ff0" stroke="#2c8ff0" points="1043.3,1254.1 1042.4,1246.9 1102.3,1406.5 1103.2,1411.1"/>
<polygon fill="#2d8df2" stroke="#2d8df2" points="1044.2,1261.3 1043.3,1254.1 1103.2,1411.1 1104.1,1415.6"/>
<polygon fill="#2d8af4" stroke="#2d8af4" points="1045.1,1268.6 1044.2,1261.3 1104.1,1415.6 1105.0,1420.1"/>
<polygon fill="#2d87f7" stroke="#2d87f7" points="1046.0,1275.9 1045.1,1268.6 1105.0,1420.1 1105.9,1424.5"/>
<polygon fill="#2e85f8" stroke="#2e85f8" points="1046.9,1283.1 1046.0,1275.9 1105.9,1424.5 1106.8,1428.8"/>
<polygon fill="#2f82fa" stroke="#2f82fa" points="1047.8,1290.4 1046.9,1283.1 1106.8,1428.8 1107.7,1433.1"/>
<polygon fill="#307ffb" stroke="#307ffb" points="1048.8,1297.7 1047.8,1290.4 1107.7,1433.1 1108.6,1437.3"/>
<polygon fill="#327cfc" stroke="#327cfc" points="1049.7,1305.0 1048.8,1297.7 1108.6,1437.3 1109.5,1441.5"/>
<polygon fill="#3479fd" stroke="#3479fd" points="1050.6,1312.3 1049.7,1305.0 1109.5,1441.5 1110.4,1445.5"/>
<polygon fill="#3776fe" stroke="#3776fe" points="1051.5,1319.5 1050.6,1312.3 1110.4,1445.5 1111.3,1449.5"/>
<polygon fill="#3a73fe" stroke="#3a73fe" points="1052.4,1326.8 1051.5,1319.5 1111.3,1449.5 1112.2,1453.5"/>
<polygon fill="#3d70ff" stroke="#3d70ff" points="1053.3,1334.0 1052.4,1326.8 1112.2,1453.5 1113.1,1457.4"/>
<polygon fill="#406dfe" stroke="#406dfe" points="1054.2,1341.3 1053.3,1334.0 1113.1,1457.4 1114.0,1461.2"/>
<polygon fill="#426afe" stroke="#426afe" points="1055.1,1348.5 1054.2,1341.3 1114.0,1461.2 1114.9,1464.9"/>
<polygon fill="#4369fe" stroke="#4369fe" points="1056.0,1355.7 1055.1,1348.5 1114.9,1464.9 1115.8,1468.6"/>
<polygon fill="#4466fd" stroke="#4466fd" points="1056.9,1362.9 1056.0,1355.7 1115.8,1468.6 1116.7,1472.1"/>
<polygon fill="#4563fc" stroke="#4563fc" points="1057.8,1370.0 1056.9,1362.9 1116.7,1472.1 1117.6,1475.7"/>
<polygon fill="#4660fc" stroke="#4660fc" points="1058.7,1377.1 1057.8,1370.0 1117.6,1475.7 1118.5,1479.1"/>
<polygon fill="#465dfb" stroke="#465dfb" points="1059.6,1384.2 1058.7,1377.1 1118.5,1479.1 1119.4,1482.4"/>
<polygon fill="#475af9" stroke="#475af9" points="1060.5,1391.2 1059.6,1384.2 1119.4,1482.4 1120.3,1485.7"/>
<polygon fill="#4758f8" stroke="#4758f8" points="1061.4,1398.2 1060.5,1391.2 1120.3,1485.7 1121.2,1488.9"/>
<polygon fill="#4755f6" stroke="#4755f6" points="1062.3,1405.1 1061.4,1398.2 1121.2,1488.9 1122.1,1492.0"/>
<polygon fill="#4852f4" stroke="#4852f4" points="1063.2,1412.0 1062.3,1405.1 1122.1,1492.0 1123.0,1495.1"/>
<polygon fill="#4851f3" stroke="#4851f3" points="1064.1,1418.8 1063.2,1412.0 1123.0,1495.1 1123.9,1498.0"/>
<polygon fill="#484ef1" stroke="#484ef1" points="1065.0,1425.6 1064.1,1418.8 1123.9,1498.0 1124.8,1500.9"/>
<polygon fill="#484bef" stroke="#484bef" points="1065.9,1432.3 1065.0,1425.6 1124.8,1500.9 1125.7,1503.7"/>
<polygon fill="#4848ec" stroke="#4848ec" points="1066.8,1438.9 1065.9,1432.3 1125.7,1503.7 1126.6,1506.4"/>
<polygon fill="#4747eb" stroke="#4747eb" points="1067.7,1445.4 1066.8,1438.9 1126.6,1506.4 1127.5,1509.1"/>
<polygon fill="#4744e8" stroke="#4744e8" points="1068.6,1451.8 1067.7,1445.4 1127.5,1509.1 1128.4,1511.6"/>
<polygon fill="#4741e5" stroke="#4741e5" points="1069.5,1458.2 1068.6,1451.8 1128.4,1511.6 1129.3,1514.1"/>
<polygon fill="#4740e4" stroke="#4740e4" points="1070.4,1464.4 1069.5,1458.2 1129.3,1514.1 1130.2,1516.5"/>
<polygon fill="#463de0" stroke="#463de0" points="1071.3,1470.6 1070.4,1464.4 1130.2,1516.5 1131.1,1518.8"/>
<polygon fill="#463bdc" stroke="#463bdc" points="1072.2,1476.6 1071.3,1470.6 1131.1,1518.8 1132.0,1521.1"/>
<polygon fill="#4639da" stroke="#4639da" points="1073.1,1482.5 1072.2,1476.6 1132.0,1521.1 1132.9,1523.2"/>
<polygon fill="#4537d6" stroke="#4537d6" points="1074.0,1488.3 1073.1,1482.5 1132.9,1523.2 1133.8,1525.3"/>
<polygon fill="#4536d3" stroke="#4536d3" points="1074.9,1493.9 1074.0,1488.3 1133.8,1525.3 1134.7,1527.3"/>
<polygon fill="#4435d1" stroke="#4435d1" points="1075.8,1499.4 1074.9,1493.9 1134.7,1527.3 1135.6,1529.2"/>
<polygon fill="#4433cc" stroke="#4433cc" points="1076.7,1504.7 1075.8,1499.4 1135.6,1529.2 1136.5,1531.1"/>
<polygon fill="#4332c9" stroke="#4332c9" points="1077.6,1509.9 1076.7,1504.7 1136.5,1531.1 1137.4,1532.9"/>
<polygon fill="#4331c6" stroke="#4331c6" points="1078.5,1514.9 1077.6,1509.9 1137.4,1532.9 1138.3,1534.6"/>
<polygon fill="#422fc1" stroke="#422fc1" points="1079.4,1519.8 1078.5,1514.9 1138.3,1534.6 1139.2,1536.2"/>
<polygon fill="#412ebe" stroke="#412ebe" points="1080.3,1524.4 1079.4,1519.8 1139.2,1536.2 1140.1,1537.8"/>
<polygon fill="#412dbb" stroke="#412dbb" points="1081.2,1528.9 1080.3,1524.4 1140.1,1537.8 1141.0,1539.3"/>
<polygon fill="#412cb8" stroke="#412cb8" points="1082.1,1533.2 1081.2,1528.9 1141.0,1539.3 1141.9,1540.8"/>
<polygon fill="#402bb6" stroke="#402bb6" points="1083.0,1537.2 1082.1,1533.2 1141.9,1540.8 1142.8,1542.2"/>
<polygon fill="#402ab3" stroke="#402ab3" points="1084.8,1544.6 1083.0,1537.2 1142.8,1542.2 1144.6,1544.8"/>
<polygon fill="#3f29b0" stroke="#3f29b0" points="1085.7,1547.9 1084.8,1544.6 1144.6,1544.8 1145.5,1546.1"/>
<polygon fill="#3f28ad" stroke="#3f28ad" points="1087.5,1553.8 1085.7,1547.9 1145.5,1546.1 1147.3,1548.5"/>
<polygon fill="#3e27aa" stroke="#3e27aa" points="1092.0,1563.3 1091.1,1562.0 1090.2,1560.4 1089.3,1558.5 1087.5,1553.8 1147.3,1548.5 1151.8,1554.0"/>
<polygon fill="#f9fa15" stroke="#f9fa15" points="791.7,478.6 762.9,442.6 726.8,398.6 678.2,340.0 599.9,246.1 659.7,237.2 700.2,286.2 732.6,325.9 759.6,359.6 782.2,388.4 793.0,402.6 802.9,415.8 811.9,428.1 820.9,440.7 829.0,452.4 837.1,464.4 844.3,475.3 851.5,486.6"/>
<polygon fill="#f8f917" stroke="#f8f917" points="822.3,518.5 807.9,499.4 791.7,478.6 851.5,486.6 859.6,499.8 867.7,513.6 874.9,526.4 882.1,539.8"/>
<polygon fill="#f8f719" stroke="#f8f719" points="839.4,542.0 831.3,530.7 822.3,518.5 882.1,539.8 891.1,557.5 899.2,574.5"/>
<polygon fill="#f7f61a" stroke="#f7f61a" points="852.0,560.2 839.4,542.0 899.2,574.5 905.6,588.5 911.9,603.3"/>
<polygon fill="#f7f41c" stroke="#f7f41c" points="861.9,575.3 852.0,560.2 911.9,603.3 917.3,616.6 921.8,628.2"/>
<polygon fill="#f7f31d" stroke="#f7f31d" points="869.1,586.8 861.9,575.3 921.8,628.2 929.0,647.8"/>
<polygon fill="#f6f11e" stroke="#f6f11e" points="876.3,598.8 869.1,586.8 929.0,647.8 936.2,668.9"/>
<polygon fill="#f6f01f" stroke="#f6f01f" points="881.7,608.2 876.3,598.8 936.2,668.9 941.6,685.8"/>
<polygon fill="#f5ee21" stroke="#f5ee21" points="887.1,618.0 881.7,608.2 941.6,685.8 947.0,703.6"/>
<polygon fill="#f5ed22" stroke="#f5ed22" points="891.7,626.5 887.1,618.0 947.0,703.6 951.5,719.2"/>
<polygon fill="#f5eb23" stroke="#f5eb23" points="895.3,633.5 891.7,626.5 951.5,719.2 955.1,732.3"/>
<polygon fill="#f5ea24" stroke="#f5ea24" points="899.8,642.6 895.3,633.5 955.1,732.3 959.6,749.3"/>
<polygon fill="#f5e825" stroke="#f5e825" points="902.5,648.3 899.8,642.6 959.6,749.3 962.3,759.9"/>
<polygon fill="#f5e725" stroke="#f5e725" points="906.1,656.1 902.5,648.3 962.3,759.9 965.9,774.6"/>
<polygon fill="#f5e526" stroke="#f5e526" points="908.8,662.2 906.1,656.1 965.9,774.6 968.6,786.0"/>
<polygon fill="#f5e427" stroke="#f5e427" points="911.5,668.4 908.8,662.2 968.6,786.0 971.3,797.7"/>
<polygon fill="#f5e227" stroke="#f5e227" points="914.2,674.9 911.5,668.4 971.3,797.7 974.0,809.8"/>
<polygon fill="#f6e128" stroke="#f6e128" points="916.9,681.5 914.2,674.9 974.0,809.8 976.7,822.2"/>
<polygon fill="#f6df29" stroke="#f6df29" points="919.6,688.4 916.9,681.5 976.7,822.2 979.4,835.0"/>
<polygon fill="#f6de29" stroke="#f6de29" points="921.4,693.1 919.6,688.4 979.4,835.0 981.2,843.7"/>
<polygon fill="#f7dc2a" stroke="#f7dc2a" points="923.2,697.9 921.4,693.1 981.2,843.7 983.0,852.6"/>
<polygon fill="#f8da2b" stroke="#f8da2b" points="925.9,705.3 923.2,697.9 983.0,852.6 985.7,866.3"/>
<polygon fill="#f8d92c" stroke="#f8d92c" points="927.7,710.4 925.9,705.3 985.7,866.3 987.5,875.6"/>
<polygon fill="#f9d72c" stroke="#f9d72c" points="929.5,715.6 927.7,710.4 987.5,875.6 989.3,885.2"/>
<polygon fill="#fad62d" stroke="#fad62d" points="931.3,721.0 929.5,715.6 989.3,885.2 991.1,894.9"/>
<polygon fill="#fad42e" stroke="#fad42e" points="933.1,726.5 931.3,721.0 991.1,894.9 992.9,904.7"/>
<polygon fill="#fbd32f" stroke="#fbd32f" points="934.9,732.1 933.1,726.5 992.9,904.7 994.7,914.8"/>
<polygon fill="#fcd12f" stroke="#fcd12f" points="935.8,735.0 934.9,732.1 994.7,914.8 995.6,919.9"/>
<polygon fill="#fccf30" stroke="#fccf30" points="937.6,740.8 935.8,735.0 995.6,919.9 997.4,930.2"/>
<polygon fill="#fdce31" stroke="#fdce31" points="939.4,746.9 937.6,740.8 997.4,930.2 999.2,940.8"/>
<polygon fill="#fdcc32" stroke="#fdcc32" points="940.3,749.9 939.4,746.9 999.2,940.8 1000.1,946.1"/>
<polygon fill="#fdcb33" stroke="#fdcb33" points="942.1,756.2 940.3,749.9 1000.1,946.1 1001.9,956.9"/>
<polygon fill="#fec934" stroke="#fec934" points="943.0,759.4 942.1,756.2 1001.9,956.9 1002.8,962.4"/>
<polygon fill="#fec835" stroke="#fec835" points="944.8,765.9 943.0,759.4 1002.8,962.4 1004.6,973.5"/>
<polygon fill="#fec636" stroke="#fec636" points="945.7,769.3 944.8,765.9 1004.6,973.5 1005.5,979.1"/>
<polygon fill="#fec537" stroke="#fec537" points="946.6,772.7 945.7,769.3 1005.5,979.1 1006.4,984.7"/>
<polygon fill="#fec338" stroke="#fec338" points="948.4,779.6 946.6,772.7 1006.4,984.7 1008.2,996.2"/>
<polygon fill="#fec239" stroke="#fec239" points="949.3,783.1 948.4,779.6 1008.2,996.2 1009.1,1002.0"/>
<polygon fill="#fec13a" stroke="#fec13a" points="950.2,786.7 949.3,783.1 1009.1,1002.0 1010.0,1007.9"/>
<polygon fill="#febf3b" stroke="#febf3b" points="951.1,790.3 950.2,786.7 1010.0,1007.9 1010.9,1013.8"/>
<polygon fill="#febe3c" stroke="#febe3c" points="952.9,797.8 951.1,790.3 1010.9,1013.8 1012.7,1025.7"/>
<polygon fill="#fdbd3d" stroke="#fdbd3d" points="953.8,801.6 952.9,797.8 1012.7,1025.7 1013.6,1031.8"/>
<polygon fill="#fbbc3d" stroke="#fbbc3d" points="954.7,805.4 953.8,801.6 1013.6,1031.8 1014.5,1037.9"/>
<polygon fill="#fabb3d" stroke="#fabb3d" points="955.6,809.3 954.7,805.4 1014.5,1037.9 1015.4,1044.0"/>
<polygon fill="#f8ba3d" stroke="#f8ba3d" points="956.5,813.3 955.6,809.3 1015.4,1044.0 1016.3,1050.2"/>
<polygon fill="#f6ba3c" stroke="#f6ba3c" points="957.4,817.3 956.5,813.3 1016.3,1050.2 1017.2,1056.4"/>
<polygon fill="#f4ba3a" stroke="#f4ba3a" points="958.3,821.4 957.4,817.3 1017.2,1056.4 1018.1,1062.7"/>
<polygon fill="#f2ba38" stroke="#f2ba38" points="959.2,825.6 958.3,821.4 1018.1,1062.7 1019.0,1069.0"/>
<polygon fill="#f0ba36" stroke="#f0ba36" points="960.1,829.8 959.2,825.6 1019.0,1069.0 1019.9,1075.4"/>
<polygon fill="#eeba34" stroke="#eeba34" points="961.0,834.1 960.1,829.8 1019.9,1075.4 1020.8,1081.8"/>
<polygon fill="#ecba32" stroke="#ecba32" points="961.9,838.5 961.0,834.1 1020.8,1081.8 1021.7,1088.2"/>
<polygon fill="#e9bb30" stroke="#e9bb30" points="962.8,842.9 961.9,838.5 1021.7,1088.2 1022.6,1094.7"/>
<polygon fill="#e7bb2e" stroke="#e7bb2e" points="963.7,847.4 962.8,842.9 1022.6,1094.7 1023.5,1101.3"/>
<polygon fill="#e5bb2c" stroke="#e5bb2c" points="964.6,852.0 963.7,847.4 1023.5,1101.3 1024.4,1107.8"/>
<polygon fill="#e2bc2b" stroke="#e2bc2b" points="965.5,856.7 964.6,852.0 1024.4,1107.8 1025.3,1114.5"/>
<polygon fill="#e0bc2a" stroke="#e0bc2a" points="966.4,861.4 965.5,856.7 1025.3,1114.5 1026.2,1121.1"/>
<polygon fill="#dbbd28" stroke="#dbbd28" points="967.3,866.2 966.4,861.4 1026.2,1121.1 1027.1,1127.8"/>
<polygon fill="#d8be28" stroke="#d8be28" points="968.2,871.1 967.3,866.2 1027.1,1127.8 1028.0,1134.6"/>
<polygon fill="#d5be28" stroke="#d5be28" points="969.1,876.0 968.2,871.1 1028.0,1134.6 1028.9,1141.3"/>
<polygon fill="#d2bf27" stroke="#d2bf27" points="970.0,881.1 969.1,876.0 1028.9,1141.3 1029.8,1148.2"/>
<polygon fill="#cdc028" stroke="#cdc028" points="970.9,886.2 970.0,881.1 1029.8,1148.2 1030.7,1155.0"/>
<polygon fill="#cac129" stroke="#cac129" points="971.8,891.4 970.9,886.2 1030.7,1155.0 1031.6,1161.9"/>
<polygon fill="#c7c12a" stroke="#c7c12a" points="972.7,896.7 971.8,891.4 1031.6,1161.9 1032.5,1168.8"/>
<polygon fill="#c1c32c" stroke="#c1c32c" points="973.6,902.1 972.7,896.7 1032.5,1168.8 1033.4,1175.8"/>
<polygon fill="#bec32e" stroke="#bec32e" points="974.5,907.6 973.6,902.1 1033.4,1175.8 1034.3,1182.8"/>
<polygon fill="#bac430" stroke="#bac430" points="975.4,913.1 974.5,907.6 1034.3,1182.8 1035.2,1189.8"/>
<polygon fill="#b4c534" stroke="#b4c534" points="976.3,918.8 975.4,913.1 1035.2,1189.8 1036.1,1196.8"/>
<polygon fill="#b1c636" stroke="#b1c636" points="977.2,924.6 976.3,918.8 1036.1,1196.8 1037.0,1203.9"/>
<polygon fill="#aac73a" stroke="#aac73a" points="978.1,930.4 977.2,924.6 1037.0,1203.9 1037.9,1211.0"/>
<polygon fill="#a7c73c" stroke="#a7c73c" points="979.0,936.4 978.1,930.4 1037.9,1211.0 1038.8,1218.1"/>
<polygon fill="#a0c841" stroke="#a0c841" points="979.9,942.4 979.0,936.4 1038.8,1218.1 1039.7,1225.3"/>
<polygon fill="#99c946" stroke="#99c946" points="980.8,948.6 979.9,942.4 1039.7,1225.3 1040.6,1232.5"/>
<polygon fill="#95ca49" stroke="#95ca49" points="981.7,954.9 980.8,948.6 1040.6,1232.5 1041.5,1239.7"/>
<polygon fill="#8ecb4e" stroke="#8ecb4e" points="982.6,961.3 981.7,954.9 1041.5,1239.7 1042.4,1246.9"/>
<polygon fill="#87cb54" stroke="#87cb54" points="983.5,967.7 982.6,961.3 1042.4,1246.9 1043.3,1254.1"/>
<polygon fill="#84cc56" stroke="#84cc56" points="984.4,974.4 983.5,967.7 1043.3,1254.1 1044.2,1261.3"/>
<polygon fill="#7ccc5c" stroke="#7ccc5c" points="985.3,981.1 984.4,974.4 1044.2,1261.3 1045.1,1268.6"/>
<polygon fill="#75cc61" stroke="#75cc61" points="986.2,987.9 985.3,981.1 1045.1,1268.6 1046.0,1275.9"/>
<polygon fill="#6ecd67" stroke="#6ecd67" points="987.1,994.9 986.2,987.9 1046.0,1275.9 1046.9,1283.1"/>
<polygon fill="#67cd6c" stroke="#67cd6c" points="988.0,1002.0 987.1,994.9 1046.9,1283.1 1047.8,1290.4"/>
<polygon fill="#60cd72" stroke="#60cd72" points="988.9,1009.2 988.0,1002.0 1047.8,1290.4 1048.8,1297.7"/>
<polygon fill="#5acc77" stroke="#5acc77" points="989.8,1016.5 988.9,1009.2 1048.8,1297.7 1049.7,1305.0"/>
<polygon fill="#54cc7d" stroke="#54cc7d" points="990.7,1024.0 989.8,1016.5 1049.7,1305.0 1050.6,1312.3"/>
<polygon fill="#4ecc82" stroke="#4ecc82" points="991.6,1031.6 990.7,1024.0 1050.6,1312.3 1051.5,1319.5"/>
<polygon fill="#48cb86" stroke="#48cb86" points="992.5,1039.4 991.6,1031.6 1051.5,1319.5 1052.4,1326.8"/>
<polygon fill="#42ca8b" stroke="#42ca8b" points="993.4,1047.3 992.5,1039.4 1052.4,1326.8 1053.3,1334.0"/>
<polygon fill="#3dca90" stroke="#3dca90" points="994.3,1055.3 993.4,1047.3 1053.3,1334.0 1054.2,1341.3"/>
<polygon fill="#39c994" stroke="#39c994" points="995.2,1063.5 994.3,1055.3 1054.2,1341.3 1055.1,1348.5"/>
<polygon fill="#35c79b" stroke="#35c79b" points="996.1,1071.8 995.2,1063.5 1055.1,1348.5 1056.0,1355.7"/>
<polygon fill="#32c69f" stroke="#32c69f" points="997.0,1080.3 996.1,1071.8 1056.0,1355.7 1056.9,1362.9"/>
<polygon fill="#2fc5a3" stroke="#2fc5a3" points="997.9,1088.9 997.0,1080.3 1056.9,1362.9 1057.8,1370.0"/>
<polygon fill="#2bc3a8" stroke="#2bc3a8" points="998.8,1097.7 997.9,1088.9 1057.8,1370.0 1058.7,1377.1"/>
<polygon fill="#27c2ac" stroke="#27c2ac" points="999.7,1106.7 998.8,1097.7 1058.7,1377.1 1059.6,1384.2"/>
<polygon fill="#1fc1b1" stroke="#1fc1b1" points="1000.6,1115.8 999.7,1106.7 1059.6,1384.2 1060.5,1391.2"/>
<polygon fill="#17bfb6" stroke="#17bfb6" points="1001.5,1125.1 1000.6,1115.8 1060.5,1391.2 1061.4,1398.2"/>
<polygon fill="#10beba" stroke="#10beba" points="1002.4,1134.6 1001.5,1125.1 1061.4,1398.2 1062.3,1405.1"/>
<polygon fill="#08bcbf" stroke="#08bcbf" points="1003.3,1144.2 1002.4,1134.6 1062.3,1405.1 1063.2,1412.0"/>
<polygon fill="#02bac4" stroke="#02bac4" points="1004.2,1154.1 1003.3,1144.2 1063.2,1412.0 1064.1,1418.8"/>
<polygon fill="#01b8c9" stroke="#01b8c9" points="1005.1,1164.1 1004.2,1154.1 1064.1,1418.8 1065.0,1425.6"/>
<polygon fill="#03b7cc" stroke="#03b7cc" points="1006.0,1174.3 1005.1,1164.1 1065.0,1425.6 1065.9,1432.3"/>
<polygon fill="#08b4d1" stroke="#08b4d1" points="1006.9,1184.7 1006.0,1174.3 1065.9,1432.3 1066.8,1438.9"/>
<polygon fill="#10b2d5" stroke="#10b2d5" points="1007.8,1195.2 1006.9,1184.7 1066.8,1438.9 1067.7,1445.4"/>
<polygon fill="#15afd9" stroke="#15afd9" points="1008.7,1206.0 1007.8,1195.2 1067.7,1445.4 1068.6,1451.8"/>
<polygon fill="#1aabdd" stroke="#1aabdd" points="1009.6,1217.0 1008.7,1206.0 1068.6,1451.8 1069.5,1458.2"/>
<polygon fill="#1da8e0" stroke="#1da8e0" points="1010.5,1228.2 1009.6,1217.0 1069.5,1458.2 1070.4,1464.4"/>
<polygon fill="#20a5e3" stroke="#20a5e3" points="1011.4,1239.6 1010.5,1228.2 1070.4,1464.4 1071.3,1470.6"/>
<polygon fill="#22a1e4" stroke="#22a1e4" points="1012.3,1251.3 1011.4,1239.6 1071.3,1470.6 1072.2,1476.6"/>
<polygon fill="#259de7" stroke="#259de7" points="1013.2,1263.1 1012.3,1251.3 1072.2,1476.6 1073.1,1482.5"/>
<polygon fill="#2699e9" stroke="#2699e9" points="1014.1,1275.2 1013.2,1263.1 1073.1,1482.5 1074.0,1488.3"/>
<polygon fill="#2994ed" stroke="#2994ed" points="1015.0,1287.5 1014.1,1275.2 1074.0,1488.3 1074.9,1493.9"/>
<polygon fill="#2b90ef" stroke="#2b90ef" points="1015.9,1300.1 1015.0,1287.5 1074.9,1493.9 1075.8,1499.4"/>
<polygon fill="#2d8bf3" stroke="#2d8bf3" points="1016.8,1312.8 1015.9,1300.1 1075.8,1499.4 1076.7,1504.7"/>
<polygon fill="#2e86f7" stroke="#2e86f7" points="1017.7,1325.9 1016.8,1312.8 1076.7,1504.7 1077.6,1509.9"/>
<polygon fill="#2f81fa" stroke="#2f81fa" points="1018.6,1339.2 1017.7,1325.9 1077.6,1509.9 1078.5,1514.9"/>
<polygon fill="#337bfd" stroke="#337bfd" points="1019.5,1352.7 1018.6,1339.2 1078.5,1514.9 1079.4,1519.8"/>
<polygon fill="#3975fe" stroke="#3975fe" points="1020.4,1366.5 1019.5,1352.7 1079.4,1519.8 1080.3,1524.4"/>
<polygon fill="#3f6fff" stroke="#3f6fff" points="1021.3,1380.6 1020.4,1366.5 1080.3,1524.4 1081.2,1528.9"/>
<polygon fill="#4369fe" stroke="#4369fe" points="1022.2,1394.9 1021.3,1380.6 1081.2,1528.9 1082.1,1533.2"/>
<polygon fill="#4563fc" stroke="#4563fc" points="1023.1,1409.6 1022.2,1394.9 1082.1,1533.2 1083.0,1537.2"/>
<polygon fill="#475cfa" stroke="#475cfa" points="1024.0,1424.5 1023.1,1409.6 1083.0,1537.2 1083.9,1541.0"/>
<polygon fill="#4756f7" stroke="#4756f7" points="1024.9,1439.7 1024.0,1424.5 1083.9,1541.0 1084.8,1544.6"/>
<polygon fill="#484ff2" stroke="#484ff2" points="1025.8,1455.2 1024.9,1439.7 1084.8,1544.6 1085.7,1547.9"/>
<polygon fill="#484aee" stroke="#484aee" points="1026.7,1471.0 1025.8,1455.2 1085.7,1547.9 1086.6,1551.0"/>
<polygon fill="#4743e7" stroke="#4743e7" points="1027.6,1487.1 1026.7,1471.0 1086.6,1551.0 1087.5,1553.8"/>
<polygon fill="#463cde" stroke="#463cde" points="1028.5,1503.5 1027.6,1487.1 1087.5,1553.8 1088.4,1556.3"/>
<polygon fill="#4536d3" stroke="#4536d3" points="1029.4,1520.3 1028.5,1503.5 1088.4,1556.3 1089.3,1558.5"/>
<polygon fill="#4331c6" stroke="#4331c6" points="1030.3,1537.4 1029.4,1520.3 1089.3,1558.5 1090.2,1560.4"/>
<polygon fill="#412cb8" stroke="#412cb8" points="1031.2,1554.8 1030.3,1537.4 1090.2,1560.4 1091.1,1562.0"/>
<polygon fill="#3e27aa" stroke="#3e27aa" points="1032.2,1572.6 1031.2,1554.8 1091.1,1562.0 1092.0,1563.3"/>
<polygon fill="#f9fa15" stroke="#f9fa15" stroke-width="2.2" points="872.4,652.8 540.0,255.3 599.9,246.1 665.6,324.9 709.7,377.9 743.0,418.3 769.2,450.4 791.7,478.6 811.5,504.1 828.6,527.0 843.9,548.4 851.1,558.9 858.3,569.8 865.5,581.0 871.8,591.2 878.1,601.9 884.4,613.0 889.9,623.0 895.3,633.5 900.7,644.5 905.2,654.1 910.6,666.3 915.1,677.0 919.6,688.4 924.1,700.3 928.6,713.0 932.2,723.7"/>
<polygon fill="#f9fa15" stroke="#f9fa15" stroke-width="2.2" points="873.3,653.9 872.4,652.8 932.2,723.7 933.1,726.5"/>
<polygon fill="#f9fa15" stroke="#f9fa15" stroke-width="2.2" points="874.2,655.0 873.3,653.9 933.1,726.5 934.0,729.3"/>
<polygon fill="#f9fa15" stroke="#f9fa15" stroke-width="2.2" points="875.1,656.1 874.2,655.0 934.0,729.3 934.9,732.1"/>
<polygon fill="#f9fa15" stroke="#f9fa15" stroke-width="2.2" points="876.0,657.1 875.1,656.1 934.9,732.1 935.8,735.0"/>
<polygon fill="#f9fa15" stroke="#f9fa15" stroke-width="2.2" points="876.9,658.2 876.0,657.1 935.8,735.0 936.7,737.9"/>
<polygon fill="#f9fa15" stroke="#f9fa15" stroke-width="2.2" points="877.8,659.3 876.9,658.2 936.7,737.9 937.6,740.8"/>
<polygon fill="#f9fa15" stroke="#f9fa15" stroke-width="2.2" points="878.7,660.4 877.8,659.3 937.6,740.8 938.5,743.8"/>
<polygon fill="#f9fa15" stroke="#f9fa15" stroke-width="2.2" points="879.6,661.5 878.7,660.4 938.5,743.8 939.4,746.9"/>
<polygon fill="#f9fa15" stroke="#f9fa15" stroke-width="2.2" points="880.5,662.5 879.6,661.5 939.4,746.9 940.3,749.9"/>
<polygon fill="#f9fa15" stroke="#f9fa15" stroke-width="2.2" points="881.4,663.6 880.5,662.5 940.3,749.9 941.2,753.0"/>
<polygon fill="#f9fa15" stroke="#f9fa15" stroke-width="2.2" points="882.3,664.7 881.4,663.6 941.2,753.0 942.1,756.2"/>
<polygon fill="#f9fa15" stroke="#f9fa15" stroke-width="2.2" points="883.2,665.8 882.3,664.7 942.1,756.2 943.0,759.4"/>
<polygon fill="#f9fa15" stroke="#f9fa15" stroke-width="2.2" points="884.1,666.8 883.2,665.8 943.0,759.4 943.9,762.6"/>
<polygon fill="#f9fa15" stroke="#f9fa15" stroke-width="2.2" points="885.0,667.9 884.1,666.8 943.9,762.6 944.8,765.9"/>
<polygon fill="#f9fa15" stroke="#f9fa15" stroke-width="2.2" points="885.9,669.0 885.0,667.9 944.8,765.9 945.7,769.3"/>
<polygon fill="#f9fa15" stroke="#f9fa15" stroke-width="2.2" points="886.8,670.1 885.9,669.0 945.7,769.3 946.6,772.7"/>
<polygon fill="#f9fa15" stroke="#f9fa15" stroke-width="2.2" points="887.7,671.2 886.8,670.1 946.6,772.7 947.5,776.1"/>
<polygon fill="#f9fa15" stroke="#f9fa15" stroke-width="2.2" points="888.6,672.2 887.7,671.2 947.5,776.1 948.4,779.6"/>
<polygon fill="#f9fa15" stroke="#f9fa15" stroke-width="2.2" points="889.5,673.3 888.6,672.2 948.4,779.6 949.3,783.1"/>
<polygon fill="#f9fa15" stroke="#f9fa15" stroke-width="2.2" points="890.4,674.4 889.5,673.3 949.3,783.1 950.2,786.7"/>
<polygon fill="#f9fa15" stroke="#f9fa15" stroke-width="2.2" points="891.3,675.5 890.4,674.4 950.2,786.7 951.1,790.3"/>
<polygon fill="#f9fa15" stroke="#f9fa15" stroke-width="2.2" points="892.2,676.5 891.3,675.5 951.1,790.3 952.0,794.0"/>
<polygon fill="#f9fa15" stroke="#f9fa15" stroke-width="2.2" points="893.1,677.6 892.2,676.5 952.0,794.0 952.9,797.8"/>
<polygon fill="#f9fa15" stroke="#f9fa15" stroke-width="2.2" points="894.0,678.7 893.1,677.6 952.9,797.8 953.8,801.6"/>
<polygon fill="#f9fa15" stroke="#f9fa15" stroke-width="2.2" points="894.9,679.8 894.0,678.7 953.8,801.6 954.7,805.4"/>
<polygon fill="#f9fa15" stroke="#f9fa15" stroke-width="2.2" points="895.8,680.9 894.9,679.8 954.7,805.4 955.6,809.3"/>
<polygon fill="#f9fa15" stroke="#f9fa15" stroke-width="2.2" points="896.7,681.9 895.8,680.9 955.6,809.3 956.5,813.3"/>
<polygon fill="#f9fa15" stroke="#f9fa15" stroke-width="2.2" points="897.6,683.0 896.7,681.9 956.5,813.3 957.4,817.3"/>
<polygon fill="#f9fa15" stroke="#f9fa15" stroke-width="2.2" points="898.5,684.1 897.6,683.0 957.4,817.3 958.3,821.4"/>
<polygon fill="#f9fa15" stroke="#f9fa15" stroke-width="2.2" points="899.4,685.2 898.5,684.1 958.3,821.4 959.2,825.6"/>
<polygon fill="#f9fa15" stroke="#f9fa15" stroke-width="2.2" points="900.3,686.2 899.4,685.2 959.2,825.6 960.1,829.8"/>
<polygon fill="#f9fa15" stroke="#f9fa15" stroke-width="2.2" points="901.2,687.3 900.3,686.2 960.1,829.8 961.0,834.1"/>
<polygon fill="#f9fa15" stroke="#f9fa15" stroke-width="2.2" points="902.1,688.4 901.2,687.3 961.0,834.1 961.9,838.5"/>
<polygon fill="#f9fa15" stroke="#f9fa15" stroke-width="2.2" points="903.0,689.5 902.1,688.4 961.9,838.5 962.8,842.9"/>
<polygon fill="#f9fa15" stroke="#f9fa15" stroke-width="2.2" points="903.9,690.5 903.0,689.5 962.8,842.9 963.7,847.4"/>
<polygon fill="#f9fa15" stroke="#f9fa15" stroke-width="2.2" points="904.8,691.6 903.9,690.5 963.7,847.4 964.6,852.0"/>
<polygon fill="#f9fa15" stroke="#f9fa15" stroke-width="2.2" points="905.7,692.7 904.8,691.6 964.6,852.0 965.5,856.7"/>
<polygon fill="#f9fa15" stroke="#f9fa15" stroke-width="2.2" points="906.6,693.8 905.7,692.7 965.5,856.7 966.4,861.4"/>
<polygon fill="#f9fa15" stroke="#f9fa15" stroke-width="2.2" points="907.5,694.9 906.6,693.8 966.4,861.4 967.3,866.2"/>
<polygon fill="#f9fa15" stroke="#f9fa15" stroke-width="2.2" points="908.4,695.9 907.5,694.9 967.3,866.2 968.2,871.1"/>
<polygon fill="#f9fa15" stroke="#f9fa15" stroke-width="2.2" points="909.3,697.0 908.4,695.9 968.2,871.1 969.1,876.0"/>
<polygon fill="#f9fa15" stroke="#f9fa15" stroke-width="2.2" points="910.2,698.1 909.3,697.0 969.1,876.0 970.0,881.1"/>
<polygon fill="#f9fa15" stroke="#f9fa15" stroke-width="2.2" points="911.1,699.2 910.2,698.1 970.0,881.1 970.9,886.2"/>
<polygon fill="#f9fa15" stroke="#f9fa15" stroke-width="2.2" points="912.0,700.2 911.1,699.2 970.9,886.2 971.8,891.4"/>
<polygon fill="#f9fa15" stroke="#f9fa15" stroke-width="2.2" points="912.9,701.3 912.0,700.2 971.8,891.4 972.7,896.7"/>
<polygon fill="#f9fa15" stroke="#f9fa15" stroke-width="2.2" points="913.8,702.4 912.9,701.3 972.7,896.7 973.6,902.1"/>
<polygon fill="#f9fa15" stroke="#f9fa15" stroke-width="2.2" points="914.7,703.5 913.8,702.4 973.6,902.1 974.5,907.6"/>
<polygon fill="#f9fa15" stroke="#f9fa15" stroke-width="2.2" points="915.6,704.6 914.7,703.5 974.5,907.6 975.4,913.1"/>
<polygon fill="#f9fa15" stroke="#f9fa15" stroke-width="2.2" points="916.5,705.6 915.6,704.6 975.4,913.1 976.3,918.8"/>
<polygon fill="#f9fa15" stroke="#f9fa15" stroke-width="2.2" points="917.4,706.7 916.5,705.6 976.3,918.8 977.2,924.6"/>
<polygon fill="#f9fa15" stroke="#f9fa15" stroke-width="2.2" points="918.3,707.8 917.4,706.7 977.2,924.6 978.1,930.4"/>
<polygon fill="#f9fa15" stroke="#f9fa15" stroke-width="2.2" points="919.2,708.9 918.3,707.8 978.1,930.4 979.0,936.4"/>
<polygon fill="#f9fa15" stroke="#f9fa15" stroke-width="2.2" points="920.1,709.9 919.2,708.9 979.0,936.4 979.9,942.4"/>
<polygon fill="#f9fa15" stroke="#f9fa15" stroke-width="2.2" points="921.0,711.0 920.1,709.9 979.9,942.4 980.8,948.6"/>
<polygon fill="#f9fa15" stroke="#f9fa15" stroke-width="2.2" points="921.9,712.1 921.0,711.0 980.8,948.6 981.7,954.9"/>
<polygon fill="#f9fa15" stroke="#f9fa15" stroke-width="2.2" points="922.8,713.2 921.9,712.1 981.7,954.9 982.6,961.3"/>
<polygon fill="#f9fa15" stroke="#f9fa15" stroke-width="2.2" points="923.7,714.2 922.8,713.2 982.6,961.3 983.5,967.7"/>
<polygon fill="#f9fa15" stroke="#f9fa15" stroke-width="2.2" points="924.6,715.3 923.7,714.2 983.5,967.7 984.4,974.4"/>
<polygon fill="#f9fa15" stroke="#f9fa15" stroke-width="2.2" points="925.5,716.4 924.6,715.3 984.4,974.4 985.3,981.1"/>
<polygon fill="#f9fa15" stroke="#f9fa15" stroke-width="2.2" points="926.4,717.5 925.5,716.4 985.3,981.1 986.2,987.9"/>
<polygon fill="#f9fa15" stroke="#f9fa15" stroke-width="2.2" points="927.3,718.6 926.4,717.5 986.2,987.9 987.1,994.9"/>
<polygon fill="#f9fa15" stroke="#f9fa15" stroke-width="2.2" points="928.2,719.6 927.3,718.6 987.1,994.9 988.0,1002.0"/>
<polygon fill="#f9fa15" stroke="#f9fa15" stroke-width="2.2" points="929.1,720.7 928.2,719.6 988.0,1002.0 988.9,1009.2"/>
<polygon fill="#f9fa15" stroke="#f9fa15" stroke-width="2.2" points="930.0,721.8 929.1,720.7 988.9,1009.2 989.8,1016.5"/>
<polygon fill="#f9fa15" stroke="#f9fa15" stroke-width="2.2" points="930.9,722.9 930.0,721.8 989.8,1016.5 990.7,1024.0"/>
<polygon fill="#f9fa15" stroke="#f9fa15" stroke-width="2.2" points="931.8,723.9 930.9,722.9 990.7,1024.0 991.6,1031.6"/>
<polygon fill="#f9fa15" stroke="#f9fa15" stroke-width="2.2" points="932.7,725.0 931.8,723.9 991.6,1031.6 992.5,1039.4"/>
<polygon fill="#f9fa15" stroke="#f9fa15" stroke-width="2.2" points="933.6,726.1 932.7,725.0 992.5,1039.4 993.4,1047.3"/>
<polygon fill="#f9fa15" stroke="#f9fa15" stroke-width="2.2" points="934.5,727.2 933.6,726.1 993.4,1047.3 994.3,1055.3"/>
<polygon fill="#f9fa15" stroke="#f9fa15" stroke-width="2.2" points="935.4,728.3 934.5,727.2 994.3,1055.3 995.2,1063.5"/>
<polygon fill="#f9fa15" stroke="#f9fa15" stroke-width="2.2" points="936.3,729.3 935.4,728.3 995.2,1063.5 996.1,1071.8"/>
<polygon fill="#f9fa15" stroke="#f9fa15" stroke-width="2.2" points="937.2,730.4 936.3,729.3 996.1,1071.8 997.0,1080.3"/>
<polygon fill="#f9fa15" stroke="#f9fa15" stroke-width="2.2" points="938.1,731.5 937.2,730.4 997.0,1080.3 997.9,1088.9"/>
<polygon fill="#f9fa15" stroke="#f9fa15" stroke-width="2.2" points="939.0,732.6 938.1,731.5 997.9,1088.9 998.8,1097.7"/>
<polygon fill="#f9fa15" stroke="#f9fa15" stroke-width="2.2" points="939.9,733.6 939.0,732.6 998.8,1097.7 999.7,1106.7"/>
<polygon fill="#f9fa15" stroke="#f9fa15" stroke-width="2.2" points="940.8,734.7 939.9,733.6 999.7,1106.7 1000.6,1115.8"/>
<polygon fill="#f9fa15" stroke="#f9fa15" stroke-width="2.2" points="941.7,735.8 940.8,734.7 1000.6,1115.8 1001.5,1125.1"/>
<polygon fill="#f9fa15" stroke="#f9fa15" stroke-width="2.2" points="942.6,736.9 941.7,735.8 1001.5,1125.1 1002.4,1134.6"/>
<polygon fill="#f9fa15" stroke="#f9fa15" stroke-width="2.2" points="943.5,737.9 942.6,736.9 1002.4,1134.6 1003.3,1144.2"/>
<polygon fill="#f9fa15" stroke="#f9fa15" stroke-width="2.2" points="944.4,739.0 943.5,737.9 1003.3,1144.2 1004.2,1154.1"/>
<polygon fill="#f9fa15" stroke="#f9fa15" stroke-width="2.2" points="945.3,740.1 944.4,739.0 1004.2,1154.1 1005.1,1164.1"/>
<polygon fill="#f9fa15" stroke="#f9fa15" stroke-width="2.2" points="946.2,741.2 945.3,740.1 1005.1,1164.1 1006.0,1174.3"/>
<polygon fill="#f9fa15" stroke="#f9fa15" stroke-width="2.2" points="947.1,742.3 946.2,741.2 1006.0,1174.3 1006.9,1184.7"/>
<polygon fill="#f9fa15" stroke="#f9fa15" stroke-width="2.2" points="948.0,743.3 947.1,742.3 1006.9,1184.7 1007.8,1195.2"/>
<polygon fill="#f9fa15" stroke="#f9fa15" stroke-width="2.2" points="948.9,744.4 948.0,743.3 1007.8,1195.2 1008.7,1206.0"/>
<polygon fill="#f9fa15" stroke="#f9fa15" stroke-width="2.2" points="949.8,745.5 948.9,744.4 1008.7,1206.0 1009.6,1217.0"/>
<polygon fill="#f9fa15" stroke="#f9fa15" stroke-width="2.2" points="950.7,746.6 949.8,745.5 1009.6,1217.0 1010.5,1228.2"/>
<polygon fill="#f9fa15" stroke="#f9fa15" stroke-width="2.2" points="951.6,747.6 950.7,746.6 1010.5,1228.2 1011.4,1239.6"/>
<polygon fill="#f9fa15" stroke="#f9fa15" stroke-width="2.2" points="952.5,748.7 951.6,747.6 1011.4,1239.6 1012.3,1251.3"/>
<polygon fill="#f9fa15" stroke="#f9fa15" stroke-width="2.2" points="953.4,749.8 952.5,748.7 1012.3,1251.3 1013.2,1263.1"/>
<polygon fill="#f9fa15" stroke="#f9fa15" stroke-width="2.2" points="954.3,750.9 953.4,749.8 1013.2,1263.1 1014.1,1275.2"/>
<polygon fill="#f9fa15" stroke="#f9fa15" stroke-width="2.2" points="955.2,752.0 954.3,750.9 1014.1,1275.2 1015.0,1287.5"/>
<polygon fill="#f9fa15" stroke="#f9fa15" stroke-width="2.2" points="956.1,753.0 955.2,752.0 1015.0,1287.5 1015.9,1300.1"/>
<polygon fill="#f9fa15" stroke="#f9fa15" stroke-width="2.2" points="957.0,754.1 956.1,753.0 1015.9,1300.1 1016.8,1312.8"/>
<polygon fill="#f9fa15" stroke="#f9fa15" stroke-width="2.2" points="957.9,755.2 957.0,754.1 1016.8,1312.8 1017.7,1325.9"/>
<polygon fill="#f9fa15" stroke="#f9fa15" stroke-width="2.2" points="958.8,756.3 957.9,755.2 1017.7,1325.9 1018.6,1339.2"/>
<polygon fill="#f9fa15" stroke="#f9fa15" stroke-width="2.2" points="959.7,757.3 958.8,756.3 1018.6,1339.2 1019.5,1352.7"/>
<polygon fill="#f9fa15" stroke="#f9fa15" stroke-width="2.2" points="960.6,758.4 959.7,757.3 1019.5,1352.7 1020.4,1366.5"/>
<polygon fill="#f9fa15" stroke="#f9fa15" stroke-width="2.2" points="961.5,759.5 960.6,758.4 1020.4,1366.5 1021.3,1380.6"/>
<polygon fill="#f9fa15" stroke="#f9fa15" stroke-width="2.2" points="962.4,760.6 961.5,759.5 1021.3,1380.6 1022.2,1394.9"/>
<polygon fill="#f9fa15" stroke="#f9fa15" stroke-width="2.2" points="963.3,761.6 962.4,760.6 1022.2,1394.9 1023.1,1409.6"/>
<polygon fill="#f9fa15" stroke="#f9fa15" stroke-width="2.2" points="964.2,762.7 963.3,761.6 1023.1,1409.6 1024.0,1424.5"/>
<polygon fill="#f9fa15" stroke="#f9fa15" stroke-width="2.2" points="965.1,763.8 964.2,762.7 1024.0,1424.5 1024.9,1439.7"/>
<polygon fill="#f9fa15" stroke="#f9fa15" stroke-width="2.2" points="966.0,764.9 965.1,763.8 1024.9,1439.7 1025.8,1455.2"/>
<polygon fill="#f9fa15" stroke="#f9fa15" stroke-width="2.2" points="966.9,766.0 966.0,764.9 1025.8,1455.2 1026.7,1471.0"/>
<polygon fill="#f9fa15" stroke="#f9fa15" stroke-width="2.2" points="967.8,767.0 966.9,766.0 1026.7,1471.0 1027.6,1487.1"/>
<polygon fill="#f9fa15" stroke="#f9fa15" stroke-width="2.2" points="968.7,768.1 967.8,767.0 1027.6,1487.1 1028.5,1503.5"/>
<polygon fill="#f9fa15" stroke="#f9fa15" stroke-width="2.2" points="969.6,769.2 968.7,768.1 1028.5,1503.5 1029.4,1520.3"/>
<polygon fill="#f9fa15" stroke="#f9fa15" stroke-width="2.2" points="970.5,770.3 969.6,769.2 1029.4,1520.3 1030.3,1537.4"/>
<polygon fill="#f9fa15" stroke="#f9fa15" stroke-width="2.2" points="971.4,771.3 970.5,770.3 1030.3,1537.4 1031.2,1554.8"/>
<polygon fill="#f9fa15" stroke="#f9fa15" stroke-width="2.2" points="972.3,772.4 971.4,771.3 1031.2,1554.8 1032.2,1572.6"/>
<polygon fill="#f9fa15" stroke="#f9fa15" points="912.5,781.7 480.2,264.6 540.0,255.3 972.3,772.4"/>
<polygon fill="#f9fa15" stroke="#f9fa15" points="852.7,791.0 420.4,273.9 480.2,264.6 912.5,781.7"/>
<polygon fill="#f9fa15" stroke="#f9fa15" points="792.8,800.2 360.5,283.1 420.4,273.9 852.7,791.0"/>
<line x1="1614.4" y1="1049" x2="1614.4" y2="1484" stroke="#ffffff" stroke-opacity="0.2" stroke-width="1"/>
</g>
<g><line x1="733.0" y1="1618.9" x2="752.3" y2="1644.5" stroke="#262626" stroke-width="2.0"/>
<line x1="1032.2" y1="1572.6" x2="1051.5" y2="1598.2" stroke="#262626" stroke-width="2.0"/>
<line x1="1331.3" y1="1526.2" x2="1350.6" y2="1551.8" stroke="#262626" stroke-width="2.0"/>
<line x1="1630.4" y1="1479.9" x2="1649.7" y2="1505.5" stroke="#262626" stroke-width="2.0"/>
<line x1="1929.6" y1="1433.5" x2="1948.9" y2="1459.1" stroke="#262626" stroke-width="2.0"/>
<line x1="733.0" y1="1618.9" x2="701.4" y2="1623.9" stroke="#262626" stroke-width="2.0"/>
<line x1="611.6" y1="1474.5" x2="580.0" y2="1479.5" stroke="#262626" stroke-width="2.0"/>
<line x1="491.3" y1="1331.0" x2="459.7" y2="1336.0" stroke="#262626" stroke-width="2.0"/>
<line x1="370.5" y1="1185.9" x2="338.9" y2="1190.9" stroke="#262626" stroke-width="2.0"/>
<line x1="300.7" y1="1101.8" x2="281.7" y2="1078.6" stroke="#262626" stroke-width="2.0"/>
<line x1="300.7" y1="939.9" x2="281.7" y2="916.7" stroke="#262626" stroke-width="2.0"/>
<line x1="300.7" y1="778.0" x2="281.7" y2="754.8" stroke="#262626" stroke-width="2.0"/>
<line x1="300.7" y1="616.2" x2="281.7" y2="593.0" stroke="#262626" stroke-width="2.0"/>
<line x1="300.7" y1="454.3" x2="281.7" y2="431.1" stroke="#262626" stroke-width="2.0"/>
<line x1="300.7" y1="292.4" x2="281.7" y2="269.2" stroke="#262626" stroke-width="2.0"/></g>
<g><defs><linearGradient id="cb" x1="0" y1="0" x2="0" y2="1"><stop offset="0.0000" stop-color="#f9fb15"/><stop offset="0.0159" stop-color="#f7f51b"/><stop offset="0.0317" stop-color="#f6ef20"/><stop offset="0.0476" stop-color="#f5e924"/><stop offset="0.0635" stop-color="#f5e327"/><stop offset="0.0794" stop-color="#f7dc2a"/><stop offset="0.0952" stop-color="#fad62d"/><stop offset="0.1111" stop-color="#fccf30"/><stop offset="0.1270" stop-color="#fec934"/><stop offset="0.1429" stop-color="#fec338"/><stop offset="0.1587" stop-color="#febe3c"/><stop offset="0.1746" stop-color="#f8ba3d"/><stop offset="0.1905" stop-color="#f0ba36"/><stop offset="0.2063" stop-color="#e6bb2d"/><stop offset="0.2222" stop-color="#dcbd29"/><stop offset="0.2381" stop-color="#d1bf27"/><stop offset="0.2540" stop-color="#c5c22a"/><stop offset="0.2698" stop-color="#b9c431"/><stop offset="0.2857" stop-color="#abc739"/><stop offset="0.3016" stop-color="#9dc943"/><stop offset="0.3175" stop-color="#8fcb4e"/><stop offset="0.3333" stop-color="#81cc59"/><stop offset="0.3492" stop-color="#72cd64"/><stop offset="0.3651" stop-color="#64cd6f"/><stop offset="0.3810" stop-color="#57cc7a"/><stop offset="0.3968" stop-color="#4acb84"/><stop offset="0.4127" stop-color="#3fca8e"/><stop offset="0.4286" stop-color="#37c897"/><stop offset="0.4444" stop-color="#31c69f"/><stop offset="0.4603" stop-color="#2cc4a7"/><stop offset="0.4762" stop-color="#24c1ae"/><stop offset="0.4921" stop-color="#19bfb6"/><stop offset="0.5079" stop-color="#0bbdbd"/><stop offset="0.5238" stop-color="#02bac3"/><stop offset="0.5397" stop-color="#01b8ca"/><stop offset="0.5556" stop-color="#08b5d0"/><stop offset="0.5714" stop-color="#12b1d6"/><stop offset="0.5873" stop-color="#18addb"/><stop offset="0.6032" stop-color="#1ca9df"/><stop offset="0.6190" stop-color="#20a5e3"/><stop offset="0.6349" stop-color="#23a0e5"/><stop offset="0.6508" stop-color="#259be8"/><stop offset="0.6667" stop-color="#2797eb"/><stop offset="0.6825" stop-color="#2b91ef"/><stop offset="0.6984" stop-color="#2d8cf3"/><stop offset="0.7143" stop-color="#2e87f7"/><stop offset="0.7302" stop-color="#2f81fa"/><stop offset="0.7460" stop-color="#327cfc"/><stop offset="0.7619" stop-color="#3875fe"/><stop offset="0.7778" stop-color="#3e6fff"/><stop offset="0.7937" stop-color="#4269fe"/><stop offset="0.8095" stop-color="#4563fd"/><stop offset="0.8254" stop-color="#465efb"/><stop offset="0.8413" stop-color="#4758f8"/><stop offset="0.8571" stop-color="#4852f4"/><stop offset="0.8730" stop-color="#484df0"/><stop offset="0.8889" stop-color="#4747eb"/><stop offset="0.9048" stop-color="#4741e5"/><stop offset="0.9206" stop-color="#463cde"/><stop offset="0.9365" stop-color="#4537d5"/><stop offset="0.9524" stop-color="#4332cb"/><stop offset="0.9683" stop-color="#422ec0"/><stop offset="0.9841" stop-color="#402ab4"/><stop offset="1.0000" stop-color="#3e26a8"/></linearGradient></defs>
<rect x="2096.4" y="108.0" width="90.5" height="1510.7" fill="url(#cb)" stroke="#262626" stroke-width="2.0"/>
<line x1="2171.4" y1="1467.6" x2="2186.9" y2="1467.6" stroke="#262626" stroke-width="2.0"/>
<line x1="2171.4" y1="1316.6" x2="2186.9" y2="1316.6" stroke="#262626" stroke-width="2.0"/>
<line x1="2171.4" y1="1165.5" x2="2186.9" y2="1165.5" stroke="#262626" stroke-width="2.0"/>
<line x1="2171.4" y1="1014.4" x2="2186.9" y2="1014.4" stroke="#262626" stroke-width="2.0"/>
<line x1="2171.4" y1="863.4" x2="2186.9" y2="863.4" stroke="#262626" stroke-width="2.0"/>
<line x1="2171.4" y1="712.3" x2="2186.9" y2="712.3" stroke="#262626" stroke-width="2.0"/>
<line x1="2171.4" y1="561.2" x2="2186.9" y2="561.2" stroke="#262626" stroke-width="2.0"/>
<line x1="2171.4" y1="410.1" x2="2186.9" y2="410.1" stroke="#262626" stroke-width="2.0"/>
<line x1="2171.4" y1="259.1" x2="2186.9" y2="259.1" stroke="#262626" stroke-width="2.0"/></g>
<g><text x="765.3" y="1720.7" font-size="59.5" text-anchor="start">0</text>
<text x="1064.5" y="1674.4" font-size="59.5" text-anchor="start">5</text>
<text x="1363.6" y="1628.0" font-size="59.5" text-anchor="start">10</text>
<text x="1662.7" y="1581.7" font-size="59.5" text-anchor="start">15</text>
<text x="1961.9" y="1535.3" font-size="59.5" text-anchor="start">20</text>
<text x="678.9" y="1687.1" font-size="59.5" text-anchor="end">0</text>
<text x="557.5" y="1542.7" font-size="59.5" text-anchor="end">2000</text>
<text x="437.2" y="1399.2" font-size="59.5" text-anchor="end">4000</text>
<text x="316.4" y="1254.1" font-size="59.5" text-anchor="end">6000</text>
<text x="268.0" y="1084.4" font-size="59.5" text-anchor="end">0</text>
<text x="268.0" y="922.5" font-size="59.5" text-anchor="end">2</text>
<text x="268.0" y="760.7" font-size="59.5" text-anchor="end">4</text>
<text x="268.0" y="598.8" font-size="59.5" text-anchor="end">6</text>
<text x="268.0" y="436.9" font-size="59.5" text-anchor="end">8</text>
<text x="268.0" y="275.0" font-size="59.5" text-anchor="end">10</text>
<text x="1199.5" y="1747.3" font-size="65.5" text-anchor="start">length [m]</text>
<text x="177.5" y="1663.3" font-size="65.5" text-anchor="start">time [h]</text>
<text transform="translate(147.7,699.4) rotate(-90)" font-size="65.5" text-anchor="middle">BOD [mg/l]</text>
<text x="2210.5" y="1638.2" font-size="53.5" text-anchor="start">0</text>
<text x="2210.5" y="1487.1" font-size="53.5" text-anchor="start">1</text>
<text x="2210.5" y="1336.1" font-size="53.5" text-anchor="start">2</text>
<text x="2210.5" y="1185.0" font-size="53.5" text-anchor="start">3</text>
<text x="2210.5" y="1033.9" font-size="53.5" text-anchor="start">4</text>
<text x="2210.5" y="882.8" font-size="53.5" text-anchor="start">5</text>
<text x="2210.5" y="731.8" font-size="53.5" text-anchor="start">6</text>
<text x="2210.5" y="580.7" font-size="53.5" text-anchor="start">7</text>
<text x="2210.5" y="429.6" font-size="53.5" text-anchor="start">8</text>
<text x="2210.5" y="278.6" font-size="53.5" text-anchor="start">9</text>
<text x="2210.5" y="127.5" font-size="53.5" text-anchor="start">10</text></g>
</svg></body></html>
